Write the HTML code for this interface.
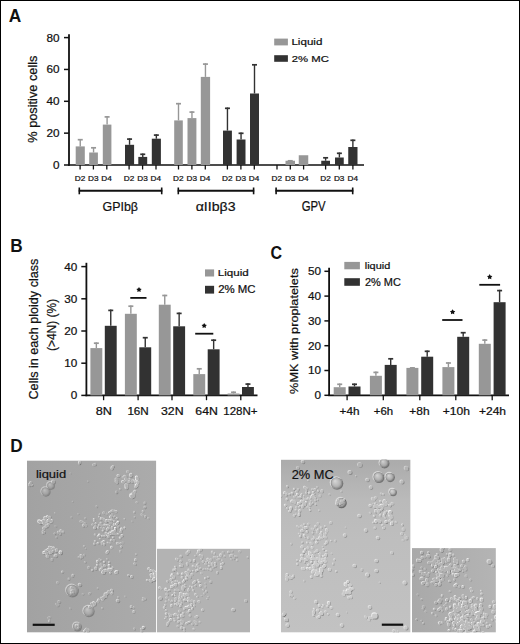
<!DOCTYPE html>
<html><head><meta charset="utf-8"><style>
html,body{margin:0;padding:0;background:#fff;}
body{width:520px;height:644px;overflow:hidden;position:relative;}
.frame{position:absolute;left:0;top:0;width:518px;height:642px;border:1px solid #000;}
svg{position:absolute;left:0;top:0;}
text{font-family:"Liberation Sans",sans-serif;}
</style></head><body>
<svg width="520" height="644" viewBox="0 0 520 644">
<defs><radialGradient id="sph" cx="0.5" cy="0.5" r="0.5" fx="0.35" fy="0.3"><stop offset="0" stop-color="#fff" stop-opacity="0.45"/><stop offset="0.55" stop-color="#fff" stop-opacity="0.05"/><stop offset="0.8" stop-color="#000" stop-opacity="0.08"/><stop offset="1" stop-color="#000" stop-opacity="0.3"/></radialGradient><filter id="soft" x="-5%" y="-5%" width="110%" height="110%"><feGaussianBlur stdDeviation="0.45"/></filter></defs>
<rect x="0" y="0" width="520" height="644" fill="#fff"/>
<text transform="translate(8.72,22.35) scale(0.956,1)" font-size="18.12" font-weight="bold" fill="#111">A</text>
<line x1="69.00" y1="34.30" x2="69.00" y2="165.80" stroke="#111" stroke-width="1.8"/>
<line x1="64.00" y1="165.00" x2="69.00" y2="165.00" stroke="#111" stroke-width="1.5"/>
<text transform="translate(52.99,168.96) scale(1.050,1)" font-size="11.20" stroke="#111" stroke-width="0.22" fill="#111">0</text>
<line x1="64.00" y1="133.15" x2="69.00" y2="133.15" stroke="#111" stroke-width="1.5"/>
<text transform="translate(46.47,137.11) scale(1.050,1)" font-size="11.20" stroke="#111" stroke-width="0.22" fill="#111">20</text>
<line x1="64.00" y1="101.30" x2="69.00" y2="101.30" stroke="#111" stroke-width="1.5"/>
<text transform="translate(46.47,105.26) scale(1.050,1)" font-size="11.20" stroke="#111" stroke-width="0.22" fill="#111">40</text>
<line x1="64.00" y1="69.45" x2="69.00" y2="69.45" stroke="#111" stroke-width="1.5"/>
<text transform="translate(46.47,73.41) scale(1.050,1)" font-size="11.20" stroke="#111" stroke-width="0.22" fill="#111">60</text>
<line x1="64.00" y1="37.60" x2="69.00" y2="37.60" stroke="#111" stroke-width="1.5"/>
<text transform="translate(46.47,41.56) scale(1.050,1)" font-size="11.20" stroke="#111" stroke-width="0.22" fill="#111">80</text>
<line x1="68.20" y1="165.00" x2="364.00" y2="165.00" stroke="#111" stroke-width="1.7"/>
<text transform="translate(36.79,142.70) rotate(-90) scale(1.046,1)" font-size="12.19" stroke="#111" stroke-width="0.22" fill="#111">% positive cells</text>
<rect x="75.70" y="146.40" width="9.10" height="18.60" fill="#979797"/>
<line x1="80.25" y1="146.40" x2="80.25" y2="138.90" stroke="#979797" stroke-width="1.4"/>
<line x1="77.75" y1="139.70" x2="82.75" y2="139.70" stroke="#979797" stroke-width="1.7"/>
<rect x="89.20" y="152.50" width="8.70" height="12.50" fill="#979797"/>
<line x1="93.55" y1="152.50" x2="93.55" y2="147.00" stroke="#979797" stroke-width="1.4"/>
<line x1="91.05" y1="147.80" x2="96.05" y2="147.80" stroke="#979797" stroke-width="1.7"/>
<rect x="102.80" y="124.60" width="8.60" height="40.40" fill="#979797"/>
<line x1="107.10" y1="124.60" x2="107.10" y2="116.10" stroke="#979797" stroke-width="1.4"/>
<line x1="104.60" y1="116.90" x2="109.60" y2="116.90" stroke="#979797" stroke-width="1.7"/>
<rect x="125.00" y="144.80" width="9.10" height="20.20" fill="#323232"/>
<line x1="129.55" y1="144.80" x2="129.55" y2="138.30" stroke="#323232" stroke-width="1.4"/>
<line x1="127.05" y1="139.10" x2="132.05" y2="139.10" stroke="#323232" stroke-width="1.7"/>
<rect x="138.30" y="156.90" width="8.90" height="8.10" fill="#323232"/>
<line x1="142.75" y1="156.90" x2="142.75" y2="153.50" stroke="#323232" stroke-width="1.4"/>
<line x1="140.25" y1="154.30" x2="145.25" y2="154.30" stroke="#323232" stroke-width="1.7"/>
<rect x="151.80" y="138.70" width="9.10" height="26.30" fill="#323232"/>
<line x1="156.35" y1="138.70" x2="156.35" y2="134.30" stroke="#323232" stroke-width="1.4"/>
<line x1="153.85" y1="135.10" x2="158.85" y2="135.10" stroke="#323232" stroke-width="1.7"/>
<rect x="174.20" y="120.40" width="8.60" height="44.60" fill="#979797"/>
<line x1="178.50" y1="120.40" x2="178.50" y2="102.90" stroke="#979797" stroke-width="1.4"/>
<line x1="176.00" y1="103.70" x2="181.00" y2="103.70" stroke="#979797" stroke-width="1.7"/>
<rect x="187.50" y="118.10" width="8.90" height="46.90" fill="#979797"/>
<line x1="191.95" y1="118.10" x2="191.95" y2="111.30" stroke="#979797" stroke-width="1.4"/>
<line x1="189.45" y1="112.10" x2="194.45" y2="112.10" stroke="#979797" stroke-width="1.7"/>
<rect x="200.80" y="76.90" width="9.30" height="88.10" fill="#979797"/>
<line x1="205.45" y1="76.90" x2="205.45" y2="63.30" stroke="#979797" stroke-width="1.4"/>
<line x1="202.95" y1="64.10" x2="207.95" y2="64.10" stroke="#979797" stroke-width="1.7"/>
<rect x="223.00" y="130.60" width="8.90" height="34.40" fill="#323232"/>
<line x1="227.45" y1="130.60" x2="227.45" y2="107.50" stroke="#323232" stroke-width="1.4"/>
<line x1="224.95" y1="108.30" x2="229.95" y2="108.30" stroke="#323232" stroke-width="1.7"/>
<rect x="236.60" y="139.50" width="8.90" height="25.50" fill="#323232"/>
<line x1="241.05" y1="139.50" x2="241.05" y2="132.50" stroke="#323232" stroke-width="1.4"/>
<line x1="238.55" y1="133.30" x2="243.55" y2="133.30" stroke="#323232" stroke-width="1.7"/>
<rect x="250.00" y="93.50" width="9.00" height="71.50" fill="#323232"/>
<line x1="254.50" y1="93.50" x2="254.50" y2="64.00" stroke="#323232" stroke-width="1.4"/>
<line x1="252.00" y1="64.80" x2="257.00" y2="64.80" stroke="#323232" stroke-width="1.7"/>
<rect x="285.50" y="160.75" width="9.50" height="4.25" fill="#979797"/>
<line x1="290.25" y1="160.75" x2="290.25" y2="160.00" stroke="#979797" stroke-width="1.4"/>
<line x1="287.75" y1="160.80" x2="292.75" y2="160.80" stroke="#979797" stroke-width="1.7"/>
<rect x="298.75" y="155.25" width="9.50" height="9.75" fill="#979797"/>
<rect x="321.25" y="160.75" width="8.75" height="4.25" fill="#323232"/>
<line x1="325.62" y1="160.75" x2="325.62" y2="157.00" stroke="#323232" stroke-width="1.4"/>
<line x1="323.12" y1="157.80" x2="328.12" y2="157.80" stroke="#323232" stroke-width="1.7"/>
<rect x="335.00" y="157.50" width="8.75" height="7.50" fill="#323232"/>
<line x1="339.38" y1="157.50" x2="339.38" y2="152.50" stroke="#323232" stroke-width="1.4"/>
<line x1="336.88" y1="153.30" x2="341.88" y2="153.30" stroke="#323232" stroke-width="1.7"/>
<rect x="348.25" y="147.00" width="9.25" height="18.00" fill="#323232"/>
<line x1="352.88" y1="147.00" x2="352.88" y2="139.50" stroke="#323232" stroke-width="1.4"/>
<line x1="350.38" y1="140.30" x2="355.38" y2="140.30" stroke="#323232" stroke-width="1.7"/>
<line x1="80.10" y1="165.00" x2="80.10" y2="169.50" stroke="#111" stroke-width="1.3"/>
<text transform="translate(74.72,180.90) scale(1.100,1)" font-size="7.50" stroke="#111" stroke-width="0.22" fill="#111">D2</text>
<line x1="93.40" y1="165.00" x2="93.40" y2="169.50" stroke="#111" stroke-width="1.3"/>
<text transform="translate(88.00,180.90) scale(1.100,1)" font-size="7.50" stroke="#111" stroke-width="0.22" fill="#111">D3</text>
<line x1="106.80" y1="165.00" x2="106.80" y2="169.50" stroke="#111" stroke-width="1.3"/>
<text transform="translate(101.33,180.90) scale(1.100,1)" font-size="7.50" stroke="#111" stroke-width="0.22" fill="#111">D4</text>
<line x1="129.10" y1="165.00" x2="129.10" y2="169.50" stroke="#111" stroke-width="1.3"/>
<text transform="translate(123.72,180.90) scale(1.100,1)" font-size="7.50" stroke="#111" stroke-width="0.22" fill="#111">D2</text>
<line x1="142.60" y1="165.00" x2="142.60" y2="169.50" stroke="#111" stroke-width="1.3"/>
<text transform="translate(137.20,180.90) scale(1.100,1)" font-size="7.50" stroke="#111" stroke-width="0.22" fill="#111">D3</text>
<line x1="156.00" y1="165.00" x2="156.00" y2="169.50" stroke="#111" stroke-width="1.3"/>
<text transform="translate(150.53,180.90) scale(1.100,1)" font-size="7.50" stroke="#111" stroke-width="0.22" fill="#111">D4</text>
<line x1="178.50" y1="165.00" x2="178.50" y2="169.50" stroke="#111" stroke-width="1.3"/>
<text transform="translate(173.12,180.90) scale(1.100,1)" font-size="7.50" stroke="#111" stroke-width="0.22" fill="#111">D2</text>
<line x1="191.90" y1="165.00" x2="191.90" y2="169.50" stroke="#111" stroke-width="1.3"/>
<text transform="translate(186.50,180.90) scale(1.100,1)" font-size="7.50" stroke="#111" stroke-width="0.22" fill="#111">D3</text>
<line x1="205.30" y1="165.00" x2="205.30" y2="169.50" stroke="#111" stroke-width="1.3"/>
<text transform="translate(199.83,180.90) scale(1.100,1)" font-size="7.50" stroke="#111" stroke-width="0.22" fill="#111">D4</text>
<line x1="227.40" y1="165.00" x2="227.40" y2="169.50" stroke="#111" stroke-width="1.3"/>
<text transform="translate(222.02,180.90) scale(1.100,1)" font-size="7.50" stroke="#111" stroke-width="0.22" fill="#111">D2</text>
<line x1="240.90" y1="165.00" x2="240.90" y2="169.50" stroke="#111" stroke-width="1.3"/>
<text transform="translate(235.50,180.90) scale(1.100,1)" font-size="7.50" stroke="#111" stroke-width="0.22" fill="#111">D3</text>
<line x1="254.30" y1="165.00" x2="254.30" y2="169.50" stroke="#111" stroke-width="1.3"/>
<text transform="translate(248.83,180.90) scale(1.100,1)" font-size="7.50" stroke="#111" stroke-width="0.22" fill="#111">D4</text>
<line x1="277.00" y1="165.00" x2="277.00" y2="169.50" stroke="#111" stroke-width="1.3"/>
<text transform="translate(271.62,180.90) scale(1.100,1)" font-size="7.50" stroke="#111" stroke-width="0.22" fill="#111">D2</text>
<line x1="290.30" y1="165.00" x2="290.30" y2="169.50" stroke="#111" stroke-width="1.3"/>
<text transform="translate(284.90,180.90) scale(1.100,1)" font-size="7.50" stroke="#111" stroke-width="0.22" fill="#111">D3</text>
<line x1="303.60" y1="165.00" x2="303.60" y2="169.50" stroke="#111" stroke-width="1.3"/>
<text transform="translate(298.13,180.90) scale(1.100,1)" font-size="7.50" stroke="#111" stroke-width="0.22" fill="#111">D4</text>
<line x1="325.60" y1="165.00" x2="325.60" y2="169.50" stroke="#111" stroke-width="1.3"/>
<text transform="translate(320.22,180.90) scale(1.100,1)" font-size="7.50" stroke="#111" stroke-width="0.22" fill="#111">D2</text>
<line x1="339.30" y1="165.00" x2="339.30" y2="169.50" stroke="#111" stroke-width="1.3"/>
<text transform="translate(333.90,180.90) scale(1.100,1)" font-size="7.50" stroke="#111" stroke-width="0.22" fill="#111">D3</text>
<line x1="352.90" y1="165.00" x2="352.90" y2="169.50" stroke="#111" stroke-width="1.3"/>
<text transform="translate(347.43,180.90) scale(1.100,1)" font-size="7.50" stroke="#111" stroke-width="0.22" fill="#111">D4</text>
<line x1="78.70" y1="190.80" x2="162.30" y2="190.80" stroke="#111" stroke-width="1.9"/>
<line x1="79.30" y1="187.50" x2="79.30" y2="194.30" stroke="#111" stroke-width="1.6"/>
<line x1="161.70" y1="187.50" x2="161.70" y2="194.30" stroke="#111" stroke-width="1.6"/>
<text transform="translate(102.53,211.20) scale(0.916,1)" font-size="13.59" stroke="#111" stroke-width="0.22" fill="#111">GPIbβ</text>
<line x1="177.70" y1="190.80" x2="254.20" y2="190.80" stroke="#111" stroke-width="1.9"/>
<line x1="178.30" y1="187.50" x2="178.30" y2="194.30" stroke="#111" stroke-width="1.6"/>
<line x1="253.60" y1="187.50" x2="253.60" y2="194.30" stroke="#111" stroke-width="1.6"/>
<text transform="translate(195.68,211.20) scale(1.041,1)" font-size="13.59" stroke="#111" stroke-width="0.22" fill="#111">αIIbβ3</text>
<line x1="275.50" y1="190.80" x2="353.30" y2="190.80" stroke="#111" stroke-width="1.9"/>
<line x1="276.10" y1="187.50" x2="276.10" y2="194.30" stroke="#111" stroke-width="1.6"/>
<line x1="352.70" y1="187.50" x2="352.70" y2="194.30" stroke="#111" stroke-width="1.6"/>
<text transform="translate(301.68,211.20) scale(0.806,1)" font-size="14.07" stroke="#111" stroke-width="0.22" fill="#111">GPV</text>
<rect x="274.20" y="38.60" width="13.70" height="6.80" fill="#979797"/>
<text transform="translate(291.42,45.00) scale(1.193,1)" font-size="9.72" stroke="#111" stroke-width="0.22" fill="#111">Liquid</text>
<rect x="274.20" y="55.20" width="13.70" height="6.60" fill="#323232"/>
<text transform="translate(291.78,61.70) scale(1.175,1)" font-size="9.64" stroke="#111" stroke-width="0.22" fill="#111">2% MC</text>
<text transform="translate(10.13,251.50) scale(0.950,1)" font-size="18.12" font-weight="bold" fill="#111">B</text>
<line x1="86.40" y1="262.80" x2="86.40" y2="396.20" stroke="#111" stroke-width="1.8"/>
<line x1="81.30" y1="395.40" x2="86.40" y2="395.40" stroke="#111" stroke-width="1.5"/>
<text transform="translate(70.69,399.36) scale(1.050,1)" font-size="11.20" stroke="#111" stroke-width="0.22" fill="#111">0</text>
<line x1="81.30" y1="363.20" x2="86.40" y2="363.20" stroke="#111" stroke-width="1.5"/>
<text transform="translate(64.17,367.16) scale(1.050,1)" font-size="11.20" stroke="#111" stroke-width="0.22" fill="#111">10</text>
<line x1="81.30" y1="331.00" x2="86.40" y2="331.00" stroke="#111" stroke-width="1.5"/>
<text transform="translate(64.17,334.96) scale(1.050,1)" font-size="11.20" stroke="#111" stroke-width="0.22" fill="#111">20</text>
<line x1="81.30" y1="298.80" x2="86.40" y2="298.80" stroke="#111" stroke-width="1.5"/>
<text transform="translate(64.17,302.76) scale(1.050,1)" font-size="11.20" stroke="#111" stroke-width="0.22" fill="#111">30</text>
<line x1="81.30" y1="266.60" x2="86.40" y2="266.60" stroke="#111" stroke-width="1.5"/>
<text transform="translate(64.17,270.56) scale(1.050,1)" font-size="11.20" stroke="#111" stroke-width="0.22" fill="#111">40</text>
<line x1="85.60" y1="395.40" x2="257.50" y2="395.40" stroke="#111" stroke-width="1.7"/>
<text transform="translate(37.68,399.48) rotate(-90) scale(0.992,1)" font-size="12.73" stroke="#111" stroke-width="0.22" fill="#111">Cells in each ploidy class</text>
<text transform="translate(56.20,351.07) rotate(-90) scale(0.884,1)" font-size="13.58" stroke="#111" stroke-width="0.22" fill="#111">(&gt;4N) (%)</text>
<rect x="90.40" y="348.10" width="11.90" height="47.30" fill="#979797"/>
<line x1="96.35" y1="348.10" x2="96.35" y2="342.40" stroke="#979797" stroke-width="1.4"/>
<line x1="93.85" y1="343.20" x2="98.85" y2="343.20" stroke="#979797" stroke-width="1.7"/>
<rect x="104.80" y="325.80" width="11.90" height="69.60" fill="#323232"/>
<line x1="110.75" y1="325.80" x2="110.75" y2="309.60" stroke="#323232" stroke-width="1.4"/>
<line x1="108.25" y1="310.40" x2="113.25" y2="310.40" stroke="#323232" stroke-width="1.7"/>
<line x1="103.60" y1="395.40" x2="103.60" y2="400.20" stroke="#111" stroke-width="1.3"/>
<text transform="translate(95.68,415.00) scale(1.193,1)" font-size="10.64" stroke="#111" stroke-width="0.22" fill="#111">8N</text>
<rect x="124.90" y="313.80" width="11.90" height="81.60" fill="#979797"/>
<line x1="130.85" y1="313.80" x2="130.85" y2="305.40" stroke="#979797" stroke-width="1.4"/>
<line x1="128.35" y1="306.20" x2="133.35" y2="306.20" stroke="#979797" stroke-width="1.7"/>
<rect x="139.30" y="347.30" width="11.90" height="48.10" fill="#323232"/>
<line x1="145.25" y1="347.30" x2="145.25" y2="336.90" stroke="#323232" stroke-width="1.4"/>
<line x1="142.75" y1="337.70" x2="147.75" y2="337.70" stroke="#323232" stroke-width="1.7"/>
<line x1="138.10" y1="395.40" x2="138.10" y2="400.20" stroke="#111" stroke-width="1.3"/>
<text transform="translate(127.38,415.00) scale(1.094,1)" font-size="10.64" stroke="#111" stroke-width="0.22" fill="#111">16N</text>
<rect x="158.80" y="304.70" width="11.90" height="90.70" fill="#979797"/>
<line x1="164.75" y1="304.70" x2="164.75" y2="294.70" stroke="#979797" stroke-width="1.4"/>
<line x1="162.25" y1="295.50" x2="167.25" y2="295.50" stroke="#979797" stroke-width="1.7"/>
<rect x="173.20" y="326.30" width="11.90" height="69.10" fill="#323232"/>
<line x1="179.15" y1="326.30" x2="179.15" y2="312.60" stroke="#323232" stroke-width="1.4"/>
<line x1="176.65" y1="313.40" x2="181.65" y2="313.40" stroke="#323232" stroke-width="1.7"/>
<line x1="172.00" y1="395.40" x2="172.00" y2="400.20" stroke="#111" stroke-width="1.3"/>
<text transform="translate(160.96,415.00) scale(1.159,1)" font-size="10.64" stroke="#111" stroke-width="0.22" fill="#111">32N</text>
<rect x="193.30" y="374.10" width="11.90" height="21.30" fill="#979797"/>
<line x1="199.25" y1="374.10" x2="199.25" y2="368.00" stroke="#979797" stroke-width="1.4"/>
<line x1="196.75" y1="368.80" x2="201.75" y2="368.80" stroke="#979797" stroke-width="1.7"/>
<rect x="207.70" y="349.30" width="11.90" height="46.10" fill="#323232"/>
<line x1="213.65" y1="349.30" x2="213.65" y2="339.40" stroke="#323232" stroke-width="1.4"/>
<line x1="211.15" y1="340.20" x2="216.15" y2="340.20" stroke="#323232" stroke-width="1.7"/>
<line x1="206.50" y1="395.40" x2="206.50" y2="400.20" stroke="#111" stroke-width="1.3"/>
<text transform="translate(195.34,415.00) scale(1.155,1)" font-size="10.64" stroke="#111" stroke-width="0.22" fill="#111">64N</text>
<rect x="227.60" y="393.50" width="11.90" height="1.90" fill="#979797"/>
<line x1="233.55" y1="393.50" x2="233.55" y2="391.50" stroke="#979797" stroke-width="1.4"/>
<line x1="231.05" y1="392.30" x2="236.05" y2="392.30" stroke="#979797" stroke-width="1.7"/>
<rect x="242.00" y="387.00" width="11.90" height="8.40" fill="#323232"/>
<line x1="247.95" y1="387.00" x2="247.95" y2="383.30" stroke="#323232" stroke-width="1.4"/>
<line x1="245.45" y1="384.10" x2="250.45" y2="384.10" stroke="#323232" stroke-width="1.7"/>
<line x1="240.80" y1="395.40" x2="240.80" y2="400.20" stroke="#111" stroke-width="1.3"/>
<text transform="translate(223.28,415.00) scale(1.085,1)" font-size="10.64" stroke="#111" stroke-width="0.22" fill="#111">128N+</text>
<line x1="130.30" y1="297.90" x2="146.50" y2="297.90" stroke="#111" stroke-width="1.8"/>
<polygon points="139.00,287.00 139.91,288.55 141.66,288.93 140.46,290.28 140.65,292.07 139.00,291.34 137.35,292.07 137.54,290.28 136.34,288.93 138.09,288.55" fill="#111"/>
<line x1="195.20" y1="333.70" x2="213.30" y2="333.70" stroke="#111" stroke-width="1.8"/>
<polygon points="204.20,323.00 205.11,324.55 206.86,324.93 205.66,326.28 205.85,328.07 204.20,327.34 202.55,328.07 202.74,326.28 201.54,324.93 203.29,324.55" fill="#111"/>
<rect x="205.00" y="269.40" width="9.10" height="7.10" fill="#979797"/>
<text transform="translate(217.82,276.00) scale(1.177,1)" font-size="9.86" stroke="#111" stroke-width="0.22" fill="#111">Liquid</text>
<rect x="205.00" y="285.80" width="9.10" height="7.80" fill="#323232"/>
<text transform="translate(218.18,292.70) scale(1.119,1)" font-size="10.21" stroke="#111" stroke-width="0.22" fill="#111">2% MC</text>
<text transform="translate(270.61,258.82) scale(0.886,1)" font-size="18.10" font-weight="bold" fill="#111">C</text>
<line x1="329.10" y1="267.80" x2="329.10" y2="396.10" stroke="#111" stroke-width="1.8"/>
<line x1="324.40" y1="395.30" x2="329.10" y2="395.30" stroke="#111" stroke-width="1.5"/>
<text transform="translate(314.59,399.26) scale(1.050,1)" font-size="11.20" stroke="#111" stroke-width="0.22" fill="#111">0</text>
<line x1="324.40" y1="370.50" x2="329.10" y2="370.50" stroke="#111" stroke-width="1.5"/>
<text transform="translate(308.07,374.46) scale(1.050,1)" font-size="11.20" stroke="#111" stroke-width="0.22" fill="#111">10</text>
<line x1="324.40" y1="345.70" x2="329.10" y2="345.70" stroke="#111" stroke-width="1.5"/>
<text transform="translate(308.07,349.66) scale(1.050,1)" font-size="11.20" stroke="#111" stroke-width="0.22" fill="#111">20</text>
<line x1="324.40" y1="320.90" x2="329.10" y2="320.90" stroke="#111" stroke-width="1.5"/>
<text transform="translate(308.07,324.86) scale(1.050,1)" font-size="11.20" stroke="#111" stroke-width="0.22" fill="#111">30</text>
<line x1="324.40" y1="296.10" x2="329.10" y2="296.10" stroke="#111" stroke-width="1.5"/>
<text transform="translate(308.07,300.06) scale(1.050,1)" font-size="11.20" stroke="#111" stroke-width="0.22" fill="#111">40</text>
<line x1="324.40" y1="271.30" x2="329.10" y2="271.30" stroke="#111" stroke-width="1.5"/>
<text transform="translate(308.07,275.26) scale(1.050,1)" font-size="11.20" stroke="#111" stroke-width="0.22" fill="#111">50</text>
<line x1="328.30" y1="395.30" x2="509.00" y2="395.30" stroke="#111" stroke-width="1.7"/>
<text transform="translate(297.91,393.89) rotate(-90) scale(1.143,1)" font-size="11.12" stroke="#111" stroke-width="0.22" fill="#111">%MK with proplatelets</text>
<rect x="333.70" y="387.20" width="12.00" height="8.10" fill="#979797"/>
<line x1="339.70" y1="387.20" x2="339.70" y2="383.50" stroke="#979797" stroke-width="1.4"/>
<line x1="337.20" y1="384.30" x2="342.20" y2="384.30" stroke="#979797" stroke-width="1.7"/>
<rect x="348.50" y="386.50" width="12.00" height="8.80" fill="#323232"/>
<line x1="354.50" y1="386.50" x2="354.50" y2="383.50" stroke="#323232" stroke-width="1.4"/>
<line x1="352.00" y1="384.30" x2="357.00" y2="384.30" stroke="#323232" stroke-width="1.7"/>
<line x1="347.10" y1="395.30" x2="347.10" y2="400.30" stroke="#111" stroke-width="1.3"/>
<text transform="translate(339.56,414.90) scale(1.161,1)" font-size="10.14" stroke="#111" stroke-width="0.22" fill="#111">+4h</text>
<rect x="369.90" y="375.80" width="12.00" height="19.50" fill="#979797"/>
<line x1="375.90" y1="375.80" x2="375.90" y2="371.60" stroke="#979797" stroke-width="1.4"/>
<line x1="373.40" y1="372.40" x2="378.40" y2="372.40" stroke="#979797" stroke-width="1.7"/>
<rect x="384.70" y="364.90" width="12.00" height="30.40" fill="#323232"/>
<line x1="390.70" y1="364.90" x2="390.70" y2="358.00" stroke="#323232" stroke-width="1.4"/>
<line x1="388.20" y1="358.80" x2="393.20" y2="358.80" stroke="#323232" stroke-width="1.7"/>
<line x1="383.30" y1="395.30" x2="383.30" y2="400.30" stroke="#111" stroke-width="1.3"/>
<text transform="translate(373.78,414.90) scale(1.124,1)" font-size="10.14" stroke="#111" stroke-width="0.22" fill="#111">+6h</text>
<rect x="406.40" y="367.90" width="12.00" height="27.40" fill="#979797"/>
<line x1="412.40" y1="367.90" x2="412.40" y2="367.10" stroke="#979797" stroke-width="1.4"/>
<line x1="409.90" y1="367.90" x2="414.90" y2="367.90" stroke="#979797" stroke-width="1.7"/>
<rect x="421.20" y="356.70" width="12.00" height="38.60" fill="#323232"/>
<line x1="427.20" y1="356.70" x2="427.20" y2="350.50" stroke="#323232" stroke-width="1.4"/>
<line x1="424.70" y1="351.30" x2="429.70" y2="351.30" stroke="#323232" stroke-width="1.7"/>
<line x1="419.80" y1="395.30" x2="419.80" y2="400.30" stroke="#111" stroke-width="1.3"/>
<text transform="translate(409.35,414.90) scale(1.180,1)" font-size="10.14" stroke="#111" stroke-width="0.22" fill="#111">+8h</text>
<rect x="442.40" y="367.10" width="12.00" height="28.20" fill="#979797"/>
<line x1="448.40" y1="367.10" x2="448.40" y2="362.20" stroke="#979797" stroke-width="1.4"/>
<line x1="445.90" y1="363.00" x2="450.90" y2="363.00" stroke="#979797" stroke-width="1.7"/>
<rect x="457.20" y="336.80" width="12.00" height="58.50" fill="#323232"/>
<line x1="463.20" y1="336.80" x2="463.20" y2="331.90" stroke="#323232" stroke-width="1.4"/>
<line x1="460.70" y1="332.70" x2="465.70" y2="332.70" stroke="#323232" stroke-width="1.7"/>
<line x1="455.80" y1="395.30" x2="455.80" y2="400.30" stroke="#111" stroke-width="1.3"/>
<text transform="translate(442.75,414.90) scale(1.192,1)" font-size="10.14" stroke="#111" stroke-width="0.22" fill="#111">+10h</text>
<rect x="478.80" y="343.80" width="12.00" height="51.50" fill="#979797"/>
<line x1="484.80" y1="343.80" x2="484.80" y2="339.30" stroke="#979797" stroke-width="1.4"/>
<line x1="482.30" y1="340.10" x2="487.30" y2="340.10" stroke="#979797" stroke-width="1.7"/>
<rect x="493.60" y="302.20" width="12.00" height="93.10" fill="#323232"/>
<line x1="499.60" y1="302.20" x2="499.60" y2="289.80" stroke="#323232" stroke-width="1.4"/>
<line x1="497.10" y1="290.60" x2="502.10" y2="290.60" stroke="#323232" stroke-width="1.7"/>
<line x1="492.20" y1="395.30" x2="492.20" y2="400.30" stroke="#111" stroke-width="1.3"/>
<text transform="translate(478.95,414.90) scale(1.187,1)" font-size="10.14" stroke="#111" stroke-width="0.22" fill="#111">+24h</text>
<line x1="442.20" y1="320.00" x2="462.50" y2="320.00" stroke="#111" stroke-width="1.8"/>
<polygon points="452.60,309.20 453.51,310.75 455.26,311.13 454.06,312.48 454.25,314.27 452.60,313.54 450.95,314.27 451.14,312.48 449.94,311.13 451.69,310.75" fill="#111"/>
<line x1="479.30" y1="284.80" x2="500.10" y2="284.80" stroke="#111" stroke-width="1.8"/>
<polygon points="489.70,274.10 490.61,275.65 492.36,276.03 491.16,277.38 491.35,279.17 489.70,278.44 488.05,279.17 488.24,277.38 487.04,276.03 488.79,275.65" fill="#111"/>
<rect x="344.30" y="261.90" width="15.60" height="7.40" fill="#979797"/>
<text transform="translate(364.74,268.60) scale(1.108,1)" font-size="9.86" stroke="#111" stroke-width="0.22" fill="#111">liquid</text>
<rect x="344.30" y="278.20" width="15.60" height="7.60" fill="#323232"/>
<text transform="translate(364.90,285.70) scale(1.016,1)" font-size="10.79" stroke="#111" stroke-width="0.22" fill="#111">2% MC</text>
<text transform="translate(10.13,451.75) scale(0.951,1)" font-size="18.12" font-weight="bold" fill="#111">D</text>
<clipPath id="cp1"><rect x="26.9" y="460.4" width="129.40" height="172.20"/></clipPath>
<g clip-path="url(#cp1)">
<linearGradient id="lg1" gradientUnits="userSpaceOnUse" x1="26.9" y1="0" x2="156.3" y2="0"><stop offset="0.000" stop-color="#a2a2a2"/><stop offset="1.000" stop-color="#ababab"/></linearGradient>
<rect x="26.9" y="460.4" width="129.40" height="172.20" fill="url(#lg1)"/>
<g filter="url(#soft)">
<circle cx="46.1" cy="492.1" r="4.6" fill="#383838" fill-opacity="0.30"/>
<circle cx="44.9" cy="490.9" r="4.6" fill="#ffffff" fill-opacity="0.40"/>
<circle cx="45.5" cy="491.5" r="4.0" fill="#a7a7a7"/>
<circle cx="45.5" cy="491.5" r="4.0" fill="url(#sph)" opacity="0.60"/>
<circle cx="51.1" cy="486.1" r="3.8" fill="#383838" fill-opacity="0.30"/>
<circle cx="49.9" cy="484.9" r="3.8" fill="#ffffff" fill-opacity="0.40"/>
<circle cx="50.5" cy="485.5" r="3.2" fill="#a8a8a8"/>
<circle cx="50.5" cy="485.5" r="3.2" fill="url(#sph)" opacity="0.60"/>
<circle cx="72.6" cy="591.1" r="6.3" fill="#383838" fill-opacity="0.35"/>
<circle cx="71.4" cy="589.9" r="6.3" fill="#ffffff" fill-opacity="0.45"/>
<circle cx="72.0" cy="590.5" r="5.7" fill="#ababab"/>
<circle cx="72.0" cy="590.5" r="5.7" fill="url(#sph)" opacity="0.70"/>
<circle cx="89.1" cy="611.6" r="5.6" fill="#383838" fill-opacity="0.35"/>
<circle cx="87.9" cy="610.4" r="5.6" fill="#ffffff" fill-opacity="0.45"/>
<circle cx="88.5" cy="611.0" r="5.0" fill="#acacac"/>
<circle cx="88.5" cy="611.0" r="5.0" fill="url(#sph)" opacity="0.70"/>
<circle cx="77.6" cy="627.1" r="4.4" fill="#383838" fill-opacity="0.35"/>
<circle cx="76.4" cy="625.9" r="4.4" fill="#ffffff" fill-opacity="0.45"/>
<circle cx="77.0" cy="626.5" r="3.8" fill="#ababab"/>
<circle cx="77.0" cy="626.5" r="3.8" fill="url(#sph)" opacity="0.70"/>
<path fill="#404040" fill-opacity="0.1" d="M124.8 597.2a.8 .8 0 1 0 1.7 0a.8 .8 0 1 0 -1.7 0M54.8 513.7a.6 .6 0 1 0 1.3 0a.6 .6 0 1 0 -1.3 0M88.1 630.7a1 1 0 1 0 1.9 0a1 1 0 1 0 -1.9 0M119.9 552a.9 .9 0 1 0 1.7 0a.9 .9 0 1 0 -1.7 0M85.1 518.9a.9 .9 0 1 0 1.7 0a.9 .9 0 1 0 -1.7 0M49.9 474.4a.6 .6 0 1 0 1.2 0a.6 .6 0 1 0 -1.2 0"/>
<path fill="#404040" fill-opacity="0.2" d="M48.4 520.6a1.6 1.6 0 1 0 3.2 0a1.6 1.6 0 1 0 -3.2 0M42.4 521.6a1.3 1.3 0 1 0 2.5 0a1.3 1.3 0 1 0 -2.5 0M50.1 521.8a1.7 1.7 0 1 0 3.3 0a1.7 1.7 0 1 0 -3.3 0M47.2 526.2a1.2 1.2 0 1 0 2.4 0a1.2 1.2 0 1 0 -2.4 0M44.2 518.7a1.8 1.8 0 1 0 3.6 0a1.8 1.8 0 1 0 -3.6 0M46.8 517.2a1.2 1.2 0 1 0 2.4 0a1.2 1.2 0 1 0 -2.4 0M43.2 529a1.4 1.4 0 1 0 2.7 0a1.4 1.4 0 1 0 -2.7 0M47.6 524.8a1.3 1.3 0 1 0 2.6 0a1.3 1.3 0 1 0 -2.6 0M38.6 522.6a1.8 1.8 0 1 0 3.6 0a1.8 1.8 0 1 0 -3.6 0M62.3 532.7a1.3 1.3 0 1 0 2.6 0a1.3 1.3 0 1 0 -2.6 0M122.6 482.7a1.3 1.3 0 1 0 2.5 0a1.3 1.3 0 1 0 -2.5 0M124.8 479.5a1.6 1.6 0 1 0 3.3 0a1.6 1.6 0 1 0 -3.3 0M133.3 481.6a1 1 0 1 0 1.9 0a1 1 0 1 0 -1.9 0M137.2 483a1.4 1.4 0 1 0 2.7 0a1.4 1.4 0 1 0 -2.7 0M135.6 486a1.8 1.8 0 1 0 3.6 0a1.8 1.8 0 1 0 -3.6 0M134.1 492a1.3 1.3 0 1 0 2.7 0a1.3 1.3 0 1 0 -2.7 0M130.3 496.4a1.7 1.7 0 1 0 3.3 0a1.7 1.7 0 1 0 -3.3 0M136.3 503a1 1 0 1 0 2 0a1 1 0 1 0 -2 0M132.3 493.8a1.2 1.2 0 1 0 2.5 0a1.2 1.2 0 1 0 -2.5 0M132.9 495.2a1.4 1.4 0 1 0 2.7 0a1.4 1.4 0 1 0 -2.7 0M142.1 516.2a1.1 1.1 0 1 0 2.2 0a1.1 1.1 0 1 0 -2.2 0M142.5 511.7a.9 .9 0 1 0 1.8 0a.9 .9 0 1 0 -1.8 0M148.1 518.8a1 1 0 1 0 2 0a1 1 0 1 0 -2 0M141.3 515.2a.9 .9 0 1 0 1.7 0a.9 .9 0 1 0 -1.7 0M134.1 512.8a.9 .9 0 1 0 1.7 0a.9 .9 0 1 0 -1.7 0M142.6 512.4a.8 .8 0 1 0 1.7 0a.8 .8 0 1 0 -1.7 0M109.1 521.1a1 1 0 1 0 2.1 0a1 1 0 1 0 -2.1 0M107.1 529.4a1.2 1.2 0 1 0 2.4 0a1.2 1.2 0 1 0 -2.4 0M94.6 535.3a1 1 0 1 0 2 0a1 1 0 1 0 -2 0M115.6 534.5a1 1 0 1 0 2.1 0a1 1 0 1 0 -2.1 0M101.5 543.5a1.1 1.1 0 1 0 2.2 0a1.1 1.1 0 1 0 -2.2 0M120.2 532.5a1.2 1.2 0 1 0 2.4 0a1.2 1.2 0 1 0 -2.4 0M114 532.5a1 1 0 1 0 1.9 0a1 1 0 1 0 -1.9 0M98.8 536.5a1.1 1.1 0 1 0 2.2 0a1.1 1.1 0 1 0 -2.2 0M102.2 519.3a.9 .9 0 1 0 1.8 0a.9 .9 0 1 0 -1.8 0M109.2 533.7a1.1 1.1 0 1 0 2.1 0a1.1 1.1 0 1 0 -2.1 0M103.7 520.4a.9 .9 0 1 0 1.8 0a.9 .9 0 1 0 -1.8 0M124.3 519.6a.7 .7 0 1 0 1.5 0a.7 .7 0 1 0 -1.5 0M97.7 537a.8 .8 0 1 0 1.5 0a.8 .8 0 1 0 -1.5 0M119.6 538.5a1.1 1.1 0 1 0 2.2 0a1.1 1.1 0 1 0 -2.2 0M110.6 541.1a.9 .9 0 1 0 1.8 0a.9 .9 0 1 0 -1.8 0M103.1 542.1a1.2 1.2 0 1 0 2.4 0a1.2 1.2 0 1 0 -2.4 0M105.4 533.9a1.3 1.3 0 1 0 2.6 0a1.3 1.3 0 1 0 -2.6 0M113.6 533.7a1.2 1.2 0 1 0 2.3 0a1.2 1.2 0 1 0 -2.3 0M106.4 514.5a.9 .9 0 1 0 1.8 0a.9 .9 0 1 0 -1.8 0M116.2 524.6a1.3 1.3 0 1 0 2.5 0a1.3 1.3 0 1 0 -2.5 0M113.7 525.6a1 1 0 1 0 1.9 0a1 1 0 1 0 -1.9 0M111.3 532.6a1.2 1.2 0 1 0 2.4 0a1.2 1.2 0 1 0 -2.4 0M104.9 526.1a1.2 1.2 0 1 0 2.4 0a1.2 1.2 0 1 0 -2.4 0M111.1 547.9a1.1 1.1 0 1 0 2.1 0a1.1 1.1 0 1 0 -2.1 0M94.4 527.9a1.3 1.3 0 1 0 2.5 0a1.3 1.3 0 1 0 -2.5 0M116.8 544.1a1.4 1.4 0 1 0 2.8 0a1.4 1.4 0 1 0 -2.8 0M111.1 540.9a.9 .9 0 1 0 1.8 0a.9 .9 0 1 0 -1.8 0M106.7 535.2a1.2 1.2 0 1 0 2.3 0a1.2 1.2 0 1 0 -2.3 0M117.3 534.8a1.1 1.1 0 1 0 2.2 0a1.1 1.1 0 1 0 -2.2 0M103.4 526.2a.8 .8 0 1 0 1.7 0a.8 .8 0 1 0 -1.7 0M111.1 520.6a1.1 1.1 0 1 0 2.1 0a1.1 1.1 0 1 0 -2.1 0M97.3 543.9a1.2 1.2 0 1 0 2.4 0a1.2 1.2 0 1 0 -2.4 0M107.5 543.3a.8 .8 0 1 0 1.6 0a.8 .8 0 1 0 -1.6 0M115.5 512.2a1.3 1.3 0 1 0 2.6 0a1.3 1.3 0 1 0 -2.6 0M93.6 519.7a.9 .9 0 1 0 1.8 0a.9 .9 0 1 0 -1.8 0M103 529.4a1.3 1.3 0 1 0 2.6 0a1.3 1.3 0 1 0 -2.6 0M115 534.5a1 1 0 1 0 2.1 0a1 1 0 1 0 -2.1 0M110.1 523.6a1.1 1.1 0 1 0 2.3 0a1.1 1.1 0 1 0 -2.3 0M95.4 524a.9 .9 0 1 0 1.9 0a.9 .9 0 1 0 -1.9 0M110.7 534a1.2 1.2 0 1 0 2.3 0a1.2 1.2 0 1 0 -2.3 0M94.6 541.9a1.1 1.1 0 1 0 2.2 0a1.1 1.1 0 1 0 -2.2 0M102.5 536.6a1 1 0 1 0 2 0a1 1 0 1 0 -2 0M111.5 515.5a1.1 1.1 0 1 0 2.3 0a1.1 1.1 0 1 0 -2.3 0M117.5 522.9a.9 .9 0 1 0 1.9 0a.9 .9 0 1 0 -1.9 0M120.3 544a.9 .9 0 1 0 1.8 0a.9 .9 0 1 0 -1.8 0M93.7 521.6a.8 .8 0 1 0 1.7 0a.8 .8 0 1 0 -1.7 0M109.1 528.6a.8 .8 0 1 0 1.7 0a.8 .8 0 1 0 -1.7 0M99.9 539.3a.8 .8 0 1 0 1.6 0a.8 .8 0 1 0 -1.6 0M97.8 528.3a1 1 0 1 0 2 0a1 1 0 1 0 -2 0M108.4 521.5a1.1 1.1 0 1 0 2.2 0a1.1 1.1 0 1 0 -2.2 0M47.3 550a1.2 1.2 0 1 0 2.4 0a1.2 1.2 0 1 0 -2.4 0M50.9 550.4a1.2 1.2 0 1 0 2.3 0a1.2 1.2 0 1 0 -2.3 0M59.5 553.1a1.6 1.6 0 1 0 3.1 0a1.6 1.6 0 1 0 -3.1 0M49.6 549.9a1 1 0 1 0 2 0a1 1 0 1 0 -2 0M46.5 557a1.6 1.6 0 1 0 3.2 0a1.6 1.6 0 1 0 -3.2 0M45.5 553.9a1.6 1.6 0 1 0 3.2 0a1.6 1.6 0 1 0 -3.2 0M49.6 552.9a1.6 1.6 0 1 0 3.1 0a1.6 1.6 0 1 0 -3.1 0M50.8 547.9a1.2 1.2 0 1 0 2.4 0a1.2 1.2 0 1 0 -2.4 0M47.6 550.4a1.4 1.4 0 1 0 2.8 0a1.4 1.4 0 1 0 -2.8 0M78.4 557.7a1 1 0 1 0 2 0a1 1 0 1 0 -2 0M96.7 565.7a1.1 1.1 0 1 0 2.2 0a1.1 1.1 0 1 0 -2.2 0M110.1 570.1a1.5 1.5 0 1 0 3 0a1.5 1.5 0 1 0 -3 0M107.1 571.9a1.1 1.1 0 1 0 2.3 0a1.1 1.1 0 1 0 -2.3 0M96.9 562a1.1 1.1 0 1 0 2.1 0a1.1 1.1 0 1 0 -2.1 0M100.4 565.5a1.1 1.1 0 1 0 2.2 0a1.1 1.1 0 1 0 -2.2 0M101.8 572.8a1.6 1.6 0 1 0 3.3 0a1.6 1.6 0 1 0 -3.3 0M109.3 570.2a1.1 1.1 0 1 0 2.2 0a1.1 1.1 0 1 0 -2.2 0M135 560.4a1.1 1.1 0 1 0 2.1 0a1.1 1.1 0 1 0 -2.1 0M70.9 592a1 1 0 1 0 1.9 0a1 1 0 1 0 -1.9 0M56.8 583.3a1.2 1.2 0 1 0 2.5 0a1.2 1.2 0 1 0 -2.5 0M55.8 604.7a1 1 0 1 0 2 0a1 1 0 1 0 -2 0M58.3 602.4a1.3 1.3 0 1 0 2.5 0a1.3 1.3 0 1 0 -2.5 0M88.7 607.6a1.3 1.3 0 1 0 2.6 0a1.3 1.3 0 1 0 -2.6 0M94.7 604.7a.9 .9 0 1 0 1.8 0a.9 .9 0 1 0 -1.8 0M97.6 602a1.2 1.2 0 1 0 2.5 0a1.2 1.2 0 1 0 -2.5 0M101.7 599.7a1.4 1.4 0 1 0 2.7 0a1.4 1.4 0 1 0 -2.7 0M100.6 598.5a.9 .9 0 1 0 1.8 0a.9 .9 0 1 0 -1.8 0M105.8 595.5a1.1 1.1 0 1 0 2.2 0a1.1 1.1 0 1 0 -2.2 0M110.9 590.9a1.3 1.3 0 1 0 2.7 0a1.3 1.3 0 1 0 -2.7 0M111 593.9a1.3 1.3 0 1 0 2.6 0a1.3 1.3 0 1 0 -2.6 0M133 608.2a1.1 1.1 0 1 0 2.2 0a1.1 1.1 0 1 0 -2.2 0M133.3 612.3a1.1 1.1 0 1 0 2.1 0a1.1 1.1 0 1 0 -2.1 0M142.5 600.8a1 1 0 1 0 2.1 0a1 1 0 1 0 -2.1 0M48.8 621.5a1.1 1.1 0 1 0 2.1 0a1.1 1.1 0 1 0 -2.1 0M49 618.1a1.2 1.2 0 1 0 2.4 0a1.2 1.2 0 1 0 -2.4 0M47.9 618.6a1.1 1.1 0 1 0 2.2 0a1.1 1.1 0 1 0 -2.2 0M140.8 629.6a1 1 0 1 0 2.1 0a1 1 0 1 0 -2.1 0M101.8 608.8a1 1 0 1 0 2.1 0a1 1 0 1 0 -2.1 0M72.6 502.2a.6 .6 0 1 0 1.2 0a.6 .6 0 1 0 -1.2 0M71.2 517.9a.9 .9 0 1 0 1.8 0a.9 .9 0 1 0 -1.8 0M70.3 474.1a.8 .8 0 1 0 1.6 0a.8 .8 0 1 0 -1.6 0M117.9 597.9a.8 .8 0 1 0 1.6 0a.8 .8 0 1 0 -1.6 0M51.5 560.3a1.1 1.1 0 1 0 2.1 0a1.1 1.1 0 1 0 -2.1 0M93.7 606.6a.7 .7 0 1 0 1.5 0a.7 .7 0 1 0 -1.5 0M119.8 489.7a.8 .8 0 1 0 1.7 0a.8 .8 0 1 0 -1.7 0M87.7 482.1a.8 .8 0 1 0 1.6 0a.8 .8 0 1 0 -1.6 0M82.4 594.8a1.1 1.1 0 1 0 2.2 0a1.1 1.1 0 1 0 -2.2 0M78 514.5a.8 .8 0 1 0 1.6 0a.8 .8 0 1 0 -1.6 0M89.3 594.2a.8 .8 0 1 0 1.5 0a.8 .8 0 1 0 -1.5 0M68.5 579.6a1 1 0 1 0 1.9 0a1 1 0 1 0 -1.9 0M135.8 555a.8 .8 0 1 0 1.7 0a.8 .8 0 1 0 -1.7 0M122.4 543.2a1 1 0 1 0 2 0a1 1 0 1 0 -2 0M101.8 545.1a.8 .8 0 1 0 1.7 0a.8 .8 0 1 0 -1.7 0M97.7 588.9a.7 .7 0 1 0 1.3 0a.7 .7 0 1 0 -1.3 0M106.7 559.6a.9 .9 0 1 0 1.8 0a.9 .9 0 1 0 -1.8 0M83.6 547a1 1 0 1 0 2.1 0a1 1 0 1 0 -2.1 0M96.4 507a.9 .9 0 1 0 1.7 0a.9 .9 0 1 0 -1.7 0M99.3 560a.9 .9 0 1 0 1.7 0a.9 .9 0 1 0 -1.7 0M90.5 593.7a.6 .6 0 1 0 1.3 0a.6 .6 0 1 0 -1.3 0M55.2 526.9a1 1 0 1 0 2.1 0a1 1 0 1 0 -2.1 0M85.6 549a.7 .7 0 1 0 1.4 0a.7 .7 0 1 0 -1.4 0M88.2 568.1a1.1 1.1 0 1 0 2.1 0a1.1 1.1 0 1 0 -2.1 0"/>
<path fill="#404040" fill-opacity="0.3" d="M52.1 482.6a2 2 0 1 0 4 0a2 2 0 1 0 -4 0M28.9 485.4a1.4 1.4 0 1 0 2.7 0a1.4 1.4 0 1 0 -2.7 0M39.5 523a1.8 1.8 0 1 0 3.5 0a1.8 1.8 0 1 0 -3.5 0M38.2 521.9a1.5 1.5 0 1 0 2.9 0a1.5 1.5 0 1 0 -2.9 0M42.9 523.5a1.7 1.7 0 1 0 3.4 0a1.7 1.7 0 1 0 -3.4 0M43.7 521.8a1.3 1.3 0 1 0 2.5 0a1.3 1.3 0 1 0 -2.5 0M47.3 521.4a1.2 1.2 0 1 0 2.3 0a1.2 1.2 0 1 0 -2.3 0M43.3 523.6a1.4 1.4 0 1 0 2.7 0a1.4 1.4 0 1 0 -2.7 0M45.7 524a1.2 1.2 0 1 0 2.4 0a1.2 1.2 0 1 0 -2.4 0M45.5 526.7a1.5 1.5 0 1 0 2.9 0a1.5 1.5 0 1 0 -2.9 0M49.1 517.8a1.3 1.3 0 1 0 2.6 0a1.3 1.3 0 1 0 -2.6 0M43.3 533a1.3 1.3 0 1 0 2.6 0a1.3 1.3 0 1 0 -2.6 0M42.5 533.8a.9 .9 0 1 0 1.8 0a.9 .9 0 1 0 -1.8 0M42.4 532.2a1.2 1.2 0 1 0 2.5 0a1.2 1.2 0 1 0 -2.5 0M60 534.9a.9 .9 0 1 0 1.9 0a.9 .9 0 1 0 -1.9 0M60.3 531.4a1.1 1.1 0 1 0 2.1 0a1.1 1.1 0 1 0 -2.1 0M60 533a1.2 1.2 0 1 0 2.3 0a1.2 1.2 0 1 0 -2.3 0M85.4 526.3a1.1 1.1 0 1 0 2.3 0a1.1 1.1 0 1 0 -2.3 0M81.8 522.9a1.3 1.3 0 1 0 2.6 0a1.3 1.3 0 1 0 -2.6 0M84.1 524a1.2 1.2 0 1 0 2.4 0a1.2 1.2 0 1 0 -2.4 0M78.9 463a1.3 1.3 0 1 0 2.5 0a1.3 1.3 0 1 0 -2.5 0M94.5 464.9a1.3 1.3 0 1 0 2.6 0a1.3 1.3 0 1 0 -2.6 0M93 465.5a1.2 1.2 0 1 0 2.5 0a1.2 1.2 0 1 0 -2.5 0M111.3 468.7a1.4 1.4 0 1 0 2.7 0a1.4 1.4 0 1 0 -2.7 0M112.3 467.1a1.2 1.2 0 1 0 2.5 0a1.2 1.2 0 1 0 -2.5 0M127 472.4a1.6 1.6 0 1 0 3.2 0a1.6 1.6 0 1 0 -3.2 0M131.4 482a1.4 1.4 0 1 0 2.7 0a1.4 1.4 0 1 0 -2.7 0M123.7 482.5a.9 .9 0 1 0 1.9 0a.9 .9 0 1 0 -1.9 0M117.4 476.3a1.5 1.5 0 1 0 3.1 0a1.5 1.5 0 1 0 -3.1 0M125.3 484.6a1 1 0 1 0 2.1 0a1 1 0 1 0 -2.1 0M122.5 478a1.1 1.1 0 1 0 2.2 0a1.1 1.1 0 1 0 -2.2 0M115.4 479.7a1.5 1.5 0 1 0 3 0a1.5 1.5 0 1 0 -3 0M115.4 482a1.6 1.6 0 1 0 3.3 0a1.6 1.6 0 1 0 -3.3 0M129.9 475.7a1.7 1.7 0 1 0 3.3 0a1.7 1.7 0 1 0 -3.3 0M125.3 486.3a1.6 1.6 0 1 0 3.1 0a1.6 1.6 0 1 0 -3.1 0M125.5 488.5a1.7 1.7 0 1 0 3.4 0a1.7 1.7 0 1 0 -3.4 0M124.1 477.2a1.6 1.6 0 1 0 3.3 0a1.6 1.6 0 1 0 -3.3 0M128.2 482.5a1.3 1.3 0 1 0 2.7 0a1.3 1.3 0 1 0 -2.7 0M135.1 487.6a1.3 1.3 0 1 0 2.6 0a1.3 1.3 0 1 0 -2.6 0M135.8 478.3a1.7 1.7 0 1 0 3.4 0a1.7 1.7 0 1 0 -3.4 0M136.1 479.5a1.6 1.6 0 1 0 3.1 0a1.6 1.6 0 1 0 -3.1 0M134.4 482.9a1.3 1.3 0 1 0 2.7 0a1.3 1.3 0 1 0 -2.7 0M132.3 496.8a1.7 1.7 0 1 0 3.4 0a1.7 1.7 0 1 0 -3.4 0M130.5 496.5a1.3 1.3 0 1 0 2.5 0a1.3 1.3 0 1 0 -2.5 0M144.2 507.9a1.2 1.2 0 1 0 2.5 0a1.2 1.2 0 1 0 -2.5 0M144.4 503.5a1 1 0 1 0 1.9 0a1 1 0 1 0 -1.9 0M134.4 517.7a.8 .8 0 1 0 1.6 0a.8 .8 0 1 0 -1.6 0M144.6 517.3a1.2 1.2 0 1 0 2.4 0a1.2 1.2 0 1 0 -2.4 0M106.5 530.3a1.3 1.3 0 1 0 2.7 0a1.3 1.3 0 1 0 -2.7 0M116.4 519.1a1 1 0 1 0 2 0a1 1 0 1 0 -2 0M124.3 528.3a.9 .9 0 1 0 1.8 0a.9 .9 0 1 0 -1.8 0M111.2 511.5a1 1 0 1 0 2 0a1 1 0 1 0 -2 0M103.1 513.6a1.2 1.2 0 1 0 2.5 0a1.2 1.2 0 1 0 -2.5 0M100.6 519.2a.9 .9 0 1 0 1.7 0a.9 .9 0 1 0 -1.7 0M120.8 530.4a1.2 1.2 0 1 0 2.4 0a1.2 1.2 0 1 0 -2.4 0M117.6 523a1.1 1.1 0 1 0 2.1 0a1.1 1.1 0 1 0 -2.1 0M120.7 529.9a1.3 1.3 0 1 0 2.5 0a1.3 1.3 0 1 0 -2.5 0M108.2 527.2a1.4 1.4 0 1 0 2.7 0a1.4 1.4 0 1 0 -2.7 0M113.3 541.1a1.1 1.1 0 1 0 2.3 0a1.1 1.1 0 1 0 -2.3 0M115.2 531.1a.7 .7 0 1 0 1.5 0a.7 .7 0 1 0 -1.5 0M93.7 544.6a1.2 1.2 0 1 0 2.4 0a1.2 1.2 0 1 0 -2.4 0M111.3 529a1.3 1.3 0 1 0 2.7 0a1.3 1.3 0 1 0 -2.7 0M114.8 529.1a1.1 1.1 0 1 0 2.1 0a1.1 1.1 0 1 0 -2.1 0M113.5 517.4a.8 .8 0 1 0 1.6 0a.8 .8 0 1 0 -1.6 0M109.9 517.7a1.4 1.4 0 1 0 2.8 0a1.4 1.4 0 1 0 -2.8 0M108.4 535.5a1.3 1.3 0 1 0 2.6 0a1.3 1.3 0 1 0 -2.6 0M103.8 536.8a1.2 1.2 0 1 0 2.4 0a1.2 1.2 0 1 0 -2.4 0M98.7 517.4a.8 .8 0 1 0 1.7 0a.8 .8 0 1 0 -1.7 0M102.5 531.4a.9 .9 0 1 0 1.9 0a.9 .9 0 1 0 -1.9 0M112.1 532.8a1.3 1.3 0 1 0 2.5 0a1.3 1.3 0 1 0 -2.5 0M98.9 525.7a1.2 1.2 0 1 0 2.4 0a1.2 1.2 0 1 0 -2.4 0M107.4 520.5a.8 .8 0 1 0 1.6 0a.8 .8 0 1 0 -1.6 0M101.7 536.7a.8 .8 0 1 0 1.7 0a.8 .8 0 1 0 -1.7 0M92.1 525.4a1.1 1.1 0 1 0 2.2 0a1.1 1.1 0 1 0 -2.2 0M113.9 524.6a.7 .7 0 1 0 1.4 0a.7 .7 0 1 0 -1.4 0M99.4 515a.7 .7 0 1 0 1.5 0a.7 .7 0 1 0 -1.5 0M103.5 519.6a1.1 1.1 0 1 0 2.2 0a1.1 1.1 0 1 0 -2.2 0M115.9 524.9a1.3 1.3 0 1 0 2.6 0a1.3 1.3 0 1 0 -2.6 0M113.8 511.8a1.3 1.3 0 1 0 2.6 0a1.3 1.3 0 1 0 -2.6 0M112.9 534.6a.9 .9 0 1 0 1.7 0a.9 .9 0 1 0 -1.7 0M108.7 521.4a1.1 1.1 0 1 0 2.2 0a1.1 1.1 0 1 0 -2.2 0M106.9 552.2a1.3 1.3 0 1 0 2.7 0a1.3 1.3 0 1 0 -2.7 0M118.3 527.2a.9 .9 0 1 0 1.7 0a.9 .9 0 1 0 -1.7 0M121.4 529.5a.9 .9 0 1 0 1.7 0a.9 .9 0 1 0 -1.7 0M112.8 538.1a.9 .9 0 1 0 1.8 0a.9 .9 0 1 0 -1.8 0M107.5 525.8a1 1 0 1 0 2.1 0a1 1 0 1 0 -2.1 0M111.5 528.1a1.3 1.3 0 1 0 2.6 0a1.3 1.3 0 1 0 -2.6 0M106.8 525.8a1 1 0 1 0 2 0a1 1 0 1 0 -2 0M114.8 517a.7 .7 0 1 0 1.4 0a.7 .7 0 1 0 -1.4 0M109.3 543.8a1 1 0 1 0 2 0a1 1 0 1 0 -2 0M101.3 528.2a.9 .9 0 1 0 1.9 0a.9 .9 0 1 0 -1.9 0M107.9 537.4a1.2 1.2 0 1 0 2.4 0a1.2 1.2 0 1 0 -2.4 0M110.9 534.9a1 1 0 1 0 2 0a1 1 0 1 0 -2 0M98.8 535.9a1.2 1.2 0 1 0 2.3 0a1.2 1.2 0 1 0 -2.3 0M101.6 543.1a.8 .8 0 1 0 1.5 0a.8 .8 0 1 0 -1.5 0M112.2 511.5a1.1 1.1 0 1 0 2.3 0a1.1 1.1 0 1 0 -2.3 0M94.2 528.7a1.3 1.3 0 1 0 2.6 0a1.3 1.3 0 1 0 -2.6 0M104.6 525.4a.8 .8 0 1 0 1.5 0a.8 .8 0 1 0 -1.5 0M105.5 521.6a1.4 1.4 0 1 0 2.7 0a1.4 1.4 0 1 0 -2.7 0M120.9 547.4a1.1 1.1 0 1 0 2.2 0a1.1 1.1 0 1 0 -2.2 0M106.3 553.2a1.4 1.4 0 1 0 2.8 0a1.4 1.4 0 1 0 -2.8 0M113.4 531.7a1.4 1.4 0 1 0 2.8 0a1.4 1.4 0 1 0 -2.8 0M103.5 545a1.2 1.2 0 1 0 2.4 0a1.2 1.2 0 1 0 -2.4 0M101.1 526.5a1.1 1.1 0 1 0 2.3 0a1.1 1.1 0 1 0 -2.3 0M100.4 523.5a1 1 0 1 0 2 0a1 1 0 1 0 -2 0M109.1 513a1 1 0 1 0 2.1 0a1 1 0 1 0 -2.1 0M113.9 521.9a1 1 0 1 0 2 0a1 1 0 1 0 -2 0M121.4 536.1a1.3 1.3 0 1 0 2.7 0a1.3 1.3 0 1 0 -2.7 0M45.4 551.7a1.3 1.3 0 1 0 2.6 0a1.3 1.3 0 1 0 -2.6 0M59.6 553.5a1.7 1.7 0 1 0 3.4 0a1.7 1.7 0 1 0 -3.4 0M43.3 553.2a1.2 1.2 0 1 0 2.3 0a1.2 1.2 0 1 0 -2.3 0M52.1 549.6a1.6 1.6 0 1 0 3.1 0a1.6 1.6 0 1 0 -3.1 0M56 549.9a1.1 1.1 0 1 0 2.3 0a1.1 1.1 0 1 0 -2.3 0M52.8 549.1a1.6 1.6 0 1 0 3.2 0a1.6 1.6 0 1 0 -3.2 0M54.8 556.5a1.7 1.7 0 1 0 3.4 0a1.7 1.7 0 1 0 -3.4 0M54.3 556.7a1 1 0 1 0 2.1 0a1 1 0 1 0 -2.1 0M49 550.9a1.2 1.2 0 1 0 2.3 0a1.2 1.2 0 1 0 -2.3 0M51.7 552.4a1.2 1.2 0 1 0 2.3 0a1.2 1.2 0 1 0 -2.3 0M48.6 548.1a1.4 1.4 0 1 0 2.9 0a1.4 1.4 0 1 0 -2.9 0M45.2 551.9a1.4 1.4 0 1 0 2.7 0a1.4 1.4 0 1 0 -2.7 0M55.5 551.2a1.5 1.5 0 1 0 3.1 0a1.5 1.5 0 1 0 -3.1 0M83.9 555.6a1 1 0 1 0 2 0a1 1 0 1 0 -2 0M95.3 569a1.3 1.3 0 1 0 2.5 0a1.3 1.3 0 1 0 -2.5 0M116 572.6a1.4 1.4 0 1 0 2.7 0a1.4 1.4 0 1 0 -2.7 0M103 571.1a1.1 1.1 0 1 0 2.3 0a1.1 1.1 0 1 0 -2.3 0M104.6 566.8a1.1 1.1 0 1 0 2.2 0a1.1 1.1 0 1 0 -2.2 0M108.8 563a.9 .9 0 1 0 1.9 0a.9 .9 0 1 0 -1.9 0M103.7 562.7a1.1 1.1 0 1 0 2.2 0a1.1 1.1 0 1 0 -2.2 0M102.7 573.2a1.6 1.6 0 1 0 3.3 0a1.6 1.6 0 1 0 -3.3 0M112.3 568.3a.9 .9 0 1 0 1.9 0a.9 .9 0 1 0 -1.9 0M108.3 570.2a1.5 1.5 0 1 0 2.9 0a1.5 1.5 0 1 0 -2.9 0M108.5 566.1a1.2 1.2 0 1 0 2.4 0a1.2 1.2 0 1 0 -2.4 0M103.7 566.3a1.2 1.2 0 1 0 2.4 0a1.2 1.2 0 1 0 -2.4 0M105.2 571.1a1.1 1.1 0 1 0 2.1 0a1.1 1.1 0 1 0 -2.1 0M99.8 570.7a1.6 1.6 0 1 0 3.3 0a1.6 1.6 0 1 0 -3.3 0M100.5 560.6a.9 .9 0 1 0 1.8 0a.9 .9 0 1 0 -1.8 0M115.1 572.9a1.2 1.2 0 1 0 2.3 0a1.2 1.2 0 1 0 -2.3 0M101.3 568.3a1.1 1.1 0 1 0 2.3 0a1.1 1.1 0 1 0 -2.3 0M109.9 573.4a1.1 1.1 0 1 0 2.2 0a1.1 1.1 0 1 0 -2.2 0M105.6 571a1.1 1.1 0 1 0 2.2 0a1.1 1.1 0 1 0 -2.2 0M146.6 580.9a1.2 1.2 0 1 0 2.4 0a1.2 1.2 0 1 0 -2.4 0M151.6 575.8a1 1 0 1 0 2 0a1 1 0 1 0 -2 0M152.4 571.8a1.5 1.5 0 1 0 3 0a1.5 1.5 0 1 0 -3 0M150.3 575.5a1.3 1.3 0 1 0 2.6 0a1.3 1.3 0 1 0 -2.6 0M150.7 577.3a1.3 1.3 0 1 0 2.6 0a1.3 1.3 0 1 0 -2.6 0M150.2 571.2a1.1 1.1 0 1 0 2.1 0a1.1 1.1 0 1 0 -2.1 0M154.1 575.1a1.3 1.3 0 1 0 2.6 0a1.3 1.3 0 1 0 -2.6 0M154.3 576.4a1.5 1.5 0 1 0 2.9 0a1.5 1.5 0 1 0 -2.9 0M151.1 575.5a1.3 1.3 0 1 0 2.6 0a1.3 1.3 0 1 0 -2.6 0M150.9 581.7a1.1 1.1 0 1 0 2.3 0a1.1 1.1 0 1 0 -2.3 0M148.1 569.5a1.3 1.3 0 1 0 2.7 0a1.3 1.3 0 1 0 -2.7 0M134 564.3a1 1 0 1 0 2 0a1 1 0 1 0 -2 0M131.4 577.4a1.1 1.1 0 1 0 2.1 0a1.1 1.1 0 1 0 -2.1 0M130.8 577.2a1 1 0 1 0 2.1 0a1 1 0 1 0 -2.1 0M72.9 593.2a.9 .9 0 1 0 1.9 0a.9 .9 0 1 0 -1.9 0M70.7 594a1 1 0 1 0 1.9 0a1 1 0 1 0 -1.9 0M72.2 591.3a1.1 1.1 0 1 0 2.1 0a1.1 1.1 0 1 0 -2.1 0M61.8 572.6a1.2 1.2 0 1 0 2.4 0a1.2 1.2 0 1 0 -2.4 0M72.2 576.8a1.1 1.1 0 1 0 2.2 0a1.1 1.1 0 1 0 -2.2 0M72.3 575.8a1.1 1.1 0 1 0 2.3 0a1.1 1.1 0 1 0 -2.3 0M56.8 605.9a1.4 1.4 0 1 0 2.8 0a1.4 1.4 0 1 0 -2.8 0M91.7 606.7a1.2 1.2 0 1 0 2.5 0a1.2 1.2 0 1 0 -2.5 0M91 604.2a1.1 1.1 0 1 0 2.2 0a1.1 1.1 0 1 0 -2.2 0M93.5 604.5a1.6 1.6 0 1 0 3.1 0a1.6 1.6 0 1 0 -3.1 0M93.1 603.3a1.1 1.1 0 1 0 2.1 0a1.1 1.1 0 1 0 -2.1 0M97.2 602a.9 .9 0 1 0 1.9 0a.9 .9 0 1 0 -1.9 0M97.9 600.6a1.2 1.2 0 1 0 2.4 0a1.2 1.2 0 1 0 -2.4 0M104.6 597.3a1.4 1.4 0 1 0 2.9 0a1.4 1.4 0 1 0 -2.9 0M104.3 596.9a1.6 1.6 0 1 0 3.1 0a1.6 1.6 0 1 0 -3.1 0M106.5 594a1.2 1.2 0 1 0 2.3 0a1.2 1.2 0 1 0 -2.3 0M111.7 591.4a1 1 0 1 0 1.9 0a1 1 0 1 0 -1.9 0M144.1 599.8a1.3 1.3 0 1 0 2.6 0a1.3 1.3 0 1 0 -2.6 0M75.7 626.1a1 1 0 1 0 1.9 0a1 1 0 1 0 -1.9 0M78.1 625.5a1 1 0 1 0 1.9 0a1 1 0 1 0 -1.9 0M84.8 630.7a1.1 1.1 0 1 0 2.3 0a1.1 1.1 0 1 0 -2.3 0M85.6 629.9a1.4 1.4 0 1 0 2.8 0a1.4 1.4 0 1 0 -2.8 0M86.9 631.5a1.6 1.6 0 1 0 3.2 0a1.6 1.6 0 1 0 -3.2 0M83.6 631.8a1.1 1.1 0 1 0 2.2 0a1.1 1.1 0 1 0 -2.2 0M141.3 631.7a1 1 0 1 0 1.9 0a1 1 0 1 0 -1.9 0M143.6 628.1a1 1 0 1 0 1.9 0a1 1 0 1 0 -1.9 0M116 492.8a1.1 1.1 0 1 0 2.1 0a1.1 1.1 0 1 0 -2.1 0M131.8 522.2a.8 .8 0 1 0 1.6 0a.8 .8 0 1 0 -1.6 0M69.7 609.2a.9 .9 0 1 0 1.8 0a.9 .9 0 1 0 -1.8 0M56.2 537.9a.9 .9 0 1 0 1.8 0a.9 .9 0 1 0 -1.8 0"/>
<path fill="#404040" fill-opacity="0.4" d="M30 483.5a1.2 1.2 0 1 0 2.3 0a1.2 1.2 0 1 0 -2.3 0M31.9 485.7a.9 .9 0 1 0 1.9 0a.9 .9 0 1 0 -1.9 0M54.3 534.2a1 1 0 1 0 2 0a1 1 0 1 0 -2 0M57.6 533a1.4 1.4 0 1 0 2.9 0a1.4 1.4 0 1 0 -2.9 0M83.1 525.9a1.2 1.2 0 1 0 2.3 0a1.2 1.2 0 1 0 -2.3 0M80.2 522.1a1.3 1.3 0 1 0 2.7 0a1.3 1.3 0 1 0 -2.7 0M78.7 464a1.2 1.2 0 1 0 2.4 0a1.2 1.2 0 1 0 -2.4 0M112.6 467.4a.9 .9 0 1 0 1.8 0a.9 .9 0 1 0 -1.8 0M121.9 482.3a1.3 1.3 0 1 0 2.6 0a1.3 1.3 0 1 0 -2.6 0M116.5 483.2a1.3 1.3 0 1 0 2.6 0a1.3 1.3 0 1 0 -2.6 0M129.4 479.9a1 1 0 1 0 1.9 0a1 1 0 1 0 -1.9 0M126.1 480.6a1.3 1.3 0 1 0 2.5 0a1.3 1.3 0 1 0 -2.5 0M131.8 497.8a1.3 1.3 0 1 0 2.6 0a1.3 1.3 0 1 0 -2.6 0M131.1 498a1.1 1.1 0 1 0 2.3 0a1.1 1.1 0 1 0 -2.3 0M80.4 556.3a1.2 1.2 0 1 0 2.3 0a1.2 1.2 0 1 0 -2.3 0M81.3 557.2a1.4 1.4 0 1 0 2.8 0a1.4 1.4 0 1 0 -2.8 0M84.6 562.8a1 1 0 1 0 2 0a1 1 0 1 0 -2 0M80.4 558.5a.9 .9 0 1 0 1.8 0a.9 .9 0 1 0 -1.8 0M92 570.7a.9 .9 0 1 0 1.9 0a.9 .9 0 1 0 -1.9 0M149.4 581.5a1.7 1.7 0 1 0 3.5 0a1.7 1.7 0 1 0 -3.5 0M153.2 579.8a1.6 1.6 0 1 0 3.1 0a1.6 1.6 0 1 0 -3.1 0M153.7 573.1a1.5 1.5 0 1 0 2.9 0a1.5 1.5 0 1 0 -2.9 0M134.7 564.9a1 1 0 1 0 2 0a1 1 0 1 0 -2 0M128 576a1.1 1.1 0 1 0 2.3 0a1.1 1.1 0 1 0 -2.3 0M70.7 588a1 1 0 1 0 2.1 0a1 1 0 1 0 -2.1 0M71.9 588.7a.8 .8 0 1 0 1.6 0a.8 .8 0 1 0 -1.6 0M78.7 585.5a1.8 1.8 0 1 0 3.6 0a1.8 1.8 0 1 0 -3.6 0M58.7 602.2a1.2 1.2 0 1 0 2.5 0a1.2 1.2 0 1 0 -2.5 0M102.3 598.3a1.6 1.6 0 1 0 3.2 0a1.6 1.6 0 1 0 -3.2 0M104.4 594.8a1.4 1.4 0 1 0 2.8 0a1.4 1.4 0 1 0 -2.8 0M107.8 592.6a1.6 1.6 0 1 0 3.2 0a1.6 1.6 0 1 0 -3.2 0M116.7 601.5a1.8 1.8 0 1 0 3.6 0a1.8 1.8 0 1 0 -3.6 0M130.7 607.4a1.1 1.1 0 1 0 2.1 0a1.1 1.1 0 1 0 -2.1 0M142.7 598.9a1 1 0 1 0 2 0a1 1 0 1 0 -2 0M78 628.3a1 1 0 1 0 2 0a1 1 0 1 0 -2 0M133.8 629.4a1.1 1.1 0 1 0 2.3 0a1.1 1.1 0 1 0 -2.3 0M142.7 628.2a1.2 1.2 0 1 0 2.3 0a1.2 1.2 0 1 0 -2.3 0"/>
<path fill="#fafafa" fill-opacity="0.3" d="M48.2 617.3a1.2 1.2 0 1 0 2.4 0a1.2 1.2 0 1 0 -2.4 0M115.2 492a1.1 1.1 0 1 0 2.1 0a1.1 1.1 0 1 0 -2.1 0M124 596.4a.8 .8 0 1 0 1.7 0a.8 .8 0 1 0 -1.7 0M131 521.4a.8 .8 0 1 0 1.6 0a.8 .8 0 1 0 -1.6 0M69.5 473.3a.8 .8 0 1 0 1.6 0a.8 .8 0 1 0 -1.6 0M86.9 481.3a.8 .8 0 1 0 1.6 0a.8 .8 0 1 0 -1.6 0M81.6 594a1.1 1.1 0 1 0 2.2 0a1.1 1.1 0 1 0 -2.2 0M77.2 513.7a.8 .8 0 1 0 1.6 0a.8 .8 0 1 0 -1.6 0M95.6 506.2a.9 .9 0 1 0 1.7 0a.9 .9 0 1 0 -1.7 0M98.5 559.2a.9 .9 0 1 0 1.7 0a.9 .9 0 1 0 -1.7 0M89.7 592.9a.6 .6 0 1 0 1.3 0a.6 .6 0 1 0 -1.3 0M54.4 526.1a1 1 0 1 0 2.1 0a1 1 0 1 0 -2.1 0M84.3 518.1a.9 .9 0 1 0 1.7 0a.9 .9 0 1 0 -1.7 0"/>
<path fill="#fafafa" fill-opacity="0.4" d="M59.2 532.2a1.2 1.2 0 1 0 2.3 0a1.2 1.2 0 1 0 -2.3 0M93.7 464.1a1.3 1.3 0 1 0 2.6 0a1.3 1.3 0 1 0 -2.6 0M143.4 507.1a1.2 1.2 0 1 0 2.5 0a1.2 1.2 0 1 0 -2.5 0M143.6 502.7a1 1 0 1 0 1.9 0a1 1 0 1 0 -1.9 0M133.6 516.9a.8 .8 0 1 0 1.6 0a.8 .8 0 1 0 -1.6 0M140.5 514.4a.9 .9 0 1 0 1.7 0a.9 .9 0 1 0 -1.7 0M133.3 512a.9 .9 0 1 0 1.7 0a.9 .9 0 1 0 -1.7 0M70.1 591.2a1 1 0 1 0 1.9 0a1 1 0 1 0 -1.9 0M71.4 590.5a1.1 1.1 0 1 0 2.1 0a1.1 1.1 0 1 0 -2.1 0M57.5 601.6a1.3 1.3 0 1 0 2.5 0a1.3 1.3 0 1 0 -2.5 0M56 605.1a1.4 1.4 0 1 0 2.8 0a1.4 1.4 0 1 0 -2.8 0M47.1 617.8a1.1 1.1 0 1 0 2.2 0a1.1 1.1 0 1 0 -2.2 0M140.5 630.9a1 1 0 1 0 1.9 0a1 1 0 1 0 -1.9 0M101 608a1 1 0 1 0 2.1 0a1 1 0 1 0 -2.1 0M71.8 501.4a.6 .6 0 1 0 1.2 0a.6 .6 0 1 0 -1.2 0M70.4 517.1a.9 .9 0 1 0 1.8 0a.9 .9 0 1 0 -1.8 0M50.7 559.5a1.1 1.1 0 1 0 2.1 0a1.1 1.1 0 1 0 -2.1 0M67.7 578.8a1 1 0 1 0 1.9 0a1 1 0 1 0 -1.9 0M135 554.2a.8 .8 0 1 0 1.7 0a.8 .8 0 1 0 -1.7 0M121.6 542.4a1 1 0 1 0 2 0a1 1 0 1 0 -2 0M101 544.3a.8 .8 0 1 0 1.7 0a.8 .8 0 1 0 -1.7 0M96.9 588.1a.7 .7 0 1 0 1.3 0a.7 .7 0 1 0 -1.3 0M105.9 558.8a.9 .9 0 1 0 1.8 0a.9 .9 0 1 0 -1.8 0M87.3 629.9a1 1 0 1 0 1.9 0a1 1 0 1 0 -1.9 0M119.1 551.2a.9 .9 0 1 0 1.7 0a.9 .9 0 1 0 -1.7 0M49.1 473.6a.6 .6 0 1 0 1.2 0a.6 .6 0 1 0 -1.2 0M87.4 567.3a1.1 1.1 0 1 0 2.1 0a1.1 1.1 0 1 0 -2.1 0"/>
<path fill="#fafafa" fill-opacity="0.5" d="M50.9 481.4a2 2 0 1 0 4 0a2 2 0 1 0 -4 0M28.1 484.6a1.4 1.4 0 1 0 2.7 0a1.4 1.4 0 1 0 -2.7 0M59.2 534.1a.9 .9 0 1 0 1.9 0a.9 .9 0 1 0 -1.9 0M53.5 533.4a1 1 0 1 0 2 0a1 1 0 1 0 -2 0M79.4 521.3a1.3 1.3 0 1 0 2.7 0a1.3 1.3 0 1 0 -2.7 0M83.3 523.2a1.2 1.2 0 1 0 2.4 0a1.2 1.2 0 1 0 -2.4 0M111.8 466.6a.9 .9 0 1 0 1.8 0a.9 .9 0 1 0 -1.8 0M111.5 466.3a1.2 1.2 0 1 0 2.5 0a1.2 1.2 0 1 0 -2.5 0M128.6 479.1a1 1 0 1 0 1.9 0a1 1 0 1 0 -1.9 0M125.3 479.8a1.3 1.3 0 1 0 2.5 0a1.3 1.3 0 1 0 -2.5 0M124.5 483.8a1 1 0 1 0 2.1 0a1 1 0 1 0 -2.1 0M141.3 515.4a1.1 1.1 0 1 0 2.2 0a1.1 1.1 0 1 0 -2.2 0M143.8 516.5a1.2 1.2 0 1 0 2.4 0a1.2 1.2 0 1 0 -2.4 0M114.8 533.7a1 1 0 1 0 2.1 0a1 1 0 1 0 -2.1 0M112.5 540.3a1.1 1.1 0 1 0 2.3 0a1.1 1.1 0 1 0 -2.3 0M92.9 543.8a1.2 1.2 0 1 0 2.4 0a1.2 1.2 0 1 0 -2.4 0M117.5 526.4a.9 .9 0 1 0 1.7 0a.9 .9 0 1 0 -1.7 0M120.6 528.7a.9 .9 0 1 0 1.7 0a.9 .9 0 1 0 -1.7 0M108.5 543a1 1 0 1 0 2 0a1 1 0 1 0 -2 0M101.7 535.8a1 1 0 1 0 2 0a1 1 0 1 0 -2 0M110.7 514.7a1.1 1.1 0 1 0 2.3 0a1.1 1.1 0 1 0 -2.3 0M100.3 525.7a1.1 1.1 0 1 0 2.3 0a1.1 1.1 0 1 0 -2.3 0M80.5 556.4a1.4 1.4 0 1 0 2.8 0a1.4 1.4 0 1 0 -2.8 0M83.8 562a1 1 0 1 0 2 0a1 1 0 1 0 -2 0M83.1 554.8a1 1 0 1 0 2 0a1 1 0 1 0 -2 0M77.6 556.9a1 1 0 1 0 2 0a1 1 0 1 0 -2 0M133.9 564.1a1 1 0 1 0 2 0a1 1 0 1 0 -2 0M130.6 576.6a1.1 1.1 0 1 0 2.1 0a1.1 1.1 0 1 0 -2.1 0M69.9 593.2a1 1 0 1 0 1.9 0a1 1 0 1 0 -1.9 0M71.4 576a1.1 1.1 0 1 0 2.2 0a1.1 1.1 0 1 0 -2.2 0M55 603.9a1 1 0 1 0 2 0a1 1 0 1 0 -2 0M57.9 601.4a1.2 1.2 0 1 0 2.5 0a1.2 1.2 0 1 0 -2.5 0M103.4 596a1.6 1.6 0 1 0 3.1 0a1.6 1.6 0 1 0 -3.1 0M132.2 607.4a1.1 1.1 0 1 0 2.2 0a1.1 1.1 0 1 0 -2.2 0M143.3 599a1.3 1.3 0 1 0 2.6 0a1.3 1.3 0 1 0 -2.6 0M74.9 625.3a1 1 0 1 0 1.9 0a1 1 0 1 0 -1.9 0M77.2 627.5a1 1 0 1 0 2 0a1 1 0 1 0 -2 0M48 620.7a1.1 1.1 0 1 0 2.1 0a1.1 1.1 0 1 0 -2.1 0M133 628.6a1.1 1.1 0 1 0 2.3 0a1.1 1.1 0 1 0 -2.3 0M142.8 627.3a1 1 0 1 0 1.9 0a1 1 0 1 0 -1.9 0M117.1 597.1a.8 .8 0 1 0 1.6 0a.8 .8 0 1 0 -1.6 0M92.9 605.8a.7 .7 0 1 0 1.5 0a.7 .7 0 1 0 -1.5 0M119 488.9a.8 .8 0 1 0 1.7 0a.8 .8 0 1 0 -1.7 0M88.5 593.4a.8 .8 0 1 0 1.5 0a.8 .8 0 1 0 -1.5 0M54 512.9a.6 .6 0 1 0 1.3 0a.6 .6 0 1 0 -1.3 0M68.9 608.4a.9 .9 0 1 0 1.8 0a.9 .9 0 1 0 -1.8 0M82.8 546.2a1 1 0 1 0 2.1 0a1 1 0 1 0 -2.1 0M55.4 537.1a.9 .9 0 1 0 1.8 0a.9 .9 0 1 0 -1.8 0M84.8 548.2a.7 .7 0 1 0 1.4 0a.7 .7 0 1 0 -1.4 0"/>
<path fill="#fafafa" fill-opacity="0.6" d="M29.2 482.7a1.2 1.2 0 1 0 2.3 0a1.2 1.2 0 1 0 -2.3 0M31.1 484.9a.9 .9 0 1 0 1.9 0a.9 .9 0 1 0 -1.9 0M47.5 519.7a1.6 1.6 0 1 0 3.2 0a1.6 1.6 0 1 0 -3.2 0M44.9 523.2a1.2 1.2 0 1 0 2.4 0a1.2 1.2 0 1 0 -2.4 0M44.6 525.8a1.5 1.5 0 1 0 2.9 0a1.5 1.5 0 1 0 -2.9 0M37.6 521.5a1.8 1.8 0 1 0 3.6 0a1.8 1.8 0 1 0 -3.6 0M48.3 517a1.3 1.3 0 1 0 2.6 0a1.3 1.3 0 1 0 -2.6 0M41.6 531.4a1.2 1.2 0 1 0 2.5 0a1.2 1.2 0 1 0 -2.5 0M61.5 531.9a1.3 1.3 0 1 0 2.6 0a1.3 1.3 0 1 0 -2.6 0M56.8 532.2a1.4 1.4 0 1 0 2.9 0a1.4 1.4 0 1 0 -2.9 0M84.6 525.5a1.1 1.1 0 1 0 2.3 0a1.1 1.1 0 1 0 -2.3 0M82.3 525.1a1.2 1.2 0 1 0 2.3 0a1.2 1.2 0 1 0 -2.3 0M78.1 462.2a1.3 1.3 0 1 0 2.5 0a1.3 1.3 0 1 0 -2.5 0M92.2 464.7a1.2 1.2 0 1 0 2.5 0a1.2 1.2 0 1 0 -2.5 0M110.5 467.9a1.4 1.4 0 1 0 2.7 0a1.4 1.4 0 1 0 -2.7 0M126.1 471.5a1.6 1.6 0 1 0 3.2 0a1.6 1.6 0 1 0 -3.2 0M121.8 481.9a1.3 1.3 0 1 0 2.5 0a1.3 1.3 0 1 0 -2.5 0M115.7 482.4a1.3 1.3 0 1 0 2.6 0a1.3 1.3 0 1 0 -2.6 0M130.6 481.2a1.4 1.4 0 1 0 2.7 0a1.4 1.4 0 1 0 -2.7 0M121.7 477.2a1.1 1.1 0 1 0 2.2 0a1.1 1.1 0 1 0 -2.2 0M114.5 478.9a1.5 1.5 0 1 0 3 0a1.5 1.5 0 1 0 -3 0M114.5 481.1a1.6 1.6 0 1 0 3.3 0a1.6 1.6 0 1 0 -3.3 0M129 474.8a1.7 1.7 0 1 0 3.3 0a1.7 1.7 0 1 0 -3.3 0M135.5 502.2a1 1 0 1 0 2 0a1 1 0 1 0 -2 0M132.1 494.4a1.4 1.4 0 1 0 2.7 0a1.4 1.4 0 1 0 -2.7 0M129.7 495.7a1.3 1.3 0 1 0 2.5 0a1.3 1.3 0 1 0 -2.5 0M141.7 510.9a.9 .9 0 1 0 1.8 0a.9 .9 0 1 0 -1.8 0M147.3 518a1 1 0 1 0 2 0a1 1 0 1 0 -2 0M141.8 511.6a.8 .8 0 1 0 1.7 0a.8 .8 0 1 0 -1.7 0M93.8 534.5a1 1 0 1 0 2 0a1 1 0 1 0 -2 0M119.4 531.7a1.2 1.2 0 1 0 2.4 0a1.2 1.2 0 1 0 -2.4 0M113.2 531.7a1 1 0 1 0 1.9 0a1 1 0 1 0 -1.9 0M119.9 529.1a1.3 1.3 0 1 0 2.5 0a1.3 1.3 0 1 0 -2.5 0M107.4 526.4a1.4 1.4 0 1 0 2.7 0a1.4 1.4 0 1 0 -2.7 0M114.4 530.3a.7 .7 0 1 0 1.5 0a.7 .7 0 1 0 -1.5 0M108.4 532.9a1.1 1.1 0 1 0 2.1 0a1.1 1.1 0 1 0 -2.1 0M97.9 516.6a.8 .8 0 1 0 1.7 0a.8 .8 0 1 0 -1.7 0M123.5 518.8a.7 .7 0 1 0 1.5 0a.7 .7 0 1 0 -1.5 0M104.6 533.1a1.3 1.3 0 1 0 2.6 0a1.3 1.3 0 1 0 -2.6 0M98.1 524.9a1.2 1.2 0 1 0 2.4 0a1.2 1.2 0 1 0 -2.4 0M112.8 532.9a1.2 1.2 0 1 0 2.3 0a1.2 1.2 0 1 0 -2.3 0M105.6 513.7a.9 .9 0 1 0 1.8 0a.9 .9 0 1 0 -1.8 0M115.4 523.8a1.3 1.3 0 1 0 2.5 0a1.3 1.3 0 1 0 -2.5 0M91.3 524.6a1.1 1.1 0 1 0 2.2 0a1.1 1.1 0 1 0 -2.2 0M112.1 533.8a.9 .9 0 1 0 1.7 0a.9 .9 0 1 0 -1.7 0M102.6 525.4a.8 .8 0 1 0 1.7 0a.8 .8 0 1 0 -1.7 0M114.7 511.4a1.3 1.3 0 1 0 2.6 0a1.3 1.3 0 1 0 -2.6 0M110.7 527.3a1.3 1.3 0 1 0 2.6 0a1.3 1.3 0 1 0 -2.6 0M102.2 528.6a1.3 1.3 0 1 0 2.6 0a1.3 1.3 0 1 0 -2.6 0M109.3 522.8a1.1 1.1 0 1 0 2.3 0a1.1 1.1 0 1 0 -2.3 0M93.8 541.1a1.1 1.1 0 1 0 2.2 0a1.1 1.1 0 1 0 -2.2 0M110.1 534.1a1 1 0 1 0 2 0a1 1 0 1 0 -2 0M111.4 510.7a1.1 1.1 0 1 0 2.3 0a1.1 1.1 0 1 0 -2.3 0M93.4 527.9a1.3 1.3 0 1 0 2.6 0a1.3 1.3 0 1 0 -2.6 0M103.8 524.6a.8 .8 0 1 0 1.5 0a.8 .8 0 1 0 -1.5 0M107.6 520.7a1.1 1.1 0 1 0 2.2 0a1.1 1.1 0 1 0 -2.2 0M44.6 550.9a1.3 1.3 0 1 0 2.6 0a1.3 1.3 0 1 0 -2.6 0M47.8 547.3a1.4 1.4 0 1 0 2.9 0a1.4 1.4 0 1 0 -2.9 0M44.4 551.1a1.4 1.4 0 1 0 2.7 0a1.4 1.4 0 1 0 -2.7 0M48.7 552a1.6 1.6 0 1 0 3.1 0a1.6 1.6 0 1 0 -3.1 0M79.6 555.5a1.2 1.2 0 1 0 2.3 0a1.2 1.2 0 1 0 -2.3 0M79.6 557.7a.9 .9 0 1 0 1.8 0a.9 .9 0 1 0 -1.8 0M102.2 570.3a1.1 1.1 0 1 0 2.3 0a1.1 1.1 0 1 0 -2.3 0M103.8 566a1.1 1.1 0 1 0 2.2 0a1.1 1.1 0 1 0 -2.2 0M102.9 565.5a1.2 1.2 0 1 0 2.4 0a1.2 1.2 0 1 0 -2.4 0M99.6 564.7a1.1 1.1 0 1 0 2.2 0a1.1 1.1 0 1 0 -2.2 0M108.5 569.4a1.1 1.1 0 1 0 2.2 0a1.1 1.1 0 1 0 -2.2 0M151.6 570.9a1.5 1.5 0 1 0 3 0a1.5 1.5 0 1 0 -3 0M153.3 574.3a1.3 1.3 0 1 0 2.6 0a1.3 1.3 0 1 0 -2.6 0M133.2 563.5a1 1 0 1 0 2 0a1 1 0 1 0 -2 0M127.2 575.2a1.1 1.1 0 1 0 2.3 0a1.1 1.1 0 1 0 -2.3 0M72.1 592.4a.9 .9 0 1 0 1.9 0a.9 .9 0 1 0 -1.9 0M77.7 584.5a1.8 1.8 0 1 0 3.6 0a1.8 1.8 0 1 0 -3.6 0M61 571.8a1.2 1.2 0 1 0 2.4 0a1.2 1.2 0 1 0 -2.4 0M71.5 575a1.1 1.1 0 1 0 2.3 0a1.1 1.1 0 1 0 -2.3 0M56 582.5a1.2 1.2 0 1 0 2.5 0a1.2 1.2 0 1 0 -2.5 0M92.7 603.7a1.6 1.6 0 1 0 3.1 0a1.6 1.6 0 1 0 -3.1 0M99.8 597.7a.9 .9 0 1 0 1.8 0a.9 .9 0 1 0 -1.8 0M103.8 596.5a1.4 1.4 0 1 0 2.9 0a1.4 1.4 0 1 0 -2.9 0M106.9 591.7a1.6 1.6 0 1 0 3.2 0a1.6 1.6 0 1 0 -3.2 0M115.7 600.5a1.8 1.8 0 1 0 3.6 0a1.8 1.8 0 1 0 -3.6 0M129.9 606.6a1.1 1.1 0 1 0 2.1 0a1.1 1.1 0 1 0 -2.1 0M132.5 611.5a1.1 1.1 0 1 0 2.1 0a1.1 1.1 0 1 0 -2.1 0M141.9 598.1a1 1 0 1 0 2 0a1 1 0 1 0 -2 0M77.3 624.7a1 1 0 1 0 1.9 0a1 1 0 1 0 -1.9 0M140 628.8a1 1 0 1 0 2.1 0a1 1 0 1 0 -2.1 0"/>
<path fill="#fafafa" fill-opacity="0.7" d="M41.6 520.8a1.3 1.3 0 1 0 2.5 0a1.3 1.3 0 1 0 -2.5 0M37.4 521.1a1.5 1.5 0 1 0 2.9 0a1.5 1.5 0 1 0 -2.9 0M49.2 520.8a1.7 1.7 0 1 0 3.3 0a1.7 1.7 0 1 0 -3.3 0M42 522.5a1.7 1.7 0 1 0 3.4 0a1.7 1.7 0 1 0 -3.4 0M46.4 525.4a1.2 1.2 0 1 0 2.4 0a1.2 1.2 0 1 0 -2.4 0M43.2 517.7a1.8 1.8 0 1 0 3.6 0a1.8 1.8 0 1 0 -3.6 0M42.4 528.2a1.4 1.4 0 1 0 2.7 0a1.4 1.4 0 1 0 -2.7 0M42.5 532.2a1.3 1.3 0 1 0 2.6 0a1.3 1.3 0 1 0 -2.6 0M41.7 533a.9 .9 0 1 0 1.8 0a.9 .9 0 1 0 -1.8 0M59.5 530.6a1.1 1.1 0 1 0 2.1 0a1.1 1.1 0 1 0 -2.1 0M81 522.1a1.3 1.3 0 1 0 2.6 0a1.3 1.3 0 1 0 -2.6 0M77.9 463.2a1.2 1.2 0 1 0 2.4 0a1.2 1.2 0 1 0 -2.4 0M122.9 481.7a.9 .9 0 1 0 1.9 0a.9 .9 0 1 0 -1.9 0M123.8 478.6a1.6 1.6 0 1 0 3.3 0a1.6 1.6 0 1 0 -3.3 0M124.5 485.5a1.6 1.6 0 1 0 3.1 0a1.6 1.6 0 1 0 -3.1 0M134.3 486.8a1.3 1.3 0 1 0 2.6 0a1.3 1.3 0 1 0 -2.6 0M131.4 495.9a1.7 1.7 0 1 0 3.4 0a1.7 1.7 0 1 0 -3.4 0M133.3 491.2a1.3 1.3 0 1 0 2.7 0a1.3 1.3 0 1 0 -2.7 0M130.3 497.2a1.1 1.1 0 1 0 2.3 0a1.1 1.1 0 1 0 -2.3 0M131.5 493a1.2 1.2 0 1 0 2.5 0a1.2 1.2 0 1 0 -2.5 0M108.3 520.3a1 1 0 1 0 2.1 0a1 1 0 1 0 -2.1 0M102.3 512.8a1.2 1.2 0 1 0 2.5 0a1.2 1.2 0 1 0 -2.5 0M100.7 542.7a1.1 1.1 0 1 0 2.2 0a1.1 1.1 0 1 0 -2.2 0M98 535.7a1.1 1.1 0 1 0 2.2 0a1.1 1.1 0 1 0 -2.2 0M110.5 528.2a1.3 1.3 0 1 0 2.7 0a1.3 1.3 0 1 0 -2.7 0M102.9 519.6a.9 .9 0 1 0 1.8 0a.9 .9 0 1 0 -1.8 0M103 536a1.2 1.2 0 1 0 2.4 0a1.2 1.2 0 1 0 -2.4 0M96.9 536.2a.8 .8 0 1 0 1.5 0a.8 .8 0 1 0 -1.5 0M112.9 524.8a1 1 0 1 0 1.9 0a1 1 0 1 0 -1.9 0M100.9 535.9a.8 .8 0 1 0 1.7 0a.8 .8 0 1 0 -1.7 0M113.1 523.8a.7 .7 0 1 0 1.4 0a.7 .7 0 1 0 -1.4 0M98.6 514.2a.7 .7 0 1 0 1.5 0a.7 .7 0 1 0 -1.5 0M93.6 527.1a1.3 1.3 0 1 0 2.5 0a1.3 1.3 0 1 0 -2.5 0M116 543.3a1.4 1.4 0 1 0 2.8 0a1.4 1.4 0 1 0 -2.8 0M106.1 551.4a1.3 1.3 0 1 0 2.7 0a1.3 1.3 0 1 0 -2.7 0M110.3 519.8a1.1 1.1 0 1 0 2.1 0a1.1 1.1 0 1 0 -2.1 0M106.7 525a1 1 0 1 0 2.1 0a1 1 0 1 0 -2.1 0M106 525a1 1 0 1 0 2 0a1 1 0 1 0 -2 0M114 516.2a.7 .7 0 1 0 1.4 0a.7 .7 0 1 0 -1.4 0M100.5 527.4a.9 .9 0 1 0 1.9 0a.9 .9 0 1 0 -1.9 0M107.1 536.6a1.2 1.2 0 1 0 2.4 0a1.2 1.2 0 1 0 -2.4 0M100.8 542.3a.8 .8 0 1 0 1.5 0a.8 .8 0 1 0 -1.5 0M116.7 522.1a.9 .9 0 1 0 1.9 0a.9 .9 0 1 0 -1.9 0M104.7 520.8a1.4 1.4 0 1 0 2.7 0a1.4 1.4 0 1 0 -2.7 0M120.1 546.6a1.1 1.1 0 1 0 2.2 0a1.1 1.1 0 1 0 -2.2 0M92.9 520.8a.8 .8 0 1 0 1.7 0a.8 .8 0 1 0 -1.7 0M102.7 544.2a1.2 1.2 0 1 0 2.4 0a1.2 1.2 0 1 0 -2.4 0M108.3 527.8a.8 .8 0 1 0 1.7 0a.8 .8 0 1 0 -1.7 0M99.1 538.5a.8 .8 0 1 0 1.6 0a.8 .8 0 1 0 -1.6 0M113.1 521.1a1 1 0 1 0 2 0a1 1 0 1 0 -2 0M51.3 548.7a1.6 1.6 0 1 0 3.1 0a1.6 1.6 0 1 0 -3.1 0M50.1 549.6a1.2 1.2 0 1 0 2.3 0a1.2 1.2 0 1 0 -2.3 0M55.2 549.1a1.1 1.1 0 1 0 2.3 0a1.1 1.1 0 1 0 -2.3 0M53.9 555.5a1.7 1.7 0 1 0 3.4 0a1.7 1.7 0 1 0 -3.4 0M53.5 555.9a1 1 0 1 0 2.1 0a1 1 0 1 0 -2.1 0M48.2 550.1a1.2 1.2 0 1 0 2.3 0a1.2 1.2 0 1 0 -2.3 0M94.5 568.2a1.3 1.3 0 1 0 2.5 0a1.3 1.3 0 1 0 -2.5 0M108 562.2a.9 .9 0 1 0 1.9 0a.9 .9 0 1 0 -1.9 0M91.2 569.9a.9 .9 0 1 0 1.9 0a.9 .9 0 1 0 -1.9 0M106.3 571.1a1.1 1.1 0 1 0 2.3 0a1.1 1.1 0 1 0 -2.3 0M102.9 561.9a1.1 1.1 0 1 0 2.2 0a1.1 1.1 0 1 0 -2.2 0M101.8 572.3a1.6 1.6 0 1 0 3.3 0a1.6 1.6 0 1 0 -3.3 0M111.5 567.5a.9 .9 0 1 0 1.9 0a.9 .9 0 1 0 -1.9 0M96.1 561.2a1.1 1.1 0 1 0 2.1 0a1.1 1.1 0 1 0 -2.1 0M98.8 569.7a1.6 1.6 0 1 0 3.3 0a1.6 1.6 0 1 0 -3.3 0M99.7 559.8a.9 .9 0 1 0 1.8 0a.9 .9 0 1 0 -1.8 0M100.5 567.5a1.1 1.1 0 1 0 2.3 0a1.1 1.1 0 1 0 -2.3 0M145.8 580.1a1.2 1.2 0 1 0 2.4 0a1.2 1.2 0 1 0 -2.4 0M148.4 580.6a1.7 1.7 0 1 0 3.5 0a1.7 1.7 0 1 0 -3.5 0M134.2 559.6a1.1 1.1 0 1 0 2.1 0a1.1 1.1 0 1 0 -2.1 0M130 576.4a1 1 0 1 0 2.1 0a1 1 0 1 0 -2.1 0M69.9 587.2a1 1 0 1 0 2.1 0a1 1 0 1 0 -2.1 0M71.1 587.9a.8 .8 0 1 0 1.6 0a.8 .8 0 1 0 -1.6 0M90.9 605.9a1.2 1.2 0 1 0 2.5 0a1.2 1.2 0 1 0 -2.5 0M90.2 603.4a1.1 1.1 0 1 0 2.2 0a1.1 1.1 0 1 0 -2.2 0M93.9 603.9a.9 .9 0 1 0 1.8 0a.9 .9 0 1 0 -1.8 0M92.3 602.5a1.1 1.1 0 1 0 2.1 0a1.1 1.1 0 1 0 -2.1 0M101.4 597.4a1.6 1.6 0 1 0 3.2 0a1.6 1.6 0 1 0 -3.2 0M103.6 594a1.4 1.4 0 1 0 2.8 0a1.4 1.4 0 1 0 -2.8 0M105.7 593.2a1.2 1.2 0 1 0 2.3 0a1.2 1.2 0 1 0 -2.3 0M110.1 590.1a1.3 1.3 0 1 0 2.7 0a1.3 1.3 0 1 0 -2.7 0M110.9 590.6a1 1 0 1 0 1.9 0a1 1 0 1 0 -1.9 0M141.7 600a1 1 0 1 0 2.1 0a1 1 0 1 0 -2.1 0M84.8 629.1a1.4 1.4 0 1 0 2.8 0a1.4 1.4 0 1 0 -2.8 0M141.9 627.4a1.2 1.2 0 1 0 2.3 0a1.2 1.2 0 1 0 -2.3 0"/>
<path fill="#fafafa" fill-opacity="0.8" d="M38.5 522a1.8 1.8 0 1 0 3.5 0a1.8 1.8 0 1 0 -3.5 0M46.5 520.6a1.2 1.2 0 1 0 2.3 0a1.2 1.2 0 1 0 -2.3 0M46.8 524a1.3 1.3 0 1 0 2.6 0a1.3 1.3 0 1 0 -2.6 0M121.1 481.5a1.3 1.3 0 1 0 2.6 0a1.3 1.3 0 1 0 -2.6 0M116.5 475.5a1.5 1.5 0 1 0 3.1 0a1.5 1.5 0 1 0 -3.1 0M124.5 487.6a1.7 1.7 0 1 0 3.4 0a1.7 1.7 0 1 0 -3.4 0M123.1 476.3a1.6 1.6 0 1 0 3.3 0a1.6 1.6 0 1 0 -3.3 0M127.4 481.7a1.3 1.3 0 1 0 2.7 0a1.3 1.3 0 1 0 -2.7 0M132.5 480.8a1 1 0 1 0 1.9 0a1 1 0 1 0 -1.9 0M136.4 482.2a1.4 1.4 0 1 0 2.7 0a1.4 1.4 0 1 0 -2.7 0M133.6 482.1a1.3 1.3 0 1 0 2.7 0a1.3 1.3 0 1 0 -2.7 0M129.4 495.4a1.7 1.7 0 1 0 3.3 0a1.7 1.7 0 1 0 -3.3 0M131 497a1.3 1.3 0 1 0 2.6 0a1.3 1.3 0 1 0 -2.6 0M106.3 528.6a1.2 1.2 0 1 0 2.4 0a1.2 1.2 0 1 0 -2.4 0M105.7 529.5a1.3 1.3 0 1 0 2.7 0a1.3 1.3 0 1 0 -2.7 0M115.6 518.3a1 1 0 1 0 2 0a1 1 0 1 0 -2 0M120 529.6a1.2 1.2 0 1 0 2.4 0a1.2 1.2 0 1 0 -2.4 0M101.4 518.5a.9 .9 0 1 0 1.8 0a.9 .9 0 1 0 -1.8 0M112.7 516.6a.8 .8 0 1 0 1.6 0a.8 .8 0 1 0 -1.6 0M107.6 534.7a1.3 1.3 0 1 0 2.6 0a1.3 1.3 0 1 0 -2.6 0M118.8 537.7a1.1 1.1 0 1 0 2.2 0a1.1 1.1 0 1 0 -2.2 0M101.7 530.6a.9 .9 0 1 0 1.9 0a.9 .9 0 1 0 -1.9 0M111.3 532a1.3 1.3 0 1 0 2.5 0a1.3 1.3 0 1 0 -2.5 0M109.8 540.3a.9 .9 0 1 0 1.8 0a.9 .9 0 1 0 -1.8 0M106.6 519.7a.8 .8 0 1 0 1.6 0a.8 .8 0 1 0 -1.6 0M104.1 525.3a1.2 1.2 0 1 0 2.4 0a1.2 1.2 0 1 0 -2.4 0M110.3 547.1a1.1 1.1 0 1 0 2.1 0a1.1 1.1 0 1 0 -2.1 0M102.7 518.8a1.1 1.1 0 1 0 2.2 0a1.1 1.1 0 1 0 -2.2 0M115.1 524.1a1.3 1.3 0 1 0 2.6 0a1.3 1.3 0 1 0 -2.6 0M105.9 534.4a1.2 1.2 0 1 0 2.3 0a1.2 1.2 0 1 0 -2.3 0M107.9 520.6a1.1 1.1 0 1 0 2.2 0a1.1 1.1 0 1 0 -2.2 0M96.5 543.1a1.2 1.2 0 1 0 2.4 0a1.2 1.2 0 1 0 -2.4 0M106.7 542.5a.8 .8 0 1 0 1.6 0a.8 .8 0 1 0 -1.6 0M92.8 518.9a.9 .9 0 1 0 1.8 0a.9 .9 0 1 0 -1.8 0M114.2 533.7a1 1 0 1 0 2.1 0a1 1 0 1 0 -2.1 0M94.6 523.2a.9 .9 0 1 0 1.9 0a.9 .9 0 1 0 -1.9 0M109.9 533.2a1.2 1.2 0 1 0 2.3 0a1.2 1.2 0 1 0 -2.3 0M98 535.1a1.2 1.2 0 1 0 2.3 0a1.2 1.2 0 1 0 -2.3 0M105.5 552.4a1.4 1.4 0 1 0 2.8 0a1.4 1.4 0 1 0 -2.8 0M99.6 522.7a1 1 0 1 0 2 0a1 1 0 1 0 -2 0M120.6 535.3a1.3 1.3 0 1 0 2.7 0a1.3 1.3 0 1 0 -2.7 0M46.5 549.2a1.2 1.2 0 1 0 2.4 0a1.2 1.2 0 1 0 -2.4 0M58.7 552.2a1.6 1.6 0 1 0 3.1 0a1.6 1.6 0 1 0 -3.1 0M51.9 548.2a1.6 1.6 0 1 0 3.2 0a1.6 1.6 0 1 0 -3.2 0M50 547.1a1.2 1.2 0 1 0 2.4 0a1.2 1.2 0 1 0 -2.4 0M54.6 550.3a1.5 1.5 0 1 0 3.1 0a1.5 1.5 0 1 0 -3.1 0M115.2 571.8a1.4 1.4 0 1 0 2.7 0a1.4 1.4 0 1 0 -2.7 0M95.9 564.9a1.1 1.1 0 1 0 2.2 0a1.1 1.1 0 1 0 -2.2 0M104.4 570.3a1.1 1.1 0 1 0 2.1 0a1.1 1.1 0 1 0 -2.1 0M149.5 574.7a1.3 1.3 0 1 0 2.6 0a1.3 1.3 0 1 0 -2.6 0M149.9 576.5a1.3 1.3 0 1 0 2.6 0a1.3 1.3 0 1 0 -2.6 0M149.4 570.4a1.1 1.1 0 1 0 2.1 0a1.1 1.1 0 1 0 -2.1 0M152.3 578.9a1.6 1.6 0 1 0 3.1 0a1.6 1.6 0 1 0 -3.1 0M153.5 575.5a1.5 1.5 0 1 0 2.9 0a1.5 1.5 0 1 0 -2.9 0M150.1 580.9a1.1 1.1 0 1 0 2.3 0a1.1 1.1 0 1 0 -2.3 0M147.3 568.7a1.3 1.3 0 1 0 2.7 0a1.3 1.3 0 1 0 -2.7 0M87.9 606.8a1.3 1.3 0 1 0 2.6 0a1.3 1.3 0 1 0 -2.6 0M97.1 599.8a1.2 1.2 0 1 0 2.4 0a1.2 1.2 0 1 0 -2.4 0M100.9 598.9a1.4 1.4 0 1 0 2.7 0a1.4 1.4 0 1 0 -2.7 0M110.2 593.1a1.3 1.3 0 1 0 2.6 0a1.3 1.3 0 1 0 -2.6 0M84 629.9a1.1 1.1 0 1 0 2.3 0a1.1 1.1 0 1 0 -2.3 0M86 630.6a1.6 1.6 0 1 0 3.2 0a1.6 1.6 0 1 0 -3.2 0"/>
<path fill="#fafafa" fill-opacity="0.9" d="M42.9 521a1.3 1.3 0 1 0 2.5 0a1.3 1.3 0 1 0 -2.5 0M123.5 527.5a.9 .9 0 1 0 1.8 0a.9 .9 0 1 0 -1.8 0M110.4 510.7a1 1 0 1 0 2 0a1 1 0 1 0 -2 0M99.8 518.4a.9 .9 0 1 0 1.7 0a.9 .9 0 1 0 -1.7 0M116.8 522.2a1.1 1.1 0 1 0 2.1 0a1.1 1.1 0 1 0 -2.1 0M114 528.3a1.1 1.1 0 1 0 2.1 0a1.1 1.1 0 1 0 -2.1 0M109.1 516.9a1.4 1.4 0 1 0 2.8 0a1.4 1.4 0 1 0 -2.8 0M102.3 541.3a1.2 1.2 0 1 0 2.4 0a1.2 1.2 0 1 0 -2.4 0M110.5 531.8a1.2 1.2 0 1 0 2.4 0a1.2 1.2 0 1 0 -2.4 0M113 511a1.3 1.3 0 1 0 2.6 0a1.3 1.3 0 1 0 -2.6 0M110.3 540.1a.9 .9 0 1 0 1.8 0a.9 .9 0 1 0 -1.8 0M116.5 534a1.1 1.1 0 1 0 2.2 0a1.1 1.1 0 1 0 -2.2 0M112 537.3a.9 .9 0 1 0 1.8 0a.9 .9 0 1 0 -1.8 0M119.5 543.2a.9 .9 0 1 0 1.8 0a.9 .9 0 1 0 -1.8 0M112.6 530.9a1.4 1.4 0 1 0 2.8 0a1.4 1.4 0 1 0 -2.8 0M108.3 512.2a1 1 0 1 0 2.1 0a1 1 0 1 0 -2.1 0M97 527.5a1 1 0 1 0 2 0a1 1 0 1 0 -2 0M58.7 552.6a1.7 1.7 0 1 0 3.4 0a1.7 1.7 0 1 0 -3.4 0M42.5 552.4a1.2 1.2 0 1 0 2.3 0a1.2 1.2 0 1 0 -2.3 0M45.6 556.1a1.6 1.6 0 1 0 3.2 0a1.6 1.6 0 1 0 -3.2 0M50.9 551.6a1.2 1.2 0 1 0 2.3 0a1.2 1.2 0 1 0 -2.3 0M44.6 553a1.6 1.6 0 1 0 3.2 0a1.6 1.6 0 1 0 -3.2 0M46.8 549.6a1.4 1.4 0 1 0 2.8 0a1.4 1.4 0 1 0 -2.8 0M107.5 569.4a1.5 1.5 0 1 0 2.9 0a1.5 1.5 0 1 0 -2.9 0M107.7 565.3a1.2 1.2 0 1 0 2.4 0a1.2 1.2 0 1 0 -2.4 0M100.9 571.9a1.6 1.6 0 1 0 3.3 0a1.6 1.6 0 1 0 -3.3 0M114.3 572.1a1.2 1.2 0 1 0 2.3 0a1.2 1.2 0 1 0 -2.3 0M109.1 572.6a1.1 1.1 0 1 0 2.2 0a1.1 1.1 0 1 0 -2.2 0M104.8 570.2a1.1 1.1 0 1 0 2.2 0a1.1 1.1 0 1 0 -2.2 0M150.8 575a1 1 0 1 0 2 0a1 1 0 1 0 -2 0M96.4 601.2a.9 .9 0 1 0 1.9 0a.9 .9 0 1 0 -1.9 0M96.8 601.2a1.2 1.2 0 1 0 2.5 0a1.2 1.2 0 1 0 -2.5 0M105 594.7a1.1 1.1 0 1 0 2.2 0a1.1 1.1 0 1 0 -2.2 0M82.8 631a1.1 1.1 0 1 0 2.2 0a1.1 1.1 0 1 0 -2.2 0"/>
<path fill="#fafafa" fill-opacity="1.0" d="M42.5 522.8a1.4 1.4 0 1 0 2.7 0a1.4 1.4 0 1 0 -2.7 0M46 516.4a1.2 1.2 0 1 0 2.4 0a1.2 1.2 0 1 0 -2.4 0M134.8 477.3a1.7 1.7 0 1 0 3.4 0a1.7 1.7 0 1 0 -3.4 0M135.2 478.7a1.6 1.6 0 1 0 3.1 0a1.6 1.6 0 1 0 -3.1 0M134.6 485a1.8 1.8 0 1 0 3.6 0a1.8 1.8 0 1 0 -3.6 0M48.8 549.1a1 1 0 1 0 2 0a1 1 0 1 0 -2 0M109.3 569.2a1.5 1.5 0 1 0 3 0a1.5 1.5 0 1 0 -3 0M150.3 574.7a1.3 1.3 0 1 0 2.6 0a1.3 1.3 0 1 0 -2.6 0M152.9 572.3a1.5 1.5 0 1 0 2.9 0a1.5 1.5 0 1 0 -2.9 0"/>
<path fill="#a7a7a7" d="M51.3 559.9a.9 .9 0 1 0 1.8 0a.9 .9 0 1 0 -1.8 0M54.5 513.3a.6 .6 0 1 0 1.1 0a.6 .6 0 1 0 -1.1 0M54.9 526.5a.9 .9 0 1 0 1.7 0a.9 .9 0 1 0 -1.7 0M55.9 537.5a.8 .8 0 1 0 1.5 0a.8 .8 0 1 0 -1.5 0M49.6 474a.5 .5 0 1 0 1.1 0a.5 .5 0 1 0 -1.1 0"/>
<path fill="#a8a8a8" d="M51.8 482a1.7 1.7 0 1 0 3.4 0a1.7 1.7 0 1 0 -3.4 0M28.7 485a1.2 1.2 0 1 0 2.3 0a1.2 1.2 0 1 0 -2.3 0M29.8 483.1a1 1 0 1 0 2 0a1 1 0 1 0 -2 0M31.7 485.3a.8 .8 0 1 0 1.6 0a.8 .8 0 1 0 -1.6 0M48.5 621.1a.9 .9 0 1 0 1.8 0a.9 .9 0 1 0 -1.8 0M48.8 617.7a1 1 0 1 0 2 0a1 1 0 1 0 -2 0M47.6 618.2a1 1 0 1 0 1.9 0a1 1 0 1 0 -1.9 0M72.3 501.8a.5 .5 0 1 0 1 0a.5 .5 0 1 0 -1 0M70.9 517.5a.8 .8 0 1 0 1.5 0a.8 .8 0 1 0 -1.5 0M70 473.7a.7 .7 0 1 0 1.3 0a.7 .7 0 1 0 -1.3 0M68.3 579.2a.8 .8 0 1 0 1.6 0a.8 .8 0 1 0 -1.6 0M69.4 608.8a.8 .8 0 1 0 1.5 0a.8 .8 0 1 0 -1.5 0"/>
<path fill="#a9a9a9" d="M43.1 532.6a1.1 1.1 0 1 0 2.2 0a1.1 1.1 0 1 0 -2.2 0M42.3 533.4a.8 .8 0 1 0 1.6 0a.8 .8 0 1 0 -1.6 0M42.2 531.8a1 1 0 1 0 2.1 0a1 1 0 1 0 -2.1 0M87.4 481.7a.7 .7 0 1 0 1.4 0a.7 .7 0 1 0 -1.4 0M82.1 594.4a.9 .9 0 1 0 1.8 0a.9 .9 0 1 0 -1.8 0M77.7 514.1a.7 .7 0 1 0 1.4 0a.7 .7 0 1 0 -1.4 0M89 593.8a.7 .7 0 1 0 1.3 0a.7 .7 0 1 0 -1.3 0M87.9 630.3a.8 .8 0 1 0 1.6 0a.8 .8 0 1 0 -1.6 0M83.3 546.6a.9 .9 0 1 0 1.8 0a.9 .9 0 1 0 -1.8 0M90.2 593.3a.5 .5 0 1 0 1.1 0a.5 .5 0 1 0 -1.1 0M85.3 548.6a.6 .6 0 1 0 1.2 0a.6 .6 0 1 0 -1.2 0M84.8 518.5a.7 .7 0 1 0 1.5 0a.7 .7 0 1 0 -1.5 0M88 567.7a.9 .9 0 1 0 1.8 0a.9 .9 0 1 0 -1.8 0"/>
<path fill="#aaaaaa" d="M59.8 534.5a.8 .8 0 1 0 1.6 0a.8 .8 0 1 0 -1.6 0M60.1 531a.9 .9 0 1 0 1.8 0a.9 .9 0 1 0 -1.8 0M59.8 532.6a1 1 0 1 0 2 0a1 1 0 1 0 -2 0M54 533.8a.8 .8 0 1 0 1.7 0a.8 .8 0 1 0 -1.7 0M57.4 532.6a1.2 1.2 0 1 0 2.5 0a1.2 1.2 0 1 0 -2.5 0M61.6 572.2a1 1 0 1 0 2 0a1 1 0 1 0 -2 0M56.6 582.9a1.1 1.1 0 1 0 2.1 0a1.1 1.1 0 1 0 -2.1 0M55.6 604.3a.9 .9 0 1 0 1.7 0a.9 .9 0 1 0 -1.7 0M58.5 601.8a1.1 1.1 0 1 0 2.1 0a1.1 1.1 0 1 0 -2.1 0M58 602a1.1 1.1 0 1 0 2.1 0a1.1 1.1 0 1 0 -2.1 0M56.6 605.5a1.2 1.2 0 1 0 2.4 0a1.2 1.2 0 1 0 -2.4 0M101.6 608.4a.9 .9 0 1 0 1.8 0a.9 .9 0 1 0 -1.8 0M93.4 606.2a.6 .6 0 1 0 1.3 0a.6 .6 0 1 0 -1.3 0M101.5 544.7a.7 .7 0 1 0 1.4 0a.7 .7 0 1 0 -1.4 0M97.4 588.5a.6 .6 0 1 0 1.1 0a.6 .6 0 1 0 -1.1 0M96.1 506.6a.7 .7 0 1 0 1.5 0a.7 .7 0 1 0 -1.5 0M99 559.6a.7 .7 0 1 0 1.5 0a.7 .7 0 1 0 -1.5 0"/>
<path fill="#ababab" d="M62.1 532.3a1.1 1.1 0 1 0 2.2 0a1.1 1.1 0 1 0 -2.2 0M70.5 587.6a.9 .9 0 1 0 1.8 0a.9 .9 0 1 0 -1.8 0M72.6 592.8a.8 .8 0 1 0 1.6 0a.8 .8 0 1 0 -1.6 0M70.5 593.6a.8 .8 0 1 0 1.6 0a.8 .8 0 1 0 -1.6 0M70.6 591.6a.8 .8 0 1 0 1.6 0a.8 .8 0 1 0 -1.6 0M71.9 590.9a.9 .9 0 1 0 1.8 0a.9 .9 0 1 0 -1.8 0M71.6 588.3a.7 .7 0 1 0 1.3 0a.7 .7 0 1 0 -1.3 0M71.9 576.4a.9 .9 0 1 0 1.9 0a.9 .9 0 1 0 -1.9 0M72.1 575.4a1 1 0 1 0 2 0a1 1 0 1 0 -2 0M75.5 625.7a.8 .8 0 1 0 1.6 0a.8 .8 0 1 0 -1.6 0M115.8 492.4a.9 .9 0 1 0 1.8 0a.9 .9 0 1 0 -1.8 0M117.6 597.5a.7 .7 0 1 0 1.4 0a.7 .7 0 1 0 -1.4 0M119.6 489.3a.7 .7 0 1 0 1.4 0a.7 .7 0 1 0 -1.4 0M106.5 559.2a.8 .8 0 1 0 1.6 0a.8 .8 0 1 0 -1.6 0M119.6 551.6a.7 .7 0 1 0 1.5 0a.7 .7 0 1 0 -1.5 0"/>
<path fill="#acacac" d="M85.1 525.9a1 1 0 1 0 1.9 0a1 1 0 1 0 -1.9 0M82.9 525.5a1 1 0 1 0 2 0a1 1 0 1 0 -2 0M81.6 522.5a1.1 1.1 0 1 0 2.2 0a1.1 1.1 0 1 0 -2.2 0M80 521.7a1.1 1.1 0 1 0 2.3 0a1.1 1.1 0 1 0 -2.3 0M83.8 523.6a1 1 0 1 0 2.1 0a1 1 0 1 0 -2.1 0M78.4 463.6a1 1 0 1 0 2.1 0a1 1 0 1 0 -2.1 0M78.7 462.6a1.1 1.1 0 1 0 2.2 0a1.1 1.1 0 1 0 -2.2 0M80.2 555.9a1 1 0 1 0 2 0a1 1 0 1 0 -2 0M81.1 556.8a1.2 1.2 0 1 0 2.3 0a1.2 1.2 0 1 0 -2.3 0M84.4 562.4a.9 .9 0 1 0 1.7 0a.9 .9 0 1 0 -1.7 0M83.6 555.2a.9 .9 0 1 0 1.7 0a.9 .9 0 1 0 -1.7 0M80.2 558.1a.8 .8 0 1 0 1.6 0a.8 .8 0 1 0 -1.6 0M78.1 557.3a.8 .8 0 1 0 1.7 0a.8 .8 0 1 0 -1.7 0M78.5 585a1.5 1.5 0 1 0 3.1 0a1.5 1.5 0 1 0 -3.1 0M77.8 625.1a.8 .8 0 1 0 1.6 0a.8 .8 0 1 0 -1.6 0M77.8 627.9a.8 .8 0 1 0 1.7 0a.8 .8 0 1 0 -1.7 0M124.5 596.8a.7 .7 0 1 0 1.4 0a.7 .7 0 1 0 -1.4 0M131.6 521.8a.7 .7 0 1 0 1.3 0a.7 .7 0 1 0 -1.3 0M122.2 542.8a.9 .9 0 1 0 1.7 0a.9 .9 0 1 0 -1.7 0"/>
<path fill="#adadad" d="M94.3 464.5a1.1 1.1 0 1 0 2.2 0a1.1 1.1 0 1 0 -2.2 0M92.8 465.1a1.1 1.1 0 1 0 2.1 0a1.1 1.1 0 1 0 -2.1 0M133.9 512.4a.7 .7 0 1 0 1.5 0a.7 .7 0 1 0 -1.5 0M135.5 554.6a.7 .7 0 1 0 1.4 0a.7 .7 0 1 0 -1.4 0"/>
<path fill="#aeaeae" d="M112.3 467a.8 .8 0 1 0 1.5 0a.8 .8 0 1 0 -1.5 0M111.1 468.3a1.1 1.1 0 1 0 2.3 0a1.1 1.1 0 1 0 -2.3 0M112.1 466.7a1 1 0 1 0 2.1 0a1 1 0 1 0 -2.1 0M141.8 515.8a.9 .9 0 1 0 1.9 0a.9 .9 0 1 0 -1.9 0M144 507.5a1 1 0 1 0 2.1 0a1 1 0 1 0 -2.1 0M144.2 503.1a.8 .8 0 1 0 1.6 0a.8 .8 0 1 0 -1.6 0M142.2 511.3a.8 .8 0 1 0 1.6 0a.8 .8 0 1 0 -1.6 0M147.8 518.4a.9 .9 0 1 0 1.7 0a.9 .9 0 1 0 -1.7 0M134.1 517.3a.7 .7 0 1 0 1.4 0a.7 .7 0 1 0 -1.4 0M144.4 516.9a1 1 0 1 0 2 0a1 1 0 1 0 -2 0M141 514.8a.7 .7 0 1 0 1.5 0a.7 .7 0 1 0 -1.5 0M142.3 512a.7 .7 0 1 0 1.4 0a.7 .7 0 1 0 -1.4 0M88.5 607.2a1.1 1.1 0 1 0 2.2 0a1.1 1.1 0 1 0 -2.2 0M116.5 601a1.5 1.5 0 1 0 3.1 0a1.5 1.5 0 1 0 -3.1 0"/>
<path fill="#afafaf" d="M42.2 521.2a1.1 1.1 0 1 0 2.1 0a1.1 1.1 0 1 0 -2.1 0M39.2 522.5a1.5 1.5 0 1 0 3 0a1.5 1.5 0 1 0 -3 0M38 521.5a1.2 1.2 0 1 0 2.5 0a1.2 1.2 0 1 0 -2.5 0M42.7 523a1.5 1.5 0 1 0 2.9 0a1.5 1.5 0 1 0 -2.9 0M43.5 521.4a1.1 1.1 0 1 0 2.2 0a1.1 1.1 0 1 0 -2.2 0M47.1 521a1 1 0 1 0 2 0a1 1 0 1 0 -2 0M43.1 523.2a1.2 1.2 0 1 0 2.3 0a1.2 1.2 0 1 0 -2.3 0M45.5 523.6a1 1 0 1 0 2 0a1 1 0 1 0 -2 0M45.3 526.2a1.2 1.2 0 1 0 2.5 0a1.2 1.2 0 1 0 -2.5 0M47 525.8a1 1 0 1 0 2 0a1 1 0 1 0 -2 0M44 518.2a1.5 1.5 0 1 0 3.1 0a1.5 1.5 0 1 0 -3.1 0M46.6 516.8a1 1 0 1 0 2 0a1 1 0 1 0 -2 0M43 528.6a1.2 1.2 0 1 0 2.3 0a1.2 1.2 0 1 0 -2.3 0M38.3 522.1a1.5 1.5 0 1 0 3 0a1.5 1.5 0 1 0 -3 0M94.3 534.9a.8 .8 0 1 0 1.7 0a.8 .8 0 1 0 -1.7 0M102.8 513.2a1.1 1.1 0 1 0 2.1 0a1.1 1.1 0 1 0 -2.1 0M100.3 518.8a.7 .7 0 1 0 1.5 0a.7 .7 0 1 0 -1.5 0M101.3 543.1a.9 .9 0 1 0 1.9 0a.9 .9 0 1 0 -1.9 0M98.6 536.1a1 1 0 1 0 1.9 0a1 1 0 1 0 -1.9 0M101.9 518.9a.8 .8 0 1 0 1.5 0a.8 .8 0 1 0 -1.5 0M93.5 544.2a1 1 0 1 0 2.1 0a1 1 0 1 0 -2.1 0M103.5 520a.8 .8 0 1 0 1.5 0a.8 .8 0 1 0 -1.5 0M103.6 536.4a1 1 0 1 0 2 0a1 1 0 1 0 -2 0M98.4 517a.7 .7 0 1 0 1.4 0a.7 .7 0 1 0 -1.4 0M97.4 536.6a.7 .7 0 1 0 1.3 0a.7 .7 0 1 0 -1.3 0M102.2 531a.8 .8 0 1 0 1.6 0a.8 .8 0 1 0 -1.6 0M102.9 541.7a1 1 0 1 0 2.1 0a1 1 0 1 0 -2.1 0M98.7 525.3a1 1 0 1 0 2 0a1 1 0 1 0 -2 0M101.4 536.3a.7 .7 0 1 0 1.4 0a.7 .7 0 1 0 -1.4 0M91.9 525a.9 .9 0 1 0 1.9 0a.9 .9 0 1 0 -1.9 0M99.1 514.6a.6 .6 0 1 0 1.3 0a.6 .6 0 1 0 -1.3 0M104.7 525.7a1 1 0 1 0 2.1 0a1 1 0 1 0 -2.1 0M103.3 519.2a.9 .9 0 1 0 1.8 0a.9 .9 0 1 0 -1.8 0M94.2 527.5a1.1 1.1 0 1 0 2.1 0a1.1 1.1 0 1 0 -2.1 0M103.1 525.8a.7 .7 0 1 0 1.4 0a.7 .7 0 1 0 -1.4 0M97.1 543.5a1 1 0 1 0 2 0a1 1 0 1 0 -2 0M93.4 519.3a.8 .8 0 1 0 1.6 0a.8 .8 0 1 0 -1.6 0M102.8 529a1.1 1.1 0 1 0 2.2 0a1.1 1.1 0 1 0 -2.2 0M101 527.8a.8 .8 0 1 0 1.6 0a.8 .8 0 1 0 -1.6 0M95.2 523.6a.8 .8 0 1 0 1.6 0a.8 .8 0 1 0 -1.6 0M94.4 541.5a.9 .9 0 1 0 1.9 0a.9 .9 0 1 0 -1.9 0M98.6 535.5a1 1 0 1 0 2 0a1 1 0 1 0 -2 0M102.2 536.2a.8 .8 0 1 0 1.7 0a.8 .8 0 1 0 -1.7 0M101.4 542.7a.7 .7 0 1 0 1.3 0a.7 .7 0 1 0 -1.3 0M94 528.3a1.1 1.1 0 1 0 2.2 0a1.1 1.1 0 1 0 -2.2 0M104.3 525a.6 .6 0 1 0 1.3 0a.6 .6 0 1 0 -1.3 0M93.4 521.2a.7 .7 0 1 0 1.4 0a.7 .7 0 1 0 -1.4 0M103.3 544.6a1 1 0 1 0 2.1 0a1 1 0 1 0 -2.1 0M99.7 538.9a.7 .7 0 1 0 1.4 0a.7 .7 0 1 0 -1.4 0M100.8 526.1a1 1 0 1 0 2 0a1 1 0 1 0 -2 0M100.1 523.1a.8 .8 0 1 0 1.7 0a.8 .8 0 1 0 -1.7 0M97.6 527.9a.9 .9 0 1 0 1.7 0a.9 .9 0 1 0 -1.7 0M45.2 551.3a1.1 1.1 0 1 0 2.2 0a1.1 1.1 0 1 0 -2.2 0M47.1 549.6a1 1 0 1 0 2.1 0a1 1 0 1 0 -2.1 0M43.1 552.8a1 1 0 1 0 2 0a1 1 0 1 0 -2 0M46.3 556.5a1.4 1.4 0 1 0 2.7 0a1.4 1.4 0 1 0 -2.7 0M45.3 553.5a1.4 1.4 0 1 0 2.8 0a1.4 1.4 0 1 0 -2.8 0M45 551.5a1.2 1.2 0 1 0 2.3 0a1.2 1.2 0 1 0 -2.3 0M133.8 563.9a.8 .8 0 1 0 1.7 0a.8 .8 0 1 0 -1.7 0M131.2 577a.9 .9 0 1 0 1.8 0a.9 .9 0 1 0 -1.8 0M127.8 575.6a1 1 0 1 0 2 0a1 1 0 1 0 -2 0M130.6 576.8a.9 .9 0 1 0 1.8 0a.9 .9 0 1 0 -1.8 0M91.4 606.3a1.1 1.1 0 1 0 2.1 0a1.1 1.1 0 1 0 -2.1 0M90.8 603.8a.9 .9 0 1 0 1.9 0a.9 .9 0 1 0 -1.9 0M93.3 604.1a1.3 1.3 0 1 0 2.6 0a1.3 1.3 0 1 0 -2.6 0M94.4 604.3a.8 .8 0 1 0 1.6 0a.8 .8 0 1 0 -1.6 0M92.8 602.9a.9 .9 0 1 0 1.8 0a.9 .9 0 1 0 -1.8 0M97 601.6a.8 .8 0 1 0 1.6 0a.8 .8 0 1 0 -1.6 0M97.4 601.6a1.1 1.1 0 1 0 2.1 0a1.1 1.1 0 1 0 -2.1 0M97.7 600.2a1 1 0 1 0 2 0a1 1 0 1 0 -2 0M101.5 599.3a1.2 1.2 0 1 0 2.3 0a1.2 1.2 0 1 0 -2.3 0M102.1 597.9a1.4 1.4 0 1 0 2.7 0a1.4 1.4 0 1 0 -2.7 0M100.3 598.1a.8 .8 0 1 0 1.6 0a.8 .8 0 1 0 -1.6 0M104.4 596.9a1.2 1.2 0 1 0 2.4 0a1.2 1.2 0 1 0 -2.4 0M104.1 596.5a1.3 1.3 0 1 0 2.7 0a1.3 1.3 0 1 0 -2.7 0M104.2 594.4a1.2 1.2 0 1 0 2.4 0a1.2 1.2 0 1 0 -2.4 0M132.8 607.8a.9 .9 0 1 0 1.8 0a.9 .9 0 1 0 -1.8 0M130.4 607a.9 .9 0 1 0 1.8 0a.9 .9 0 1 0 -1.8 0M133.1 611.9a.9 .9 0 1 0 1.8 0a.9 .9 0 1 0 -1.8 0M133.6 629a1 1 0 1 0 1.9 0a1 1 0 1 0 -1.9 0"/>
<path fill="#b0b0b0" d="M48.2 520.2a1.4 1.4 0 1 0 2.7 0a1.4 1.4 0 1 0 -2.7 0M49.9 521.3a1.4 1.4 0 1 0 2.8 0a1.4 1.4 0 1 0 -2.8 0M47.4 524.4a1.1 1.1 0 1 0 2.2 0a1.1 1.1 0 1 0 -2.2 0M48.9 517.4a1.1 1.1 0 1 0 2.2 0a1.1 1.1 0 1 0 -2.2 0M116.3 482.8a1.1 1.1 0 1 0 2.2 0a1.1 1.1 0 1 0 -2.2 0M117.2 475.9a1.3 1.3 0 1 0 2.6 0a1.3 1.3 0 1 0 -2.6 0M115.2 479.3a1.3 1.3 0 1 0 2.6 0a1.3 1.3 0 1 0 -2.6 0M115.2 481.6a1.4 1.4 0 1 0 2.8 0a1.4 1.4 0 1 0 -2.8 0M108.9 520.7a.9 .9 0 1 0 1.7 0a.9 .9 0 1 0 -1.7 0M106.8 529a1 1 0 1 0 2 0a1 1 0 1 0 -2 0M106.3 529.9a1.1 1.1 0 1 0 2.3 0a1.1 1.1 0 1 0 -2.3 0M116.1 518.7a.8 .8 0 1 0 1.7 0a.8 .8 0 1 0 -1.7 0M111 511.1a.8 .8 0 1 0 1.7 0a.8 .8 0 1 0 -1.7 0M115.4 534.1a.9 .9 0 1 0 1.7 0a.9 .9 0 1 0 -1.7 0M113.7 532.1a.8 .8 0 1 0 1.6 0a.8 .8 0 1 0 -1.6 0M117.3 522.6a.9 .9 0 1 0 1.8 0a.9 .9 0 1 0 -1.8 0M108 526.8a1.1 1.1 0 1 0 2.3 0a1.1 1.1 0 1 0 -2.3 0M113.1 540.7a1 1 0 1 0 1.9 0a1 1 0 1 0 -1.9 0M115 530.7a.6 .6 0 1 0 1.2 0a.6 .6 0 1 0 -1.2 0M111.1 528.6a1.1 1.1 0 1 0 2.3 0a1.1 1.1 0 1 0 -2.3 0M114.6 528.7a.9 .9 0 1 0 1.8 0a.9 .9 0 1 0 -1.8 0M113.2 517a.7 .7 0 1 0 1.3 0a.7 .7 0 1 0 -1.3 0M108.9 533.3a.9 .9 0 1 0 1.8 0a.9 .9 0 1 0 -1.8 0M109.7 517.3a1.2 1.2 0 1 0 2.4 0a1.2 1.2 0 1 0 -2.4 0M108.2 535.1a1.1 1.1 0 1 0 2.3 0a1.1 1.1 0 1 0 -2.3 0M119.4 538.1a.9 .9 0 1 0 1.8 0a.9 .9 0 1 0 -1.8 0M111.9 532.4a1.1 1.1 0 1 0 2.2 0a1.1 1.1 0 1 0 -2.2 0M110.4 540.7a.7 .7 0 1 0 1.5 0a.7 .7 0 1 0 -1.5 0M105.2 533.5a1.1 1.1 0 1 0 2.2 0a1.1 1.1 0 1 0 -2.2 0M113.4 533.3a1 1 0 1 0 2 0a1 1 0 1 0 -2 0M106.1 514.1a.8 .8 0 1 0 1.5 0a.8 .8 0 1 0 -1.5 0M107.1 520.1a.7 .7 0 1 0 1.3 0a.7 .7 0 1 0 -1.3 0M116 524.2a1.1 1.1 0 1 0 2.1 0a1.1 1.1 0 1 0 -2.1 0M113.4 525.2a.8 .8 0 1 0 1.6 0a.8 .8 0 1 0 -1.6 0M113.6 524.2a.6 .6 0 1 0 1.2 0a.6 .6 0 1 0 -1.2 0M111.1 532.2a1 1 0 1 0 2.1 0a1 1 0 1 0 -2.1 0M110.9 547.5a.9 .9 0 1 0 1.8 0a.9 .9 0 1 0 -1.8 0M115.7 524.5a1.1 1.1 0 1 0 2.2 0a1.1 1.1 0 1 0 -2.2 0M113.6 511.4a1.1 1.1 0 1 0 2.2 0a1.1 1.1 0 1 0 -2.2 0M116.6 543.7a1.2 1.2 0 1 0 2.4 0a1.2 1.2 0 1 0 -2.4 0M110.8 540.5a.8 .8 0 1 0 1.5 0a.8 .8 0 1 0 -1.5 0M106.5 534.8a1 1 0 1 0 2 0a1 1 0 1 0 -2 0M117.1 534.4a.9 .9 0 1 0 1.9 0a.9 .9 0 1 0 -1.9 0M112.6 534.2a.7 .7 0 1 0 1.4 0a.7 .7 0 1 0 -1.4 0M108.4 521a.9 .9 0 1 0 1.8 0a.9 .9 0 1 0 -1.8 0M106.7 551.8a1.1 1.1 0 1 0 2.3 0a1.1 1.1 0 1 0 -2.3 0M118 526.8a.7 .7 0 1 0 1.5 0a.7 .7 0 1 0 -1.5 0M110.8 520.2a.9 .9 0 1 0 1.8 0a.9 .9 0 1 0 -1.8 0M112.5 537.7a.7 .7 0 1 0 1.5 0a.7 .7 0 1 0 -1.5 0M107.2 542.9a.7 .7 0 1 0 1.4 0a.7 .7 0 1 0 -1.4 0M115.3 511.8a1.1 1.1 0 1 0 2.2 0a1.1 1.1 0 1 0 -2.2 0M107.3 525.4a.9 .9 0 1 0 1.8 0a.9 .9 0 1 0 -1.8 0M111.2 527.7a1.1 1.1 0 1 0 2.2 0a1.1 1.1 0 1 0 -2.2 0M114.8 534.1a.9 .9 0 1 0 1.7 0a.9 .9 0 1 0 -1.7 0M106.6 525.4a.8 .8 0 1 0 1.7 0a.8 .8 0 1 0 -1.7 0M114.6 516.6a.6 .6 0 1 0 1.2 0a.6 .6 0 1 0 -1.2 0M109 543.4a.9 .9 0 1 0 1.7 0a.9 .9 0 1 0 -1.7 0M109.9 523.2a1 1 0 1 0 1.9 0a1 1 0 1 0 -1.9 0M107.7 537a1 1 0 1 0 2.1 0a1 1 0 1 0 -2.1 0M110.5 533.6a1 1 0 1 0 2 0a1 1 0 1 0 -2 0M110.7 534.5a.8 .8 0 1 0 1.7 0a.8 .8 0 1 0 -1.7 0M111.2 515.1a1 1 0 1 0 1.9 0a1 1 0 1 0 -1.9 0M112 511.1a1 1 0 1 0 1.9 0a1 1 0 1 0 -1.9 0M117.3 522.5a.8 .8 0 1 0 1.6 0a.8 .8 0 1 0 -1.6 0M105.3 521.2a1.1 1.1 0 1 0 2.3 0a1.1 1.1 0 1 0 -2.3 0M106.1 552.8a1.2 1.2 0 1 0 2.4 0a1.2 1.2 0 1 0 -2.4 0M113.3 531.3a1.2 1.2 0 1 0 2.4 0a1.2 1.2 0 1 0 -2.4 0M108.8 528.2a.7 .7 0 1 0 1.4 0a.7 .7 0 1 0 -1.4 0M108.9 512.6a.9 .9 0 1 0 1.8 0a.9 .9 0 1 0 -1.8 0M113.7 521.5a.9 .9 0 1 0 1.7 0a.9 .9 0 1 0 -1.7 0M108.1 521.1a.9 .9 0 1 0 1.9 0a.9 .9 0 1 0 -1.9 0M59.4 553a1.4 1.4 0 1 0 2.9 0a1.4 1.4 0 1 0 -2.9 0M51.9 549.1a1.3 1.3 0 1 0 2.6 0a1.3 1.3 0 1 0 -2.6 0M50.7 550a1 1 0 1 0 2 0a1 1 0 1 0 -2 0M59.3 552.7a1.3 1.3 0 1 0 2.7 0a1.3 1.3 0 1 0 -2.7 0M49.4 549.5a.9 .9 0 1 0 1.7 0a.9 .9 0 1 0 -1.7 0M55.8 549.5a1 1 0 1 0 1.9 0a1 1 0 1 0 -1.9 0M52.6 548.7a1.3 1.3 0 1 0 2.7 0a1.3 1.3 0 1 0 -2.7 0M54.6 556a1.4 1.4 0 1 0 2.9 0a1.4 1.4 0 1 0 -2.9 0M54.1 556.3a.9 .9 0 1 0 1.8 0a.9 .9 0 1 0 -1.8 0M48.7 550.5a1 1 0 1 0 2 0a1 1 0 1 0 -2 0M51.5 552a1 1 0 1 0 2 0a1 1 0 1 0 -2 0M48.4 547.7a1.2 1.2 0 1 0 2.5 0a1.2 1.2 0 1 0 -2.5 0M49.4 552.4a1.3 1.3 0 1 0 2.7 0a1.3 1.3 0 1 0 -2.7 0M50.6 547.5a1 1 0 1 0 2 0a1 1 0 1 0 -2 0M55.3 550.8a1.3 1.3 0 1 0 2.6 0a1.3 1.3 0 1 0 -2.6 0M47.4 550a1.2 1.2 0 1 0 2.4 0a1.2 1.2 0 1 0 -2.4 0M134.7 560a.9 .9 0 1 0 1.8 0a.9 .9 0 1 0 -1.8 0M134.4 564.5a.9 .9 0 1 0 1.7 0a.9 .9 0 1 0 -1.7 0M107.6 592.2a1.4 1.4 0 1 0 2.7 0a1.4 1.4 0 1 0 -2.7 0M105.5 595.1a.9 .9 0 1 0 1.8 0a.9 .9 0 1 0 -1.8 0M106.2 593.6a1 1 0 1 0 2 0a1 1 0 1 0 -2 0M110.7 590.5a1.1 1.1 0 1 0 2.3 0a1.1 1.1 0 1 0 -2.3 0M111.5 591a.8 .8 0 1 0 1.6 0a.8 .8 0 1 0 -1.6 0M110.8 593.5a1.1 1.1 0 1 0 2.2 0a1.1 1.1 0 1 0 -2.2 0M143.9 599.4a1.1 1.1 0 1 0 2.2 0a1.1 1.1 0 1 0 -2.2 0M142.4 598.5a.9 .9 0 1 0 1.7 0a.9 .9 0 1 0 -1.7 0M142.2 600.4a.9 .9 0 1 0 1.8 0a.9 .9 0 1 0 -1.8 0M84.6 630.3a1 1 0 1 0 1.9 0a1 1 0 1 0 -1.9 0M85.4 629.5a1.2 1.2 0 1 0 2.3 0a1.2 1.2 0 1 0 -2.3 0M86.7 631a1.4 1.4 0 1 0 2.7 0a1.4 1.4 0 1 0 -2.7 0M83.4 631.4a.9 .9 0 1 0 1.8 0a.9 .9 0 1 0 -1.8 0M140.6 629.2a.9 .9 0 1 0 1.8 0a.9 .9 0 1 0 -1.8 0M142.5 627.8a1 1 0 1 0 2 0a1 1 0 1 0 -2 0M141 631.3a.8 .8 0 1 0 1.6 0a.8 .8 0 1 0 -1.6 0M143.3 627.7a.8 .8 0 1 0 1.6 0a.8 .8 0 1 0 -1.6 0"/>
<path fill="#b1b1b1" d="M126.8 472a1.4 1.4 0 1 0 2.7 0a1.4 1.4 0 1 0 -2.7 0M121.7 481.9a1.1 1.1 0 1 0 2.2 0a1.1 1.1 0 1 0 -2.2 0M122.4 482.3a1.1 1.1 0 1 0 2.1 0a1.1 1.1 0 1 0 -2.1 0M129.2 479.5a.8 .8 0 1 0 1.6 0a.8 .8 0 1 0 -1.6 0M131.2 481.6a1.2 1.2 0 1 0 2.3 0a1.2 1.2 0 1 0 -2.3 0M125.9 480.2a1.1 1.1 0 1 0 2.1 0a1.1 1.1 0 1 0 -2.1 0M123.4 482.1a.8 .8 0 1 0 1.6 0a.8 .8 0 1 0 -1.6 0M125.1 484.2a.9 .9 0 1 0 1.8 0a.9 .9 0 1 0 -1.8 0M122.3 477.6a1 1 0 1 0 1.9 0a1 1 0 1 0 -1.9 0M124.6 479.1a1.4 1.4 0 1 0 2.8 0a1.4 1.4 0 1 0 -2.8 0M129.7 475.3a1.4 1.4 0 1 0 2.8 0a1.4 1.4 0 1 0 -2.8 0M125.1 485.9a1.3 1.3 0 1 0 2.6 0a1.3 1.3 0 1 0 -2.6 0M125.3 488a1.4 1.4 0 1 0 2.9 0a1.4 1.4 0 1 0 -2.9 0M123.8 476.7a1.4 1.4 0 1 0 2.8 0a1.4 1.4 0 1 0 -2.8 0M128 482.1a1.1 1.1 0 1 0 2.3 0a1.1 1.1 0 1 0 -2.3 0M133 481.2a.8 .8 0 1 0 1.6 0a.8 .8 0 1 0 -1.6 0M132.1 496.4a1.4 1.4 0 1 0 2.9 0a1.4 1.4 0 1 0 -2.9 0M130.1 495.9a1.4 1.4 0 1 0 2.8 0a1.4 1.4 0 1 0 -2.8 0M131.6 497.4a1.1 1.1 0 1 0 2.2 0a1.1 1.1 0 1 0 -2.2 0M130.9 497.6a1 1 0 1 0 1.9 0a1 1 0 1 0 -1.9 0M132.1 493.4a1.1 1.1 0 1 0 2.1 0a1.1 1.1 0 1 0 -2.1 0M132.7 494.8a1.2 1.2 0 1 0 2.3 0a1.2 1.2 0 1 0 -2.3 0M130.3 496.1a1.1 1.1 0 1 0 2.1 0a1.1 1.1 0 1 0 -2.1 0M124.1 527.9a.7 .7 0 1 0 1.5 0a.7 .7 0 1 0 -1.5 0M120.6 530a1 1 0 1 0 2 0a1 1 0 1 0 -2 0M120 532.1a1 1 0 1 0 2.1 0a1 1 0 1 0 -2.1 0M120.5 529.5a1.1 1.1 0 1 0 2.2 0a1.1 1.1 0 1 0 -2.2 0M124 519.2a.6 .6 0 1 0 1.2 0a.6 .6 0 1 0 -1.2 0M121.1 529.1a.7 .7 0 1 0 1.5 0a.7 .7 0 1 0 -1.5 0M120.6 547a.9 .9 0 1 0 1.8 0a.9 .9 0 1 0 -1.8 0M120 543.6a.8 .8 0 1 0 1.5 0a.8 .8 0 1 0 -1.5 0M121.2 535.7a1.1 1.1 0 1 0 2.3 0a1.1 1.1 0 1 0 -2.3 0M95.1 568.6a1.1 1.1 0 1 0 2.1 0a1.1 1.1 0 1 0 -2.1 0M102.8 570.7a1 1 0 1 0 2 0a1 1 0 1 0 -2 0M96.5 565.3a.9 .9 0 1 0 1.9 0a.9 .9 0 1 0 -1.9 0M104.4 566.4a.9 .9 0 1 0 1.9 0a.9 .9 0 1 0 -1.9 0M91.8 570.3a.8 .8 0 1 0 1.6 0a.8 .8 0 1 0 -1.6 0M103.5 562.3a.9 .9 0 1 0 1.8 0a.9 .9 0 1 0 -1.8 0M102.5 572.8a1.4 1.4 0 1 0 2.8 0a1.4 1.4 0 1 0 -2.8 0M103.4 565.9a1 1 0 1 0 2 0a1 1 0 1 0 -2 0M105 570.7a.9 .9 0 1 0 1.8 0a.9 .9 0 1 0 -1.8 0M96.7 561.6a.9 .9 0 1 0 1.8 0a.9 .9 0 1 0 -1.8 0M100.2 565.1a1 1 0 1 0 1.9 0a1 1 0 1 0 -1.9 0M101.6 572.3a1.4 1.4 0 1 0 2.8 0a1.4 1.4 0 1 0 -2.8 0M99.5 570.2a1.4 1.4 0 1 0 2.8 0a1.4 1.4 0 1 0 -2.8 0M100.2 560.2a.8 .8 0 1 0 1.6 0a.8 .8 0 1 0 -1.6 0M101.1 567.9a1 1 0 1 0 2 0a1 1 0 1 0 -2 0"/>
<path fill="#b2b2b2" d="M133.9 491.6a1.1 1.1 0 1 0 2.3 0a1.1 1.1 0 1 0 -2.3 0M136.1 502.6a.9 .9 0 1 0 1.7 0a.9 .9 0 1 0 -1.7 0M115.8 572.2a1.2 1.2 0 1 0 2.3 0a1.2 1.2 0 1 0 -2.3 0M108.6 562.6a.8 .8 0 1 0 1.6 0a.8 .8 0 1 0 -1.6 0M109.9 569.7a1.3 1.3 0 1 0 2.6 0a1.3 1.3 0 1 0 -2.6 0M106.9 571.5a1 1 0 1 0 1.9 0a1 1 0 1 0 -1.9 0M112.1 567.9a.8 .8 0 1 0 1.6 0a.8 .8 0 1 0 -1.6 0M108.1 569.8a1.2 1.2 0 1 0 2.5 0a1.2 1.2 0 1 0 -2.5 0M108.3 565.7a1 1 0 1 0 2.1 0a1 1 0 1 0 -2.1 0M114.8 572.5a1 1 0 1 0 2 0a1 1 0 1 0 -2 0M109 569.8a.9 .9 0 1 0 1.9 0a.9 .9 0 1 0 -1.9 0M109.6 573a.9 .9 0 1 0 1.9 0a.9 .9 0 1 0 -1.9 0M105.3 570.6a1 1 0 1 0 1.9 0a1 1 0 1 0 -1.9 0"/>
<path fill="#b6b6b6" d="M134.9 487.2a1.1 1.1 0 1 0 2.2 0a1.1 1.1 0 1 0 -2.2 0M135.5 477.8a1.4 1.4 0 1 0 2.9 0a1.4 1.4 0 1 0 -2.9 0M137 482.6a1.2 1.2 0 1 0 2.3 0a1.2 1.2 0 1 0 -2.3 0M135.9 479.1a1.3 1.3 0 1 0 2.7 0a1.3 1.3 0 1 0 -2.7 0M135.4 485.5a1.5 1.5 0 1 0 3 0a1.5 1.5 0 1 0 -3 0M134.2 482.5a1.1 1.1 0 1 0 2.3 0a1.1 1.1 0 1 0 -2.3 0M146.4 580.5a1 1 0 1 0 2 0a1 1 0 1 0 -2 0M147.9 569.1a1.1 1.1 0 1 0 2.3 0a1.1 1.1 0 1 0 -2.3 0"/>
<path fill="#b7b7b7" d="M151.3 575.4a.9 .9 0 1 0 1.7 0a.9 .9 0 1 0 -1.7 0M149.2 581a1.5 1.5 0 1 0 2.9 0a1.5 1.5 0 1 0 -2.9 0M152.2 571.3a1.3 1.3 0 1 0 2.6 0a1.3 1.3 0 1 0 -2.6 0M150.1 575.1a1.1 1.1 0 1 0 2.2 0a1.1 1.1 0 1 0 -2.2 0M150.5 576.9a1.1 1.1 0 1 0 2.2 0a1.1 1.1 0 1 0 -2.2 0M149.9 570.8a.9 .9 0 1 0 1.8 0a.9 .9 0 1 0 -1.8 0M153 579.3a1.3 1.3 0 1 0 2.7 0a1.3 1.3 0 1 0 -2.7 0M153.9 574.7a1.1 1.1 0 1 0 2.2 0a1.1 1.1 0 1 0 -2.2 0M154.1 575.9a1.2 1.2 0 1 0 2.5 0a1.2 1.2 0 1 0 -2.5 0M150.9 575.1a1.1 1.1 0 1 0 2.2 0a1.1 1.1 0 1 0 -2.2 0M150.7 581.3a1 1 0 1 0 2 0a1 1 0 1 0 -2 0M153.5 572.7a1.2 1.2 0 1 0 2.5 0a1.2 1.2 0 1 0 -2.5 0"/>
</g></g>
<clipPath id="cp2"><rect x="157.0" y="548.6" width="93.00" height="84.00"/></clipPath>
<g clip-path="url(#cp2)">
<rect x="157.0" y="548.6" width="93.00" height="84.00" fill="#b3b3b3"/>
<g filter="url(#soft)">
<path fill="#404040" fill-opacity="0.2" d="M188.5 589.3a.7 .7 0 1 0 1.4 0a.7 .7 0 1 0 -1.4 0M194.1 606.2a.9 .9 0 1 0 1.9 0a.9 .9 0 1 0 -1.9 0M174.7 615.3a1.4 1.4 0 1 0 2.7 0a1.4 1.4 0 1 0 -2.7 0M170.9 587.2a1.2 1.2 0 1 0 2.3 0a1.2 1.2 0 1 0 -2.3 0M189 607.8a.9 .9 0 1 0 1.9 0a.9 .9 0 1 0 -1.9 0M181.7 574.6a1.2 1.2 0 1 0 2.4 0a1.2 1.2 0 1 0 -2.4 0M186.6 564.5a1.1 1.1 0 1 0 2.3 0a1.1 1.1 0 1 0 -2.3 0M174.7 596.1a.7 .7 0 1 0 1.5 0a.7 .7 0 1 0 -1.5 0M188.2 598.4a.9 .9 0 1 0 1.8 0a.9 .9 0 1 0 -1.8 0M181.6 598a1 1 0 1 0 2.1 0a1 1 0 1 0 -2.1 0M184 587.8a1 1 0 1 0 1.9 0a1 1 0 1 0 -1.9 0M174.4 593.9a.9 .9 0 1 0 1.7 0a.9 .9 0 1 0 -1.7 0M178.8 583.9a1.3 1.3 0 1 0 2.6 0a1.3 1.3 0 1 0 -2.6 0M167.7 591.6a.7 .7 0 1 0 1.5 0a.7 .7 0 1 0 -1.5 0M183 589.6a1 1 0 1 0 1.9 0a1 1 0 1 0 -1.9 0M165.2 590a1.3 1.3 0 1 0 2.5 0a1.3 1.3 0 1 0 -2.5 0M184.9 599.7a.7 .7 0 1 0 1.5 0a.7 .7 0 1 0 -1.5 0M181.8 594.5a.9 .9 0 1 0 1.8 0a.9 .9 0 1 0 -1.8 0M179 599.4a1 1 0 1 0 2.1 0a1 1 0 1 0 -2.1 0M179.8 594.4a1.4 1.4 0 1 0 2.7 0a1.4 1.4 0 1 0 -2.7 0M188.1 599.3a.9 .9 0 1 0 1.8 0a.9 .9 0 1 0 -1.8 0M188.3 570.7a1 1 0 1 0 1.9 0a1 1 0 1 0 -1.9 0M187.9 595.6a1 1 0 1 0 2 0a1 1 0 1 0 -2 0M176.5 604.2a1.1 1.1 0 1 0 2.2 0a1.1 1.1 0 1 0 -2.2 0M196.9 597.2a.9 .9 0 1 0 1.8 0a.9 .9 0 1 0 -1.8 0M175.2 570.1a.9 .9 0 1 0 1.7 0a.9 .9 0 1 0 -1.7 0M184.4 597a1.1 1.1 0 1 0 2.1 0a1.1 1.1 0 1 0 -2.1 0M166.1 598.4a1.1 1.1 0 1 0 2.2 0a1.1 1.1 0 1 0 -2.2 0M175.4 581.8a1 1 0 1 0 2 0a1 1 0 1 0 -2 0M175.3 599.3a1.1 1.1 0 1 0 2.3 0a1.1 1.1 0 1 0 -2.3 0M179.5 612.3a.7 .7 0 1 0 1.5 0a.7 .7 0 1 0 -1.5 0M188.6 577.2a.8 .8 0 1 0 1.6 0a.8 .8 0 1 0 -1.6 0M180.9 616.3a1.3 1.3 0 1 0 2.5 0a1.3 1.3 0 1 0 -2.5 0M187 574.5a1.3 1.3 0 1 0 2.6 0a1.3 1.3 0 1 0 -2.6 0M187.7 601.8a1.3 1.3 0 1 0 2.6 0a1.3 1.3 0 1 0 -2.6 0M179.4 597.2a.9 .9 0 1 0 1.7 0a.9 .9 0 1 0 -1.7 0M165.5 602.2a.9 .9 0 1 0 1.9 0a.9 .9 0 1 0 -1.9 0M191.2 604.9a.9 .9 0 1 0 1.7 0a.9 .9 0 1 0 -1.7 0M177.5 574.9a1.1 1.1 0 1 0 2.2 0a1.1 1.1 0 1 0 -2.2 0M186.7 595.6a1 1 0 1 0 2.1 0a1 1 0 1 0 -2.1 0M195.3 567.5a.9 .9 0 1 0 1.9 0a.9 .9 0 1 0 -1.9 0M188.5 599.6a1.2 1.2 0 1 0 2.5 0a1.2 1.2 0 1 0 -2.5 0M198.2 602.1a1.4 1.4 0 1 0 2.8 0a1.4 1.4 0 1 0 -2.8 0M183.9 580.7a1 1 0 1 0 2 0a1 1 0 1 0 -2 0M187.5 575.8a1.1 1.1 0 1 0 2.1 0a1.1 1.1 0 1 0 -2.1 0M179.6 566.7a.7 .7 0 1 0 1.5 0a.7 .7 0 1 0 -1.5 0M165.5 610.7a1 1 0 1 0 2 0a1 1 0 1 0 -2 0M185.7 600.7a.9 .9 0 1 0 1.7 0a.9 .9 0 1 0 -1.7 0M176.4 590.7a1.2 1.2 0 1 0 2.5 0a1.2 1.2 0 1 0 -2.5 0M160.6 589.3a.9 .9 0 1 0 1.8 0a.9 .9 0 1 0 -1.8 0M186.7 608.3a1.1 1.1 0 1 0 2.2 0a1.1 1.1 0 1 0 -2.2 0M172.8 586.8a.9 .9 0 1 0 1.7 0a.9 .9 0 1 0 -1.7 0M171.1 576.6a1.3 1.3 0 1 0 2.7 0a1.3 1.3 0 1 0 -2.7 0M171.2 601.7a1.2 1.2 0 1 0 2.4 0a1.2 1.2 0 1 0 -2.4 0M166.3 594.7a1.2 1.2 0 1 0 2.5 0a1.2 1.2 0 1 0 -2.5 0M171 580.5a.9 .9 0 1 0 1.7 0a.9 .9 0 1 0 -1.7 0M172.1 583.4a1.1 1.1 0 1 0 2.2 0a1.1 1.1 0 1 0 -2.2 0M195.3 617.8a1.1 1.1 0 1 0 2.3 0a1.1 1.1 0 1 0 -2.3 0M185.8 607.8a.7 .7 0 1 0 1.5 0a.7 .7 0 1 0 -1.5 0M184.3 608.4a1.2 1.2 0 1 0 2.4 0a1.2 1.2 0 1 0 -2.4 0M189 606.1a.8 .8 0 1 0 1.6 0a.8 .8 0 1 0 -1.6 0M192.5 566.8a1.3 1.3 0 1 0 2.6 0a1.3 1.3 0 1 0 -2.6 0M182.5 587.1a1.1 1.1 0 1 0 2.3 0a1.1 1.1 0 1 0 -2.3 0M171 606.3a1.1 1.1 0 1 0 2.1 0a1.1 1.1 0 1 0 -2.1 0M187.9 591a1.2 1.2 0 1 0 2.4 0a1.2 1.2 0 1 0 -2.4 0M182.6 582.4a1.1 1.1 0 1 0 2.2 0a1.1 1.1 0 1 0 -2.2 0M207.6 560.4a1.3 1.3 0 1 0 2.5 0a1.3 1.3 0 1 0 -2.5 0M208.9 563.4a1.2 1.2 0 1 0 2.5 0a1.2 1.2 0 1 0 -2.5 0M207.2 559.9a1.3 1.3 0 1 0 2.7 0a1.3 1.3 0 1 0 -2.7 0M220.1 555.8a1.3 1.3 0 1 0 2.5 0a1.3 1.3 0 1 0 -2.5 0M206.7 562.2a.7 .7 0 1 0 1.4 0a.7 .7 0 1 0 -1.4 0M207.3 570a1 1 0 1 0 2.1 0a1 1 0 1 0 -2.1 0M209.3 561.1a1.3 1.3 0 1 0 2.6 0a1.3 1.3 0 1 0 -2.6 0M208.7 566.7a1 1 0 1 0 2 0a1 1 0 1 0 -2 0M201.2 573.7a1 1 0 1 0 2 0a1 1 0 1 0 -2 0M197.8 552.1a1.4 1.4 0 1 0 2.7 0a1.4 1.4 0 1 0 -2.7 0M214.2 554.2a.8 .8 0 1 0 1.5 0a.8 .8 0 1 0 -1.5 0M191.3 574.9a1.4 1.4 0 1 0 2.8 0a1.4 1.4 0 1 0 -2.8 0M201.2 557.1a1.4 1.4 0 1 0 2.7 0a1.4 1.4 0 1 0 -2.7 0M205.2 564.6a1.1 1.1 0 1 0 2.3 0a1.1 1.1 0 1 0 -2.3 0M187.9 552.2a1.4 1.4 0 1 0 2.7 0a1.4 1.4 0 1 0 -2.7 0M180.7 565.5a1.2 1.2 0 1 0 2.5 0a1.2 1.2 0 1 0 -2.5 0M220.7 565a1.3 1.3 0 1 0 2.6 0a1.3 1.3 0 1 0 -2.6 0M211.7 552.8a1.2 1.2 0 1 0 2.3 0a1.2 1.2 0 1 0 -2.3 0M210.4 560a1.1 1.1 0 1 0 2.3 0a1.1 1.1 0 1 0 -2.3 0M197 554.1a1.1 1.1 0 1 0 2.2 0a1.1 1.1 0 1 0 -2.2 0M221.8 561a.8 .8 0 1 0 1.6 0a.8 .8 0 1 0 -1.6 0M217.3 560.2a1 1 0 1 0 2 0a1 1 0 1 0 -2 0M197.9 567.2a1 1 0 1 0 2 0a1 1 0 1 0 -2 0M215 558.1a1.1 1.1 0 1 0 2.3 0a1.1 1.1 0 1 0 -2.3 0M217.5 557.6a.8 .8 0 1 0 1.7 0a.8 .8 0 1 0 -1.7 0M232.7 557.6a.9 .9 0 1 0 1.7 0a.9 .9 0 1 0 -1.7 0M218.6 560a1 1 0 1 0 2.1 0a1 1 0 1 0 -2.1 0M227.9 552.7a1.2 1.2 0 1 0 2.4 0a1.2 1.2 0 1 0 -2.4 0M247.5 557.8a.8 .8 0 1 0 1.5 0a.8 .8 0 1 0 -1.5 0M239.1 552a1.2 1.2 0 1 0 2.4 0a1.2 1.2 0 1 0 -2.4 0M236.6 561a.9 .9 0 1 0 1.9 0a.9 .9 0 1 0 -1.9 0M224.3 556.9a.9 .9 0 1 0 1.8 0a.9 .9 0 1 0 -1.8 0M230.7 559.8a1.1 1.1 0 1 0 2.2 0a1.1 1.1 0 1 0 -2.2 0M233.8 559.4a.7 .7 0 1 0 1.5 0a.7 .7 0 1 0 -1.5 0M179.3 621.6a1 1 0 1 0 2.1 0a1 1 0 1 0 -2.1 0M187.9 622.8a.7 .7 0 1 0 1.4 0a.7 .7 0 1 0 -1.4 0M169.9 620.4a1.3 1.3 0 1 0 2.6 0a1.3 1.3 0 1 0 -2.6 0M170.4 620.2a1 1 0 1 0 1.9 0a1 1 0 1 0 -1.9 0M199.4 622.6a.9 .9 0 1 0 1.9 0a.9 .9 0 1 0 -1.9 0M186 624a.7 .7 0 1 0 1.5 0a.7 .7 0 1 0 -1.5 0M194.2 621.9a.8 .8 0 1 0 1.6 0a.8 .8 0 1 0 -1.6 0M177.2 626.9a1.1 1.1 0 1 0 2.2 0a1.1 1.1 0 1 0 -2.2 0M168.7 622.4a.8 .8 0 1 0 1.6 0a.8 .8 0 1 0 -1.6 0M166 617.5a1 1 0 1 0 2 0a1 1 0 1 0 -2 0M164.8 619.2a.7 .7 0 1 0 1.4 0a.7 .7 0 1 0 -1.4 0M193.3 629.6a1 1 0 1 0 2 0a1 1 0 1 0 -2 0M190 622.2a.8 .8 0 1 0 1.7 0a.8 .8 0 1 0 -1.7 0M169.2 614.7a.8 .8 0 1 0 1.5 0a.8 .8 0 1 0 -1.5 0M209.7 582.6a.8 .8 0 1 0 1.6 0a.8 .8 0 1 0 -1.6 0M205.3 587.5a.8 .8 0 1 0 1.5 0a.8 .8 0 1 0 -1.5 0M208.2 597.2a.7 .7 0 1 0 1.4 0a.7 .7 0 1 0 -1.4 0M203.7 594.3a1 1 0 1 0 2 0a1 1 0 1 0 -2 0M205.2 584.1a.9 .9 0 1 0 1.8 0a.9 .9 0 1 0 -1.8 0"/>
<path fill="#404040" fill-opacity="0.3" d="M191.6 588.1a1.1 1.1 0 1 0 2.2 0a1.1 1.1 0 1 0 -2.2 0M198 580.7a.7 .7 0 1 0 1.5 0a.7 .7 0 1 0 -1.5 0M179.4 600.4a1.3 1.3 0 1 0 2.6 0a1.3 1.3 0 1 0 -2.6 0M166.7 582.1a1.1 1.1 0 1 0 2.3 0a1.1 1.1 0 1 0 -2.3 0M190 571.8a.8 .8 0 1 0 1.7 0a.8 .8 0 1 0 -1.7 0M169.1 590.7a1 1 0 1 0 2 0a1 1 0 1 0 -2 0M178.5 604.8a1.1 1.1 0 1 0 2.2 0a1.1 1.1 0 1 0 -2.2 0M192.7 591.1a1 1 0 1 0 2 0a1 1 0 1 0 -2 0M195 586.1a1 1 0 1 0 2 0a1 1 0 1 0 -2 0M183.4 595.2a1.1 1.1 0 1 0 2.1 0a1.1 1.1 0 1 0 -2.1 0M187.7 613.2a.7 .7 0 1 0 1.5 0a.7 .7 0 1 0 -1.5 0M192.9 583.5a1.3 1.3 0 1 0 2.6 0a1.3 1.3 0 1 0 -2.6 0M166.9 591.4a.9 .9 0 1 0 1.9 0a.9 .9 0 1 0 -1.9 0M186.1 607.9a1 1 0 1 0 1.9 0a1 1 0 1 0 -1.9 0M182.4 590.1a1.1 1.1 0 1 0 2.3 0a1.1 1.1 0 1 0 -2.3 0M184 609.7a.8 .8 0 1 0 1.6 0a.8 .8 0 1 0 -1.6 0M189.9 561.7a1.1 1.1 0 1 0 2.2 0a1.1 1.1 0 1 0 -2.2 0M175.4 590.6a.9 .9 0 1 0 1.8 0a.9 .9 0 1 0 -1.8 0M163.6 608.3a1.2 1.2 0 1 0 2.5 0a1.2 1.2 0 1 0 -2.5 0M190.1 606.9a1.3 1.3 0 1 0 2.6 0a1.3 1.3 0 1 0 -2.6 0M182.3 588.3a1.4 1.4 0 1 0 2.7 0a1.4 1.4 0 1 0 -2.7 0M184.9 585.4a.7 .7 0 1 0 1.5 0a.7 .7 0 1 0 -1.5 0M204.7 579.1a1 1 0 1 0 2 0a1 1 0 1 0 -2 0M198.6 582.8a1.3 1.3 0 1 0 2.7 0a1.3 1.3 0 1 0 -2.7 0M178.7 602.3a.9 .9 0 1 0 1.7 0a.9 .9 0 1 0 -1.7 0M186 579.7a1.1 1.1 0 1 0 2.2 0a1.1 1.1 0 1 0 -2.2 0M203 590.4a.8 .8 0 1 0 1.6 0a.8 .8 0 1 0 -1.6 0M178.3 591.2a.9 .9 0 1 0 1.9 0a.9 .9 0 1 0 -1.9 0M171.7 583.2a1.1 1.1 0 1 0 2.3 0a1.1 1.1 0 1 0 -2.3 0M166.9 595a1.1 1.1 0 1 0 2.3 0a1.1 1.1 0 1 0 -2.3 0M174.5 585a.9 .9 0 1 0 1.7 0a.9 .9 0 1 0 -1.7 0M194.3 582a1.3 1.3 0 1 0 2.6 0a1.3 1.3 0 1 0 -2.6 0M183.9 581a1.1 1.1 0 1 0 2.1 0a1.1 1.1 0 1 0 -2.1 0M175.8 584.8a1.1 1.1 0 1 0 2.2 0a1.1 1.1 0 1 0 -2.2 0M175.5 586.2a1 1 0 1 0 2 0a1 1 0 1 0 -2 0M177.6 582.1a.7 .7 0 1 0 1.4 0a.7 .7 0 1 0 -1.4 0M176.1 590.9a.8 .8 0 1 0 1.5 0a.8 .8 0 1 0 -1.5 0M184.8 587.7a.8 .8 0 1 0 1.6 0a.8 .8 0 1 0 -1.6 0M186.4 577a.7 .7 0 1 0 1.5 0a.7 .7 0 1 0 -1.5 0M196.5 617.1a1.3 1.3 0 1 0 2.7 0a1.3 1.3 0 1 0 -2.7 0M177.6 574.2a.8 .8 0 1 0 1.6 0a.8 .8 0 1 0 -1.6 0M172.3 595.8a.8 .8 0 1 0 1.5 0a.8 .8 0 1 0 -1.5 0M173.3 570.7a1 1 0 1 0 1.9 0a1 1 0 1 0 -1.9 0M183.7 600.9a1 1 0 1 0 1.9 0a1 1 0 1 0 -1.9 0M177.7 622.6a1.2 1.2 0 1 0 2.4 0a1.2 1.2 0 1 0 -2.4 0M192 609a.9 .9 0 1 0 1.7 0a.9 .9 0 1 0 -1.7 0M180 601.8a1.2 1.2 0 1 0 2.4 0a1.2 1.2 0 1 0 -2.4 0M181.8 597a.9 .9 0 1 0 1.8 0a.9 .9 0 1 0 -1.8 0M185 601.1a.8 .8 0 1 0 1.6 0a.8 .8 0 1 0 -1.6 0M189.9 587a.7 .7 0 1 0 1.5 0a.7 .7 0 1 0 -1.5 0M190.9 601.4a1.2 1.2 0 1 0 2.5 0a1.2 1.2 0 1 0 -2.5 0M174.7 567.5a1 1 0 1 0 2.1 0a1 1 0 1 0 -2.1 0M184.3 595.6a1.1 1.1 0 1 0 2.2 0a1.1 1.1 0 1 0 -2.2 0M174.6 591.2a.8 .8 0 1 0 1.6 0a.8 .8 0 1 0 -1.6 0M186 577.7a.8 .8 0 1 0 1.5 0a.8 .8 0 1 0 -1.5 0M182.9 616.8a.8 .8 0 1 0 1.5 0a.8 .8 0 1 0 -1.5 0M181.5 566.3a1.2 1.2 0 1 0 2.4 0a1.2 1.2 0 1 0 -2.4 0M174.7 605a1 1 0 1 0 2.1 0a1 1 0 1 0 -2.1 0M186.6 573.7a1.2 1.2 0 1 0 2.4 0a1.2 1.2 0 1 0 -2.4 0M170.3 580a1 1 0 1 0 2 0a1 1 0 1 0 -2 0M165.6 614.4a1.2 1.2 0 1 0 2.4 0a1.2 1.2 0 1 0 -2.4 0M173.2 585.4a.7 .7 0 1 0 1.4 0a.7 .7 0 1 0 -1.4 0M186.1 594.7a1.2 1.2 0 1 0 2.4 0a1.2 1.2 0 1 0 -2.4 0M199.7 586.3a1.3 1.3 0 1 0 2.6 0a1.3 1.3 0 1 0 -2.6 0M174.6 585.8a.8 .8 0 1 0 1.7 0a.8 .8 0 1 0 -1.7 0M181.3 604.1a.9 .9 0 1 0 1.7 0a.9 .9 0 1 0 -1.7 0M194.9 595.1a1.2 1.2 0 1 0 2.4 0a1.2 1.2 0 1 0 -2.4 0M174.4 621.2a1 1 0 1 0 2 0a1 1 0 1 0 -2 0M193.6 602.8a1.3 1.3 0 1 0 2.5 0a1.3 1.3 0 1 0 -2.5 0M181.5 578.1a1.1 1.1 0 1 0 2.3 0a1.1 1.1 0 1 0 -2.3 0M188.9 611.4a1.2 1.2 0 1 0 2.3 0a1.2 1.2 0 1 0 -2.3 0M168.8 600.6a1 1 0 1 0 2 0a1 1 0 1 0 -2 0M173 577.9a1.3 1.3 0 1 0 2.5 0a1.3 1.3 0 1 0 -2.5 0M189.5 577.6a1.3 1.3 0 1 0 2.5 0a1.3 1.3 0 1 0 -2.5 0M164.8 605.9a.8 .8 0 1 0 1.5 0a.8 .8 0 1 0 -1.5 0M177 605.5a1 1 0 1 0 2 0a1 1 0 1 0 -2 0M158.9 588.4a1.3 1.3 0 1 0 2.6 0a1.3 1.3 0 1 0 -2.6 0M180.8 621.2a.9 .9 0 1 0 1.9 0a.9 .9 0 1 0 -1.9 0M180 606.4a1.1 1.1 0 1 0 2.1 0a1.1 1.1 0 1 0 -2.1 0M187.9 607.1a1.2 1.2 0 1 0 2.5 0a1.2 1.2 0 1 0 -2.5 0M171.5 575.7a1.2 1.2 0 1 0 2.3 0a1.2 1.2 0 1 0 -2.3 0M201.7 610.6a1.3 1.3 0 1 0 2.7 0a1.3 1.3 0 1 0 -2.7 0M175.1 601.5a1 1 0 1 0 1.9 0a1 1 0 1 0 -1.9 0M182.9 613.8a1 1 0 1 0 2.1 0a1 1 0 1 0 -2.1 0M203.3 570.1a.7 .7 0 1 0 1.5 0a.7 .7 0 1 0 -1.5 0M195 556.4a.8 .8 0 1 0 1.6 0a.8 .8 0 1 0 -1.6 0M213.5 558a1.2 1.2 0 1 0 2.4 0a1.2 1.2 0 1 0 -2.4 0M198 564.1a.8 .8 0 1 0 1.6 0a.8 .8 0 1 0 -1.6 0M180.2 564.4a1 1 0 1 0 2.1 0a1 1 0 1 0 -2.1 0M205.4 569.8a.7 .7 0 1 0 1.4 0a.7 .7 0 1 0 -1.4 0M211.5 564.9a1.3 1.3 0 1 0 2.5 0a1.3 1.3 0 1 0 -2.5 0M186.4 553.9a1.4 1.4 0 1 0 2.7 0a1.4 1.4 0 1 0 -2.7 0M201.1 559.6a.8 .8 0 1 0 1.6 0a.8 .8 0 1 0 -1.6 0M192.8 571.5a.8 .8 0 1 0 1.6 0a.8 .8 0 1 0 -1.6 0M180.1 561.8a1.2 1.2 0 1 0 2.4 0a1.2 1.2 0 1 0 -2.4 0M210.4 570.4a1 1 0 1 0 2.1 0a1 1 0 1 0 -2.1 0M197.5 570.6a.9 .9 0 1 0 1.7 0a.9 .9 0 1 0 -1.7 0M216.9 573.3a1 1 0 1 0 1.9 0a1 1 0 1 0 -1.9 0M214.6 564.1a1.2 1.2 0 1 0 2.3 0a1.2 1.2 0 1 0 -2.3 0M187.9 573.6a.7 .7 0 1 0 1.4 0a.7 .7 0 1 0 -1.4 0M196 571.3a.9 .9 0 1 0 1.7 0a.9 .9 0 1 0 -1.7 0M205.6 562.7a.9 .9 0 1 0 1.8 0a.9 .9 0 1 0 -1.8 0M202.5 562.2a1.2 1.2 0 1 0 2.5 0a1.2 1.2 0 1 0 -2.5 0M180.3 556.8a1.3 1.3 0 1 0 2.7 0a1.3 1.3 0 1 0 -2.7 0M214.5 566.4a1.3 1.3 0 1 0 2.7 0a1.3 1.3 0 1 0 -2.7 0M187.2 565.8a.7 .7 0 1 0 1.4 0a.7 .7 0 1 0 -1.4 0M220.7 568.2a1.2 1.2 0 1 0 2.3 0a1.2 1.2 0 1 0 -2.3 0M177.4 560.3a.9 .9 0 1 0 1.7 0a.9 .9 0 1 0 -1.7 0M193.8 561.3a1.1 1.1 0 1 0 2.1 0a1.1 1.1 0 1 0 -2.1 0M175.7 559.8a1.1 1.1 0 1 0 2.3 0a1.1 1.1 0 1 0 -2.3 0M196.6 565.7a1.2 1.2 0 1 0 2.4 0a1.2 1.2 0 1 0 -2.4 0M180.3 567a.8 .8 0 1 0 1.6 0a.8 .8 0 1 0 -1.6 0M199.9 568.8a1.1 1.1 0 1 0 2.2 0a1.1 1.1 0 1 0 -2.2 0M222.7 563.6a1.1 1.1 0 1 0 2.2 0a1.1 1.1 0 1 0 -2.2 0M185.3 573.1a1.3 1.3 0 1 0 2.7 0a1.3 1.3 0 1 0 -2.7 0M212.8 568a.9 .9 0 1 0 1.8 0a.9 .9 0 1 0 -1.8 0M189.3 560.8a.9 .9 0 1 0 1.8 0a.9 .9 0 1 0 -1.8 0M200.1 550.2a1.3 1.3 0 1 0 2.7 0a1.3 1.3 0 1 0 -2.7 0M199.5 555.9a1.1 1.1 0 1 0 2.1 0a1.1 1.1 0 1 0 -2.1 0M234.8 556.8a1.1 1.1 0 1 0 2.2 0a1.1 1.1 0 1 0 -2.2 0M233.4 559.1a1 1 0 1 0 2 0a1 1 0 1 0 -2 0M230.1 556.6a1.1 1.1 0 1 0 2.1 0a1.1 1.1 0 1 0 -2.1 0M236.6 557a.8 .8 0 1 0 1.6 0a.8 .8 0 1 0 -1.6 0M222.4 553.1a1 1 0 1 0 2 0a1 1 0 1 0 -2 0M231.3 556.3a1.3 1.3 0 1 0 2.5 0a1.3 1.3 0 1 0 -2.5 0M232.3 552.1a.7 .7 0 1 0 1.5 0a.7 .7 0 1 0 -1.5 0M182.3 622.5a1.1 1.1 0 1 0 2.2 0a1.1 1.1 0 1 0 -2.2 0M195.7 624.2a1.3 1.3 0 1 0 2.5 0a1.3 1.3 0 1 0 -2.5 0M186 624.1a1.2 1.2 0 1 0 2.4 0a1.2 1.2 0 1 0 -2.4 0M189.5 616.4a1 1 0 1 0 2.1 0a1 1 0 1 0 -2.1 0M187.3 613.1a1 1 0 1 0 2 0a1 1 0 1 0 -2 0M178.8 611.9a1.2 1.2 0 1 0 2.5 0a1.2 1.2 0 1 0 -2.5 0M178.2 618.6a1 1 0 1 0 1.9 0a1 1 0 1 0 -1.9 0M178 616.1a.9 .9 0 1 0 1.8 0a.9 .9 0 1 0 -1.8 0M188.7 622.9a.9 .9 0 1 0 1.7 0a.9 .9 0 1 0 -1.7 0M167 625.4a1 1 0 1 0 1.9 0a1 1 0 1 0 -1.9 0M167.4 624a1.1 1.1 0 1 0 2.1 0a1.1 1.1 0 1 0 -2.1 0M174 619.6a.7 .7 0 1 0 1.4 0a.7 .7 0 1 0 -1.4 0M183.8 631.2a1 1 0 1 0 2.1 0a1 1 0 1 0 -2.1 0M191.7 624.7a1.2 1.2 0 1 0 2.5 0a1.2 1.2 0 1 0 -2.5 0M181.3 625a1.1 1.1 0 1 0 2.2 0a1.1 1.1 0 1 0 -2.2 0M180.7 628.6a1.3 1.3 0 1 0 2.5 0a1.3 1.3 0 1 0 -2.5 0M195.1 622.7a1.2 1.2 0 1 0 2.4 0a1.2 1.2 0 1 0 -2.4 0M170 616.2a1.3 1.3 0 1 0 2.5 0a1.3 1.3 0 1 0 -2.5 0M173.5 615.6a1.1 1.1 0 1 0 2.2 0a1.1 1.1 0 1 0 -2.2 0M180.7 623.8a.7 .7 0 1 0 1.5 0a.7 .7 0 1 0 -1.5 0M183.6 628.9a1.2 1.2 0 1 0 2.4 0a1.2 1.2 0 1 0 -2.4 0M210.4 582.6a1 1 0 1 0 1.9 0a1 1 0 1 0 -1.9 0M207.6 577.9a1 1 0 1 0 2 0a1 1 0 1 0 -2 0M201.4 596.5a.6 .6 0 1 0 1.2 0a.6 .6 0 1 0 -1.2 0M205.7 592.2a1 1 0 1 0 2.1 0a1 1 0 1 0 -2.1 0M207 599.3a.8 .8 0 1 0 1.6 0a.8 .8 0 1 0 -1.6 0"/>
<path fill="#404040" fill-opacity="0.4" d="M159.2 599a1.8 1.8 0 1 0 3.6 0a1.8 1.8 0 1 0 -3.6 0M232.2 610.5a1.8 1.8 0 1 0 3.6 0a1.8 1.8 0 1 0 -3.6 0M244.9 601.4a1.5 1.5 0 1 0 3 0a1.5 1.5 0 1 0 -3 0"/>
<path fill="#fafafa" fill-opacity="0.3" d="M204.5 586.7a.8 .8 0 1 0 1.5 0a.8 .8 0 1 0 -1.5 0"/>
<path fill="#fafafa" fill-opacity="0.4" d="M231.9 556.8a.9 .9 0 1 0 1.7 0a.9 .9 0 1 0 -1.7 0M234 556a1.1 1.1 0 1 0 2.2 0a1.1 1.1 0 1 0 -2.2 0M246.7 557a.8 .8 0 1 0 1.5 0a.8 .8 0 1 0 -1.5 0M231.5 551.3a.7 .7 0 1 0 1.5 0a.7 .7 0 1 0 -1.5 0M202.9 593.5a1 1 0 1 0 2 0a1 1 0 1 0 -2 0M206.8 577.1a1 1 0 1 0 2 0a1 1 0 1 0 -2 0M200.6 595.7a.6 .6 0 1 0 1.2 0a.6 .6 0 1 0 -1.2 0M204.4 583.3a.9 .9 0 1 0 1.8 0a.9 .9 0 1 0 -1.8 0"/>
<path fill="#fafafa" fill-opacity="0.5" d="M189.2 571a.8 .8 0 1 0 1.7 0a.8 .8 0 1 0 -1.7 0M177.9 601.5a.9 .9 0 1 0 1.7 0a.9 .9 0 1 0 -1.7 0M170.9 582.4a1.1 1.1 0 1 0 2.3 0a1.1 1.1 0 1 0 -2.3 0M166.1 594.2a1.1 1.1 0 1 0 2.3 0a1.1 1.1 0 1 0 -2.3 0M187.8 576.4a.8 .8 0 1 0 1.6 0a.8 .8 0 1 0 -1.6 0M176.9 621.8a1.2 1.2 0 1 0 2.4 0a1.2 1.2 0 1 0 -2.4 0M190.1 600.6a1.2 1.2 0 1 0 2.5 0a1.2 1.2 0 1 0 -2.5 0M176.7 574.1a1.1 1.1 0 1 0 2.2 0a1.1 1.1 0 1 0 -2.2 0M188.7 576.8a1.3 1.3 0 1 0 2.5 0a1.3 1.3 0 1 0 -2.5 0M194.2 555.6a.8 .8 0 1 0 1.6 0a.8 .8 0 1 0 -1.6 0M212.7 557.2a1.2 1.2 0 1 0 2.4 0a1.2 1.2 0 1 0 -2.4 0M197.2 563.3a.8 .8 0 1 0 1.6 0a.8 .8 0 1 0 -1.6 0M179.3 561a1.2 1.2 0 1 0 2.4 0a1.2 1.2 0 1 0 -2.4 0M216.1 572.5a1 1 0 1 0 1.9 0a1 1 0 1 0 -1.9 0M213.8 563.3a1.2 1.2 0 1 0 2.3 0a1.2 1.2 0 1 0 -2.3 0M200.4 556.3a1.4 1.4 0 1 0 2.7 0a1.4 1.4 0 1 0 -2.7 0M204.8 561.9a.9 .9 0 1 0 1.8 0a.9 .9 0 1 0 -1.8 0M210.9 552a1.2 1.2 0 1 0 2.3 0a1.2 1.2 0 1 0 -2.3 0M209.6 559.2a1.1 1.1 0 1 0 2.3 0a1.1 1.1 0 1 0 -2.3 0M196.2 553.3a1.1 1.1 0 1 0 2.2 0a1.1 1.1 0 1 0 -2.2 0M212 567.2a.9 .9 0 1 0 1.8 0a.9 .9 0 1 0 -1.8 0M199.3 549.4a1.3 1.3 0 1 0 2.7 0a1.3 1.3 0 1 0 -2.7 0M232.6 558.3a1 1 0 1 0 2 0a1 1 0 1 0 -2 0M238.3 551.2a1.2 1.2 0 1 0 2.4 0a1.2 1.2 0 1 0 -2.4 0M229.3 555.8a1.1 1.1 0 1 0 2.1 0a1.1 1.1 0 1 0 -2.1 0M229.9 559a1.1 1.1 0 1 0 2.2 0a1.1 1.1 0 1 0 -2.2 0M235.8 556.2a.8 .8 0 1 0 1.6 0a.8 .8 0 1 0 -1.6 0M233 558.6a.7 .7 0 1 0 1.5 0a.7 .7 0 1 0 -1.5 0M221.6 552.3a1 1 0 1 0 2 0a1 1 0 1 0 -2 0M230.5 555.5a1.3 1.3 0 1 0 2.5 0a1.3 1.3 0 1 0 -2.5 0M194.9 623.4a1.3 1.3 0 1 0 2.5 0a1.3 1.3 0 1 0 -2.5 0M187.1 622a.7 .7 0 1 0 1.4 0a.7 .7 0 1 0 -1.4 0M186.5 612.3a1 1 0 1 0 2 0a1 1 0 1 0 -2 0M198.6 621.8a.9 .9 0 1 0 1.9 0a.9 .9 0 1 0 -1.9 0M166.2 624.6a1 1 0 1 0 1.9 0a1 1 0 1 0 -1.9 0M166.6 623.2a1.1 1.1 0 1 0 2.1 0a1.1 1.1 0 1 0 -2.1 0M193.4 621.1a.8 .8 0 1 0 1.6 0a.8 .8 0 1 0 -1.6 0M183 630.4a1 1 0 1 0 2.1 0a1 1 0 1 0 -2.1 0M190.9 623.9a1.2 1.2 0 1 0 2.5 0a1.2 1.2 0 1 0 -2.5 0M176.4 626.1a1.1 1.1 0 1 0 2.2 0a1.1 1.1 0 1 0 -2.2 0M167.9 621.6a.8 .8 0 1 0 1.6 0a.8 .8 0 1 0 -1.6 0M168.4 613.9a.8 .8 0 1 0 1.5 0a.8 .8 0 1 0 -1.5 0M208.9 581.8a.8 .8 0 1 0 1.6 0a.8 .8 0 1 0 -1.6 0M207.4 596.4a.7 .7 0 1 0 1.4 0a.7 .7 0 1 0 -1.4 0M209.6 581.8a1 1 0 1 0 1.9 0a1 1 0 1 0 -1.9 0M204.9 591.4a1 1 0 1 0 2.1 0a1 1 0 1 0 -2.1 0M206.2 598.5a.8 .8 0 1 0 1.6 0a.8 .8 0 1 0 -1.6 0"/>
<path fill="#fafafa" fill-opacity="0.6" d="M165.9 581.3a1.1 1.1 0 1 0 2.3 0a1.1 1.1 0 1 0 -2.3 0M177.7 604a1.1 1.1 0 1 0 2.2 0a1.1 1.1 0 1 0 -2.2 0M194.2 585.3a1 1 0 1 0 2 0a1 1 0 1 0 -2 0M166.1 590.6a.9 .9 0 1 0 1.9 0a.9 .9 0 1 0 -1.9 0M180.8 597.2a1 1 0 1 0 2.1 0a1 1 0 1 0 -2.1 0M173.6 593.1a.9 .9 0 1 0 1.7 0a.9 .9 0 1 0 -1.7 0M174.6 589.8a.9 .9 0 1 0 1.8 0a.9 .9 0 1 0 -1.8 0M184.1 584.6a.7 .7 0 1 0 1.5 0a.7 .7 0 1 0 -1.5 0M181 593.7a.9 .9 0 1 0 1.8 0a.9 .9 0 1 0 -1.8 0M187.3 598.5a.9 .9 0 1 0 1.8 0a.9 .9 0 1 0 -1.8 0M187.5 569.9a1 1 0 1 0 1.9 0a1 1 0 1 0 -1.9 0M175.7 603.4a1.1 1.1 0 1 0 2.2 0a1.1 1.1 0 1 0 -2.2 0M193.5 581.2a1.3 1.3 0 1 0 2.6 0a1.3 1.3 0 1 0 -2.6 0M174.7 585.4a1 1 0 1 0 2 0a1 1 0 1 0 -2 0M174.4 569.3a.9 .9 0 1 0 1.7 0a.9 .9 0 1 0 -1.7 0M183.6 596.2a1.1 1.1 0 1 0 2.1 0a1.1 1.1 0 1 0 -2.1 0M165.3 597.6a1.1 1.1 0 1 0 2.2 0a1.1 1.1 0 1 0 -2.2 0M184 586.9a.8 .8 0 1 0 1.6 0a.8 .8 0 1 0 -1.6 0M172.5 569.9a1 1 0 1 0 1.9 0a1 1 0 1 0 -1.9 0M182.9 600.1a1 1 0 1 0 1.9 0a1 1 0 1 0 -1.9 0M164.7 601.4a.9 .9 0 1 0 1.9 0a.9 .9 0 1 0 -1.9 0M184.2 600.3a.8 .8 0 1 0 1.6 0a.8 .8 0 1 0 -1.6 0M190.4 604.1a.9 .9 0 1 0 1.7 0a.9 .9 0 1 0 -1.7 0M183.5 594.8a1.1 1.1 0 1 0 2.2 0a1.1 1.1 0 1 0 -2.2 0M182.1 616a.8 .8 0 1 0 1.5 0a.8 .8 0 1 0 -1.5 0M194.5 566.7a.9 .9 0 1 0 1.9 0a.9 .9 0 1 0 -1.9 0M183.1 579.9a1 1 0 1 0 2 0a1 1 0 1 0 -2 0M175.6 589.9a1.2 1.2 0 1 0 2.5 0a1.2 1.2 0 1 0 -2.5 0M180.5 603.3a.9 .9 0 1 0 1.7 0a.9 .9 0 1 0 -1.7 0M194.1 594.3a1.2 1.2 0 1 0 2.4 0a1.2 1.2 0 1 0 -2.4 0M170.2 579.7a.9 .9 0 1 0 1.7 0a.9 .9 0 1 0 -1.7 0M168 599.8a1 1 0 1 0 2 0a1 1 0 1 0 -2 0M183.5 607.6a1.2 1.2 0 1 0 2.4 0a1.2 1.2 0 1 0 -2.4 0M164 605.1a.8 .8 0 1 0 1.5 0a.8 .8 0 1 0 -1.5 0M174.3 600.7a1 1 0 1 0 1.9 0a1 1 0 1 0 -1.9 0M206.5 569.2a1 1 0 1 0 2.1 0a1 1 0 1 0 -2.1 0M179.4 563.6a1 1 0 1 0 2.1 0a1 1 0 1 0 -2.1 0M204.6 569a.7 .7 0 1 0 1.4 0a.7 .7 0 1 0 -1.4 0M207.9 565.9a1 1 0 1 0 2 0a1 1 0 1 0 -2 0M185.6 553.1a1.4 1.4 0 1 0 2.7 0a1.4 1.4 0 1 0 -2.7 0M196.7 569.8a.9 .9 0 1 0 1.7 0a.9 .9 0 1 0 -1.7 0M195.2 570.5a.9 .9 0 1 0 1.7 0a.9 .9 0 1 0 -1.7 0M179.5 556a1.3 1.3 0 1 0 2.7 0a1.3 1.3 0 1 0 -2.7 0M219.9 567.4a1.2 1.2 0 1 0 2.3 0a1.2 1.2 0 1 0 -2.3 0M176.6 559.5a.9 .9 0 1 0 1.7 0a.9 .9 0 1 0 -1.7 0M179.9 564.7a1.2 1.2 0 1 0 2.5 0a1.2 1.2 0 1 0 -2.5 0M193 560.5a1.1 1.1 0 1 0 2.1 0a1.1 1.1 0 1 0 -2.1 0M199.1 568a1.1 1.1 0 1 0 2.2 0a1.1 1.1 0 1 0 -2.2 0M221.9 562.8a1.1 1.1 0 1 0 2.2 0a1.1 1.1 0 1 0 -2.2 0M221 560.2a.8 .8 0 1 0 1.6 0a.8 .8 0 1 0 -1.6 0M216.5 559.4a1 1 0 1 0 2 0a1 1 0 1 0 -2 0M216.7 556.8a.8 .8 0 1 0 1.7 0a.8 .8 0 1 0 -1.7 0M188.5 560a.9 .9 0 1 0 1.8 0a.9 .9 0 1 0 -1.8 0M217.8 559.2a1 1 0 1 0 2.1 0a1 1 0 1 0 -2.1 0M227.1 551.9a1.2 1.2 0 1 0 2.4 0a1.2 1.2 0 1 0 -2.4 0M235.8 560.2a.9 .9 0 1 0 1.9 0a.9 .9 0 1 0 -1.9 0M223.5 556.1a.9 .9 0 1 0 1.8 0a.9 .9 0 1 0 -1.8 0M181.5 621.7a1.1 1.1 0 1 0 2.2 0a1.1 1.1 0 1 0 -2.2 0M178.5 620.8a1 1 0 1 0 2.1 0a1 1 0 1 0 -2.1 0M178 611.1a1.2 1.2 0 1 0 2.5 0a1.2 1.2 0 1 0 -2.5 0M169.6 619.4a1 1 0 1 0 1.9 0a1 1 0 1 0 -1.9 0M173.2 618.8a.7 .7 0 1 0 1.4 0a.7 .7 0 1 0 -1.4 0M179.9 627.8a1.3 1.3 0 1 0 2.5 0a1.3 1.3 0 1 0 -2.5 0M194.3 621.9a1.2 1.2 0 1 0 2.4 0a1.2 1.2 0 1 0 -2.4 0M165.2 616.7a1 1 0 1 0 2 0a1 1 0 1 0 -2 0M179.9 623a.7 .7 0 1 0 1.5 0a.7 .7 0 1 0 -1.5 0M189.2 621.4a.8 .8 0 1 0 1.7 0a.8 .8 0 1 0 -1.7 0M182.8 628.1a1.2 1.2 0 1 0 2.4 0a1.2 1.2 0 1 0 -2.4 0M158.2 598a1.8 1.8 0 1 0 3.6 0a1.8 1.8 0 1 0 -3.6 0M231.2 609.5a1.8 1.8 0 1 0 3.6 0a1.8 1.8 0 1 0 -3.6 0M244.1 600.6a1.5 1.5 0 1 0 3 0a1.5 1.5 0 1 0 -3 0"/>
<path fill="#fafafa" fill-opacity="0.7" d="M178.6 599.6a1.3 1.3 0 1 0 2.6 0a1.3 1.3 0 1 0 -2.6 0M170.1 586.4a1.2 1.2 0 1 0 2.3 0a1.2 1.2 0 1 0 -2.3 0M191.9 590.3a1 1 0 1 0 2 0a1 1 0 1 0 -2 0M188.2 607a.9 .9 0 1 0 1.9 0a.9 .9 0 1 0 -1.9 0M186.9 612.4a.7 .7 0 1 0 1.5 0a.7 .7 0 1 0 -1.5 0M192.1 582.7a1.3 1.3 0 1 0 2.6 0a1.3 1.3 0 1 0 -2.6 0M166.9 590.8a.7 .7 0 1 0 1.5 0a.7 .7 0 1 0 -1.5 0M183.2 608.9a.8 .8 0 1 0 1.6 0a.8 .8 0 1 0 -1.6 0M189.1 560.9a1.1 1.1 0 1 0 2.2 0a1.1 1.1 0 1 0 -2.2 0M162.8 607.5a1.2 1.2 0 1 0 2.5 0a1.2 1.2 0 1 0 -2.5 0M184.1 598.9a.7 .7 0 1 0 1.5 0a.7 .7 0 1 0 -1.5 0M178.2 598.6a1 1 0 1 0 2.1 0a1 1 0 1 0 -2.1 0M179 593.6a1.4 1.4 0 1 0 2.7 0a1.4 1.4 0 1 0 -2.7 0M202.2 589.6a.8 .8 0 1 0 1.6 0a.8 .8 0 1 0 -1.6 0M177.5 590.4a.9 .9 0 1 0 1.9 0a.9 .9 0 1 0 -1.9 0M175 584a1.1 1.1 0 1 0 2.2 0a1.1 1.1 0 1 0 -2.2 0M176.8 581.3a.7 .7 0 1 0 1.4 0a.7 .7 0 1 0 -1.4 0M175.3 590.1a.8 .8 0 1 0 1.5 0a.8 .8 0 1 0 -1.5 0M185.6 576.2a.7 .7 0 1 0 1.5 0a.7 .7 0 1 0 -1.5 0M195.7 616.3a1.3 1.3 0 1 0 2.7 0a1.3 1.3 0 1 0 -2.7 0M186.2 573.7a1.3 1.3 0 1 0 2.6 0a1.3 1.3 0 1 0 -2.6 0M178.6 596.4a.9 .9 0 1 0 1.7 0a.9 .9 0 1 0 -1.7 0M179.2 601a1.2 1.2 0 1 0 2.4 0a1.2 1.2 0 1 0 -2.4 0M181 596.2a.9 .9 0 1 0 1.8 0a.9 .9 0 1 0 -1.8 0M189.1 586.2a.7 .7 0 1 0 1.5 0a.7 .7 0 1 0 -1.5 0M173.9 566.7a1 1 0 1 0 2.1 0a1 1 0 1 0 -2.1 0M185.2 576.9a.8 .8 0 1 0 1.5 0a.8 .8 0 1 0 -1.5 0M180.7 565.5a1.2 1.2 0 1 0 2.4 0a1.2 1.2 0 1 0 -2.4 0M185.8 572.9a1.2 1.2 0 1 0 2.4 0a1.2 1.2 0 1 0 -2.4 0M169.5 579.2a1 1 0 1 0 2 0a1 1 0 1 0 -2 0M164.7 609.9a1 1 0 1 0 2 0a1 1 0 1 0 -2 0M184.9 599.9a.9 .9 0 1 0 1.7 0a.9 .9 0 1 0 -1.7 0M173.8 585a.8 .8 0 1 0 1.7 0a.8 .8 0 1 0 -1.7 0M172 586a.9 .9 0 1 0 1.7 0a.9 .9 0 1 0 -1.7 0M170.4 600.9a1.2 1.2 0 1 0 2.4 0a1.2 1.2 0 1 0 -2.4 0M165.5 593.9a1.2 1.2 0 1 0 2.5 0a1.2 1.2 0 1 0 -2.5 0M194.5 617a1.1 1.1 0 1 0 2.3 0a1.1 1.1 0 1 0 -2.3 0M192.8 602a1.3 1.3 0 1 0 2.5 0a1.3 1.3 0 1 0 -2.5 0M191.7 566a1.3 1.3 0 1 0 2.6 0a1.3 1.3 0 1 0 -2.6 0M158.1 587.6a1.3 1.3 0 1 0 2.6 0a1.3 1.3 0 1 0 -2.6 0M170.2 605.5a1.1 1.1 0 1 0 2.1 0a1.1 1.1 0 1 0 -2.1 0M180 620.4a.9 .9 0 1 0 1.9 0a.9 .9 0 1 0 -1.9 0M187.1 590.2a1.2 1.2 0 1 0 2.4 0a1.2 1.2 0 1 0 -2.4 0M200.9 609.8a1.3 1.3 0 1 0 2.7 0a1.3 1.3 0 1 0 -2.7 0M202.5 569.3a.7 .7 0 1 0 1.5 0a.7 .7 0 1 0 -1.5 0M219.3 555a1.3 1.3 0 1 0 2.5 0a1.3 1.3 0 1 0 -2.5 0M205.9 561.4a.7 .7 0 1 0 1.4 0a.7 .7 0 1 0 -1.4 0M200.3 558.8a.8 .8 0 1 0 1.6 0a.8 .8 0 1 0 -1.6 0M192 570.7a.8 .8 0 1 0 1.6 0a.8 .8 0 1 0 -1.6 0M213.4 553.4a.8 .8 0 1 0 1.5 0a.8 .8 0 1 0 -1.5 0M209.6 569.6a1 1 0 1 0 2.1 0a1 1 0 1 0 -2.1 0M190.5 574.1a1.4 1.4 0 1 0 2.8 0a1.4 1.4 0 1 0 -2.8 0M187.1 572.8a.7 .7 0 1 0 1.4 0a.7 .7 0 1 0 -1.4 0M213.7 565.6a1.3 1.3 0 1 0 2.7 0a1.3 1.3 0 1 0 -2.7 0M186.4 565a.7 .7 0 1 0 1.4 0a.7 .7 0 1 0 -1.4 0M187.1 551.4a1.4 1.4 0 1 0 2.7 0a1.4 1.4 0 1 0 -2.7 0M219.9 564.2a1.3 1.3 0 1 0 2.6 0a1.3 1.3 0 1 0 -2.6 0M195.8 564.9a1.2 1.2 0 1 0 2.4 0a1.2 1.2 0 1 0 -2.4 0M214.2 557.3a1.1 1.1 0 1 0 2.3 0a1.1 1.1 0 1 0 -2.3 0M198.7 555.1a1.1 1.1 0 1 0 2.1 0a1.1 1.1 0 1 0 -2.1 0M169.1 619.6a1.3 1.3 0 1 0 2.6 0a1.3 1.3 0 1 0 -2.6 0M185.2 623.3a1.2 1.2 0 1 0 2.4 0a1.2 1.2 0 1 0 -2.4 0M188.7 615.6a1 1 0 1 0 2.1 0a1 1 0 1 0 -2.1 0M177.4 617.8a1 1 0 1 0 1.9 0a1 1 0 1 0 -1.9 0M177.2 615.3a.9 .9 0 1 0 1.8 0a.9 .9 0 1 0 -1.8 0M187.9 622.1a.9 .9 0 1 0 1.7 0a.9 .9 0 1 0 -1.7 0M185.2 623.2a.7 .7 0 1 0 1.5 0a.7 .7 0 1 0 -1.5 0M180.5 624.2a1.1 1.1 0 1 0 2.2 0a1.1 1.1 0 1 0 -2.2 0M164 618.4a.7 .7 0 1 0 1.4 0a.7 .7 0 1 0 -1.4 0M169.2 615.4a1.3 1.3 0 1 0 2.5 0a1.3 1.3 0 1 0 -2.5 0M172.7 614.8a1.1 1.1 0 1 0 2.2 0a1.1 1.1 0 1 0 -2.2 0M192.5 628.8a1 1 0 1 0 2 0a1 1 0 1 0 -2 0"/>
<path fill="#fafafa" fill-opacity="0.8" d="M173.9 614.5a1.4 1.4 0 1 0 2.7 0a1.4 1.4 0 1 0 -2.7 0M168.3 589.9a1 1 0 1 0 2 0a1 1 0 1 0 -2 0M182.6 594.4a1.1 1.1 0 1 0 2.1 0a1.1 1.1 0 1 0 -2.1 0M180.9 573.8a1.2 1.2 0 1 0 2.4 0a1.2 1.2 0 1 0 -2.4 0M183.2 587a1 1 0 1 0 1.9 0a1 1 0 1 0 -1.9 0M185.3 607.1a1 1 0 1 0 1.9 0a1 1 0 1 0 -1.9 0M178 583.1a1.3 1.3 0 1 0 2.6 0a1.3 1.3 0 1 0 -2.6 0M182.2 588.8a1 1 0 1 0 1.9 0a1 1 0 1 0 -1.9 0M189.3 606.1a1.3 1.3 0 1 0 2.6 0a1.3 1.3 0 1 0 -2.6 0M181.5 587.5a1.4 1.4 0 1 0 2.7 0a1.4 1.4 0 1 0 -2.7 0M203.9 578.3a1 1 0 1 0 2 0a1 1 0 1 0 -2 0M197.8 582a1.3 1.3 0 1 0 2.7 0a1.3 1.3 0 1 0 -2.7 0M187.1 594.8a1 1 0 1 0 2 0a1 1 0 1 0 -2 0M173.7 584.2a.9 .9 0 1 0 1.7 0a.9 .9 0 1 0 -1.7 0M183.1 580.2a1.1 1.1 0 1 0 2.1 0a1.1 1.1 0 1 0 -2.1 0M196.1 596.4a.9 .9 0 1 0 1.8 0a.9 .9 0 1 0 -1.8 0M174.6 581a1 1 0 1 0 2 0a1 1 0 1 0 -2 0M171.5 595a.8 .8 0 1 0 1.5 0a.8 .8 0 1 0 -1.5 0M174.5 598.5a1.1 1.1 0 1 0 2.3 0a1.1 1.1 0 1 0 -2.3 0M178.7 611.5a.7 .7 0 1 0 1.5 0a.7 .7 0 1 0 -1.5 0M180.1 615.5a1.3 1.3 0 1 0 2.5 0a1.3 1.3 0 1 0 -2.5 0M186.9 601a1.3 1.3 0 1 0 2.6 0a1.3 1.3 0 1 0 -2.6 0M173.8 590.4a.8 .8 0 1 0 1.6 0a.8 .8 0 1 0 -1.6 0M197.4 601.3a1.4 1.4 0 1 0 2.8 0a1.4 1.4 0 1 0 -2.8 0M186.7 575a1.1 1.1 0 1 0 2.1 0a1.1 1.1 0 1 0 -2.1 0M173.9 604.2a1 1 0 1 0 2.1 0a1 1 0 1 0 -2.1 0M172.4 584.6a.7 .7 0 1 0 1.4 0a.7 .7 0 1 0 -1.4 0M178.8 565.9a.7 .7 0 1 0 1.5 0a.7 .7 0 1 0 -1.5 0M185.9 607.5a1.1 1.1 0 1 0 2.2 0a1.1 1.1 0 1 0 -2.2 0M170.3 575.8a1.3 1.3 0 1 0 2.7 0a1.3 1.3 0 1 0 -2.7 0M171.3 582.6a1.1 1.1 0 1 0 2.2 0a1.1 1.1 0 1 0 -2.2 0M188.1 610.6a1.2 1.2 0 1 0 2.3 0a1.2 1.2 0 1 0 -2.3 0M188.2 605.3a.8 .8 0 1 0 1.6 0a.8 .8 0 1 0 -1.6 0M181.7 586.3a1.1 1.1 0 1 0 2.3 0a1.1 1.1 0 1 0 -2.3 0M182.1 613a1 1 0 1 0 2.1 0a1 1 0 1 0 -2.1 0M206.8 559.6a1.3 1.3 0 1 0 2.5 0a1.3 1.3 0 1 0 -2.5 0M208.1 562.6a1.2 1.2 0 1 0 2.5 0a1.2 1.2 0 1 0 -2.5 0M206.4 559.1a1.3 1.3 0 1 0 2.7 0a1.3 1.3 0 1 0 -2.7 0M208.5 560.3a1.3 1.3 0 1 0 2.6 0a1.3 1.3 0 1 0 -2.6 0M210.7 564.1a1.3 1.3 0 1 0 2.5 0a1.3 1.3 0 1 0 -2.5 0M200.4 572.9a1 1 0 1 0 2 0a1 1 0 1 0 -2 0M197 551.3a1.4 1.4 0 1 0 2.7 0a1.4 1.4 0 1 0 -2.7 0M201.7 561.4a1.2 1.2 0 1 0 2.5 0a1.2 1.2 0 1 0 -2.5 0M204.4 563.8a1.1 1.1 0 1 0 2.3 0a1.1 1.1 0 1 0 -2.3 0M174.9 559a1.1 1.1 0 1 0 2.3 0a1.1 1.1 0 1 0 -2.3 0M179.5 566.2a.8 .8 0 1 0 1.6 0a.8 .8 0 1 0 -1.6 0M184.5 572.3a1.3 1.3 0 1 0 2.7 0a1.3 1.3 0 1 0 -2.7 0M197.1 566.4a1 1 0 1 0 2 0a1 1 0 1 0 -2 0"/>
<path fill="#fafafa" fill-opacity="0.9" d="M187.7 588.5a.7 .7 0 1 0 1.4 0a.7 .7 0 1 0 -1.4 0M193.3 605.4a.9 .9 0 1 0 1.9 0a.9 .9 0 1 0 -1.9 0M190.8 587.3a1.1 1.1 0 1 0 2.2 0a1.1 1.1 0 1 0 -2.2 0M197.2 579.9a.7 .7 0 1 0 1.5 0a.7 .7 0 1 0 -1.5 0M185.8 563.7a1.1 1.1 0 1 0 2.3 0a1.1 1.1 0 1 0 -2.3 0M173.9 595.3a.7 .7 0 1 0 1.5 0a.7 .7 0 1 0 -1.5 0M187.4 597.6a.9 .9 0 1 0 1.8 0a.9 .9 0 1 0 -1.8 0M181.6 589.3a1.1 1.1 0 1 0 2.3 0a1.1 1.1 0 1 0 -2.3 0M164.4 589.2a1.3 1.3 0 1 0 2.5 0a1.3 1.3 0 1 0 -2.5 0M185.2 578.9a1.1 1.1 0 1 0 2.2 0a1.1 1.1 0 1 0 -2.2 0M176.8 573.4a.8 .8 0 1 0 1.6 0a.8 .8 0 1 0 -1.6 0M191.2 608.2a.9 .9 0 1 0 1.7 0a.9 .9 0 1 0 -1.7 0M185.9 594.8a1 1 0 1 0 2.1 0a1 1 0 1 0 -2.1 0M187.7 598.8a1.2 1.2 0 1 0 2.5 0a1.2 1.2 0 1 0 -2.5 0M164.8 613.6a1.2 1.2 0 1 0 2.4 0a1.2 1.2 0 1 0 -2.4 0M185.3 593.9a1.2 1.2 0 1 0 2.4 0a1.2 1.2 0 1 0 -2.4 0M159.8 588.5a.9 .9 0 1 0 1.8 0a.9 .9 0 1 0 -1.8 0M198.9 585.5a1.3 1.3 0 1 0 2.6 0a1.3 1.3 0 1 0 -2.6 0M173.6 620.4a1 1 0 1 0 2 0a1 1 0 1 0 -2 0M180.7 577.3a1.1 1.1 0 1 0 2.3 0a1.1 1.1 0 1 0 -2.3 0M185 607a.7 .7 0 1 0 1.5 0a.7 .7 0 1 0 -1.5 0M172.2 577.1a1.3 1.3 0 1 0 2.5 0a1.3 1.3 0 1 0 -2.5 0M176.2 604.7a1 1 0 1 0 2 0a1 1 0 1 0 -2 0M179.2 605.6a1.1 1.1 0 1 0 2.1 0a1.1 1.1 0 1 0 -2.1 0M187.1 606.3a1.2 1.2 0 1 0 2.5 0a1.2 1.2 0 1 0 -2.5 0M170.7 574.9a1.2 1.2 0 1 0 2.3 0a1.2 1.2 0 1 0 -2.3 0M181.8 581.6a1.1 1.1 0 1 0 2.2 0a1.1 1.1 0 1 0 -2.2 0"/>
<path fill="#b6b6b6" d="M209.4 582.2a.7 .7 0 1 0 1.3 0a.7 .7 0 1 0 -1.3 0M205 587.1a.6 .6 0 1 0 1.3 0a.6 .6 0 1 0 -1.3 0M207.9 596.8a.6 .6 0 1 0 1.2 0a.6 .6 0 1 0 -1.2 0M203.5 593.9a.8 .8 0 1 0 1.7 0a.8 .8 0 1 0 -1.7 0M210.1 582.2a.8 .8 0 1 0 1.6 0a.8 .8 0 1 0 -1.6 0M207.4 577.5a.8 .8 0 1 0 1.7 0a.8 .8 0 1 0 -1.7 0M201.1 596.1a.5 .5 0 1 0 1 0a.5 .5 0 1 0 -1 0M205.4 591.8a.9 .9 0 1 0 1.8 0a.9 .9 0 1 0 -1.8 0M204.9 583.7a.8 .8 0 1 0 1.5 0a.8 .8 0 1 0 -1.5 0M206.8 598.9a.7 .7 0 1 0 1.4 0a.7 .7 0 1 0 -1.4 0"/>
<path fill="#b7b7b7" d="M232.4 557.2a.7 .7 0 1 0 1.5 0a.7 .7 0 1 0 -1.5 0M234.6 556.4a.9 .9 0 1 0 1.9 0a.9 .9 0 1 0 -1.9 0M218.3 559.6a.9 .9 0 1 0 1.8 0a.9 .9 0 1 0 -1.8 0M227.7 552.3a1 1 0 1 0 2.1 0a1 1 0 1 0 -2.1 0M247.2 557.4a.6 .6 0 1 0 1.3 0a.6 .6 0 1 0 -1.3 0M233.1 558.7a.8 .8 0 1 0 1.7 0a.8 .8 0 1 0 -1.7 0M238.8 551.6a1 1 0 1 0 2.1 0a1 1 0 1 0 -2.1 0M236.4 560.6a.8 .8 0 1 0 1.6 0a.8 .8 0 1 0 -1.6 0M224 556.5a.8 .8 0 1 0 1.6 0a.8 .8 0 1 0 -1.6 0M229.9 556.2a.9 .9 0 1 0 1.8 0a.9 .9 0 1 0 -1.8 0M230.4 559.4a1 1 0 1 0 1.9 0a1 1 0 1 0 -1.9 0M236.3 556.6a.7 .7 0 1 0 1.3 0a.7 .7 0 1 0 -1.3 0M233.6 559a.6 .6 0 1 0 1.3 0a.6 .6 0 1 0 -1.3 0M222.2 552.7a.9 .9 0 1 0 1.7 0a.9 .9 0 1 0 -1.7 0M231.1 555.9a1.1 1.1 0 1 0 2.1 0a1.1 1.1 0 1 0 -2.1 0M232 551.7a.6 .6 0 1 0 1.2 0a.6 .6 0 1 0 -1.2 0"/>
<path fill="#b9b9b9" d="M207.4 560a1.1 1.1 0 1 0 2.1 0a1.1 1.1 0 1 0 -2.1 0M208.7 563a1.1 1.1 0 1 0 2.1 0a1.1 1.1 0 1 0 -2.1 0M203 569.7a.6 .6 0 1 0 1.3 0a.6 .6 0 1 0 -1.3 0M207 559.5a1.1 1.1 0 1 0 2.3 0a1.1 1.1 0 1 0 -2.3 0M219.9 555.4a1.1 1.1 0 1 0 2.2 0a1.1 1.1 0 1 0 -2.2 0M194.8 556a.7 .7 0 1 0 1.4 0a.7 .7 0 1 0 -1.4 0M206.4 561.8a.6 .6 0 1 0 1.2 0a.6 .6 0 1 0 -1.2 0M213.3 557.6a1 1 0 1 0 2 0a1 1 0 1 0 -2 0M207 569.6a.9 .9 0 1 0 1.8 0a.9 .9 0 1 0 -1.8 0M197.7 563.7a.7 .7 0 1 0 1.4 0a.7 .7 0 1 0 -1.4 0M209.1 560.7a1.1 1.1 0 1 0 2.2 0a1.1 1.1 0 1 0 -2.2 0M180 564a.9 .9 0 1 0 1.8 0a.9 .9 0 1 0 -1.8 0M205.2 569.4a.6 .6 0 1 0 1.2 0a.6 .6 0 1 0 -1.2 0M208.4 566.3a.8 .8 0 1 0 1.7 0a.8 .8 0 1 0 -1.7 0M211.3 564.5a1.1 1.1 0 1 0 2.1 0a1.1 1.1 0 1 0 -2.1 0M201 573.3a.9 .9 0 1 0 1.7 0a.9 .9 0 1 0 -1.7 0M197.6 551.7a1.2 1.2 0 1 0 2.3 0a1.2 1.2 0 1 0 -2.3 0M186.2 553.5a1.2 1.2 0 1 0 2.3 0a1.2 1.2 0 1 0 -2.3 0M200.8 559.2a.7 .7 0 1 0 1.3 0a.7 .7 0 1 0 -1.3 0M192.5 571.1a.7 .7 0 1 0 1.4 0a.7 .7 0 1 0 -1.4 0M213.9 553.8a.6 .6 0 1 0 1.3 0a.6 .6 0 1 0 -1.3 0M179.9 561.4a1 1 0 1 0 2 0a1 1 0 1 0 -2 0M210.2 570a.9 .9 0 1 0 1.8 0a.9 .9 0 1 0 -1.8 0M197.3 570.2a.7 .7 0 1 0 1.5 0a.7 .7 0 1 0 -1.5 0M216.7 572.9a.8 .8 0 1 0 1.6 0a.8 .8 0 1 0 -1.6 0M214.3 563.7a1 1 0 1 0 2 0a1 1 0 1 0 -2 0M191.1 574.5a1.2 1.2 0 1 0 2.4 0a1.2 1.2 0 1 0 -2.4 0M187.6 573.2a.6 .6 0 1 0 1.2 0a.6 .6 0 1 0 -1.2 0M201 556.7a1.2 1.2 0 1 0 2.3 0a1.2 1.2 0 1 0 -2.3 0M195.7 570.9a.7 .7 0 1 0 1.4 0a.7 .7 0 1 0 -1.4 0M205.4 562.3a.8 .8 0 1 0 1.5 0a.8 .8 0 1 0 -1.5 0M202.3 561.8a1.1 1.1 0 1 0 2.1 0a1.1 1.1 0 1 0 -2.1 0M180.1 556.4a1.1 1.1 0 1 0 2.3 0a1.1 1.1 0 1 0 -2.3 0M214.3 566a1.1 1.1 0 1 0 2.3 0a1.1 1.1 0 1 0 -2.3 0M186.9 565.4a.6 .6 0 1 0 1.2 0a.6 .6 0 1 0 -1.2 0M204.9 564.2a1 1 0 1 0 1.9 0a1 1 0 1 0 -1.9 0M220.5 567.8a1 1 0 1 0 2 0a1 1 0 1 0 -2 0M177.1 559.9a.7 .7 0 1 0 1.5 0a.7 .7 0 1 0 -1.5 0M187.7 551.8a1.2 1.2 0 1 0 2.3 0a1.2 1.2 0 1 0 -2.3 0M180.5 565.1a1.1 1.1 0 1 0 2.1 0a1.1 1.1 0 1 0 -2.1 0M193.6 560.9a.9 .9 0 1 0 1.8 0a.9 .9 0 1 0 -1.8 0M220.5 564.6a1.1 1.1 0 1 0 2.2 0a1.1 1.1 0 1 0 -2.2 0M175.5 559.4a1 1 0 1 0 1.9 0a1 1 0 1 0 -1.9 0M196.3 565.3a1 1 0 1 0 2 0a1 1 0 1 0 -2 0M180.1 566.6a.7 .7 0 1 0 1.4 0a.7 .7 0 1 0 -1.4 0M211.5 552.4a1 1 0 1 0 2 0a1 1 0 1 0 -2 0M199.7 568.4a.9 .9 0 1 0 1.9 0a.9 .9 0 1 0 -1.9 0M222.4 563.2a.9 .9 0 1 0 1.9 0a.9 .9 0 1 0 -1.9 0M210.2 559.6a1 1 0 1 0 1.9 0a1 1 0 1 0 -1.9 0M185.1 572.7a1.1 1.1 0 1 0 2.3 0a1.1 1.1 0 1 0 -2.3 0M196.7 553.7a.9 .9 0 1 0 1.8 0a.9 .9 0 1 0 -1.8 0M221.6 560.6a.7 .7 0 1 0 1.3 0a.7 .7 0 1 0 -1.3 0M212.5 567.6a.8 .8 0 1 0 1.5 0a.8 .8 0 1 0 -1.5 0M217.1 559.8a.8 .8 0 1 0 1.7 0a.8 .8 0 1 0 -1.7 0M197.6 566.8a.9 .9 0 1 0 1.7 0a.9 .9 0 1 0 -1.7 0M214.8 557.7a1 1 0 1 0 1.9 0a1 1 0 1 0 -1.9 0M217.2 557.2a.7 .7 0 1 0 1.4 0a.7 .7 0 1 0 -1.4 0M189 560.4a.8 .8 0 1 0 1.5 0a.8 .8 0 1 0 -1.5 0M199.9 549.8a1.1 1.1 0 1 0 2.3 0a1.1 1.1 0 1 0 -2.3 0M199.3 555.5a.9 .9 0 1 0 1.8 0a.9 .9 0 1 0 -1.8 0M182.1 622.1a1 1 0 1 0 1.9 0a1 1 0 1 0 -1.9 0M179.1 621.2a.9 .9 0 1 0 1.8 0a.9 .9 0 1 0 -1.8 0M195.5 623.8a1.1 1.1 0 1 0 2.1 0a1.1 1.1 0 1 0 -2.1 0M187.6 622.4a.6 .6 0 1 0 1.2 0a.6 .6 0 1 0 -1.2 0M169.7 620a1.1 1.1 0 1 0 2.2 0a1.1 1.1 0 1 0 -2.2 0M185.8 623.7a1 1 0 1 0 2 0a1 1 0 1 0 -2 0M189.2 616a.9 .9 0 1 0 1.8 0a.9 .9 0 1 0 -1.8 0M187.1 612.7a.9 .9 0 1 0 1.7 0a.9 .9 0 1 0 -1.7 0M178.6 611.5a1.1 1.1 0 1 0 2.1 0a1.1 1.1 0 1 0 -2.1 0M170.1 619.8a.8 .8 0 1 0 1.6 0a.8 .8 0 1 0 -1.6 0M177.9 618.2a.8 .8 0 1 0 1.6 0a.8 .8 0 1 0 -1.6 0M177.8 615.7a.8 .8 0 1 0 1.6 0a.8 .8 0 1 0 -1.6 0M188.4 622.5a.7 .7 0 1 0 1.5 0a.7 .7 0 1 0 -1.5 0M199.1 622.2a.8 .8 0 1 0 1.6 0a.8 .8 0 1 0 -1.6 0M185.7 623.6a.6 .6 0 1 0 1.3 0a.6 .6 0 1 0 -1.3 0M166.7 625a.8 .8 0 1 0 1.6 0a.8 .8 0 1 0 -1.6 0M167.2 623.6a.9 .9 0 1 0 1.8 0a.9 .9 0 1 0 -1.8 0M173.7 619.2a.6 .6 0 1 0 1.2 0a.6 .6 0 1 0 -1.2 0M194 621.5a.7 .7 0 1 0 1.4 0a.7 .7 0 1 0 -1.4 0M183.6 630.8a.9 .9 0 1 0 1.7 0a.9 .9 0 1 0 -1.7 0M191.5 624.3a1.1 1.1 0 1 0 2.1 0a1.1 1.1 0 1 0 -2.1 0M176.9 626.5a.9 .9 0 1 0 1.9 0a.9 .9 0 1 0 -1.9 0M168.5 622a.7 .7 0 1 0 1.4 0a.7 .7 0 1 0 -1.4 0M181 624.6a.9 .9 0 1 0 1.9 0a.9 .9 0 1 0 -1.9 0M180.5 628.2a1.1 1.1 0 1 0 2.2 0a1.1 1.1 0 1 0 -2.2 0M194.9 622.3a1 1 0 1 0 2.1 0a1 1 0 1 0 -2.1 0M165.7 617.1a.8 .8 0 1 0 1.7 0a.8 .8 0 1 0 -1.7 0M164.5 618.8a.6 .6 0 1 0 1.2 0a.6 .6 0 1 0 -1.2 0M169.8 615.8a1.1 1.1 0 1 0 2.1 0a1.1 1.1 0 1 0 -2.1 0M173.3 615.2a.9 .9 0 1 0 1.9 0a.9 .9 0 1 0 -1.9 0M180.4 623.4a.6 .6 0 1 0 1.2 0a.6 .6 0 1 0 -1.2 0M193.1 629.2a.8 .8 0 1 0 1.7 0a.8 .8 0 1 0 -1.7 0M189.7 621.8a.7 .7 0 1 0 1.4 0a.7 .7 0 1 0 -1.4 0M168.9 614.3a.7 .7 0 1 0 1.3 0a.7 .7 0 1 0 -1.3 0M183.4 628.5a1 1 0 1 0 2 0a1 1 0 1 0 -2 0M159 598.5a1.5 1.5 0 1 0 3.1 0a1.5 1.5 0 1 0 -3.1 0M232 610a1.5 1.5 0 1 0 3.1 0a1.5 1.5 0 1 0 -3.1 0M244.7 601a1.3 1.3 0 1 0 2.5 0a1.3 1.3 0 1 0 -2.5 0"/>
<path fill="#bbbbbb" d="M188.2 588.9a.6 .6 0 1 0 1.2 0a.6 .6 0 1 0 -1.2 0M193.8 605.8a.8 .8 0 1 0 1.6 0a.8 .8 0 1 0 -1.6 0M191.4 587.7a1 1 0 1 0 1.9 0a1 1 0 1 0 -1.9 0M197.7 580.3a.6 .6 0 1 0 1.2 0a.6 .6 0 1 0 -1.2 0M179.2 600a1.1 1.1 0 1 0 2.2 0a1.1 1.1 0 1 0 -2.2 0M166.5 581.7a1 1 0 1 0 1.9 0a1 1 0 1 0 -1.9 0M174.5 614.9a1.2 1.2 0 1 0 2.3 0a1.2 1.2 0 1 0 -2.3 0M189.7 571.4a.7 .7 0 1 0 1.4 0a.7 .7 0 1 0 -1.4 0M168.9 590.3a.8 .8 0 1 0 1.7 0a.8 .8 0 1 0 -1.7 0M178.3 604.4a.9 .9 0 1 0 1.9 0a.9 .9 0 1 0 -1.9 0M170.7 586.8a1 1 0 1 0 2 0a1 1 0 1 0 -2 0M192.5 590.7a.9 .9 0 1 0 1.7 0a.9 .9 0 1 0 -1.7 0M194.8 585.7a.8 .8 0 1 0 1.7 0a.8 .8 0 1 0 -1.7 0M188.8 607.4a.8 .8 0 1 0 1.6 0a.8 .8 0 1 0 -1.6 0M183.2 594.8a.9 .9 0 1 0 1.8 0a.9 .9 0 1 0 -1.8 0M187.5 612.8a.6 .6 0 1 0 1.3 0a.6 .6 0 1 0 -1.3 0M192.6 583.1a1.1 1.1 0 1 0 2.2 0a1.1 1.1 0 1 0 -2.2 0M181.5 574.2a1 1 0 1 0 2.1 0a1 1 0 1 0 -2.1 0M186.4 564.1a1 1 0 1 0 1.9 0a1 1 0 1 0 -1.9 0M166.6 591a.8 .8 0 1 0 1.6 0a.8 .8 0 1 0 -1.6 0M174.4 595.7a.6 .6 0 1 0 1.2 0a.6 .6 0 1 0 -1.2 0M187.9 598a.7 .7 0 1 0 1.5 0a.7 .7 0 1 0 -1.5 0M181.3 597.6a.9 .9 0 1 0 1.7 0a.9 .9 0 1 0 -1.7 0M183.7 587.4a.8 .8 0 1 0 1.6 0a.8 .8 0 1 0 -1.6 0M185.9 607.5a.8 .8 0 1 0 1.6 0a.8 .8 0 1 0 -1.6 0M174.1 593.5a.7 .7 0 1 0 1.5 0a.7 .7 0 1 0 -1.5 0M178.6 583.5a1.1 1.1 0 1 0 2.2 0a1.1 1.1 0 1 0 -2.2 0M167.4 591.2a.6 .6 0 1 0 1.2 0a.6 .6 0 1 0 -1.2 0M182.1 589.7a1 1 0 1 0 1.9 0a1 1 0 1 0 -1.9 0M183.7 609.3a.7 .7 0 1 0 1.4 0a.7 .7 0 1 0 -1.4 0M182.8 589.2a.8 .8 0 1 0 1.6 0a.8 .8 0 1 0 -1.6 0M189.6 561.3a.9 .9 0 1 0 1.8 0a.9 .9 0 1 0 -1.8 0M175.2 590.2a.8 .8 0 1 0 1.5 0a.8 .8 0 1 0 -1.5 0M165 589.6a1.1 1.1 0 1 0 2.2 0a1.1 1.1 0 1 0 -2.2 0M163.4 607.9a1 1 0 1 0 2.1 0a1 1 0 1 0 -2.1 0M184.6 599.3a.6 .6 0 1 0 1.3 0a.6 .6 0 1 0 -1.3 0M189.9 606.5a1.1 1.1 0 1 0 2.2 0a1.1 1.1 0 1 0 -2.2 0M182.1 587.9a1.2 1.2 0 1 0 2.3 0a1.2 1.2 0 1 0 -2.3 0M184.6 585a.6 .6 0 1 0 1.3 0a.6 .6 0 1 0 -1.3 0M204.5 578.7a.8 .8 0 1 0 1.7 0a.8 .8 0 1 0 -1.7 0M198.4 582.4a1.1 1.1 0 1 0 2.3 0a1.1 1.1 0 1 0 -2.3 0M178.4 601.9a.7 .7 0 1 0 1.5 0a.7 .7 0 1 0 -1.5 0M181.5 594.1a.8 .8 0 1 0 1.6 0a.8 .8 0 1 0 -1.6 0M178.7 599a.9 .9 0 1 0 1.8 0a.9 .9 0 1 0 -1.8 0M185.7 579.3a.9 .9 0 1 0 1.8 0a.9 .9 0 1 0 -1.8 0M179.6 594a1.2 1.2 0 1 0 2.3 0a1.2 1.2 0 1 0 -2.3 0M187.9 598.9a.8 .8 0 1 0 1.6 0a.8 .8 0 1 0 -1.6 0M202.7 590a.7 .7 0 1 0 1.3 0a.7 .7 0 1 0 -1.3 0M178 590.8a.8 .8 0 1 0 1.6 0a.8 .8 0 1 0 -1.6 0M171.5 582.8a1 1 0 1 0 1.9 0a1 1 0 1 0 -1.9 0M188 570.3a.8 .8 0 1 0 1.6 0a.8 .8 0 1 0 -1.6 0M187.7 595.2a.9 .9 0 1 0 1.7 0a.9 .9 0 1 0 -1.7 0M166.6 594.6a1 1 0 1 0 1.9 0a1 1 0 1 0 -1.9 0M174.2 584.6a.7 .7 0 1 0 1.5 0a.7 .7 0 1 0 -1.5 0M176.3 603.8a.9 .9 0 1 0 1.9 0a.9 .9 0 1 0 -1.9 0M194.1 581.6a1.1 1.1 0 1 0 2.2 0a1.1 1.1 0 1 0 -2.2 0M183.7 580.6a.9 .9 0 1 0 1.8 0a.9 .9 0 1 0 -1.8 0M175.5 584.4a.9 .9 0 1 0 1.8 0a.9 .9 0 1 0 -1.8 0M175.2 585.8a.8 .8 0 1 0 1.7 0a.8 .8 0 1 0 -1.7 0M196.6 596.8a.8 .8 0 1 0 1.6 0a.8 .8 0 1 0 -1.6 0M174.9 569.7a.7 .7 0 1 0 1.5 0a.7 .7 0 1 0 -1.5 0M177.3 581.7a.6 .6 0 1 0 1.2 0a.6 .6 0 1 0 -1.2 0M175.8 590.5a.7 .7 0 1 0 1.3 0a.7 .7 0 1 0 -1.3 0M184.2 596.6a.9 .9 0 1 0 1.8 0a.9 .9 0 1 0 -1.8 0M165.9 598a.9 .9 0 1 0 1.9 0a.9 .9 0 1 0 -1.9 0M184.6 587.3a.7 .7 0 1 0 1.3 0a.7 .7 0 1 0 -1.3 0M175.2 581.4a.9 .9 0 1 0 1.7 0a.9 .9 0 1 0 -1.7 0M186.1 576.6a.6 .6 0 1 0 1.2 0a.6 .6 0 1 0 -1.2 0M196.3 616.7a1.1 1.1 0 1 0 2.3 0a1.1 1.1 0 1 0 -2.3 0M177.3 573.8a.7 .7 0 1 0 1.4 0a.7 .7 0 1 0 -1.4 0M172 595.4a.6 .6 0 1 0 1.3 0a.6 .6 0 1 0 -1.3 0M175.1 598.9a1 1 0 1 0 1.9 0a1 1 0 1 0 -1.9 0M179.2 611.9a.6 .6 0 1 0 1.2 0a.6 .6 0 1 0 -1.2 0M188.3 576.8a.7 .7 0 1 0 1.4 0a.7 .7 0 1 0 -1.4 0M180.7 615.9a1.1 1.1 0 1 0 2.1 0a1.1 1.1 0 1 0 -2.1 0M173 570.3a.8 .8 0 1 0 1.6 0a.8 .8 0 1 0 -1.6 0M183.4 600.5a.8 .8 0 1 0 1.7 0a.8 .8 0 1 0 -1.7 0M177.4 622.2a1 1 0 1 0 2.1 0a1 1 0 1 0 -2.1 0M186.8 574.1a1.1 1.1 0 1 0 2.2 0a1.1 1.1 0 1 0 -2.2 0M187.5 601.4a1.1 1.1 0 1 0 2.2 0a1.1 1.1 0 1 0 -2.2 0M179.1 596.8a.7 .7 0 1 0 1.5 0a.7 .7 0 1 0 -1.5 0M191.7 608.6a.7 .7 0 1 0 1.5 0a.7 .7 0 1 0 -1.5 0M165.3 601.8a.8 .8 0 1 0 1.6 0a.8 .8 0 1 0 -1.6 0M179.7 601.4a1 1 0 1 0 2.1 0a1 1 0 1 0 -2.1 0M181.6 596.6a.8 .8 0 1 0 1.6 0a.8 .8 0 1 0 -1.6 0M184.7 600.7a.7 .7 0 1 0 1.4 0a.7 .7 0 1 0 -1.4 0M189.6 586.6a.6 .6 0 1 0 1.2 0a.6 .6 0 1 0 -1.2 0M190.7 601a1.1 1.1 0 1 0 2.1 0a1.1 1.1 0 1 0 -2.1 0M174.4 567.1a.9 .9 0 1 0 1.8 0a.9 .9 0 1 0 -1.8 0M190.9 604.5a.7 .7 0 1 0 1.5 0a.7 .7 0 1 0 -1.5 0M184.1 595.2a.9 .9 0 1 0 1.8 0a.9 .9 0 1 0 -1.8 0M174.3 590.8a.7 .7 0 1 0 1.3 0a.7 .7 0 1 0 -1.3 0M177.3 574.5a.9 .9 0 1 0 1.9 0a.9 .9 0 1 0 -1.9 0M185.7 577.3a.7 .7 0 1 0 1.3 0a.7 .7 0 1 0 -1.3 0M186.5 595.2a.9 .9 0 1 0 1.8 0a.9 .9 0 1 0 -1.8 0M182.6 616.4a.7 .7 0 1 0 1.3 0a.7 .7 0 1 0 -1.3 0M195 567.1a.8 .8 0 1 0 1.6 0a.8 .8 0 1 0 -1.6 0M188.3 599.2a1.1 1.1 0 1 0 2.1 0a1.1 1.1 0 1 0 -2.1 0M198 601.7a1.2 1.2 0 1 0 2.3 0a1.2 1.2 0 1 0 -2.3 0M181.3 565.9a1 1 0 1 0 2.1 0a1 1 0 1 0 -2.1 0M183.7 580.3a.9 .9 0 1 0 1.7 0a.9 .9 0 1 0 -1.7 0M187.3 575.4a.9 .9 0 1 0 1.8 0a.9 .9 0 1 0 -1.8 0M174.4 604.6a.9 .9 0 1 0 1.8 0a.9 .9 0 1 0 -1.8 0M186.4 573.3a1 1 0 1 0 2 0a1 1 0 1 0 -2 0M170 579.6a.8 .8 0 1 0 1.7 0a.8 .8 0 1 0 -1.7 0M165.4 614a1 1 0 1 0 2.1 0a1 1 0 1 0 -2.1 0M172.9 585a.6 .6 0 1 0 1.2 0a.6 .6 0 1 0 -1.2 0M179.3 566.3a.6 .6 0 1 0 1.2 0a.6 .6 0 1 0 -1.2 0M165.2 610.3a.8 .8 0 1 0 1.7 0a.8 .8 0 1 0 -1.7 0M185.4 600.3a.7 .7 0 1 0 1.4 0a.7 .7 0 1 0 -1.4 0M185.9 594.3a1 1 0 1 0 2.1 0a1 1 0 1 0 -2.1 0M176.1 590.3a1.1 1.1 0 1 0 2.1 0a1.1 1.1 0 1 0 -2.1 0M160.4 588.9a.8 .8 0 1 0 1.6 0a.8 .8 0 1 0 -1.6 0M199.5 585.9a1.1 1.1 0 1 0 2.2 0a1.1 1.1 0 1 0 -2.2 0M186.5 607.9a.9 .9 0 1 0 1.8 0a.9 .9 0 1 0 -1.8 0M174.3 585.4a.7 .7 0 1 0 1.4 0a.7 .7 0 1 0 -1.4 0M172.6 586.4a.7 .7 0 1 0 1.5 0a.7 .7 0 1 0 -1.5 0M181 603.7a.7 .7 0 1 0 1.5 0a.7 .7 0 1 0 -1.5 0M170.9 576.2a1.1 1.1 0 1 0 2.3 0a1.1 1.1 0 1 0 -2.3 0M170.9 601.3a1 1 0 1 0 2.1 0a1 1 0 1 0 -2.1 0M166.1 594.3a1.1 1.1 0 1 0 2.1 0a1.1 1.1 0 1 0 -2.1 0M194.7 594.7a1 1 0 1 0 2.1 0a1 1 0 1 0 -2.1 0M170.7 580.1a.7 .7 0 1 0 1.5 0a.7 .7 0 1 0 -1.5 0M174.2 620.8a.8 .8 0 1 0 1.7 0a.8 .8 0 1 0 -1.7 0M171.8 583a.9 .9 0 1 0 1.9 0a.9 .9 0 1 0 -1.9 0M195.1 617.4a1 1 0 1 0 1.9 0a1 1 0 1 0 -1.9 0M193.4 602.4a1.1 1.1 0 1 0 2.1 0a1.1 1.1 0 1 0 -2.1 0M181.3 577.7a1 1 0 1 0 1.9 0a1 1 0 1 0 -1.9 0M188.6 611a1 1 0 1 0 2 0a1 1 0 1 0 -2 0M185.5 607.4a.6 .6 0 1 0 1.2 0a.6 .6 0 1 0 -1.2 0M168.5 600.2a.9 .9 0 1 0 1.7 0a.9 .9 0 1 0 -1.7 0M184.1 608a1 1 0 1 0 2 0a1 1 0 1 0 -2 0M172.8 577.5a1.1 1.1 0 1 0 2.1 0a1.1 1.1 0 1 0 -2.1 0M188.8 605.7a.7 .7 0 1 0 1.3 0a.7 .7 0 1 0 -1.3 0M189.3 577.2a1.1 1.1 0 1 0 2.1 0a1.1 1.1 0 1 0 -2.1 0M164.5 605.5a.7 .7 0 1 0 1.3 0a.7 .7 0 1 0 -1.3 0M176.7 605.1a.8 .8 0 1 0 1.7 0a.8 .8 0 1 0 -1.7 0M192.3 566.4a1.1 1.1 0 1 0 2.2 0a1.1 1.1 0 1 0 -2.2 0M158.7 588a1.1 1.1 0 1 0 2.2 0a1.1 1.1 0 1 0 -2.2 0M182.3 586.7a1 1 0 1 0 1.9 0a1 1 0 1 0 -1.9 0M170.7 605.9a.9 .9 0 1 0 1.8 0a.9 .9 0 1 0 -1.8 0M180.6 620.8a.8 .8 0 1 0 1.6 0a.8 .8 0 1 0 -1.6 0M179.8 606a.9 .9 0 1 0 1.8 0a.9 .9 0 1 0 -1.8 0M187.7 606.7a1 1 0 1 0 2.1 0a1 1 0 1 0 -2.1 0M171.3 575.3a1 1 0 1 0 2 0a1 1 0 1 0 -2 0M187.6 590.6a1 1 0 1 0 2 0a1 1 0 1 0 -2 0M201.5 610.2a1.1 1.1 0 1 0 2.3 0a1.1 1.1 0 1 0 -2.3 0M182.4 582a.9 .9 0 1 0 1.9 0a.9 .9 0 1 0 -1.9 0M174.9 601.1a.8 .8 0 1 0 1.6 0a.8 .8 0 1 0 -1.6 0M182.7 613.4a.9 .9 0 1 0 1.7 0a.9 .9 0 1 0 -1.7 0"/>
</g></g>
<clipPath id="cp3"><rect x="281.0" y="459.6" width="129.60" height="173.00"/></clipPath>
<g clip-path="url(#cp3)">
<linearGradient id="lg3" gradientUnits="userSpaceOnUse" x1="0" y1="459.6" x2="0" y2="632.6"><stop offset="0.000" stop-color="#ababab"/><stop offset="0.234" stop-color="#bababa"/><stop offset="0.465" stop-color="#bebebe"/><stop offset="1.000" stop-color="#c2c2c2"/></linearGradient>
<rect x="281.0" y="459.6" width="129.60" height="173.00" fill="url(#lg3)"/>
<g filter="url(#soft)">
<circle cx="337.1" cy="483.6" r="6.2" fill="#383838" fill-opacity="0.50"/>
<circle cx="335.9" cy="482.4" r="6.2" fill="#ffffff" fill-opacity="0.50"/>
<circle cx="336.5" cy="483.0" r="5.6" fill="#bababa"/>
<circle cx="336.5" cy="483.0" r="5.6" fill="url(#sph)" opacity="1.00"/>
<circle cx="341.6" cy="503.1" r="5.2" fill="#383838" fill-opacity="0.60"/>
<circle cx="340.4" cy="501.9" r="5.2" fill="#ffffff" fill-opacity="0.45"/>
<circle cx="341.0" cy="502.5" r="4.6" fill="#b4b4b4"/>
<circle cx="341.0" cy="502.5" r="4.6" fill="url(#sph)" opacity="1.00"/>
<circle cx="379.0" cy="477.6" r="5.4" fill="#383838" fill-opacity="0.50"/>
<circle cx="377.8" cy="476.4" r="5.4" fill="#ffffff" fill-opacity="0.50"/>
<circle cx="378.4" cy="477.0" r="4.8" fill="#b5b5b5"/>
<circle cx="378.4" cy="477.0" r="4.8" fill="url(#sph)" opacity="1.00"/>
<circle cx="390.3" cy="477.6" r="4.6" fill="#383838" fill-opacity="0.50"/>
<circle cx="389.1" cy="476.4" r="4.6" fill="#ffffff" fill-opacity="0.50"/>
<circle cx="389.7" cy="477.0" r="4.0" fill="#b5b5b5"/>
<circle cx="389.7" cy="477.0" r="4.0" fill="url(#sph)" opacity="1.00"/>
<circle cx="384.6" cy="463.6" r="4.9" fill="#383838" fill-opacity="0.50"/>
<circle cx="383.4" cy="462.4" r="4.9" fill="#ffffff" fill-opacity="0.50"/>
<circle cx="384.0" cy="463.0" r="4.3" fill="#b0b0b0"/>
<circle cx="384.0" cy="463.0" r="4.3" fill="url(#sph)" opacity="1.00"/>
<circle cx="393.2" cy="492.6" r="3.7" fill="#383838" fill-opacity="0.50"/>
<circle cx="392.0" cy="491.4" r="3.7" fill="#ffffff" fill-opacity="0.50"/>
<circle cx="392.6" cy="492.0" r="3.1" fill="#bbbbbb"/>
<circle cx="392.6" cy="492.0" r="3.1" fill="url(#sph)" opacity="1.00"/>
<path fill="#404040" fill-opacity="0.2" d="M303.9 488a1.4 1.4 0 1 0 2.8 0a1.4 1.4 0 1 0 -2.8 0M312.1 496a1.3 1.3 0 1 0 2.7 0a1.3 1.3 0 1 0 -2.7 0M304.2 499.8a1.2 1.2 0 1 0 2.5 0a1.2 1.2 0 1 0 -2.5 0M319.3 496.5a1.3 1.3 0 1 0 2.6 0a1.3 1.3 0 1 0 -2.6 0M295.9 508.1a1 1 0 1 0 2 0a1 1 0 1 0 -2 0M304.2 503.8a.8 .8 0 1 0 1.5 0a.8 .8 0 1 0 -1.5 0M306.4 488.9a1 1 0 1 0 2 0a1 1 0 1 0 -2 0M306.6 499.9a.9 .9 0 1 0 1.9 0a.9 .9 0 1 0 -1.9 0M299.2 513.3a.9 .9 0 1 0 1.7 0a.9 .9 0 1 0 -1.7 0M311.2 497.3a1.3 1.3 0 1 0 2.5 0a1.3 1.3 0 1 0 -2.5 0M292.7 502.5a.8 .8 0 1 0 1.5 0a.8 .8 0 1 0 -1.5 0M307.1 507.6a1.2 1.2 0 1 0 2.5 0a1.2 1.2 0 1 0 -2.5 0M279.7 496.7a1.3 1.3 0 1 0 2.7 0a1.3 1.3 0 1 0 -2.7 0M294.2 497.5a1 1 0 1 0 2 0a1 1 0 1 0 -2 0M295.3 510.6a.9 .9 0 1 0 1.9 0a.9 .9 0 1 0 -1.9 0M308.1 481.1a.7 .7 0 1 0 1.4 0a.7 .7 0 1 0 -1.4 0M297.6 504.7a.9 .9 0 1 0 1.7 0a.9 .9 0 1 0 -1.7 0M297.6 504.1a1.2 1.2 0 1 0 2.5 0a1.2 1.2 0 1 0 -2.5 0M305.6 502.7a1.1 1.1 0 1 0 2.2 0a1.1 1.1 0 1 0 -2.2 0M309.4 499.5a.9 .9 0 1 0 1.9 0a.9 .9 0 1 0 -1.9 0M301.7 507.8a1.3 1.3 0 1 0 2.6 0a1.3 1.3 0 1 0 -2.6 0M312.6 498.2a1.2 1.2 0 1 0 2.5 0a1.2 1.2 0 1 0 -2.5 0M309.1 493.6a1 1 0 1 0 1.9 0a1 1 0 1 0 -1.9 0M300.8 502.2a1.3 1.3 0 1 0 2.5 0a1.3 1.3 0 1 0 -2.5 0M307.9 498.8a1 1 0 1 0 2 0a1 1 0 1 0 -2 0M391.3 504.2a1.5 1.5 0 1 0 3.1 0a1.5 1.5 0 1 0 -3.1 0M371.7 499.6a1.6 1.6 0 1 0 3.2 0a1.6 1.6 0 1 0 -3.2 0M374.5 498.7a1.4 1.4 0 1 0 2.8 0a1.4 1.4 0 1 0 -2.8 0M382.3 506.1a1.5 1.5 0 1 0 3 0a1.5 1.5 0 1 0 -3 0M379.7 515.8a1.1 1.1 0 1 0 2.1 0a1.1 1.1 0 1 0 -2.1 0M383.3 502.4a1.4 1.4 0 1 0 2.7 0a1.4 1.4 0 1 0 -2.7 0M376.8 508.3a1 1 0 1 0 2 0a1 1 0 1 0 -2 0M389.2 514.5a1.5 1.5 0 1 0 2.9 0a1.5 1.5 0 1 0 -2.9 0M395.4 522.7a1.1 1.1 0 1 0 2.2 0a1.1 1.1 0 1 0 -2.2 0M300.8 531.5a1.3 1.3 0 1 0 2.6 0a1.3 1.3 0 1 0 -2.6 0M307.7 538.5a1.2 1.2 0 1 0 2.4 0a1.2 1.2 0 1 0 -2.4 0M302 531.1a.9 .9 0 1 0 1.9 0a.9 .9 0 1 0 -1.9 0M311.2 544.7a1.2 1.2 0 1 0 2.4 0a1.2 1.2 0 1 0 -2.4 0M315 531.2a.9 .9 0 1 0 1.8 0a.9 .9 0 1 0 -1.8 0M324.2 535.7a1.4 1.4 0 1 0 2.7 0a1.4 1.4 0 1 0 -2.7 0M298.4 527.9a.9 .9 0 1 0 1.8 0a.9 .9 0 1 0 -1.8 0M320 535.8a1.3 1.3 0 1 0 2.6 0a1.3 1.3 0 1 0 -2.6 0M300.6 534.9a.7 .7 0 1 0 1.4 0a.7 .7 0 1 0 -1.4 0M326 530.3a1.2 1.2 0 1 0 2.3 0a1.2 1.2 0 1 0 -2.3 0M327 531.4a1 1 0 1 0 2 0a1 1 0 1 0 -2 0M303.8 535.9a1.1 1.1 0 1 0 2.1 0a1.1 1.1 0 1 0 -2.1 0M316.8 533a1.3 1.3 0 1 0 2.6 0a1.3 1.3 0 1 0 -2.6 0M321 533.1a1 1 0 1 0 1.9 0a1 1 0 1 0 -1.9 0M296.8 526.8a1 1 0 1 0 2.1 0a1 1 0 1 0 -2.1 0M304.6 528.5a1.3 1.3 0 1 0 2.5 0a1.3 1.3 0 1 0 -2.5 0M325.7 533.7a1 1 0 1 0 2 0a1 1 0 1 0 -2 0M318.9 538.8a1.3 1.3 0 1 0 2.5 0a1.3 1.3 0 1 0 -2.5 0M307.4 548.4a1 1 0 1 0 2.1 0a1 1 0 1 0 -2.1 0M307.8 556.7a1.4 1.4 0 1 0 2.9 0a1.4 1.4 0 1 0 -2.9 0M301.6 569.2a1.4 1.4 0 1 0 2.8 0a1.4 1.4 0 1 0 -2.8 0M314.1 565a1.1 1.1 0 1 0 2.3 0a1.1 1.1 0 1 0 -2.3 0M307.3 557.3a1.5 1.5 0 1 0 3 0a1.5 1.5 0 1 0 -3 0M322.1 560.4a.9 .9 0 1 0 1.8 0a.9 .9 0 1 0 -1.8 0M326 551.8a1 1 0 1 0 2.1 0a1 1 0 1 0 -2.1 0M311.8 572.4a1.6 1.6 0 1 0 3.1 0a1.6 1.6 0 1 0 -3.1 0M316.3 565.5a1.5 1.5 0 1 0 3 0a1.5 1.5 0 1 0 -3 0M324.2 562.1a1.7 1.7 0 1 0 3.4 0a1.7 1.7 0 1 0 -3.4 0M319.9 569.4a1.5 1.5 0 1 0 3.1 0a1.5 1.5 0 1 0 -3.1 0M312.8 559.1a1.5 1.5 0 1 0 3 0a1.5 1.5 0 1 0 -3 0M311.5 548.1a1.4 1.4 0 1 0 2.8 0a1.4 1.4 0 1 0 -2.8 0M319 561.7a1.2 1.2 0 1 0 2.3 0a1.2 1.2 0 1 0 -2.3 0M316.7 573.1a1.5 1.5 0 1 0 3 0a1.5 1.5 0 1 0 -3 0M325 612.2a1.1 1.1 0 1 0 2.3 0a1.1 1.1 0 1 0 -2.3 0M322.8 605.7a.9 .9 0 1 0 1.8 0a.9 .9 0 1 0 -1.8 0M316.7 618.1a1.1 1.1 0 1 0 2.2 0a1.1 1.1 0 1 0 -2.2 0M319.5 614.4a1.1 1.1 0 1 0 2.3 0a1.1 1.1 0 1 0 -2.3 0M321.4 608a1.1 1.1 0 1 0 2.2 0a1.1 1.1 0 1 0 -2.2 0M402.4 540.8a1 1 0 1 0 2.1 0a1 1 0 1 0 -2.1 0M404.1 536.1a1.1 1.1 0 1 0 2.3 0a1.1 1.1 0 1 0 -2.3 0M338.7 499.3a.8 .8 0 1 0 1.5 0a.8 .8 0 1 0 -1.5 0M325.2 538a1.2 1.2 0 1 0 2.3 0a1.2 1.2 0 1 0 -2.3 0M345.5 528.1a.7 .7 0 1 0 1.4 0a.7 .7 0 1 0 -1.4 0M341 492a.9 .9 0 1 0 1.8 0a.9 .9 0 1 0 -1.8 0M331.4 554.1a.9 .9 0 1 0 1.8 0a.9 .9 0 1 0 -1.8 0M330.2 523.3a1.2 1.2 0 1 0 2.3 0a1.2 1.2 0 1 0 -2.3 0M329 495a1.1 1.1 0 1 0 2.2 0a1.1 1.1 0 1 0 -2.2 0M316.5 477.8a.7 .7 0 1 0 1.4 0a.7 .7 0 1 0 -1.4 0"/>
<path fill="#404040" fill-opacity="0.3" d="M340.5 503.4a1.5 1.5 0 1 0 3 0a1.5 1.5 0 1 0 -3 0M343.4 501a.9 .9 0 1 0 1.8 0a.9 .9 0 1 0 -1.8 0M304.7 503.3a.7 .7 0 1 0 1.4 0a.7 .7 0 1 0 -1.4 0M297.6 497.7a.8 .8 0 1 0 1.6 0a.8 .8 0 1 0 -1.6 0M310.4 501.9a.8 .8 0 1 0 1.7 0a.8 .8 0 1 0 -1.7 0M291 502a1 1 0 1 0 1.9 0a1 1 0 1 0 -1.9 0M300.9 502.5a1 1 0 1 0 2.1 0a1 1 0 1 0 -2.1 0M319 510.9a.7 .7 0 1 0 1.4 0a.7 .7 0 1 0 -1.4 0M293.5 516.3a1.2 1.2 0 1 0 2.4 0a1.2 1.2 0 1 0 -2.4 0M300.6 497.9a.8 .8 0 1 0 1.5 0a.8 .8 0 1 0 -1.5 0M300.3 503.1a.8 .8 0 1 0 1.7 0a.8 .8 0 1 0 -1.7 0M284.6 505.9a1.3 1.3 0 1 0 2.7 0a1.3 1.3 0 1 0 -2.7 0M291.4 493.9a1.3 1.3 0 1 0 2.6 0a1.3 1.3 0 1 0 -2.6 0M303.1 503.2a.9 .9 0 1 0 1.8 0a.9 .9 0 1 0 -1.8 0M311.9 490.1a.9 .9 0 1 0 1.9 0a.9 .9 0 1 0 -1.9 0M295.8 515a.7 .7 0 1 0 1.4 0a.7 .7 0 1 0 -1.4 0M312.2 498.3a.8 .8 0 1 0 1.6 0a.8 .8 0 1 0 -1.6 0M303.1 501.6a.8 .8 0 1 0 1.6 0a.8 .8 0 1 0 -1.6 0M312.8 493a1 1 0 1 0 1.9 0a1 1 0 1 0 -1.9 0M314.5 499a1.1 1.1 0 1 0 2.1 0a1.1 1.1 0 1 0 -2.1 0M321.4 491.6a1.3 1.3 0 1 0 2.5 0a1.3 1.3 0 1 0 -2.5 0M299.6 503a.7 .7 0 1 0 1.4 0a.7 .7 0 1 0 -1.4 0M294.1 503.2a1.3 1.3 0 1 0 2.7 0a1.3 1.3 0 1 0 -2.7 0M301.4 494.8a.8 .8 0 1 0 1.6 0a.8 .8 0 1 0 -1.6 0M299.7 506.4a.9 .9 0 1 0 1.9 0a.9 .9 0 1 0 -1.9 0M299.2 497.7a1.1 1.1 0 1 0 2.1 0a1.1 1.1 0 1 0 -2.1 0M296.7 491.8a.8 .8 0 1 0 1.6 0a.8 .8 0 1 0 -1.6 0M309.1 508.7a.8 .8 0 1 0 1.7 0a.8 .8 0 1 0 -1.7 0M317.3 500.3a.8 .8 0 1 0 1.7 0a.8 .8 0 1 0 -1.7 0M309.8 510.9a.8 .8 0 1 0 1.5 0a.8 .8 0 1 0 -1.5 0M317.5 491.6a1.1 1.1 0 1 0 2.2 0a1.1 1.1 0 1 0 -2.2 0M303.4 496.8a.8 .8 0 1 0 1.7 0a.8 .8 0 1 0 -1.7 0M286.5 499.9a1 1 0 1 0 1.9 0a1 1 0 1 0 -1.9 0M289.2 495a.8 .8 0 1 0 1.5 0a.8 .8 0 1 0 -1.5 0M299.5 504a.7 .7 0 1 0 1.4 0a.7 .7 0 1 0 -1.4 0M299 507.3a.8 .8 0 1 0 1.7 0a.8 .8 0 1 0 -1.7 0M300.8 496a.9 .9 0 1 0 1.7 0a.9 .9 0 1 0 -1.7 0M317 487.8a.7 .7 0 1 0 1.5 0a.7 .7 0 1 0 -1.5 0M293.5 502.2a1.4 1.4 0 1 0 2.7 0a1.4 1.4 0 1 0 -2.7 0M314.1 490.2a1.3 1.3 0 1 0 2.6 0a1.3 1.3 0 1 0 -2.6 0M386.2 502.6a.8 .8 0 1 0 1.6 0a.8 .8 0 1 0 -1.6 0M369.3 506.2a1.5 1.5 0 1 0 3.1 0a1.5 1.5 0 1 0 -3.1 0M389.9 515.3a1.2 1.2 0 1 0 2.3 0a1.2 1.2 0 1 0 -2.3 0M373.6 516.7a1.1 1.1 0 1 0 2.2 0a1.1 1.1 0 1 0 -2.2 0M385.2 504.5a1.6 1.6 0 1 0 3.1 0a1.6 1.6 0 1 0 -3.1 0M381 510.4a.9 .9 0 1 0 1.7 0a.9 .9 0 1 0 -1.7 0M383.7 502.1a1.5 1.5 0 1 0 3.1 0a1.5 1.5 0 1 0 -3.1 0M379.8 501.9a.9 .9 0 1 0 1.8 0a.9 .9 0 1 0 -1.8 0M375.1 521.8a1.6 1.6 0 1 0 3.1 0a1.6 1.6 0 1 0 -3.1 0M377.7 513.4a1 1 0 1 0 2 0a1 1 0 1 0 -2 0M377.6 512.8a1.3 1.3 0 1 0 2.6 0a1.3 1.3 0 1 0 -2.6 0M380 502.1a1 1 0 1 0 2.1 0a1 1 0 1 0 -2.1 0M383.6 504.4a1.3 1.3 0 1 0 2.6 0a1.3 1.3 0 1 0 -2.6 0M382.9 528.5a1.4 1.4 0 1 0 2.9 0a1.4 1.4 0 1 0 -2.9 0M374.8 521.7a1.2 1.2 0 1 0 2.3 0a1.2 1.2 0 1 0 -2.3 0M388.7 505.7a.9 .9 0 1 0 1.8 0a.9 .9 0 1 0 -1.8 0M384.5 518.4a1 1 0 1 0 2 0a1 1 0 1 0 -2 0M390.9 518.3a1.1 1.1 0 1 0 2.3 0a1.1 1.1 0 1 0 -2.3 0M390.3 517.7a1.6 1.6 0 1 0 3.1 0a1.6 1.6 0 1 0 -3.1 0M386.5 511.8a1 1 0 1 0 2.1 0a1 1 0 1 0 -2.1 0M385.3 522.3a1.5 1.5 0 1 0 3.1 0a1.5 1.5 0 1 0 -3.1 0M390.9 524.1a1.6 1.6 0 1 0 3.1 0a1.6 1.6 0 1 0 -3.1 0M389.1 521.5a1.3 1.3 0 1 0 2.7 0a1.3 1.3 0 1 0 -2.7 0M316.8 531.4a.9 .9 0 1 0 1.8 0a.9 .9 0 1 0 -1.8 0M324.5 545a1.1 1.1 0 1 0 2.2 0a1.1 1.1 0 1 0 -2.2 0M320.6 528.3a1 1 0 1 0 2.1 0a1 1 0 1 0 -2.1 0M317.8 530a.9 .9 0 1 0 1.8 0a.9 .9 0 1 0 -1.8 0M306.5 532.5a1.1 1.1 0 1 0 2.2 0a1.1 1.1 0 1 0 -2.2 0M315.2 526.9a1.1 1.1 0 1 0 2.1 0a1.1 1.1 0 1 0 -2.1 0M306.9 531.5a.9 .9 0 1 0 1.8 0a.9 .9 0 1 0 -1.8 0M299.8 536.7a1.1 1.1 0 1 0 2.1 0a1.1 1.1 0 1 0 -2.1 0M302 543a.9 .9 0 1 0 1.8 0a.9 .9 0 1 0 -1.8 0M313.9 538.6a.9 .9 0 1 0 1.9 0a.9 .9 0 1 0 -1.9 0M304.7 538.3a.8 .8 0 1 0 1.6 0a.8 .8 0 1 0 -1.6 0M313.6 537.6a.7 .7 0 1 0 1.4 0a.7 .7 0 1 0 -1.4 0M312.1 540a1.3 1.3 0 1 0 2.6 0a1.3 1.3 0 1 0 -2.6 0M324.7 526.9a.8 .8 0 1 0 1.7 0a.8 .8 0 1 0 -1.7 0M326.2 542.9a1.2 1.2 0 1 0 2.3 0a1.2 1.2 0 1 0 -2.3 0M330.7 541.3a.8 .8 0 1 0 1.7 0a.8 .8 0 1 0 -1.7 0M308.1 524.6a1 1 0 1 0 2.1 0a1 1 0 1 0 -2.1 0M321.6 538.3a1.1 1.1 0 1 0 2.2 0a1.1 1.1 0 1 0 -2.2 0M312.6 533.4a.8 .8 0 1 0 1.5 0a.8 .8 0 1 0 -1.5 0M317.4 524.1a1.1 1.1 0 1 0 2.3 0a1.1 1.1 0 1 0 -2.3 0M316.9 531.6a1.2 1.2 0 1 0 2.4 0a1.2 1.2 0 1 0 -2.4 0M324.1 538a1.1 1.1 0 1 0 2.2 0a1.1 1.1 0 1 0 -2.2 0M310.3 543.5a1 1 0 1 0 2 0a1 1 0 1 0 -2 0M303.9 525a.9 .9 0 1 0 1.8 0a.9 .9 0 1 0 -1.8 0M311.5 529.6a1 1 0 1 0 2 0a1 1 0 1 0 -2 0M325.7 531.6a1 1 0 1 0 2.1 0a1 1 0 1 0 -2.1 0M301.3 526.6a1.1 1.1 0 1 0 2.3 0a1.1 1.1 0 1 0 -2.3 0M317.7 539.7a.7 .7 0 1 0 1.4 0a.7 .7 0 1 0 -1.4 0M306.2 528.3a1.1 1.1 0 1 0 2.1 0a1.1 1.1 0 1 0 -2.1 0M302.2 531.7a1.1 1.1 0 1 0 2.2 0a1.1 1.1 0 1 0 -2.2 0M323.8 535.1a1.3 1.3 0 1 0 2.6 0a1.3 1.3 0 1 0 -2.6 0M306.7 543.3a.9 .9 0 1 0 1.8 0a.9 .9 0 1 0 -1.8 0M309.3 569.4a1.6 1.6 0 1 0 3.3 0a1.6 1.6 0 1 0 -3.3 0M296.8 564.7a1.1 1.1 0 1 0 2.2 0a1.1 1.1 0 1 0 -2.2 0M319.6 559.3a1.2 1.2 0 1 0 2.4 0a1.2 1.2 0 1 0 -2.4 0M315.9 543a1.3 1.3 0 1 0 2.6 0a1.3 1.3 0 1 0 -2.6 0M308.8 552.6a1 1 0 1 0 2.1 0a1 1 0 1 0 -2.1 0M312.4 555.6a.8 .8 0 1 0 1.6 0a.8 .8 0 1 0 -1.6 0M301.1 559.3a1.6 1.6 0 1 0 3.2 0a1.6 1.6 0 1 0 -3.2 0M308.9 558.3a.9 .9 0 1 0 1.8 0a.9 .9 0 1 0 -1.8 0M308.4 565.3a.9 .9 0 1 0 1.9 0a.9 .9 0 1 0 -1.9 0M322.7 557a1.1 1.1 0 1 0 2.3 0a1.1 1.1 0 1 0 -2.3 0M323.4 566.6a1.6 1.6 0 1 0 3.3 0a1.6 1.6 0 1 0 -3.3 0M305.6 555.1a1.1 1.1 0 1 0 2.3 0a1.1 1.1 0 1 0 -2.3 0M322.4 561.9a1 1 0 1 0 2.1 0a1 1 0 1 0 -2.1 0M306.5 560.8a1 1 0 1 0 2 0a1 1 0 1 0 -2 0M324.3 559.9a1.4 1.4 0 1 0 2.7 0a1.4 1.4 0 1 0 -2.7 0M311.2 559.1a1.3 1.3 0 1 0 2.5 0a1.3 1.3 0 1 0 -2.5 0M314.4 552.9a.9 .9 0 1 0 1.8 0a.9 .9 0 1 0 -1.8 0M310.6 577.6a1.3 1.3 0 1 0 2.6 0a1.3 1.3 0 1 0 -2.6 0M322.5 559.5a1 1 0 1 0 2 0a1 1 0 1 0 -2 0M309.2 554.4a1.6 1.6 0 1 0 3.1 0a1.6 1.6 0 1 0 -3.1 0M315 562.7a1.5 1.5 0 1 0 3.1 0a1.5 1.5 0 1 0 -3.1 0M314.9 575.5a1.1 1.1 0 1 0 2.3 0a1.1 1.1 0 1 0 -2.3 0M312.8 568.2a1.3 1.3 0 1 0 2.6 0a1.3 1.3 0 1 0 -2.6 0M319.1 554.3a1.1 1.1 0 1 0 2.2 0a1.1 1.1 0 1 0 -2.2 0M310.1 555.6a.9 .9 0 1 0 1.9 0a.9 .9 0 1 0 -1.9 0M328.6 570.3a1.6 1.6 0 1 0 3.2 0a1.6 1.6 0 1 0 -3.2 0M300.9 556a1.4 1.4 0 1 0 2.8 0a1.4 1.4 0 1 0 -2.8 0M306.7 569.1a1.2 1.2 0 1 0 2.4 0a1.2 1.2 0 1 0 -2.4 0M334 560.2a1 1 0 1 0 2.1 0a1 1 0 1 0 -2.1 0M299.9 561.5a1 1 0 1 0 2 0a1 1 0 1 0 -2 0M320.6 570.9a.9 .9 0 1 0 1.8 0a.9 .9 0 1 0 -1.8 0M320.6 576.4a1.3 1.3 0 1 0 2.6 0a1.3 1.3 0 1 0 -2.6 0M320.6 569.5a.8 .8 0 1 0 1.6 0a.8 .8 0 1 0 -1.6 0M307.6 566a1 1 0 1 0 2 0a1 1 0 1 0 -2 0M301.2 547.6a1.5 1.5 0 1 0 3 0a1.5 1.5 0 1 0 -3 0M304.7 550.1a1.1 1.1 0 1 0 2.2 0a1.1 1.1 0 1 0 -2.2 0M312.5 566.3a.9 .9 0 1 0 1.7 0a.9 .9 0 1 0 -1.7 0M313.3 570.8a1.5 1.5 0 1 0 3.1 0a1.5 1.5 0 1 0 -3.1 0M316.4 574.8a1.6 1.6 0 1 0 3.1 0a1.6 1.6 0 1 0 -3.1 0M315.6 574.3a1.5 1.5 0 1 0 3 0a1.5 1.5 0 1 0 -3 0M320.1 570.9a1.8 1.8 0 1 0 3.7 0a1.8 1.8 0 1 0 -3.7 0M289 577.9a1.5 1.5 0 1 0 3 0a1.5 1.5 0 1 0 -3 0M286.3 575.2a1.3 1.3 0 1 0 2.7 0a1.3 1.3 0 1 0 -2.7 0M285.8 579.8a1.5 1.5 0 1 0 3 0a1.5 1.5 0 1 0 -3 0M286.1 577.4a1.4 1.4 0 1 0 2.9 0a1.4 1.4 0 1 0 -2.9 0M292.8 576.8a1.1 1.1 0 1 0 2.1 0a1.1 1.1 0 1 0 -2.1 0M345.6 592.9a1.8 1.8 0 1 0 3.5 0a1.8 1.8 0 1 0 -3.5 0M349.9 597.7a1.6 1.6 0 1 0 3.2 0a1.6 1.6 0 1 0 -3.2 0M345 585.8a1.7 1.7 0 1 0 3.4 0a1.7 1.7 0 1 0 -3.4 0M352.2 589.4a1.1 1.1 0 1 0 2.2 0a1.1 1.1 0 1 0 -2.2 0M342.5 595.1a1.7 1.7 0 1 0 3.5 0a1.7 1.7 0 1 0 -3.5 0M344.5 584.8a1.5 1.5 0 1 0 2.9 0a1.5 1.5 0 1 0 -2.9 0M346.9 590.7a1.1 1.1 0 1 0 2.1 0a1.1 1.1 0 1 0 -2.1 0M347.9 598.1a1.3 1.3 0 1 0 2.7 0a1.3 1.3 0 1 0 -2.7 0M350 585.7a1.2 1.2 0 1 0 2.5 0a1.2 1.2 0 1 0 -2.5 0M320.4 613.3a1.3 1.3 0 1 0 2.6 0a1.3 1.3 0 1 0 -2.6 0M313.6 609.6a1 1 0 1 0 2 0a1 1 0 1 0 -2 0M316.9 610.9a1.4 1.4 0 1 0 2.9 0a1.4 1.4 0 1 0 -2.9 0M327.8 603.7a1.5 1.5 0 1 0 2.9 0a1.5 1.5 0 1 0 -2.9 0M327 606.9a1.1 1.1 0 1 0 2.2 0a1.1 1.1 0 1 0 -2.2 0M330.5 608.3a1.4 1.4 0 1 0 2.8 0a1.4 1.4 0 1 0 -2.8 0M293.8 598.7a1.2 1.2 0 1 0 2.5 0a1.2 1.2 0 1 0 -2.5 0M290.2 592.5a1.3 1.3 0 1 0 2.6 0a1.3 1.3 0 1 0 -2.6 0M364.8 617a.9 .9 0 1 0 1.8 0a.9 .9 0 1 0 -1.8 0M371.3 618.4a1.5 1.5 0 1 0 3 0a1.5 1.5 0 1 0 -3 0M372.5 615.5a1.5 1.5 0 1 0 2.9 0a1.5 1.5 0 1 0 -2.9 0M368.4 620.6a1.2 1.2 0 1 0 2.5 0a1.2 1.2 0 1 0 -2.5 0M402.6 530a1.4 1.4 0 1 0 2.7 0a1.4 1.4 0 1 0 -2.7 0M405.5 538.5a1.5 1.5 0 1 0 2.9 0a1.5 1.5 0 1 0 -2.9 0M397.2 632.2a.9 .9 0 1 0 1.9 0a.9 .9 0 1 0 -1.9 0M393.5 631.2a1.1 1.1 0 1 0 2.2 0a1.1 1.1 0 1 0 -2.2 0M311.7 547.5a1 1 0 1 0 2 0a1 1 0 1 0 -2 0M296.7 560.9a.9 .9 0 1 0 1.9 0a.9 .9 0 1 0 -1.9 0M361.5 570.4a1 1 0 1 0 1.9 0a1 1 0 1 0 -1.9 0M290.8 544.5a.9 .9 0 1 0 1.8 0a.9 .9 0 1 0 -1.8 0M304 581.4a.7 .7 0 1 0 1.3 0a.7 .7 0 1 0 -1.3 0M373.2 504.2a.7 .7 0 1 0 1.4 0a.7 .7 0 1 0 -1.4 0M332.9 564.4a.8 .8 0 1 0 1.5 0a.8 .8 0 1 0 -1.5 0M335.2 541.3a.7 .7 0 1 0 1.3 0a.7 .7 0 1 0 -1.3 0M303 504.9a1.1 1.1 0 1 0 2.1 0a1.1 1.1 0 1 0 -2.1 0M314.4 494.2a.7 .7 0 1 0 1.4 0a.7 .7 0 1 0 -1.4 0M376.2 498a.6 .6 0 1 0 1.3 0a.6 .6 0 1 0 -1.3 0M355.8 476.5a.7 .7 0 1 0 1.4 0a.7 .7 0 1 0 -1.4 0M379.4 583.2a.8 .8 0 1 0 1.6 0a.8 .8 0 1 0 -1.6 0M336 572a.8 .8 0 1 0 1.5 0a.8 .8 0 1 0 -1.5 0M374.3 528.6a1.2 1.2 0 1 0 2.4 0a1.2 1.2 0 1 0 -2.4 0M346.8 612.8a.6 .6 0 1 0 1.2 0a.6 .6 0 1 0 -1.2 0M322.5 547.6a.8 .8 0 1 0 1.6 0a.8 .8 0 1 0 -1.6 0"/>
<path fill="#404040" fill-opacity="0.4" d="M337.6 502.5a1.5 1.5 0 1 0 2.9 0a1.5 1.5 0 1 0 -2.9 0M340.2 503.1a1.2 1.2 0 1 0 2.3 0a1.2 1.2 0 1 0 -2.3 0M358.4 465.6a2.2 2.2 0 1 0 4.4 0a2.2 2.2 0 1 0 -4.4 0M348.6 473.1a2 2 0 1 0 4 0a2 2 0 1 0 -4 0M366.2 480.5a1.8 1.8 0 1 0 3.6 0a1.8 1.8 0 1 0 -3.6 0M369.7 488a1.8 1.8 0 1 0 3.6 0a1.8 1.8 0 1 0 -3.6 0M400.6 482.6a2 2 0 1 0 4 0a2 2 0 1 0 -4 0M404.9 469.1a2.2 2.2 0 1 0 4.4 0a2.2 2.2 0 1 0 -4.4 0M343.7 536a1.8 1.8 0 1 0 3.6 0a1.8 1.8 0 1 0 -3.6 0M358.2 516.5a1.8 1.8 0 1 0 3.6 0a1.8 1.8 0 1 0 -3.6 0M364.7 531a1.8 1.8 0 1 0 3.6 0a1.8 1.8 0 1 0 -3.6 0M376.7 538.5a1.8 1.8 0 1 0 3.6 0a1.8 1.8 0 1 0 -3.6 0M353.4 566.5a1.8 1.8 0 1 0 3.6 0a1.8 1.8 0 1 0 -3.6 0M366.2 575.6a2 2 0 1 0 4 0a2 2 0 1 0 -4 0M375.3 571.5a1.8 1.8 0 1 0 3.6 0a1.8 1.8 0 1 0 -3.6 0M375.3 561.5a1.8 1.8 0 1 0 3.6 0a1.8 1.8 0 1 0 -3.6 0M390.8 553.4a1.6 1.6 0 1 0 3.2 0a1.6 1.6 0 1 0 -3.2 0M403.6 583.6a2 2 0 1 0 4 0a2 2 0 1 0 -4 0M368.7 607.9a1.8 1.8 0 1 0 3.6 0a1.8 1.8 0 1 0 -3.6 0M336.7 615.5a1.8 1.8 0 1 0 3.6 0a1.8 1.8 0 1 0 -3.6 0M340.7 626a1.8 1.8 0 1 0 3.6 0a1.8 1.8 0 1 0 -3.6 0M286.4 626a1.8 1.8 0 1 0 3.6 0a1.8 1.8 0 1 0 -3.6 0M404.6 628.6a2 2 0 1 0 4 0a2 2 0 1 0 -4 0M301.7 462.5a1.8 1.8 0 1 0 3.6 0a1.8 1.8 0 1 0 -3.6 0M296.9 468.4a1.5 1.5 0 1 0 3 0a1.5 1.5 0 1 0 -3 0M291.7 501.5a1.1 1.1 0 1 0 2.1 0a1.1 1.1 0 1 0 -2.1 0M314.3 497a.7 .7 0 1 0 1.4 0a.7 .7 0 1 0 -1.4 0M298.9 511.4a1.2 1.2 0 1 0 2.5 0a1.2 1.2 0 1 0 -2.5 0M304.2 504.8a1.4 1.4 0 1 0 2.7 0a1.4 1.4 0 1 0 -2.7 0M309.7 504.9a1.3 1.3 0 1 0 2.5 0a1.3 1.3 0 1 0 -2.5 0M305.6 489.2a1.3 1.3 0 1 0 2.5 0a1.3 1.3 0 1 0 -2.5 0M315.5 505.2a.8 .8 0 1 0 1.7 0a.8 .8 0 1 0 -1.7 0M285.2 506.3a.9 .9 0 1 0 1.8 0a.9 .9 0 1 0 -1.8 0M296.9 494.8a1.2 1.2 0 1 0 2.3 0a1.2 1.2 0 1 0 -2.3 0M301.9 506.9a1.3 1.3 0 1 0 2.6 0a1.3 1.3 0 1 0 -2.6 0M305.8 493.5a1.1 1.1 0 1 0 2.2 0a1.1 1.1 0 1 0 -2.2 0M298.5 515.5a1.2 1.2 0 1 0 2.3 0a1.2 1.2 0 1 0 -2.3 0M286 494.9a1.2 1.2 0 1 0 2.3 0a1.2 1.2 0 1 0 -2.3 0M312.2 503.8a.9 .9 0 1 0 1.9 0a.9 .9 0 1 0 -1.9 0M311 497.7a1.2 1.2 0 1 0 2.5 0a1.2 1.2 0 1 0 -2.5 0M293.6 489.7a1.2 1.2 0 1 0 2.4 0a1.2 1.2 0 1 0 -2.4 0M286.7 487a1.2 1.2 0 1 0 2.4 0a1.2 1.2 0 1 0 -2.4 0M289.1 511.8a1.3 1.3 0 1 0 2.6 0a1.3 1.3 0 1 0 -2.6 0M298.2 489.7a.9 .9 0 1 0 1.8 0a.9 .9 0 1 0 -1.8 0M295.9 492a1.2 1.2 0 1 0 2.5 0a1.2 1.2 0 1 0 -2.5 0M315.3 501.2a.8 .8 0 1 0 1.6 0a.8 .8 0 1 0 -1.6 0M286.7 508.8a1.2 1.2 0 1 0 2.5 0a1.2 1.2 0 1 0 -2.5 0M290.2 508.8a1.3 1.3 0 1 0 2.5 0a1.3 1.3 0 1 0 -2.5 0M284.1 493.5a1.2 1.2 0 1 0 2.3 0a1.2 1.2 0 1 0 -2.3 0M296.1 496.3a.8 .8 0 1 0 1.6 0a.8 .8 0 1 0 -1.6 0M306.4 491.1a.8 .8 0 1 0 1.7 0a.8 .8 0 1 0 -1.7 0M303.6 498.8a.7 .7 0 1 0 1.4 0a.7 .7 0 1 0 -1.4 0M382.7 494.9a1 1 0 1 0 2 0a1 1 0 1 0 -2 0M381.1 505.8a1.2 1.2 0 1 0 2.4 0a1.2 1.2 0 1 0 -2.4 0M383.5 516.4a1.2 1.2 0 1 0 2.3 0a1.2 1.2 0 1 0 -2.3 0M381.4 509.2a1.3 1.3 0 1 0 2.6 0a1.3 1.3 0 1 0 -2.6 0M380.3 506.4a1.2 1.2 0 1 0 2.3 0a1.2 1.2 0 1 0 -2.3 0M376.3 506.2a1.3 1.3 0 1 0 2.6 0a1.3 1.3 0 1 0 -2.6 0M377.8 521.5a1.6 1.6 0 1 0 3.2 0a1.6 1.6 0 1 0 -3.2 0M380.6 494.3a1.1 1.1 0 1 0 2.2 0a1.1 1.1 0 1 0 -2.2 0M373.6 500.2a1.1 1.1 0 1 0 2.3 0a1.1 1.1 0 1 0 -2.3 0M373 523.1a.9 .9 0 1 0 1.8 0a.9 .9 0 1 0 -1.8 0M369.6 513.6a1 1 0 1 0 2 0a1 1 0 1 0 -2 0M378.5 507.2a1.6 1.6 0 1 0 3.2 0a1.6 1.6 0 1 0 -3.2 0M382 525.8a1.1 1.1 0 1 0 2.2 0a1.1 1.1 0 1 0 -2.2 0M381.1 506.2a.9 .9 0 1 0 1.7 0a.9 .9 0 1 0 -1.7 0M385.4 522.5a1.2 1.2 0 1 0 2.3 0a1.2 1.2 0 1 0 -2.3 0M375.1 511.5a1.5 1.5 0 1 0 2.9 0a1.5 1.5 0 1 0 -2.9 0M379 522.3a1.5 1.5 0 1 0 3.1 0a1.5 1.5 0 1 0 -3.1 0M388.9 512.8a1.5 1.5 0 1 0 2.9 0a1.5 1.5 0 1 0 -2.9 0M378.1 511.4a1.5 1.5 0 1 0 3 0a1.5 1.5 0 1 0 -3 0M389.6 512.5a1.5 1.5 0 1 0 3.1 0a1.5 1.5 0 1 0 -3.1 0M389.3 506a1.4 1.4 0 1 0 2.8 0a1.4 1.4 0 1 0 -2.8 0M384 515.1a1 1 0 1 0 1.9 0a1 1 0 1 0 -1.9 0M374.9 504.2a.9 .9 0 1 0 1.9 0a.9 .9 0 1 0 -1.9 0M374.3 507a1.5 1.5 0 1 0 2.9 0a1.5 1.5 0 1 0 -2.9 0M383.5 501.4a1.5 1.5 0 1 0 3 0a1.5 1.5 0 1 0 -3 0M384.3 513.6a1.3 1.3 0 1 0 2.6 0a1.3 1.3 0 1 0 -2.6 0M388.4 514.1a1.4 1.4 0 1 0 2.8 0a1.4 1.4 0 1 0 -2.8 0M389.3 516.6a1.5 1.5 0 1 0 3.1 0a1.5 1.5 0 1 0 -3.1 0M323.5 534.6a1.1 1.1 0 1 0 2.3 0a1.1 1.1 0 1 0 -2.3 0M298.6 534.4a.9 .9 0 1 0 1.8 0a.9 .9 0 1 0 -1.8 0M312.7 530.1a1.1 1.1 0 1 0 2.1 0a1.1 1.1 0 1 0 -2.1 0M319.4 534.8a.8 .8 0 1 0 1.7 0a.8 .8 0 1 0 -1.7 0M315.6 540.4a1.3 1.3 0 1 0 2.6 0a1.3 1.3 0 1 0 -2.6 0M302.7 528.3a.9 .9 0 1 0 1.9 0a.9 .9 0 1 0 -1.9 0M302.6 560.3a1 1 0 1 0 2 0a1 1 0 1 0 -2 0M323 550a1.1 1.1 0 1 0 2.2 0a1.1 1.1 0 1 0 -2.2 0M304.4 562.9a.8 .8 0 1 0 1.6 0a.8 .8 0 1 0 -1.6 0M325.2 555.7a1.3 1.3 0 1 0 2.5 0a1.3 1.3 0 1 0 -2.5 0M303.4 552.6a1 1 0 1 0 1.9 0a1 1 0 1 0 -1.9 0M304.5 560.4a1.5 1.5 0 1 0 2.9 0a1.5 1.5 0 1 0 -2.9 0M316.1 565a.9 .9 0 1 0 1.8 0a.9 .9 0 1 0 -1.8 0M319.5 556.8a.9 .9 0 1 0 1.9 0a.9 .9 0 1 0 -1.9 0M311.2 562.8a.9 .9 0 1 0 1.7 0a.9 .9 0 1 0 -1.7 0M314.9 559.7a1.1 1.1 0 1 0 2.2 0a1.1 1.1 0 1 0 -2.2 0M316.8 559.2a1.5 1.5 0 1 0 3 0a1.5 1.5 0 1 0 -3 0M313.5 571.2a.8 .8 0 1 0 1.7 0a.8 .8 0 1 0 -1.7 0M321.9 559.9a1 1 0 1 0 2 0a1 1 0 1 0 -2 0M320.5 563.4a1.4 1.4 0 1 0 2.7 0a1.4 1.4 0 1 0 -2.7 0M316.3 551.5a1.5 1.5 0 1 0 3 0a1.5 1.5 0 1 0 -3 0M316.7 565.9a1.5 1.5 0 1 0 3.1 0a1.5 1.5 0 1 0 -3.1 0M303.6 568.9a1.4 1.4 0 1 0 2.8 0a1.4 1.4 0 1 0 -2.8 0M311.8 557a1.6 1.6 0 1 0 3.2 0a1.6 1.6 0 1 0 -3.2 0M323 567.2a1.4 1.4 0 1 0 2.8 0a1.4 1.4 0 1 0 -2.8 0M315.4 572.2a1.5 1.5 0 1 0 2.9 0a1.5 1.5 0 1 0 -2.9 0M319.6 573.5a1.6 1.6 0 1 0 3.1 0a1.6 1.6 0 1 0 -3.1 0M290.6 578.3a1.4 1.4 0 1 0 2.8 0a1.4 1.4 0 1 0 -2.8 0M346.9 582.5a1.4 1.4 0 1 0 2.8 0a1.4 1.4 0 1 0 -2.8 0M348.7 593.3a1.5 1.5 0 1 0 3.1 0a1.5 1.5 0 1 0 -3.1 0M349.4 590.1a1.7 1.7 0 1 0 3.3 0a1.7 1.7 0 1 0 -3.3 0M349.3 591.3a1.2 1.2 0 1 0 2.4 0a1.2 1.2 0 1 0 -2.4 0M348.9 585.8a1.5 1.5 0 1 0 3 0a1.5 1.5 0 1 0 -3 0M347.9 591.2a1.2 1.2 0 1 0 2.4 0a1.2 1.2 0 1 0 -2.4 0M343.5 591.9a1.3 1.3 0 1 0 2.7 0a1.3 1.3 0 1 0 -2.7 0M347.1 591.4a1.3 1.3 0 1 0 2.5 0a1.3 1.3 0 1 0 -2.5 0M318.8 606.1a1.3 1.3 0 1 0 2.5 0a1.3 1.3 0 1 0 -2.5 0M312.8 613a1.5 1.5 0 1 0 2.9 0a1.5 1.5 0 1 0 -2.9 0M318.2 617.4a1.3 1.3 0 1 0 2.6 0a1.3 1.3 0 1 0 -2.6 0M320.9 614.4a1.6 1.6 0 1 0 3.2 0a1.6 1.6 0 1 0 -3.2 0M313 615.8a1.1 1.1 0 1 0 2.2 0a1.1 1.1 0 1 0 -2.2 0M327.7 614.6a.9 .9 0 1 0 1.8 0a.9 .9 0 1 0 -1.8 0M315.2 602.4a1.5 1.5 0 1 0 2.9 0a1.5 1.5 0 1 0 -2.9 0M290.1 595.7a1.2 1.2 0 1 0 2.3 0a1.2 1.2 0 1 0 -2.3 0M291.4 596.3a1.1 1.1 0 1 0 2.2 0a1.1 1.1 0 1 0 -2.2 0M368.9 618.5a1.5 1.5 0 1 0 3 0a1.5 1.5 0 1 0 -3 0M373.7 616.8a1.5 1.5 0 1 0 3 0a1.5 1.5 0 1 0 -3 0M365.3 618a1.2 1.2 0 1 0 2.5 0a1.2 1.2 0 1 0 -2.5 0M372.7 616a1.4 1.4 0 1 0 2.8 0a1.4 1.4 0 1 0 -2.8 0M372.8 616.8a3 3 0 1 0 6 0a3 3 0 1 0 -6 0M401.9 525.3a1.1 1.1 0 1 0 2.2 0a1.1 1.1 0 1 0 -2.2 0M401 534.4a1.5 1.5 0 1 0 3 0a1.5 1.5 0 1 0 -3 0M392.6 631.5a1.2 1.2 0 1 0 2.4 0a1.2 1.2 0 1 0 -2.4 0M395.1 631.6a1.1 1.1 0 1 0 2.2 0a1.1 1.1 0 1 0 -2.2 0"/>
<path fill="#404040" fill-opacity="0.5" d="M337.2 501.7a1.4 1.4 0 1 0 2.7 0a1.4 1.4 0 1 0 -2.7 0M344.2 500.2a.9 .9 0 1 0 1.9 0a.9 .9 0 1 0 -1.9 0M339.6 505a.8 .8 0 1 0 1.7 0a.8 .8 0 1 0 -1.7 0M336.1 504.6a1.4 1.4 0 1 0 2.9 0a1.4 1.4 0 1 0 -2.9 0M345.7 592.8a1.2 1.2 0 1 0 2.4 0a1.2 1.2 0 1 0 -2.4 0M283.4 613.9a1.5 1.5 0 1 0 3 0a1.5 1.5 0 1 0 -3 0M286.2 620.3a1.4 1.4 0 1 0 2.7 0a1.4 1.4 0 1 0 -2.7 0M284.8 620a1.2 1.2 0 1 0 2.3 0a1.2 1.2 0 1 0 -2.3 0M284 614.3a1.3 1.3 0 1 0 2.6 0a1.3 1.3 0 1 0 -2.6 0M283.5 614.2a1 1 0 1 0 2 0a1 1 0 1 0 -2 0M282.5 615.5a1.4 1.4 0 1 0 2.9 0a1.4 1.4 0 1 0 -2.9 0"/>
<path fill="#404040" fill-opacity="0.6" d="M283.3 615.3a1.2 1.2 0 1 0 2.5 0a1.2 1.2 0 1 0 -2.5 0"/>
<path fill="#fafafa" fill-opacity="0.3" d="M337.9 498.5a.8 .8 0 1 0 1.5 0a.8 .8 0 1 0 -1.5 0M328.2 494.2a1.1 1.1 0 1 0 2.2 0a1.1 1.1 0 1 0 -2.2 0"/>
<path fill="#fafafa" fill-opacity="0.4" d="M289.3 594.9a1.2 1.2 0 1 0 2.3 0a1.2 1.2 0 1 0 -2.3 0M285.4 619.5a1.4 1.4 0 1 0 2.7 0a1.4 1.4 0 1 0 -2.7 0M282.5 614.5a1.2 1.2 0 1 0 2.5 0a1.2 1.2 0 1 0 -2.5 0M360.7 569.6a1 1 0 1 0 1.9 0a1 1 0 1 0 -1.9 0M290 543.7a.9 .9 0 1 0 1.8 0a.9 .9 0 1 0 -1.8 0M303.2 580.6a.7 .7 0 1 0 1.3 0a.7 .7 0 1 0 -1.3 0M372.4 503.4a.7 .7 0 1 0 1.4 0a.7 .7 0 1 0 -1.4 0M344.7 527.3a.7 .7 0 1 0 1.4 0a.7 .7 0 1 0 -1.4 0M340.2 491.2a.9 .9 0 1 0 1.8 0a.9 .9 0 1 0 -1.8 0M330.6 553.3a.9 .9 0 1 0 1.8 0a.9 .9 0 1 0 -1.8 0M375.4 497.2a.6 .6 0 1 0 1.3 0a.6 .6 0 1 0 -1.3 0M378.6 582.4a.8 .8 0 1 0 1.6 0a.8 .8 0 1 0 -1.6 0M346 612a.6 .6 0 1 0 1.2 0a.6 .6 0 1 0 -1.2 0M315.7 477a.7 .7 0 1 0 1.4 0a.7 .7 0 1 0 -1.4 0M321.7 546.8a.8 .8 0 1 0 1.6 0a.8 .8 0 1 0 -1.6 0"/>
<path fill="#fafafa" fill-opacity="0.5" d="M336.4 500.9a1.4 1.4 0 1 0 2.7 0a1.4 1.4 0 1 0 -2.7 0M339.7 502.5a1.5 1.5 0 1 0 3 0a1.5 1.5 0 1 0 -3 0M342.6 500.2a.9 .9 0 1 0 1.8 0a.9 .9 0 1 0 -1.8 0M339.4 502.3a1.2 1.2 0 1 0 2.3 0a1.2 1.2 0 1 0 -2.3 0M296.8 496.9a.8 .8 0 1 0 1.6 0a.8 .8 0 1 0 -1.6 0M292.7 515.5a1.2 1.2 0 1 0 2.4 0a1.2 1.2 0 1 0 -2.4 0M303.4 504a1.4 1.4 0 1 0 2.7 0a1.4 1.4 0 1 0 -2.7 0M318.5 495.7a1.3 1.3 0 1 0 2.6 0a1.3 1.3 0 1 0 -2.6 0M311.1 489.3a.9 .9 0 1 0 1.9 0a.9 .9 0 1 0 -1.9 0M298.4 512.5a.9 .9 0 1 0 1.7 0a.9 .9 0 1 0 -1.7 0M310.4 496.5a1.3 1.3 0 1 0 2.5 0a1.3 1.3 0 1 0 -2.5 0M306.3 506.8a1.2 1.2 0 1 0 2.5 0a1.2 1.2 0 1 0 -2.5 0M296.8 503.9a.9 .9 0 1 0 1.7 0a.9 .9 0 1 0 -1.7 0M311.4 503a.9 .9 0 1 0 1.9 0a.9 .9 0 1 0 -1.9 0M300 495.2a.9 .9 0 1 0 1.7 0a.9 .9 0 1 0 -1.7 0M292.7 501.4a1.4 1.4 0 1 0 2.7 0a1.4 1.4 0 1 0 -2.7 0M380.6 508.4a1.3 1.3 0 1 0 2.6 0a1.3 1.3 0 1 0 -2.6 0M375.5 505.4a1.3 1.3 0 1 0 2.6 0a1.3 1.3 0 1 0 -2.6 0M390.4 503.3a1.5 1.5 0 1 0 3.1 0a1.5 1.5 0 1 0 -3.1 0M379 501.1a.9 .9 0 1 0 1.8 0a.9 .9 0 1 0 -1.8 0M377 520.6a1.6 1.6 0 1 0 3.2 0a1.6 1.6 0 1 0 -3.2 0M379.8 493.5a1.1 1.1 0 1 0 2.2 0a1.1 1.1 0 1 0 -2.2 0M380.3 505.4a.9 .9 0 1 0 1.7 0a.9 .9 0 1 0 -1.7 0M382.8 503.6a1.3 1.3 0 1 0 2.6 0a1.3 1.3 0 1 0 -2.6 0M383.2 514.3a1 1 0 1 0 1.9 0a1 1 0 1 0 -1.9 0M373.5 506.1a1.5 1.5 0 1 0 2.9 0a1.5 1.5 0 1 0 -2.9 0M389.5 516.8a1.6 1.6 0 1 0 3.1 0a1.6 1.6 0 1 0 -3.1 0M394.6 521.9a1.1 1.1 0 1 0 2.2 0a1.1 1.1 0 1 0 -2.2 0M323.7 544.2a1.1 1.1 0 1 0 2.2 0a1.1 1.1 0 1 0 -2.2 0M306.9 537.7a1.2 1.2 0 1 0 2.4 0a1.2 1.2 0 1 0 -2.4 0M322.7 533.8a1.1 1.1 0 1 0 2.3 0a1.1 1.1 0 1 0 -2.3 0M306.1 530.7a.9 .9 0 1 0 1.8 0a.9 .9 0 1 0 -1.8 0M310.4 543.9a1.2 1.2 0 1 0 2.4 0a1.2 1.2 0 1 0 -2.4 0M301.2 542.2a.9 .9 0 1 0 1.8 0a.9 .9 0 1 0 -1.8 0M311.9 529.3a1.1 1.1 0 1 0 2.1 0a1.1 1.1 0 1 0 -2.1 0M312.8 536.8a.7 .7 0 1 0 1.4 0a.7 .7 0 1 0 -1.4 0M314.2 530.4a.9 .9 0 1 0 1.8 0a.9 .9 0 1 0 -1.8 0M311.3 539.2a1.3 1.3 0 1 0 2.6 0a1.3 1.3 0 1 0 -2.6 0M314.8 539.6a1.3 1.3 0 1 0 2.6 0a1.3 1.3 0 1 0 -2.6 0M311.8 532.6a.8 .8 0 1 0 1.5 0a.8 .8 0 1 0 -1.5 0M316 532.2a1.3 1.3 0 1 0 2.6 0a1.3 1.3 0 1 0 -2.6 0M296 526a1 1 0 1 0 2.1 0a1 1 0 1 0 -2.1 0M324.9 532.9a1 1 0 1 0 2 0a1 1 0 1 0 -2 0M323 534.3a1.3 1.3 0 1 0 2.6 0a1.3 1.3 0 1 0 -2.6 0M322.2 549.2a1.1 1.1 0 1 0 2.2 0a1.1 1.1 0 1 0 -2.2 0M321.7 558.7a1 1 0 1 0 2 0a1 1 0 1 0 -2 0M292 576a1.1 1.1 0 1 0 2.1 0a1.1 1.1 0 1 0 -2.1 0M341.6 594.1a1.7 1.7 0 1 0 3.5 0a1.7 1.7 0 1 0 -3.5 0M312 612.2a1.5 1.5 0 1 0 2.9 0a1.5 1.5 0 1 0 -2.9 0M293 597.9a1.2 1.2 0 1 0 2.5 0a1.2 1.2 0 1 0 -2.5 0M282.6 613a1.5 1.5 0 1 0 3 0a1.5 1.5 0 1 0 -3 0M283.2 613.5a1.3 1.3 0 1 0 2.6 0a1.3 1.3 0 1 0 -2.6 0M364 616.2a.9 .9 0 1 0 1.8 0a.9 .9 0 1 0 -1.8 0M401.8 529.2a1.4 1.4 0 1 0 2.7 0a1.4 1.4 0 1 0 -2.7 0M401.6 540a1 1 0 1 0 2.1 0a1 1 0 1 0 -2.1 0M404.7 537.7a1.5 1.5 0 1 0 2.9 0a1.5 1.5 0 1 0 -2.9 0M403.3 535.3a1.1 1.1 0 1 0 2.3 0a1.1 1.1 0 1 0 -2.3 0M391.8 630.7a1.2 1.2 0 1 0 2.4 0a1.2 1.2 0 1 0 -2.4 0M396.4 631.4a.9 .9 0 1 0 1.9 0a.9 .9 0 1 0 -1.9 0M394.3 630.8a1.1 1.1 0 1 0 2.2 0a1.1 1.1 0 1 0 -2.2 0M324.4 537.2a1.2 1.2 0 1 0 2.3 0a1.2 1.2 0 1 0 -2.3 0M332.1 563.6a.8 .8 0 1 0 1.5 0a.8 .8 0 1 0 -1.5 0M334.4 540.5a.7 .7 0 1 0 1.3 0a.7 .7 0 1 0 -1.3 0M302.2 504.1a1.1 1.1 0 1 0 2.1 0a1.1 1.1 0 1 0 -2.1 0M313.6 493.4a.7 .7 0 1 0 1.4 0a.7 .7 0 1 0 -1.4 0M329.4 522.5a1.2 1.2 0 1 0 2.3 0a1.2 1.2 0 1 0 -2.3 0M355 475.7a.7 .7 0 1 0 1.4 0a.7 .7 0 1 0 -1.4 0M335.2 571.2a.8 .8 0 1 0 1.5 0a.8 .8 0 1 0 -1.5 0M373.5 527.8a1.2 1.2 0 1 0 2.4 0a1.2 1.2 0 1 0 -2.4 0"/>
<path fill="#fafafa" fill-opacity="0.6" d="M336.8 501.7a1.5 1.5 0 1 0 2.9 0a1.5 1.5 0 1 0 -2.9 0M338.8 504.2a.8 .8 0 1 0 1.7 0a.8 .8 0 1 0 -1.7 0M335.3 503.8a1.4 1.4 0 1 0 2.9 0a1.4 1.4 0 1 0 -2.9 0M357.2 464.4a2.2 2.2 0 1 0 4.4 0a2.2 2.2 0 1 0 -4.4 0M347.4 471.9a2 2 0 1 0 4 0a2 2 0 1 0 -4 0M365.2 479.5a1.8 1.8 0 1 0 3.6 0a1.8 1.8 0 1 0 -3.6 0M368.7 487a1.8 1.8 0 1 0 3.6 0a1.8 1.8 0 1 0 -3.6 0M399.4 481.4a2 2 0 1 0 4 0a2 2 0 1 0 -4 0M403.7 467.9a2.2 2.2 0 1 0 4.4 0a2.2 2.2 0 1 0 -4.4 0M342.7 535a1.8 1.8 0 1 0 3.6 0a1.8 1.8 0 1 0 -3.6 0M357.2 515.5a1.8 1.8 0 1 0 3.6 0a1.8 1.8 0 1 0 -3.6 0M363.7 530a1.8 1.8 0 1 0 3.6 0a1.8 1.8 0 1 0 -3.6 0M375.7 537.5a1.8 1.8 0 1 0 3.6 0a1.8 1.8 0 1 0 -3.6 0M352.4 565.5a1.8 1.8 0 1 0 3.6 0a1.8 1.8 0 1 0 -3.6 0M365 574.4a2 2 0 1 0 4 0a2 2 0 1 0 -4 0M374.3 570.5a1.8 1.8 0 1 0 3.6 0a1.8 1.8 0 1 0 -3.6 0M374.3 560.5a1.8 1.8 0 1 0 3.6 0a1.8 1.8 0 1 0 -3.6 0M390 552.6a1.6 1.6 0 1 0 3.2 0a1.6 1.6 0 1 0 -3.2 0M402.4 582.4a2 2 0 1 0 4 0a2 2 0 1 0 -4 0M367.7 606.9a1.8 1.8 0 1 0 3.6 0a1.8 1.8 0 1 0 -3.6 0M335.7 614.5a1.8 1.8 0 1 0 3.6 0a1.8 1.8 0 1 0 -3.6 0M339.7 625a1.8 1.8 0 1 0 3.6 0a1.8 1.8 0 1 0 -3.6 0M285.4 625a1.8 1.8 0 1 0 3.6 0a1.8 1.8 0 1 0 -3.6 0M403.4 627.4a2 2 0 1 0 4 0a2 2 0 1 0 -4 0M300.7 461.5a1.8 1.8 0 1 0 3.6 0a1.8 1.8 0 1 0 -3.6 0M296.1 467.6a1.5 1.5 0 1 0 3 0a1.5 1.5 0 1 0 -3 0M309.6 501.1a.8 .8 0 1 0 1.7 0a.8 .8 0 1 0 -1.7 0M300.1 501.7a1 1 0 1 0 2.1 0a1 1 0 1 0 -2.1 0M290.9 500.7a1.1 1.1 0 1 0 2.1 0a1.1 1.1 0 1 0 -2.1 0M313.5 496.2a.7 .7 0 1 0 1.4 0a.7 .7 0 1 0 -1.4 0M295.1 507.3a1 1 0 1 0 2 0a1 1 0 1 0 -2 0M303.4 503a.8 .8 0 1 0 1.5 0a.8 .8 0 1 0 -1.5 0M305.8 499.1a.9 .9 0 1 0 1.9 0a.9 .9 0 1 0 -1.9 0M295 514.2a.7 .7 0 1 0 1.4 0a.7 .7 0 1 0 -1.4 0M304.8 488.4a1.3 1.3 0 1 0 2.5 0a1.3 1.3 0 1 0 -2.5 0M314.7 504.4a.8 .8 0 1 0 1.7 0a.8 .8 0 1 0 -1.7 0M302.3 500.8a.8 .8 0 1 0 1.6 0a.8 .8 0 1 0 -1.6 0M313.7 498.2a1.1 1.1 0 1 0 2.1 0a1.1 1.1 0 1 0 -2.1 0M301.1 506.1a1.3 1.3 0 1 0 2.6 0a1.3 1.3 0 1 0 -2.6 0M320.6 490.8a1.3 1.3 0 1 0 2.5 0a1.3 1.3 0 1 0 -2.5 0M298.8 502.2a.7 .7 0 1 0 1.4 0a.7 .7 0 1 0 -1.4 0M294.5 509.8a.9 .9 0 1 0 1.9 0a.9 .9 0 1 0 -1.9 0M293.3 502.4a1.3 1.3 0 1 0 2.7 0a1.3 1.3 0 1 0 -2.7 0M285.2 494.1a1.2 1.2 0 1 0 2.3 0a1.2 1.2 0 1 0 -2.3 0M316.5 499.5a.8 .8 0 1 0 1.7 0a.8 .8 0 1 0 -1.7 0M310.2 496.9a1.2 1.2 0 1 0 2.5 0a1.2 1.2 0 1 0 -2.5 0M316.7 490.8a1.1 1.1 0 1 0 2.2 0a1.1 1.1 0 1 0 -2.2 0M285.9 486.2a1.2 1.2 0 1 0 2.4 0a1.2 1.2 0 1 0 -2.4 0M285.7 499.1a1 1 0 1 0 1.9 0a1 1 0 1 0 -1.9 0M288.4 494.2a.8 .8 0 1 0 1.5 0a.8 .8 0 1 0 -1.5 0M300.9 507a1.3 1.3 0 1 0 2.6 0a1.3 1.3 0 1 0 -2.6 0M298.2 506.5a.8 .8 0 1 0 1.7 0a.8 .8 0 1 0 -1.7 0M305.6 490.3a.8 .8 0 1 0 1.7 0a.8 .8 0 1 0 -1.7 0M302.8 498a.7 .7 0 1 0 1.4 0a.7 .7 0 1 0 -1.4 0M316.2 487a.7 .7 0 1 0 1.5 0a.7 .7 0 1 0 -1.5 0M313.3 489.4a1.3 1.3 0 1 0 2.6 0a1.3 1.3 0 1 0 -2.6 0M382.7 515.6a1.2 1.2 0 1 0 2.3 0a1.2 1.2 0 1 0 -2.3 0M380.2 509.6a.9 .9 0 1 0 1.7 0a.9 .9 0 1 0 -1.7 0M382.8 501.3a1.5 1.5 0 1 0 3.1 0a1.5 1.5 0 1 0 -3.1 0M374.2 520.9a1.6 1.6 0 1 0 3.1 0a1.6 1.6 0 1 0 -3.1 0M376.9 512.6a1 1 0 1 0 2 0a1 1 0 1 0 -2 0M376.8 512a1.3 1.3 0 1 0 2.6 0a1.3 1.3 0 1 0 -2.6 0M368.8 512.8a1 1 0 1 0 2 0a1 1 0 1 0 -2 0M377.6 506.3a1.6 1.6 0 1 0 3.2 0a1.6 1.6 0 1 0 -3.2 0M381.5 505.2a1.5 1.5 0 1 0 3 0a1.5 1.5 0 1 0 -3 0M374.3 510.7a1.5 1.5 0 1 0 2.9 0a1.5 1.5 0 1 0 -2.9 0M382.1 527.7a1.4 1.4 0 1 0 2.9 0a1.4 1.4 0 1 0 -2.9 0M388.5 505.2a1.4 1.4 0 1 0 2.8 0a1.4 1.4 0 1 0 -2.8 0M378.9 515a1.1 1.1 0 1 0 2.1 0a1.1 1.1 0 1 0 -2.1 0M387.6 513.3a1.4 1.4 0 1 0 2.8 0a1.4 1.4 0 1 0 -2.8 0M385.7 511a1 1 0 1 0 2.1 0a1 1 0 1 0 -2.1 0M388.3 520.7a1.3 1.3 0 1 0 2.7 0a1.3 1.3 0 1 0 -2.7 0M317 529.2a.9 .9 0 1 0 1.8 0a.9 .9 0 1 0 -1.8 0M314.4 526.1a1.1 1.1 0 1 0 2.1 0a1.1 1.1 0 1 0 -2.1 0M301.2 530.3a.9 .9 0 1 0 1.9 0a.9 .9 0 1 0 -1.9 0M299 535.9a1.1 1.1 0 1 0 2.1 0a1.1 1.1 0 1 0 -2.1 0M297.8 533.6a.9 .9 0 1 0 1.8 0a.9 .9 0 1 0 -1.8 0M313.1 537.8a.9 .9 0 1 0 1.9 0a.9 .9 0 1 0 -1.9 0M303.9 537.5a.8 .8 0 1 0 1.6 0a.8 .8 0 1 0 -1.6 0M323.9 526.1a.8 .8 0 1 0 1.7 0a.8 .8 0 1 0 -1.7 0M325.4 542.1a1.2 1.2 0 1 0 2.3 0a1.2 1.2 0 1 0 -2.3 0M329.9 540.5a.8 .8 0 1 0 1.7 0a.8 .8 0 1 0 -1.7 0M325.2 529.5a1.2 1.2 0 1 0 2.3 0a1.2 1.2 0 1 0 -2.3 0M316.6 523.3a1.1 1.1 0 1 0 2.3 0a1.1 1.1 0 1 0 -2.3 0M303.1 524.2a.9 .9 0 1 0 1.8 0a.9 .9 0 1 0 -1.8 0M310.7 528.8a1 1 0 1 0 2 0a1 1 0 1 0 -2 0M324.9 530.8a1 1 0 1 0 2.1 0a1 1 0 1 0 -2.1 0M305.4 527.5a1.1 1.1 0 1 0 2.1 0a1.1 1.1 0 1 0 -2.1 0M296 563.9a1.1 1.1 0 1 0 2.2 0a1.1 1.1 0 1 0 -2.2 0M318.8 558.5a1.2 1.2 0 1 0 2.4 0a1.2 1.2 0 1 0 -2.4 0M303.6 562.1a.8 .8 0 1 0 1.6 0a.8 .8 0 1 0 -1.6 0M304.8 554.3a1.1 1.1 0 1 0 2.3 0a1.1 1.1 0 1 0 -2.3 0M305.7 560a1 1 0 1 0 2 0a1 1 0 1 0 -2 0M303.7 559.6a1.5 1.5 0 1 0 2.9 0a1.5 1.5 0 1 0 -2.9 0M318.7 556a.9 .9 0 1 0 1.9 0a.9 .9 0 1 0 -1.9 0M315.5 564.7a1.5 1.5 0 1 0 3 0a1.5 1.5 0 1 0 -3 0M312.7 570.4a.8 .8 0 1 0 1.7 0a.8 .8 0 1 0 -1.7 0M333.2 559.4a1 1 0 1 0 2.1 0a1 1 0 1 0 -2.1 0M319.8 575.6a1.3 1.3 0 1 0 2.6 0a1.3 1.3 0 1 0 -2.6 0M315.4 550.7a1.5 1.5 0 1 0 3 0a1.5 1.5 0 1 0 -3 0M306.8 565.2a1 1 0 1 0 2 0a1 1 0 1 0 -2 0M318.7 572.7a1.6 1.6 0 1 0 3.1 0a1.6 1.6 0 1 0 -3.1 0M288.1 577a1.5 1.5 0 1 0 3 0a1.5 1.5 0 1 0 -3 0M284.9 579a1.5 1.5 0 1 0 3 0a1.5 1.5 0 1 0 -3 0M285.3 576.6a1.4 1.4 0 1 0 2.9 0a1.4 1.4 0 1 0 -2.9 0M289.8 577.5a1.4 1.4 0 1 0 2.8 0a1.4 1.4 0 1 0 -2.8 0M344.6 592a1.8 1.8 0 1 0 3.5 0a1.8 1.8 0 1 0 -3.5 0M349.1 596.8a1.6 1.6 0 1 0 3.2 0a1.6 1.6 0 1 0 -3.2 0M347.9 592.5a1.5 1.5 0 1 0 3.1 0a1.5 1.5 0 1 0 -3.1 0M348.5 589.1a1.7 1.7 0 1 0 3.3 0a1.7 1.7 0 1 0 -3.3 0M348.5 590.5a1.2 1.2 0 1 0 2.4 0a1.2 1.2 0 1 0 -2.4 0M347.1 597.3a1.3 1.3 0 1 0 2.7 0a1.3 1.3 0 1 0 -2.7 0M324.2 611.4a1.1 1.1 0 1 0 2.3 0a1.1 1.1 0 1 0 -2.3 0M318 605.3a1.3 1.3 0 1 0 2.5 0a1.3 1.3 0 1 0 -2.5 0M315.9 617.3a1.1 1.1 0 1 0 2.2 0a1.1 1.1 0 1 0 -2.2 0M326.2 606.1a1.1 1.1 0 1 0 2.2 0a1.1 1.1 0 1 0 -2.2 0M320.6 607.2a1.1 1.1 0 1 0 2.2 0a1.1 1.1 0 1 0 -2.2 0M329.7 607.5a1.4 1.4 0 1 0 2.8 0a1.4 1.4 0 1 0 -2.8 0M326.9 613.8a.9 .9 0 1 0 1.8 0a.9 .9 0 1 0 -1.8 0M314.4 601.6a1.5 1.5 0 1 0 2.9 0a1.5 1.5 0 1 0 -2.9 0M284 619.2a1.2 1.2 0 1 0 2.3 0a1.2 1.2 0 1 0 -2.3 0M281.7 614.7a1.4 1.4 0 1 0 2.9 0a1.4 1.4 0 1 0 -2.9 0M368.1 617.6a1.5 1.5 0 1 0 3 0a1.5 1.5 0 1 0 -3 0M364.5 617.2a1.2 1.2 0 1 0 2.5 0a1.2 1.2 0 1 0 -2.5 0M370.4 617.6a1.5 1.5 0 1 0 3 0a1.5 1.5 0 1 0 -3 0M367.6 619.8a1.2 1.2 0 1 0 2.5 0a1.2 1.2 0 1 0 -2.5 0M400.1 533.6a1.5 1.5 0 1 0 3 0a1.5 1.5 0 1 0 -3 0M392.7 630.4a1.1 1.1 0 1 0 2.2 0a1.1 1.1 0 1 0 -2.2 0M310.9 546.7a1 1 0 1 0 2 0a1 1 0 1 0 -2 0M295.9 560.1a.9 .9 0 1 0 1.9 0a.9 .9 0 1 0 -1.9 0"/>
<path fill="#fafafa" fill-opacity="0.7" d="M343.4 499.4a.9 .9 0 1 0 1.9 0a.9 .9 0 1 0 -1.9 0M290.2 501.2a1 1 0 1 0 1.9 0a1 1 0 1 0 -1.9 0M318.2 510.1a.7 .7 0 1 0 1.4 0a.7 .7 0 1 0 -1.4 0M299.8 497.1a.8 .8 0 1 0 1.5 0a.8 .8 0 1 0 -1.5 0M299.5 502.3a.8 .8 0 1 0 1.7 0a.8 .8 0 1 0 -1.7 0M290.6 493.1a1.3 1.3 0 1 0 2.6 0a1.3 1.3 0 1 0 -2.6 0M302.3 502.4a.9 .9 0 1 0 1.8 0a.9 .9 0 1 0 -1.8 0M303.1 487.2a1.4 1.4 0 1 0 2.8 0a1.4 1.4 0 1 0 -2.8 0M308.9 504.1a1.3 1.3 0 1 0 2.5 0a1.3 1.3 0 1 0 -2.5 0M305.6 488.1a1 1 0 1 0 2 0a1 1 0 1 0 -2 0M284.4 505.5a.9 .9 0 1 0 1.8 0a.9 .9 0 1 0 -1.8 0M278.9 495.9a1.3 1.3 0 1 0 2.7 0a1.3 1.3 0 1 0 -2.7 0M312 492.2a1 1 0 1 0 1.9 0a1 1 0 1 0 -1.9 0M297.7 514.7a1.2 1.2 0 1 0 2.3 0a1.2 1.2 0 1 0 -2.3 0M307.3 480.3a.7 .7 0 1 0 1.4 0a.7 .7 0 1 0 -1.4 0M298.9 505.6a.9 .9 0 1 0 1.9 0a.9 .9 0 1 0 -1.9 0M298.4 496.9a1.1 1.1 0 1 0 2.1 0a1.1 1.1 0 1 0 -2.1 0M295.9 491a.8 .8 0 1 0 1.6 0a.8 .8 0 1 0 -1.6 0M308.3 507.9a.8 .8 0 1 0 1.7 0a.8 .8 0 1 0 -1.7 0M309 510.1a.8 .8 0 1 0 1.5 0a.8 .8 0 1 0 -1.5 0M292.8 488.9a1.2 1.2 0 1 0 2.4 0a1.2 1.2 0 1 0 -2.4 0M297.4 488.9a.9 .9 0 1 0 1.8 0a.9 .9 0 1 0 -1.8 0M302.6 496a.8 .8 0 1 0 1.7 0a.8 .8 0 1 0 -1.7 0M308.6 498.7a.9 .9 0 1 0 1.9 0a.9 .9 0 1 0 -1.9 0M295.1 491.2a1.2 1.2 0 1 0 2.5 0a1.2 1.2 0 1 0 -2.5 0M314.5 500.4a.8 .8 0 1 0 1.6 0a.8 .8 0 1 0 -1.6 0M311.8 497.4a1.2 1.2 0 1 0 2.5 0a1.2 1.2 0 1 0 -2.5 0M285.9 508a1.2 1.2 0 1 0 2.5 0a1.2 1.2 0 1 0 -2.5 0M308.3 492.8a1 1 0 1 0 1.9 0a1 1 0 1 0 -1.9 0M372.8 515.9a1.1 1.1 0 1 0 2.2 0a1.1 1.1 0 1 0 -2.2 0M379.5 505.6a1.2 1.2 0 1 0 2.3 0a1.2 1.2 0 1 0 -2.3 0M384.3 503.7a1.6 1.6 0 1 0 3.1 0a1.6 1.6 0 1 0 -3.1 0M373.7 497.9a1.4 1.4 0 1 0 2.8 0a1.4 1.4 0 1 0 -2.8 0M372.8 499.4a1.1 1.1 0 1 0 2.3 0a1.1 1.1 0 1 0 -2.3 0M372.2 522.3a.9 .9 0 1 0 1.8 0a.9 .9 0 1 0 -1.8 0M381.2 525a1.1 1.1 0 1 0 2.2 0a1.1 1.1 0 1 0 -2.2 0M379.2 501.3a1 1 0 1 0 2.1 0a1 1 0 1 0 -2.1 0M378.2 521.5a1.5 1.5 0 1 0 3.1 0a1.5 1.5 0 1 0 -3.1 0M388.7 511.6a1.5 1.5 0 1 0 3.1 0a1.5 1.5 0 1 0 -3.1 0M376 507.5a1 1 0 1 0 2 0a1 1 0 1 0 -2 0M374 520.9a1.2 1.2 0 1 0 2.3 0a1.2 1.2 0 1 0 -2.3 0M387.9 504.9a.9 .9 0 1 0 1.8 0a.9 .9 0 1 0 -1.8 0M390.1 517.5a1.1 1.1 0 1 0 2.3 0a1.1 1.1 0 1 0 -2.3 0M388.4 515.8a1.5 1.5 0 1 0 3.1 0a1.5 1.5 0 1 0 -3.1 0M300 530.7a1.3 1.3 0 1 0 2.6 0a1.3 1.3 0 1 0 -2.6 0M316 530.6a.9 .9 0 1 0 1.8 0a.9 .9 0 1 0 -1.8 0M319.8 527.5a1 1 0 1 0 2.1 0a1 1 0 1 0 -2.1 0M305.7 531.7a1.1 1.1 0 1 0 2.2 0a1.1 1.1 0 1 0 -2.2 0M297.6 527.1a.9 .9 0 1 0 1.8 0a.9 .9 0 1 0 -1.8 0M307.3 523.8a1 1 0 1 0 2.1 0a1 1 0 1 0 -2.1 0M318.6 534a.8 .8 0 1 0 1.7 0a.8 .8 0 1 0 -1.7 0M319.2 535a1.3 1.3 0 1 0 2.6 0a1.3 1.3 0 1 0 -2.6 0M299.8 534.1a.7 .7 0 1 0 1.4 0a.7 .7 0 1 0 -1.4 0M326.2 530.6a1 1 0 1 0 2 0a1 1 0 1 0 -2 0M303 535.1a1.1 1.1 0 1 0 2.1 0a1.1 1.1 0 1 0 -2.1 0M320.2 532.3a1 1 0 1 0 1.9 0a1 1 0 1 0 -1.9 0M316.1 530.8a1.2 1.2 0 1 0 2.4 0a1.2 1.2 0 1 0 -2.4 0M303.8 527.7a1.3 1.3 0 1 0 2.5 0a1.3 1.3 0 1 0 -2.5 0M323.3 537.2a1.1 1.1 0 1 0 2.2 0a1.1 1.1 0 1 0 -2.2 0M309.5 542.7a1 1 0 1 0 2 0a1 1 0 1 0 -2 0M318.1 538a1.3 1.3 0 1 0 2.5 0a1.3 1.3 0 1 0 -2.5 0M316.9 538.9a.7 .7 0 1 0 1.4 0a.7 .7 0 1 0 -1.4 0M301.9 527.5a.9 .9 0 1 0 1.9 0a.9 .9 0 1 0 -1.9 0M305.9 542.5a.9 .9 0 1 0 1.8 0a.9 .9 0 1 0 -1.8 0M306.6 547.6a1 1 0 1 0 2.1 0a1 1 0 1 0 -2.1 0M308 551.8a1 1 0 1 0 2.1 0a1 1 0 1 0 -2.1 0M300.2 558.5a1.6 1.6 0 1 0 3.2 0a1.6 1.6 0 1 0 -3.2 0M307.6 564.5a.9 .9 0 1 0 1.9 0a.9 .9 0 1 0 -1.9 0M321.9 556.2a1.1 1.1 0 1 0 2.3 0a1.1 1.1 0 1 0 -2.3 0M301.8 559.5a1 1 0 1 0 2 0a1 1 0 1 0 -2 0M322.5 565.7a1.6 1.6 0 1 0 3.3 0a1.6 1.6 0 1 0 -3.3 0M321.3 559.6a.9 .9 0 1 0 1.8 0a.9 .9 0 1 0 -1.8 0M313.6 552.1a.9 .9 0 1 0 1.8 0a.9 .9 0 1 0 -1.8 0M324.4 554.9a1.3 1.3 0 1 0 2.5 0a1.3 1.3 0 1 0 -2.5 0M325.2 551a1 1 0 1 0 2.1 0a1 1 0 1 0 -2.1 0M314.2 561.9a1.5 1.5 0 1 0 3.1 0a1.5 1.5 0 1 0 -3.1 0M310.4 562a.9 .9 0 1 0 1.7 0a.9 .9 0 1 0 -1.7 0M312 567.4a1.3 1.3 0 1 0 2.6 0a1.3 1.3 0 1 0 -2.6 0M311 571.5a1.6 1.6 0 1 0 3.1 0a1.6 1.6 0 1 0 -3.1 0M299.1 560.7a1 1 0 1 0 2 0a1 1 0 1 0 -2 0M319.8 570.1a.9 .9 0 1 0 1.8 0a.9 .9 0 1 0 -1.8 0M319.1 568.6a1.5 1.5 0 1 0 3.1 0a1.5 1.5 0 1 0 -3.1 0M311.9 558.2a1.5 1.5 0 1 0 3 0a1.5 1.5 0 1 0 -3 0M318.2 560.9a1.2 1.2 0 1 0 2.3 0a1.2 1.2 0 1 0 -2.3 0M311.7 565.5a.9 .9 0 1 0 1.7 0a.9 .9 0 1 0 -1.7 0M302.8 568.1a1.4 1.4 0 1 0 2.8 0a1.4 1.4 0 1 0 -2.8 0M322.2 566.4a1.4 1.4 0 1 0 2.8 0a1.4 1.4 0 1 0 -2.8 0M315.5 573.9a1.6 1.6 0 1 0 3.1 0a1.6 1.6 0 1 0 -3.1 0M285.5 574.4a1.3 1.3 0 1 0 2.7 0a1.3 1.3 0 1 0 -2.7 0M344.9 592a1.2 1.2 0 1 0 2.4 0a1.2 1.2 0 1 0 -2.4 0M348.1 585a1.5 1.5 0 1 0 3 0a1.5 1.5 0 1 0 -3 0M343.7 584a1.5 1.5 0 1 0 2.9 0a1.5 1.5 0 1 0 -2.9 0M342.7 591.1a1.3 1.3 0 1 0 2.7 0a1.3 1.3 0 1 0 -2.7 0M349.2 584.9a1.2 1.2 0 1 0 2.5 0a1.2 1.2 0 1 0 -2.5 0M322 604.9a.9 .9 0 1 0 1.8 0a.9 .9 0 1 0 -1.8 0M319.6 612.5a1.3 1.3 0 1 0 2.6 0a1.3 1.3 0 1 0 -2.6 0M316.1 610.1a1.4 1.4 0 1 0 2.9 0a1.4 1.4 0 1 0 -2.9 0M320 613.5a1.6 1.6 0 1 0 3.2 0a1.6 1.6 0 1 0 -3.2 0M312.2 615a1.1 1.1 0 1 0 2.2 0a1.1 1.1 0 1 0 -2.2 0M289.4 591.7a1.3 1.3 0 1 0 2.6 0a1.3 1.3 0 1 0 -2.6 0M290.6 595.5a1.1 1.1 0 1 0 2.2 0a1.1 1.1 0 1 0 -2.2 0M282.7 613.4a1 1 0 1 0 2 0a1 1 0 1 0 -2 0M401.1 524.5a1.1 1.1 0 1 0 2.2 0a1.1 1.1 0 1 0 -2.2 0"/>
<path fill="#fafafa" fill-opacity="0.8" d="M303.9 502.5a.7 .7 0 1 0 1.4 0a.7 .7 0 1 0 -1.4 0M298.1 510.6a1.2 1.2 0 1 0 2.5 0a1.2 1.2 0 1 0 -2.5 0M283.8 505.1a1.3 1.3 0 1 0 2.7 0a1.3 1.3 0 1 0 -2.7 0M311.3 495.2a1.3 1.3 0 1 0 2.7 0a1.3 1.3 0 1 0 -2.7 0M303.4 499a1.2 1.2 0 1 0 2.5 0a1.2 1.2 0 1 0 -2.5 0M311.4 497.5a.8 .8 0 1 0 1.6 0a.8 .8 0 1 0 -1.6 0M296.1 494a1.2 1.2 0 1 0 2.3 0a1.2 1.2 0 1 0 -2.3 0M291.9 501.7a.8 .8 0 1 0 1.5 0a.8 .8 0 1 0 -1.5 0M293.4 496.7a1 1 0 1 0 2 0a1 1 0 1 0 -2 0M305 492.7a1.1 1.1 0 1 0 2.2 0a1.1 1.1 0 1 0 -2.2 0M300.6 494a.8 .8 0 1 0 1.6 0a.8 .8 0 1 0 -1.6 0M288.3 511a1.3 1.3 0 1 0 2.6 0a1.3 1.3 0 1 0 -2.6 0M296.8 503.3a1.2 1.2 0 1 0 2.5 0a1.2 1.2 0 1 0 -2.5 0M304.8 501.9a1.1 1.1 0 1 0 2.2 0a1.1 1.1 0 1 0 -2.2 0M298.7 503.2a.7 .7 0 1 0 1.4 0a.7 .7 0 1 0 -1.4 0M289.4 508a1.3 1.3 0 1 0 2.5 0a1.3 1.3 0 1 0 -2.5 0M300 501.4a1.3 1.3 0 1 0 2.5 0a1.3 1.3 0 1 0 -2.5 0M283.3 492.7a1.2 1.2 0 1 0 2.3 0a1.2 1.2 0 1 0 -2.3 0M295.3 495.5a.8 .8 0 1 0 1.6 0a.8 .8 0 1 0 -1.6 0M307.1 498a1 1 0 1 0 2 0a1 1 0 1 0 -2 0M381.9 494.1a1 1 0 1 0 2 0a1 1 0 1 0 -2 0M385.4 501.8a.8 .8 0 1 0 1.6 0a.8 .8 0 1 0 -1.6 0M380.3 505a1.2 1.2 0 1 0 2.4 0a1.2 1.2 0 1 0 -2.4 0M368.5 505.3a1.5 1.5 0 1 0 3.1 0a1.5 1.5 0 1 0 -3.1 0M389.1 514.5a1.2 1.2 0 1 0 2.3 0a1.2 1.2 0 1 0 -2.3 0M370.8 498.7a1.6 1.6 0 1 0 3.2 0a1.6 1.6 0 1 0 -3.2 0M384.6 521.7a1.2 1.2 0 1 0 2.3 0a1.2 1.2 0 1 0 -2.3 0M388.1 511.9a1.5 1.5 0 1 0 2.9 0a1.5 1.5 0 1 0 -2.9 0M377.2 510.6a1.5 1.5 0 1 0 3 0a1.5 1.5 0 1 0 -3 0M382.5 501.6a1.4 1.4 0 1 0 2.7 0a1.4 1.4 0 1 0 -2.7 0M374.1 503.4a.9 .9 0 1 0 1.9 0a.9 .9 0 1 0 -1.9 0M382.7 500.6a1.5 1.5 0 1 0 3 0a1.5 1.5 0 1 0 -3 0M383.5 512.8a1.3 1.3 0 1 0 2.6 0a1.3 1.3 0 1 0 -2.6 0M383.7 517.6a1 1 0 1 0 2 0a1 1 0 1 0 -2 0M388.3 513.7a1.5 1.5 0 1 0 2.9 0a1.5 1.5 0 1 0 -2.9 0M384.4 521.4a1.5 1.5 0 1 0 3.1 0a1.5 1.5 0 1 0 -3.1 0M390 523.3a1.6 1.6 0 1 0 3.1 0a1.6 1.6 0 1 0 -3.1 0M323.4 534.9a1.4 1.4 0 1 0 2.7 0a1.4 1.4 0 1 0 -2.7 0M320.8 537.5a1.1 1.1 0 1 0 2.2 0a1.1 1.1 0 1 0 -2.2 0M300.5 525.8a1.1 1.1 0 1 0 2.3 0a1.1 1.1 0 1 0 -2.3 0M301.4 530.9a1.1 1.1 0 1 0 2.2 0a1.1 1.1 0 1 0 -2.2 0M308.3 568.5a1.6 1.6 0 1 0 3.3 0a1.6 1.6 0 1 0 -3.3 0M307 555.9a1.4 1.4 0 1 0 2.9 0a1.4 1.4 0 1 0 -2.9 0M300.8 568.4a1.4 1.4 0 1 0 2.8 0a1.4 1.4 0 1 0 -2.8 0M311.6 554.8a.8 .8 0 1 0 1.6 0a.8 .8 0 1 0 -1.6 0M313.3 564.2a1.1 1.1 0 1 0 2.3 0a1.1 1.1 0 1 0 -2.3 0M306.5 556.5a1.5 1.5 0 1 0 3 0a1.5 1.5 0 1 0 -3 0M323.5 559.1a1.4 1.4 0 1 0 2.7 0a1.4 1.4 0 1 0 -2.7 0M310.4 558.3a1.3 1.3 0 1 0 2.5 0a1.3 1.3 0 1 0 -2.5 0M309.8 576.8a1.3 1.3 0 1 0 2.6 0a1.3 1.3 0 1 0 -2.6 0M315.3 564.2a.9 .9 0 1 0 1.8 0a.9 .9 0 1 0 -1.8 0M308.3 553.5a1.6 1.6 0 1 0 3.1 0a1.6 1.6 0 1 0 -3.1 0M314.1 558.9a1.1 1.1 0 1 0 2.2 0a1.1 1.1 0 1 0 -2.2 0M315.9 558.4a1.5 1.5 0 1 0 3 0a1.5 1.5 0 1 0 -3 0M321.1 559.1a1 1 0 1 0 2 0a1 1 0 1 0 -2 0M300.1 555.2a1.4 1.4 0 1 0 2.8 0a1.4 1.4 0 1 0 -2.8 0M319.8 568.7a.8 .8 0 1 0 1.6 0a.8 .8 0 1 0 -1.6 0M319.7 562.6a1.4 1.4 0 1 0 2.7 0a1.4 1.4 0 1 0 -2.7 0M310.7 547.3a1.4 1.4 0 1 0 2.8 0a1.4 1.4 0 1 0 -2.8 0M310.9 556.1a1.6 1.6 0 1 0 3.2 0a1.6 1.6 0 1 0 -3.2 0M315.9 572.2a1.5 1.5 0 1 0 3 0a1.5 1.5 0 1 0 -3 0M314.6 571.3a1.5 1.5 0 1 0 2.9 0a1.5 1.5 0 1 0 -2.9 0M319.1 569.9a1.8 1.8 0 1 0 3.7 0a1.8 1.8 0 1 0 -3.7 0M344 584.8a1.7 1.7 0 1 0 3.4 0a1.7 1.7 0 1 0 -3.4 0M351.4 588.6a1.1 1.1 0 1 0 2.2 0a1.1 1.1 0 1 0 -2.2 0M347.1 590.4a1.2 1.2 0 1 0 2.4 0a1.2 1.2 0 1 0 -2.4 0M346.1 589.9a1.1 1.1 0 1 0 2.1 0a1.1 1.1 0 1 0 -2.1 0M346.3 590.6a1.3 1.3 0 1 0 2.5 0a1.3 1.3 0 1 0 -2.5 0M312.8 608.8a1 1 0 1 0 2 0a1 1 0 1 0 -2 0M327 602.9a1.5 1.5 0 1 0 2.9 0a1.5 1.5 0 1 0 -2.9 0M318.7 613.6a1.1 1.1 0 1 0 2.3 0a1.1 1.1 0 1 0 -2.3 0M317.4 616.6a1.3 1.3 0 1 0 2.6 0a1.3 1.3 0 1 0 -2.6 0M372.9 615.9a1.5 1.5 0 1 0 3 0a1.5 1.5 0 1 0 -3 0M371.9 615.2a1.4 1.4 0 1 0 2.8 0a1.4 1.4 0 1 0 -2.8 0M371.7 614.7a1.5 1.5 0 1 0 2.9 0a1.5 1.5 0 1 0 -2.9 0M371.2 615.2a3 3 0 1 0 6 0a3 3 0 1 0 -6 0"/>
<path fill="#fafafa" fill-opacity="0.9" d="M315.1 542.2a1.3 1.3 0 1 0 2.6 0a1.3 1.3 0 1 0 -2.6 0M308.1 557.5a.9 .9 0 1 0 1.8 0a.9 .9 0 1 0 -1.8 0M321.6 561.1a1 1 0 1 0 2.1 0a1 1 0 1 0 -2.1 0M302.6 551.8a1 1 0 1 0 1.9 0a1 1 0 1 0 -1.9 0M314.1 574.7a1.1 1.1 0 1 0 2.3 0a1.1 1.1 0 1 0 -2.3 0M318.3 553.5a1.1 1.1 0 1 0 2.2 0a1.1 1.1 0 1 0 -2.2 0M309.3 554.8a.9 .9 0 1 0 1.9 0a.9 .9 0 1 0 -1.9 0M327.7 569.4a1.6 1.6 0 1 0 3.2 0a1.6 1.6 0 1 0 -3.2 0M305.9 568.3a1.2 1.2 0 1 0 2.4 0a1.2 1.2 0 1 0 -2.4 0M323.3 561.1a1.7 1.7 0 1 0 3.4 0a1.7 1.7 0 1 0 -3.4 0M315.9 565a1.5 1.5 0 1 0 3.1 0a1.5 1.5 0 1 0 -3.1 0M300.4 546.7a1.5 1.5 0 1 0 3 0a1.5 1.5 0 1 0 -3 0M303.9 549.3a1.1 1.1 0 1 0 2.2 0a1.1 1.1 0 1 0 -2.2 0M312.4 570a1.5 1.5 0 1 0 3.1 0a1.5 1.5 0 1 0 -3.1 0M314.7 573.5a1.5 1.5 0 1 0 3 0a1.5 1.5 0 1 0 -3 0M346.1 581.7a1.4 1.4 0 1 0 2.8 0a1.4 1.4 0 1 0 -2.8 0"/>
<path fill="#b2b2b2" d="M301.5 462a1.5 1.5 0 1 0 3.1 0a1.5 1.5 0 1 0 -3.1 0"/>
<path fill="#b3b3b3" d="M358.1 465a1.9 1.9 0 1 0 3.7 0a1.9 1.9 0 1 0 -3.7 0"/>
<path fill="#b4b4b4" d="M404.6 468.5a1.9 1.9 0 1 0 3.7 0a1.9 1.9 0 1 0 -3.7 0M296.7 468a1.3 1.3 0 1 0 2.5 0a1.3 1.3 0 1 0 -2.5 0"/>
<path fill="#b5b5b5" d="M355.5 476.1a.6 .6 0 1 0 1.2 0a.6 .6 0 1 0 -1.2 0"/>
<path fill="#b6b6b6" d="M337 501.3a1.2 1.2 0 1 0 2.3 0a1.2 1.2 0 1 0 -2.3 0M343.9 499.8a.8 .8 0 1 0 1.6 0a.8 .8 0 1 0 -1.6 0M337.4 502.1a1.2 1.2 0 1 0 2.5 0a1.2 1.2 0 1 0 -2.5 0M339.4 504.6a.7 .7 0 1 0 1.4 0a.7 .7 0 1 0 -1.4 0M336 504.2a1.2 1.2 0 1 0 2.5 0a1.2 1.2 0 1 0 -2.5 0M340.3 502.9a1.3 1.3 0 1 0 2.5 0a1.3 1.3 0 1 0 -2.5 0M343.2 500.6a.8 .8 0 1 0 1.5 0a.8 .8 0 1 0 -1.5 0M340 502.7a1 1 0 1 0 2 0a1 1 0 1 0 -2 0M348.3 472.5a1.7 1.7 0 1 0 3.4 0a1.7 1.7 0 1 0 -3.4 0M316.2 477.4a.6 .6 0 1 0 1.2 0a.6 .6 0 1 0 -1.2 0"/>
<path fill="#b9b9b9" d="M366 480a1.5 1.5 0 1 0 3.1 0a1.5 1.5 0 1 0 -3.1 0M400.3 482a1.7 1.7 0 1 0 3.4 0a1.7 1.7 0 1 0 -3.4 0M307.8 480.7a.6 .6 0 1 0 1.2 0a.6 .6 0 1 0 -1.2 0"/>
<path fill="#bbbbbb" d="M369.5 487.5a1.5 1.5 0 1 0 3.1 0a1.5 1.5 0 1 0 -3.1 0M303.7 487.6a1.2 1.2 0 1 0 2.4 0a1.2 1.2 0 1 0 -2.4 0M286.5 486.6a1 1 0 1 0 2.1 0a1 1 0 1 0 -2.1 0M316.7 487.4a.6 .6 0 1 0 1.3 0a.6 .6 0 1 0 -1.3 0M340.8 491.6a.8 .8 0 1 0 1.6 0a.8 .8 0 1 0 -1.6 0"/>
<path fill="#bcbcbc" d="M311.6 489.7a.8 .8 0 1 0 1.6 0a.8 .8 0 1 0 -1.6 0M306.2 488.5a.9 .9 0 1 0 1.7 0a.9 .9 0 1 0 -1.7 0M305.4 488.8a1.1 1.1 0 1 0 2.1 0a1.1 1.1 0 1 0 -2.1 0M293.4 489.3a1 1 0 1 0 2 0a1 1 0 1 0 -2 0M297.9 489.3a.8 .8 0 1 0 1.5 0a.8 .8 0 1 0 -1.5 0M313.9 489.8a1.1 1.1 0 1 0 2.2 0a1.1 1.1 0 1 0 -2.2 0M314.1 493.8a.6 .6 0 1 0 1.2 0a.6 .6 0 1 0 -1.2 0M328.8 494.6a.9 .9 0 1 0 1.8 0a.9 .9 0 1 0 -1.8 0"/>
<path fill="#bdbdbd" d="M312.5 492.6a.8 .8 0 1 0 1.6 0a.8 .8 0 1 0 -1.6 0M321.2 491.2a1.1 1.1 0 1 0 2.1 0a1.1 1.1 0 1 0 -2.1 0M305.5 493.1a1 1 0 1 0 1.9 0a1 1 0 1 0 -1.9 0M296.4 491.4a.7 .7 0 1 0 1.4 0a.7 .7 0 1 0 -1.4 0M317.3 491.2a.9 .9 0 1 0 1.8 0a.9 .9 0 1 0 -1.8 0M295.7 491.6a1.1 1.1 0 1 0 2.1 0a1.1 1.1 0 1 0 -2.1 0M308.8 493.2a.8 .8 0 1 0 1.6 0a.8 .8 0 1 0 -1.6 0M283.9 493.1a1 1 0 1 0 2 0a1 1 0 1 0 -2 0M306.1 490.7a.7 .7 0 1 0 1.4 0a.7 .7 0 1 0 -1.4 0M375.9 497.6a.5 .5 0 1 0 1.1 0a.5 .5 0 1 0 -1.1 0"/>
<path fill="#bebebe" d="M291.2 493.5a1.1 1.1 0 1 0 2.2 0a1.1 1.1 0 1 0 -2.2 0M311.9 495.6a1.1 1.1 0 1 0 2.3 0a1.1 1.1 0 1 0 -2.3 0M296.7 494.4a1 1 0 1 0 2 0a1 1 0 1 0 -2 0M285.7 494.5a1 1 0 1 0 2 0a1 1 0 1 0 -2 0M301.1 494.4a.7 .7 0 1 0 1.4 0a.7 .7 0 1 0 -1.4 0M288.9 494.6a.7 .7 0 1 0 1.3 0a.7 .7 0 1 0 -1.3 0M300.5 495.6a.7 .7 0 1 0 1.5 0a.7 .7 0 1 0 -1.5 0M295.8 495.9a.7 .7 0 1 0 1.4 0a.7 .7 0 1 0 -1.4 0M382.5 494.5a.9 .9 0 1 0 1.7 0a.9 .9 0 1 0 -1.7 0M380.4 493.9a.9 .9 0 1 0 1.9 0a.9 .9 0 1 0 -1.9 0M338.4 498.9a.6 .6 0 1 0 1.3 0a.6 .6 0 1 0 -1.3 0M372.9 503.8a.6 .6 0 1 0 1.2 0a.6 .6 0 1 0 -1.2 0M302.7 504.5a.9 .9 0 1 0 1.8 0a.9 .9 0 1 0 -1.8 0"/>
<path fill="#bfbfbf" d="M297.3 497.3a.7 .7 0 1 0 1.4 0a.7 .7 0 1 0 -1.4 0M300.3 497.5a.6 .6 0 1 0 1.3 0a.6 .6 0 1 0 -1.3 0M314 496.6a.6 .6 0 1 0 1.2 0a.6 .6 0 1 0 -1.2 0M319.1 496.1a1.1 1.1 0 1 0 2.2 0a1.1 1.1 0 1 0 -2.2 0M311.9 497.9a.7 .7 0 1 0 1.3 0a.7 .7 0 1 0 -1.3 0M311 496.9a1.1 1.1 0 1 0 2.2 0a1.1 1.1 0 1 0 -2.2 0M279.5 496.3a1.1 1.1 0 1 0 2.3 0a1.1 1.1 0 1 0 -2.3 0M314.3 498.6a.9 .9 0 1 0 1.8 0a.9 .9 0 1 0 -1.8 0M293.9 497.1a.9 .9 0 1 0 1.7 0a.9 .9 0 1 0 -1.7 0M298.9 497.3a.9 .9 0 1 0 1.8 0a.9 .9 0 1 0 -1.8 0M310.8 497.3a1 1 0 1 0 2.1 0a1 1 0 1 0 -2.1 0M303.1 496.4a.7 .7 0 1 0 1.4 0a.7 .7 0 1 0 -1.4 0M312.4 497.8a1.1 1.1 0 1 0 2.1 0a1.1 1.1 0 1 0 -2.1 0M303.3 498.4a.6 .6 0 1 0 1.2 0a.6 .6 0 1 0 -1.2 0M307.7 498.4a.9 .9 0 1 0 1.7 0a.9 .9 0 1 0 -1.7 0M374.3 498.3a1.2 1.2 0 1 0 2.4 0a1.2 1.2 0 1 0 -2.4 0"/>
<path fill="#c0c0c0" d="M304.4 502.9a.6 .6 0 1 0 1.2 0a.6 .6 0 1 0 -1.2 0M310.1 501.5a.7 .7 0 1 0 1.4 0a.7 .7 0 1 0 -1.4 0M290.8 501.6a.8 .8 0 1 0 1.6 0a.8 .8 0 1 0 -1.6 0M300.7 502.1a.9 .9 0 1 0 1.8 0a.9 .9 0 1 0 -1.8 0M291.5 501.1a.9 .9 0 1 0 1.8 0a.9 .9 0 1 0 -1.8 0M300.1 502.7a.7 .7 0 1 0 1.4 0a.7 .7 0 1 0 -1.4 0M302.9 502.8a.8 .8 0 1 0 1.5 0a.8 .8 0 1 0 -1.5 0M304 504.4a1.2 1.2 0 1 0 2.3 0a1.2 1.2 0 1 0 -2.3 0M304 499.4a1.1 1.1 0 1 0 2.1 0a1.1 1.1 0 1 0 -2.1 0M309.5 504.5a1.1 1.1 0 1 0 2.1 0a1.1 1.1 0 1 0 -2.1 0M303.9 503.4a.7 .7 0 1 0 1.3 0a.7 .7 0 1 0 -1.3 0M306.4 499.5a.8 .8 0 1 0 1.6 0a.8 .8 0 1 0 -1.6 0M315.2 504.8a.7 .7 0 1 0 1.4 0a.7 .7 0 1 0 -1.4 0M292.4 502.1a.7 .7 0 1 0 1.3 0a.7 .7 0 1 0 -1.3 0M302.8 501.2a.7 .7 0 1 0 1.4 0a.7 .7 0 1 0 -1.4 0M299.3 502.6a.6 .6 0 1 0 1.2 0a.6 .6 0 1 0 -1.2 0M293.9 502.8a1.1 1.1 0 1 0 2.3 0a1.1 1.1 0 1 0 -2.3 0M297.3 504.3a.7 .7 0 1 0 1.5 0a.7 .7 0 1 0 -1.5 0M312 503.4a.8 .8 0 1 0 1.6 0a.8 .8 0 1 0 -1.6 0M317 499.9a.7 .7 0 1 0 1.4 0a.7 .7 0 1 0 -1.4 0M297.4 503.7a1 1 0 1 0 2.1 0a1 1 0 1 0 -2.1 0M305.4 502.3a.9 .9 0 1 0 1.8 0a.9 .9 0 1 0 -1.8 0M286.3 499.5a.8 .8 0 1 0 1.6 0a.8 .8 0 1 0 -1.6 0M309.2 499.1a.8 .8 0 1 0 1.6 0a.8 .8 0 1 0 -1.6 0M299.2 503.6a.6 .6 0 1 0 1.2 0a.6 .6 0 1 0 -1.2 0M315 500.8a.7 .7 0 1 0 1.4 0a.7 .7 0 1 0 -1.4 0M300.6 501.8a1.1 1.1 0 1 0 2.1 0a1.1 1.1 0 1 0 -2.1 0M293.3 501.8a1.2 1.2 0 1 0 2.3 0a1.2 1.2 0 1 0 -2.3 0M386 502.2a.7 .7 0 1 0 1.4 0a.7 .7 0 1 0 -1.4 0M385 504.1a1.3 1.3 0 1 0 2.7 0a1.3 1.3 0 1 0 -2.7 0M383.5 501.7a1.3 1.3 0 1 0 2.6 0a1.3 1.3 0 1 0 -2.6 0M391.1 503.8a1.3 1.3 0 1 0 2.6 0a1.3 1.3 0 1 0 -2.6 0M379.6 501.5a.8 .8 0 1 0 1.5 0a.8 .8 0 1 0 -1.5 0M371.5 499.1a1.4 1.4 0 1 0 2.7 0a1.4 1.4 0 1 0 -2.7 0M373.4 499.8a1 1 0 1 0 1.9 0a1 1 0 1 0 -1.9 0M379.8 501.7a.9 .9 0 1 0 1.8 0a.9 .9 0 1 0 -1.8 0M383.4 504a1.1 1.1 0 1 0 2.2 0a1.1 1.1 0 1 0 -2.2 0M383.1 502a1.2 1.2 0 1 0 2.3 0a1.2 1.2 0 1 0 -2.3 0M374.6 503.8a.8 .8 0 1 0 1.6 0a.8 .8 0 1 0 -1.6 0M383.3 501a1.3 1.3 0 1 0 2.6 0a1.3 1.3 0 1 0 -2.6 0M329.9 522.9a1 1 0 1 0 2 0a1 1 0 1 0 -2 0"/>
<path fill="#c1c1c1" d="M318.7 510.5a.6 .6 0 1 0 1.2 0a.6 .6 0 1 0 -1.2 0M298.7 511a1 1 0 1 0 2.1 0a1 1 0 1 0 -2.1 0M284.4 505.5a1.1 1.1 0 1 0 2.3 0a1.1 1.1 0 1 0 -2.3 0M295.6 507.7a.9 .9 0 1 0 1.7 0a.9 .9 0 1 0 -1.7 0M295.5 514.6a.6 .6 0 1 0 1.2 0a.6 .6 0 1 0 -1.2 0M298.9 512.9a.7 .7 0 1 0 1.5 0a.7 .7 0 1 0 -1.5 0M284.9 505.9a.8 .8 0 1 0 1.5 0a.8 .8 0 1 0 -1.5 0M306.9 507.2a1 1 0 1 0 2.1 0a1 1 0 1 0 -2.1 0M301.7 506.5a1.1 1.1 0 1 0 2.2 0a1.1 1.1 0 1 0 -2.2 0M295 510.2a.8 .8 0 1 0 1.6 0a.8 .8 0 1 0 -1.6 0M299.4 506a.8 .8 0 1 0 1.6 0a.8 .8 0 1 0 -1.6 0M308.8 508.3a.7 .7 0 1 0 1.4 0a.7 .7 0 1 0 -1.4 0M309.5 510.5a.6 .6 0 1 0 1.3 0a.6 .6 0 1 0 -1.3 0M288.9 511.4a1.1 1.1 0 1 0 2.2 0a1.1 1.1 0 1 0 -2.2 0M301.5 507.4a1.1 1.1 0 1 0 2.2 0a1.1 1.1 0 1 0 -2.2 0M286.5 508.4a1.1 1.1 0 1 0 2.1 0a1.1 1.1 0 1 0 -2.1 0M290 508.4a1.1 1.1 0 1 0 2.2 0a1.1 1.1 0 1 0 -2.2 0M298.7 506.9a.7 .7 0 1 0 1.4 0a.7 .7 0 1 0 -1.4 0M380.9 505.4a1 1 0 1 0 2 0a1 1 0 1 0 -2 0M381.2 508.8a1.1 1.1 0 1 0 2.2 0a1.1 1.1 0 1 0 -2.2 0M369.1 505.7a1.3 1.3 0 1 0 2.6 0a1.3 1.3 0 1 0 -2.6 0M389.7 514.9a1 1 0 1 0 2 0a1 1 0 1 0 -2 0M380 506a1 1 0 1 0 2 0a1 1 0 1 0 -2 0M376 505.8a1.1 1.1 0 1 0 2.2 0a1.1 1.1 0 1 0 -2.2 0M380.7 510a.7 .7 0 1 0 1.5 0a.7 .7 0 1 0 -1.5 0M377.4 513a.9 .9 0 1 0 1.7 0a.9 .9 0 1 0 -1.7 0M377.4 512.4a1.1 1.1 0 1 0 2.2 0a1.1 1.1 0 1 0 -2.2 0M369.3 513.2a.9 .9 0 1 0 1.7 0a.9 .9 0 1 0 -1.7 0M378.3 506.8a1.3 1.3 0 1 0 2.7 0a1.3 1.3 0 1 0 -2.7 0M380.8 505.8a.7 .7 0 1 0 1.4 0a.7 .7 0 1 0 -1.4 0M382.1 505.7a1.3 1.3 0 1 0 2.6 0a1.3 1.3 0 1 0 -2.6 0M374.9 511.1a1.2 1.2 0 1 0 2.5 0a1.2 1.2 0 1 0 -2.5 0M388.7 512.4a1.2 1.2 0 1 0 2.5 0a1.2 1.2 0 1 0 -2.5 0M377.9 511a1.3 1.3 0 1 0 2.5 0a1.3 1.3 0 1 0 -2.5 0M389.4 512.1a1.3 1.3 0 1 0 2.6 0a1.3 1.3 0 1 0 -2.6 0M389.1 505.6a1.2 1.2 0 1 0 2.4 0a1.2 1.2 0 1 0 -2.4 0M383.8 514.7a.8 .8 0 1 0 1.7 0a.8 .8 0 1 0 -1.7 0M374.1 506.5a1.2 1.2 0 1 0 2.5 0a1.2 1.2 0 1 0 -2.5 0M376.5 507.9a.9 .9 0 1 0 1.7 0a.9 .9 0 1 0 -1.7 0M384.1 513.2a1.1 1.1 0 1 0 2.2 0a1.1 1.1 0 1 0 -2.2 0M388.5 505.3a.8 .8 0 1 0 1.5 0a.8 .8 0 1 0 -1.5 0M388.2 513.7a1.2 1.2 0 1 0 2.4 0a1.2 1.2 0 1 0 -2.4 0M386.2 511.4a.9 .9 0 1 0 1.8 0a.9 .9 0 1 0 -1.8 0M389 514.1a1.2 1.2 0 1 0 2.5 0a1.2 1.2 0 1 0 -2.5 0M283.2 613.5a1.3 1.3 0 1 0 2.5 0a1.3 1.3 0 1 0 -2.5 0M286 619.9a1.2 1.2 0 1 0 2.3 0a1.2 1.2 0 1 0 -2.3 0M284.6 619.6a1 1 0 1 0 2 0a1 1 0 1 0 -2 0M283.1 614.9a1 1 0 1 0 2.1 0a1 1 0 1 0 -2.1 0M283.8 613.9a1.1 1.1 0 1 0 2.2 0a1.1 1.1 0 1 0 -2.2 0M283.2 613.8a.9 .9 0 1 0 1.7 0a.9 .9 0 1 0 -1.7 0M282.3 615.1a1.2 1.2 0 1 0 2.4 0a1.2 1.2 0 1 0 -2.4 0M345.2 527.7a.6 .6 0 1 0 1.2 0a.6 .6 0 1 0 -1.2 0M374.1 528.2a1 1 0 1 0 2 0a1 1 0 1 0 -2 0"/>
<path fill="#c2c2c2" d="M358 516a1.5 1.5 0 1 0 3.1 0a1.5 1.5 0 1 0 -3.1 0M293.2 515.9a1 1 0 1 0 2 0a1 1 0 1 0 -2 0M298.3 515.1a1 1 0 1 0 2 0a1 1 0 1 0 -2 0M383.3 516a1 1 0 1 0 2 0a1 1 0 1 0 -2 0M373.4 516.3a.9 .9 0 1 0 1.9 0a.9 .9 0 1 0 -1.9 0M377.6 521.1a1.4 1.4 0 1 0 2.7 0a1.4 1.4 0 1 0 -2.7 0M374.9 521.3a1.3 1.3 0 1 0 2.6 0a1.3 1.3 0 1 0 -2.6 0M372.7 522.7a.8 .8 0 1 0 1.6 0a.8 .8 0 1 0 -1.6 0M385.2 522.1a1 1 0 1 0 2 0a1 1 0 1 0 -2 0M378.8 521.9a1.3 1.3 0 1 0 2.6 0a1.3 1.3 0 1 0 -2.6 0M379.4 515.4a.9 .9 0 1 0 1.8 0a.9 .9 0 1 0 -1.8 0M374.6 521.3a1 1 0 1 0 2 0a1 1 0 1 0 -2 0M384.3 518a.9 .9 0 1 0 1.7 0a.9 .9 0 1 0 -1.7 0M390.6 517.9a1 1 0 1 0 1.9 0a1 1 0 1 0 -1.9 0M390.1 517.3a1.3 1.3 0 1 0 2.7 0a1.3 1.3 0 1 0 -2.7 0M385.1 521.9a1.3 1.3 0 1 0 2.6 0a1.3 1.3 0 1 0 -2.6 0M390.7 523.7a1.3 1.3 0 1 0 2.7 0a1.3 1.3 0 1 0 -2.7 0M395.2 522.3a.9 .9 0 1 0 1.9 0a.9 .9 0 1 0 -1.9 0M388.9 521.1a1.1 1.1 0 1 0 2.3 0a1.1 1.1 0 1 0 -2.3 0M389.1 516.2a1.3 1.3 0 1 0 2.6 0a1.3 1.3 0 1 0 -2.6 0M307.9 524.2a.9 .9 0 1 0 1.7 0a.9 .9 0 1 0 -1.7 0M317.1 523.7a1 1 0 1 0 1.9 0a1 1 0 1 0 -1.9 0M303.6 524.6a.8 .8 0 1 0 1.5 0a.8 .8 0 1 0 -1.5 0M401.7 524.9a.9 .9 0 1 0 1.8 0a.9 .9 0 1 0 -1.8 0M311.5 547.1a.8 .8 0 1 0 1.7 0a.8 .8 0 1 0 -1.7 0M325 537.6a1 1 0 1 0 2 0a1 1 0 1 0 -2 0M290.5 544.1a.8 .8 0 1 0 1.6 0a.8 .8 0 1 0 -1.6 0M334.9 540.9a.6 .6 0 1 0 1.1 0a.6 .6 0 1 0 -1.1 0M322.2 547.2a.7 .7 0 1 0 1.4 0a.7 .7 0 1 0 -1.4 0"/>
<path fill="#c3c3c3" d="M364.5 530.5a1.5 1.5 0 1 0 3.1 0a1.5 1.5 0 1 0 -3.1 0M381.8 525.4a.9 .9 0 1 0 1.9 0a.9 .9 0 1 0 -1.9 0M382.7 528.1a1.2 1.2 0 1 0 2.5 0a1.2 1.2 0 1 0 -2.5 0M300.5 531.1a1.1 1.1 0 1 0 2.2 0a1.1 1.1 0 1 0 -2.2 0M316.5 531a.8 .8 0 1 0 1.5 0a.8 .8 0 1 0 -1.5 0M320.3 527.9a.9 .9 0 1 0 1.8 0a.9 .9 0 1 0 -1.8 0M317.6 529.6a.8 .8 0 1 0 1.6 0a.8 .8 0 1 0 -1.6 0M306.2 532.1a.9 .9 0 1 0 1.9 0a.9 .9 0 1 0 -1.9 0M323.3 534.2a1 1 0 1 0 1.9 0a1 1 0 1 0 -1.9 0M315 526.5a.9 .9 0 1 0 1.8 0a.9 .9 0 1 0 -1.8 0M301.8 530.7a.8 .8 0 1 0 1.6 0a.8 .8 0 1 0 -1.6 0M306.7 531.1a.8 .8 0 1 0 1.5 0a.8 .8 0 1 0 -1.5 0M298.3 534a.8 .8 0 1 0 1.6 0a.8 .8 0 1 0 -1.6 0M312.5 529.7a.9 .9 0 1 0 1.8 0a.9 .9 0 1 0 -1.8 0M314.7 530.8a.7 .7 0 1 0 1.5 0a.7 .7 0 1 0 -1.5 0M324.4 526.5a.7 .7 0 1 0 1.4 0a.7 .7 0 1 0 -1.4 0M298.2 527.5a.8 .8 0 1 0 1.5 0a.8 .8 0 1 0 -1.5 0M319.1 534.4a.7 .7 0 1 0 1.4 0a.7 .7 0 1 0 -1.4 0M300.3 534.5a.6 .6 0 1 0 1.2 0a.6 .6 0 1 0 -1.2 0M325.8 529.9a1 1 0 1 0 2 0a1 1 0 1 0 -2 0M326.7 531a.9 .9 0 1 0 1.7 0a.9 .9 0 1 0 -1.7 0M312.3 533a.6 .6 0 1 0 1.3 0a.6 .6 0 1 0 -1.3 0M316.6 532.6a1.1 1.1 0 1 0 2.2 0a1.1 1.1 0 1 0 -2.2 0M320.7 532.7a.8 .8 0 1 0 1.7 0a.8 .8 0 1 0 -1.7 0M296.6 526.4a.9 .9 0 1 0 1.8 0a.9 .9 0 1 0 -1.8 0M316.7 531.2a1 1 0 1 0 2 0a1 1 0 1 0 -2 0M304.4 528.1a1.1 1.1 0 1 0 2.1 0a1.1 1.1 0 1 0 -2.1 0M325.5 533.3a.8 .8 0 1 0 1.7 0a.8 .8 0 1 0 -1.7 0M311.3 529.2a.9 .9 0 1 0 1.7 0a.9 .9 0 1 0 -1.7 0M325.4 531.2a.9 .9 0 1 0 1.8 0a.9 .9 0 1 0 -1.8 0M301.1 526.2a1 1 0 1 0 1.9 0a1 1 0 1 0 -1.9 0M306 527.9a.9 .9 0 1 0 1.8 0a.9 .9 0 1 0 -1.8 0M301.9 531.3a.9 .9 0 1 0 1.9 0a.9 .9 0 1 0 -1.9 0M323.6 534.7a1.1 1.1 0 1 0 2.2 0a1.1 1.1 0 1 0 -2.2 0M302.5 527.9a.8 .8 0 1 0 1.6 0a.8 .8 0 1 0 -1.6 0M402.4 529.6a1.2 1.2 0 1 0 2.3 0a1.2 1.2 0 1 0 -2.3 0M400.8 534a1.3 1.3 0 1 0 2.5 0a1.3 1.3 0 1 0 -2.5 0M296.4 560.5a.8 .8 0 1 0 1.6 0a.8 .8 0 1 0 -1.6 0M361.2 570a.8 .8 0 1 0 1.6 0a.8 .8 0 1 0 -1.6 0M332.6 564a.6 .6 0 1 0 1.3 0a.6 .6 0 1 0 -1.3 0M331.2 553.7a.8 .8 0 1 0 1.6 0a.8 .8 0 1 0 -1.6 0M335.8 571.6a.6 .6 0 1 0 1.3 0a.6 .6 0 1 0 -1.3 0"/>
<path fill="#c4c4c4" d="M343.5 535.5a1.5 1.5 0 1 0 3.1 0a1.5 1.5 0 1 0 -3.1 0M376.5 538a1.5 1.5 0 1 0 3.1 0a1.5 1.5 0 1 0 -3.1 0M324.2 544.6a.9 .9 0 1 0 1.9 0a.9 .9 0 1 0 -1.9 0M307.5 538.1a1 1 0 1 0 2 0a1 1 0 1 0 -2 0M299.6 536.3a.9 .9 0 1 0 1.8 0a.9 .9 0 1 0 -1.8 0M311 544.3a1 1 0 1 0 2.1 0a1 1 0 1 0 -2.1 0M301.7 542.6a.8 .8 0 1 0 1.6 0a.8 .8 0 1 0 -1.6 0M313.7 538.2a.8 .8 0 1 0 1.6 0a.8 .8 0 1 0 -1.6 0M304.4 537.9a.7 .7 0 1 0 1.3 0a.7 .7 0 1 0 -1.3 0M313.3 537.2a.6 .6 0 1 0 1.2 0a.6 .6 0 1 0 -1.2 0M324 535.3a1.2 1.2 0 1 0 2.3 0a1.2 1.2 0 1 0 -2.3 0M311.9 539.6a1.1 1.1 0 1 0 2.2 0a1.1 1.1 0 1 0 -2.2 0M325.9 542.5a1 1 0 1 0 2 0a1 1 0 1 0 -2 0M330.4 540.9a.7 .7 0 1 0 1.4 0a.7 .7 0 1 0 -1.4 0M315.4 540a1.1 1.1 0 1 0 2.2 0a1.1 1.1 0 1 0 -2.2 0M319.8 535.4a1.1 1.1 0 1 0 2.2 0a1.1 1.1 0 1 0 -2.2 0M321.3 537.9a1 1 0 1 0 1.9 0a1 1 0 1 0 -1.9 0M303.6 535.5a.9 .9 0 1 0 1.8 0a.9 .9 0 1 0 -1.8 0M323.9 537.6a.9 .9 0 1 0 1.9 0a.9 .9 0 1 0 -1.9 0M310 543.1a.8 .8 0 1 0 1.7 0a.8 .8 0 1 0 -1.7 0M318.6 538.4a1.1 1.1 0 1 0 2.2 0a1.1 1.1 0 1 0 -2.2 0M317.4 539.3a.6 .6 0 1 0 1.2 0a.6 .6 0 1 0 -1.2 0M402.1 540.4a.9 .9 0 1 0 1.7 0a.9 .9 0 1 0 -1.7 0M405.3 538.1a1.2 1.2 0 1 0 2.5 0a1.2 1.2 0 1 0 -2.5 0M403.9 535.7a1 1 0 1 0 1.9 0a1 1 0 1 0 -1.9 0M303.7 581a.6 .6 0 1 0 1.1 0a.6 .6 0 1 0 -1.1 0M379.1 582.8a.7 .7 0 1 0 1.4 0a.7 .7 0 1 0 -1.4 0"/>
<path fill="#c5c5c5" d="M353.2 566a1.5 1.5 0 1 0 3.1 0a1.5 1.5 0 1 0 -3.1 0M375.1 571a1.5 1.5 0 1 0 3.1 0a1.5 1.5 0 1 0 -3.1 0M375.1 561a1.5 1.5 0 1 0 3.1 0a1.5 1.5 0 1 0 -3.1 0M390.6 553a1.4 1.4 0 1 0 2.7 0a1.4 1.4 0 1 0 -2.7 0M346.5 612.4a.5 .5 0 1 0 1 0a.5 .5 0 1 0 -1 0"/>
<path fill="#c6c6c6" d="M365.9 575a1.7 1.7 0 1 0 3.4 0a1.7 1.7 0 1 0 -3.4 0M403.3 583a1.7 1.7 0 1 0 3.4 0a1.7 1.7 0 1 0 -3.4 0M288.8 577.4a1.3 1.3 0 1 0 2.5 0a1.3 1.3 0 1 0 -2.5 0M286.1 574.8a1.1 1.1 0 1 0 2.3 0a1.1 1.1 0 1 0 -2.3 0M285.6 579.4a1.3 1.3 0 1 0 2.5 0a1.3 1.3 0 1 0 -2.5 0M286 577a1.2 1.2 0 1 0 2.4 0a1.2 1.2 0 1 0 -2.4 0M290.4 577.9a1.2 1.2 0 1 0 2.4 0a1.2 1.2 0 1 0 -2.4 0M292.6 576.4a.9 .9 0 1 0 1.8 0a.9 .9 0 1 0 -1.8 0M290 592.1a1.1 1.1 0 1 0 2.2 0a1.1 1.1 0 1 0 -2.2 0M289.9 595.3a1 1 0 1 0 2 0a1 1 0 1 0 -2 0M291.2 595.9a.9 .9 0 1 0 1.8 0a.9 .9 0 1 0 -1.8 0"/>
<path fill="#c7c7c7" d="M368.5 607.4a1.5 1.5 0 1 0 3.1 0a1.5 1.5 0 1 0 -3.1 0M336.5 615a1.5 1.5 0 1 0 3.1 0a1.5 1.5 0 1 0 -3.1 0M293.5 598.3a1.1 1.1 0 1 0 2.1 0a1.1 1.1 0 1 0 -2.1 0"/>
<path fill="#c8c8c8" d="M340.5 625.5a1.5 1.5 0 1 0 3.1 0a1.5 1.5 0 1 0 -3.1 0M286.2 625.5a1.5 1.5 0 1 0 3.1 0a1.5 1.5 0 1 0 -3.1 0M404.3 628a1.7 1.7 0 1 0 3.4 0a1.7 1.7 0 1 0 -3.4 0M306.5 542.9a.8 .8 0 1 0 1.6 0a.8 .8 0 1 0 -1.6 0M307.2 548a.9 .9 0 1 0 1.7 0a.9 .9 0 1 0 -1.7 0M315.7 542.6a1.1 1.1 0 1 0 2.2 0a1.1 1.1 0 1 0 -2.2 0M322.8 549.6a.9 .9 0 1 0 1.9 0a.9 .9 0 1 0 -1.9 0M325.8 551.4a.9 .9 0 1 0 1.8 0a.9 .9 0 1 0 -1.8 0M316.1 551.1a1.3 1.3 0 1 0 2.6 0a1.3 1.3 0 1 0 -2.6 0M301 547.1a1.3 1.3 0 1 0 2.5 0a1.3 1.3 0 1 0 -2.5 0M311.3 547.7a1.2 1.2 0 1 0 2.4 0a1.2 1.2 0 1 0 -2.4 0M304.5 549.7a.9 .9 0 1 0 1.9 0a.9 .9 0 1 0 -1.9 0M392.4 631.1a1 1 0 1 0 2.1 0a1 1 0 1 0 -2.1 0M397 631.8a.8 .8 0 1 0 1.6 0a.8 .8 0 1 0 -1.6 0M393.3 630.8a.9 .9 0 1 0 1.8 0a.9 .9 0 1 0 -1.8 0M394.9 631.2a.9 .9 0 1 0 1.9 0a.9 .9 0 1 0 -1.9 0"/>
<path fill="#c9c9c9" d="M309.1 569a1.4 1.4 0 1 0 2.8 0a1.4 1.4 0 1 0 -2.8 0M296.6 564.3a.9 .9 0 1 0 1.9 0a.9 .9 0 1 0 -1.9 0M319.4 558.9a1 1 0 1 0 2 0a1 1 0 1 0 -2 0M308.6 552.2a.9 .9 0 1 0 1.8 0a.9 .9 0 1 0 -1.8 0M307.6 556.3a1.2 1.2 0 1 0 2.4 0a1.2 1.2 0 1 0 -2.4 0M301.4 568.8a1.2 1.2 0 1 0 2.3 0a1.2 1.2 0 1 0 -2.3 0M312.2 555.2a.7 .7 0 1 0 1.4 0a.7 .7 0 1 0 -1.4 0M313.9 564.6a1 1 0 1 0 1.9 0a1 1 0 1 0 -1.9 0M300.9 558.9a1.3 1.3 0 1 0 2.7 0a1.3 1.3 0 1 0 -2.7 0M308.6 557.9a.8 .8 0 1 0 1.5 0a.8 .8 0 1 0 -1.5 0M308.1 564.9a.8 .8 0 1 0 1.6 0a.8 .8 0 1 0 -1.6 0M322.5 556.6a1 1 0 1 0 2 0a1 1 0 1 0 -2 0M302.3 559.9a.8 .8 0 1 0 1.7 0a.8 .8 0 1 0 -1.7 0M323.2 566.2a1.4 1.4 0 1 0 2.8 0a1.4 1.4 0 1 0 -2.8 0M304.1 562.5a.7 .7 0 1 0 1.4 0a.7 .7 0 1 0 -1.4 0M307.1 556.9a1.3 1.3 0 1 0 2.5 0a1.3 1.3 0 1 0 -2.5 0M305.4 554.7a1 1 0 1 0 1.9 0a1 1 0 1 0 -1.9 0M322.1 561.5a.9 .9 0 1 0 1.8 0a.9 .9 0 1 0 -1.8 0M321.8 560a.8 .8 0 1 0 1.5 0a.8 .8 0 1 0 -1.5 0M306.3 560.4a.8 .8 0 1 0 1.7 0a.8 .8 0 1 0 -1.7 0M324.1 559.5a1.2 1.2 0 1 0 2.3 0a1.2 1.2 0 1 0 -2.3 0M311 558.7a1.1 1.1 0 1 0 2.2 0a1.1 1.1 0 1 0 -2.2 0M314.2 552.5a.8 .8 0 1 0 1.5 0a.8 .8 0 1 0 -1.5 0M325 555.3a1.1 1.1 0 1 0 2.1 0a1.1 1.1 0 1 0 -2.1 0M303.1 552.2a.8 .8 0 1 0 1.6 0a.8 .8 0 1 0 -1.6 0M322.2 559.1a.8 .8 0 1 0 1.7 0a.8 .8 0 1 0 -1.7 0M304.3 560a1.2 1.2 0 1 0 2.5 0a1.2 1.2 0 1 0 -2.5 0M315.8 564.6a.8 .8 0 1 0 1.5 0a.8 .8 0 1 0 -1.5 0M309 553.9a1.3 1.3 0 1 0 2.6 0a1.3 1.3 0 1 0 -2.6 0M314.8 562.3a1.3 1.3 0 1 0 2.6 0a1.3 1.3 0 1 0 -2.6 0M319.2 556.4a.8 .8 0 1 0 1.6 0a.8 .8 0 1 0 -1.6 0M311 562.4a.7 .7 0 1 0 1.5 0a.7 .7 0 1 0 -1.5 0M312.6 567.8a1.1 1.1 0 1 0 2.2 0a1.1 1.1 0 1 0 -2.2 0M314.7 559.3a1 1 0 1 0 1.9 0a1 1 0 1 0 -1.9 0M318.9 553.9a1 1 0 1 0 1.9 0a1 1 0 1 0 -1.9 0M316.6 558.8a1.3 1.3 0 1 0 2.5 0a1.3 1.3 0 1 0 -2.5 0M311.6 571.9a1.3 1.3 0 1 0 2.7 0a1.3 1.3 0 1 0 -2.7 0M309.8 555.2a.8 .8 0 1 0 1.6 0a.8 .8 0 1 0 -1.6 0M316.1 565.1a1.3 1.3 0 1 0 2.5 0a1.3 1.3 0 1 0 -2.5 0M328.3 569.8a1.4 1.4 0 1 0 2.7 0a1.4 1.4 0 1 0 -2.7 0M313.2 570.8a.7 .7 0 1 0 1.4 0a.7 .7 0 1 0 -1.4 0M321.7 559.5a.9 .9 0 1 0 1.7 0a.9 .9 0 1 0 -1.7 0M300.7 555.6a1.2 1.2 0 1 0 2.4 0a1.2 1.2 0 1 0 -2.4 0M306.5 568.7a1 1 0 1 0 2.1 0a1 1 0 1 0 -2.1 0M324 561.6a1.4 1.4 0 1 0 2.9 0a1.4 1.4 0 1 0 -2.9 0M333.7 559.8a.9 .9 0 1 0 1.8 0a.9 .9 0 1 0 -1.8 0M299.6 561.1a.8 .8 0 1 0 1.7 0a.8 .8 0 1 0 -1.7 0M320.3 570.5a.8 .8 0 1 0 1.5 0a.8 .8 0 1 0 -1.5 0M319.7 569a1.3 1.3 0 1 0 2.6 0a1.3 1.3 0 1 0 -2.6 0M320.3 569.1a.7 .7 0 1 0 1.4 0a.7 .7 0 1 0 -1.4 0M320.3 563a1.2 1.2 0 1 0 2.3 0a1.2 1.2 0 1 0 -2.3 0M312.6 558.7a1.3 1.3 0 1 0 2.5 0a1.3 1.3 0 1 0 -2.5 0M316.5 565.5a1.3 1.3 0 1 0 2.6 0a1.3 1.3 0 1 0 -2.6 0M307.3 565.6a.8 .8 0 1 0 1.7 0a.8 .8 0 1 0 -1.7 0M318.7 561.3a1 1 0 1 0 2 0a1 1 0 1 0 -2 0M312.2 565.9a.7 .7 0 1 0 1.4 0a.7 .7 0 1 0 -1.4 0M303.4 568.5a1.2 1.2 0 1 0 2.3 0a1.2 1.2 0 1 0 -2.3 0M311.6 556.5a1.4 1.4 0 1 0 2.8 0a1.4 1.4 0 1 0 -2.8 0M324.8 611.8a1 1 0 1 0 2 0a1 1 0 1 0 -2 0M322.6 605.3a.8 .8 0 1 0 1.5 0a.8 .8 0 1 0 -1.5 0M318.6 605.7a1.1 1.1 0 1 0 2.2 0a1.1 1.1 0 1 0 -2.2 0M320.2 612.9a1.1 1.1 0 1 0 2.2 0a1.1 1.1 0 1 0 -2.2 0M313.4 609.2a.8 .8 0 1 0 1.7 0a.8 .8 0 1 0 -1.7 0M316.7 610.5a1.2 1.2 0 1 0 2.5 0a1.2 1.2 0 1 0 -2.5 0M316.5 617.7a1 1 0 1 0 1.9 0a1 1 0 1 0 -1.9 0M327.6 603.3a1.2 1.2 0 1 0 2.5 0a1.2 1.2 0 1 0 -2.5 0M326.7 606.5a.9 .9 0 1 0 1.8 0a.9 .9 0 1 0 -1.8 0M319.3 614a1 1 0 1 0 1.9 0a1 1 0 1 0 -1.9 0M312.6 612.6a1.2 1.2 0 1 0 2.5 0a1.2 1.2 0 1 0 -2.5 0M318 617a1.1 1.1 0 1 0 2.2 0a1.1 1.1 0 1 0 -2.2 0M321.1 607.6a.9 .9 0 1 0 1.9 0a.9 .9 0 1 0 -1.9 0M320.6 613.9a1.3 1.3 0 1 0 2.7 0a1.3 1.3 0 1 0 -2.7 0M330.3 607.9a1.2 1.2 0 1 0 2.4 0a1.2 1.2 0 1 0 -2.4 0M312.8 615.4a.9 .9 0 1 0 1.9 0a.9 .9 0 1 0 -1.9 0M327.4 614.2a.8 .8 0 1 0 1.6 0a.8 .8 0 1 0 -1.6 0M315 602a1.2 1.2 0 1 0 2.5 0a1.2 1.2 0 1 0 -2.5 0M368.7 618a1.3 1.3 0 1 0 2.5 0a1.3 1.3 0 1 0 -2.5 0M373.5 616.3a1.3 1.3 0 1 0 2.6 0a1.3 1.3 0 1 0 -2.6 0M365.1 617.6a1.1 1.1 0 1 0 2.1 0a1.1 1.1 0 1 0 -2.1 0M372.5 615.6a1.2 1.2 0 1 0 2.3 0a1.2 1.2 0 1 0 -2.3 0M364.5 616.6a.8 .8 0 1 0 1.5 0a.8 .8 0 1 0 -1.5 0M371.1 618a1.3 1.3 0 1 0 2.5 0a1.3 1.3 0 1 0 -2.5 0M372.3 615.1a1.2 1.2 0 1 0 2.5 0a1.2 1.2 0 1 0 -2.5 0M368.2 620.2a1.1 1.1 0 1 0 2.1 0a1.1 1.1 0 1 0 -2.1 0"/>
<path fill="#cacaca" d="M310.4 577.2a1.1 1.1 0 1 0 2.2 0a1.1 1.1 0 1 0 -2.2 0M314.7 575.1a1 1 0 1 0 1.9 0a1 1 0 1 0 -1.9 0M320.4 576a1.1 1.1 0 1 0 2.2 0a1.1 1.1 0 1 0 -2.2 0M345.3 592.5a1.5 1.5 0 1 0 3 0a1.5 1.5 0 1 0 -3 0M349.7 597.3a1.3 1.3 0 1 0 2.7 0a1.3 1.3 0 1 0 -2.7 0M346.7 582.1a1.2 1.2 0 1 0 2.4 0a1.2 1.2 0 1 0 -2.4 0M345.5 592.4a1 1 0 1 0 2 0a1 1 0 1 0 -2 0M344.8 585.3a1.5 1.5 0 1 0 2.9 0a1.5 1.5 0 1 0 -2.9 0M348.5 592.9a1.3 1.3 0 1 0 2.6 0a1.3 1.3 0 1 0 -2.6 0M349.2 589.6a1.4 1.4 0 1 0 2.8 0a1.4 1.4 0 1 0 -2.8 0M349.1 590.9a1 1 0 1 0 2 0a1 1 0 1 0 -2 0M352 589a.9 .9 0 1 0 1.9 0a.9 .9 0 1 0 -1.9 0M348.7 585.4a1.3 1.3 0 1 0 2.5 0a1.3 1.3 0 1 0 -2.5 0M342.3 594.6a1.5 1.5 0 1 0 2.9 0a1.5 1.5 0 1 0 -2.9 0M344.3 584.4a1.2 1.2 0 1 0 2.5 0a1.2 1.2 0 1 0 -2.5 0M347.7 590.8a1 1 0 1 0 2 0a1 1 0 1 0 -2 0M346.7 590.3a.9 .9 0 1 0 1.8 0a.9 .9 0 1 0 -1.8 0M343.3 591.5a1.1 1.1 0 1 0 2.3 0a1.1 1.1 0 1 0 -2.3 0M346.8 591a1.1 1.1 0 1 0 2.2 0a1.1 1.1 0 1 0 -2.2 0M347.7 597.7a1.1 1.1 0 1 0 2.3 0a1.1 1.1 0 1 0 -2.3 0M349.7 585.3a1.1 1.1 0 1 0 2.1 0a1.1 1.1 0 1 0 -2.1 0"/>
<path fill="#cbcbcb" d="M322.8 566.8a1.2 1.2 0 1 0 2.4 0a1.2 1.2 0 1 0 -2.4 0M313.1 570.4a1.3 1.3 0 1 0 2.6 0a1.3 1.3 0 1 0 -2.6 0M316.2 574.3a1.3 1.3 0 1 0 2.6 0a1.3 1.3 0 1 0 -2.6 0M316.5 572.6a1.3 1.3 0 1 0 2.6 0a1.3 1.3 0 1 0 -2.6 0M315.4 573.9a1.3 1.3 0 1 0 2.5 0a1.3 1.3 0 1 0 -2.5 0M315.2 571.7a1.2 1.2 0 1 0 2.5 0a1.2 1.2 0 1 0 -2.5 0M319.9 570.4a1.6 1.6 0 1 0 3.1 0a1.6 1.6 0 1 0 -3.1 0M319.4 573.1a1.3 1.3 0 1 0 2.6 0a1.3 1.3 0 1 0 -2.6 0M372.4 616a2.5 2.5 0 1 0 5.1 0a2.5 2.5 0 1 0 -5.1 0"/>
</g></g>
<clipPath id="cp4"><rect x="411.9" y="548.1" width="84.00" height="84.50"/></clipPath>
<g clip-path="url(#cp4)">
<linearGradient id="lg4" gradientUnits="userSpaceOnUse" x1="411.9" y1="0" x2="495.9" y2="0"><stop offset="0.000" stop-color="#a9a9a9"/><stop offset="1.000" stop-color="#b4b4b4"/></linearGradient>
<rect x="411.9" y="548.1" width="84.00" height="84.50" fill="url(#lg4)"/>
<g filter="url(#soft)">
<path fill="#404040" fill-opacity="0.2" d="M439.2 572.3a1.6 1.6 0 1 0 3.1 0a1.6 1.6 0 1 0 -3.1 0M426.3 585.2a1.6 1.6 0 1 0 3.1 0a1.6 1.6 0 1 0 -3.1 0M453.2 555.6a.9 .9 0 1 0 1.7 0a.9 .9 0 1 0 -1.7 0M433 562.1a1.4 1.4 0 1 0 2.8 0a1.4 1.4 0 1 0 -2.8 0M447.6 560.7a1.7 1.7 0 1 0 3.3 0a1.7 1.7 0 1 0 -3.3 0M452 572.2a1.6 1.6 0 1 0 3.3 0a1.6 1.6 0 1 0 -3.3 0M444.4 571.2a1 1 0 1 0 2 0a1 1 0 1 0 -2 0M455.1 585.6a1.2 1.2 0 1 0 2.5 0a1.2 1.2 0 1 0 -2.5 0M436.6 575.4a1.6 1.6 0 1 0 3.2 0a1.6 1.6 0 1 0 -3.2 0M444.6 568.5a1.5 1.5 0 1 0 2.9 0a1.5 1.5 0 1 0 -2.9 0M436.3 559.7a1 1 0 1 0 2.1 0a1 1 0 1 0 -2.1 0M427.7 576.2a1.1 1.1 0 1 0 2.3 0a1.1 1.1 0 1 0 -2.3 0M435.2 580.8a1.7 1.7 0 1 0 3.3 0a1.7 1.7 0 1 0 -3.3 0M440.9 565.2a.9 .9 0 1 0 1.8 0a.9 .9 0 1 0 -1.8 0M439 571.6a1.6 1.6 0 1 0 3.3 0a1.6 1.6 0 1 0 -3.3 0M441.8 560.3a1.6 1.6 0 1 0 3.2 0a1.6 1.6 0 1 0 -3.2 0M421.7 583.9a1.5 1.5 0 1 0 3.1 0a1.5 1.5 0 1 0 -3.1 0M465.3 576.7a1.4 1.4 0 1 0 2.8 0a1.4 1.4 0 1 0 -2.8 0M449.2 569.4a1.1 1.1 0 1 0 2.1 0a1.1 1.1 0 1 0 -2.1 0M435.7 564.3a1.5 1.5 0 1 0 3.1 0a1.5 1.5 0 1 0 -3.1 0M467.3 560.4a1.2 1.2 0 1 0 2.3 0a1.2 1.2 0 1 0 -2.3 0M454.2 586.6a1.7 1.7 0 1 0 3.4 0a1.7 1.7 0 1 0 -3.4 0M431.3 583a.9 .9 0 1 0 1.9 0a.9 .9 0 1 0 -1.9 0M441.9 579.8a1.5 1.5 0 1 0 3 0a1.5 1.5 0 1 0 -3 0M421.1 579.3a1.6 1.6 0 1 0 3.1 0a1.6 1.6 0 1 0 -3.1 0M425.9 580.8a1.3 1.3 0 1 0 2.5 0a1.3 1.3 0 1 0 -2.5 0M419.7 572.2a1.1 1.1 0 1 0 2.1 0a1.1 1.1 0 1 0 -2.1 0M436.7 580.1a1.6 1.6 0 1 0 3.1 0a1.6 1.6 0 1 0 -3.1 0M473.1 597.9a1.2 1.2 0 1 0 2.4 0a1.2 1.2 0 1 0 -2.4 0M457.5 616.9a1.6 1.6 0 1 0 3.1 0a1.6 1.6 0 1 0 -3.1 0M465.8 630.4a1.4 1.4 0 1 0 2.9 0a1.4 1.4 0 1 0 -2.9 0M465.8 625.4a.9 .9 0 1 0 1.8 0a.9 .9 0 1 0 -1.8 0M492.7 602.6a1.5 1.5 0 1 0 3.1 0a1.5 1.5 0 1 0 -3.1 0M461.4 613.1a1.3 1.3 0 1 0 2.6 0a1.3 1.3 0 1 0 -2.6 0M474.8 610.4a.9 .9 0 1 0 1.7 0a.9 .9 0 1 0 -1.7 0M469.9 617.2a.8 .8 0 1 0 1.6 0a.8 .8 0 1 0 -1.6 0M452.6 629.3a1.3 1.3 0 1 0 2.6 0a1.3 1.3 0 1 0 -2.6 0M439.5 609a1.6 1.6 0 1 0 3.2 0a1.6 1.6 0 1 0 -3.2 0M480.7 591.4a.9 .9 0 1 0 1.8 0a.9 .9 0 1 0 -1.8 0M462.1 623.2a1.1 1.1 0 1 0 2.3 0a1.1 1.1 0 1 0 -2.3 0M462.7 627.8a1.2 1.2 0 1 0 2.3 0a1.2 1.2 0 1 0 -2.3 0M457.4 631.8a1.2 1.2 0 1 0 2.5 0a1.2 1.2 0 1 0 -2.5 0M446.1 609.7a1.2 1.2 0 1 0 2.3 0a1.2 1.2 0 1 0 -2.3 0M456.5 610.3a1.5 1.5 0 1 0 3 0a1.5 1.5 0 1 0 -3 0M478.3 613.4a1.2 1.2 0 1 0 2.4 0a1.2 1.2 0 1 0 -2.4 0M473.4 613.3a1 1 0 1 0 2 0a1 1 0 1 0 -2 0M449.9 602.1a.9 .9 0 1 0 1.8 0a.9 .9 0 1 0 -1.8 0M476.9 614.5a1.6 1.6 0 1 0 3.1 0a1.6 1.6 0 1 0 -3.1 0M454.4 597.5a1.3 1.3 0 1 0 2.7 0a1.3 1.3 0 1 0 -2.7 0M446.1 604.1a.8 .8 0 1 0 1.6 0a.8 .8 0 1 0 -1.6 0M468.2 633.4a1 1 0 1 0 1.9 0a1 1 0 1 0 -1.9 0M441.6 623.3a.9 .9 0 1 0 1.8 0a.9 .9 0 1 0 -1.8 0M460.6 627.1a1.5 1.5 0 1 0 2.9 0a1.5 1.5 0 1 0 -2.9 0M480.7 600.4a1.6 1.6 0 1 0 3.1 0a1.6 1.6 0 1 0 -3.1 0M471.1 591.7a1.3 1.3 0 1 0 2.6 0a1.3 1.3 0 1 0 -2.6 0M493.8 606.5a1.4 1.4 0 1 0 2.9 0a1.4 1.4 0 1 0 -2.9 0M456.6 606.6a1.1 1.1 0 1 0 2.3 0a1.1 1.1 0 1 0 -2.3 0M482.3 633.7a1.4 1.4 0 1 0 2.7 0a1.4 1.4 0 1 0 -2.7 0M454.9 615.6a.9 .9 0 1 0 1.8 0a.9 .9 0 1 0 -1.8 0M476.7 599.3a1.2 1.2 0 1 0 2.4 0a1.2 1.2 0 1 0 -2.4 0M495.3 617.8a1.6 1.6 0 1 0 3.1 0a1.6 1.6 0 1 0 -3.1 0M485.9 618a.9 .9 0 1 0 1.9 0a.9 .9 0 1 0 -1.9 0M456.9 601.3a1.3 1.3 0 1 0 2.7 0a1.3 1.3 0 1 0 -2.7 0M471.4 624.4a1.3 1.3 0 1 0 2.7 0a1.3 1.3 0 1 0 -2.7 0M455.2 614.3a.9 .9 0 1 0 1.8 0a.9 .9 0 1 0 -1.8 0M470.3 589.4a1.2 1.2 0 1 0 2.5 0a1.2 1.2 0 1 0 -2.5 0M448.9 615.2a1 1 0 1 0 1.9 0a1 1 0 1 0 -1.9 0M471.5 605.8a1.4 1.4 0 1 0 2.9 0a1.4 1.4 0 1 0 -2.9 0M447.8 625.1a1.3 1.3 0 1 0 2.5 0a1.3 1.3 0 1 0 -2.5 0M475.2 610a1.4 1.4 0 1 0 2.8 0a1.4 1.4 0 1 0 -2.8 0M455.9 617.1a1.2 1.2 0 1 0 2.3 0a1.2 1.2 0 1 0 -2.3 0M479.4 608.1a1.3 1.3 0 1 0 2.7 0a1.3 1.3 0 1 0 -2.7 0M465.9 620a1.4 1.4 0 1 0 2.8 0a1.4 1.4 0 1 0 -2.8 0M462.9 603.8a1.4 1.4 0 1 0 2.7 0a1.4 1.4 0 1 0 -2.7 0M451.9 615a1.4 1.4 0 1 0 2.8 0a1.4 1.4 0 1 0 -2.8 0M465.4 616.6a1.5 1.5 0 1 0 3.1 0a1.5 1.5 0 1 0 -3.1 0M454.2 611.7a1.6 1.6 0 1 0 3.2 0a1.6 1.6 0 1 0 -3.2 0M462 607.9a1.4 1.4 0 1 0 2.8 0a1.4 1.4 0 1 0 -2.8 0M461 622.8a1.1 1.1 0 1 0 2.3 0a1.1 1.1 0 1 0 -2.3 0M480.3 607.8a1.1 1.1 0 1 0 2.3 0a1.1 1.1 0 1 0 -2.3 0M464.9 618.8a.8 .8 0 1 0 1.6 0a.8 .8 0 1 0 -1.6 0M431.7 614.1a1 1 0 1 0 2.1 0a1 1 0 1 0 -2.1 0M462.7 618.7a.9 .9 0 1 0 1.8 0a.9 .9 0 1 0 -1.8 0M493.5 608a1.4 1.4 0 1 0 2.8 0a1.4 1.4 0 1 0 -2.8 0M448.4 631a1.1 1.1 0 1 0 2.2 0a1.1 1.1 0 1 0 -2.2 0M475 606.4a1.6 1.6 0 1 0 3.1 0a1.6 1.6 0 1 0 -3.1 0M480.2 613.3a1.3 1.3 0 1 0 2.7 0a1.3 1.3 0 1 0 -2.7 0M482.3 619.1a1.1 1.1 0 1 0 2.1 0a1.1 1.1 0 1 0 -2.1 0M449.8 614.2a1 1 0 1 0 1.9 0a1 1 0 1 0 -1.9 0M453.6 623.4a1.1 1.1 0 1 0 2.3 0a1.1 1.1 0 1 0 -2.3 0M478.5 627.7a1 1 0 1 0 2 0a1 1 0 1 0 -2 0M462.3 624.7a1.3 1.3 0 1 0 2.6 0a1.3 1.3 0 1 0 -2.6 0M475.5 619.8a1.5 1.5 0 1 0 3 0a1.5 1.5 0 1 0 -3 0M480.2 625.1a1.6 1.6 0 1 0 3.2 0a1.6 1.6 0 1 0 -3.2 0M463.2 626.4a1 1 0 1 0 2 0a1 1 0 1 0 -2 0M464.2 626.3a1 1 0 1 0 2.1 0a1 1 0 1 0 -2.1 0M479.5 624.6a1 1 0 1 0 2.1 0a1 1 0 1 0 -2.1 0M469.4 628.1a1.6 1.6 0 1 0 3.3 0a1.6 1.6 0 1 0 -3.3 0M469.1 627.3a1 1 0 1 0 2 0a1 1 0 1 0 -2 0M421.2 599.9a1 1 0 1 0 2 0a1 1 0 1 0 -2 0M425.4 612.2a.9 .9 0 1 0 1.8 0a.9 .9 0 1 0 -1.8 0"/>
<path fill="#404040" fill-opacity="0.3" d="M426.3 575.9a1.6 1.6 0 1 0 3.2 0a1.6 1.6 0 1 0 -3.2 0M449.9 569.4a.8 .8 0 1 0 1.6 0a.8 .8 0 1 0 -1.6 0M434.3 560.4a1.5 1.5 0 1 0 3.1 0a1.5 1.5 0 1 0 -3.1 0M442.4 570.3a1.5 1.5 0 1 0 3 0a1.5 1.5 0 1 0 -3 0M456.4 568.1a1 1 0 1 0 2 0a1 1 0 1 0 -2 0M412.4 566.7a1.3 1.3 0 1 0 2.7 0a1.3 1.3 0 1 0 -2.7 0M443.7 559.6a1.3 1.3 0 1 0 2.6 0a1.3 1.3 0 1 0 -2.6 0M436.8 555a.9 .9 0 1 0 1.7 0a.9 .9 0 1 0 -1.7 0M442.1 576.4a1.3 1.3 0 1 0 2.7 0a1.3 1.3 0 1 0 -2.7 0M442.2 567.3a1.1 1.1 0 1 0 2.2 0a1.1 1.1 0 1 0 -2.2 0M449.2 573.6a.8 .8 0 1 0 1.6 0a.8 .8 0 1 0 -1.6 0M426.9 556.2a1.4 1.4 0 1 0 2.8 0a1.4 1.4 0 1 0 -2.8 0M447.5 561a1 1 0 1 0 2.1 0a1 1 0 1 0 -2.1 0M420.1 579.5a1.4 1.4 0 1 0 2.8 0a1.4 1.4 0 1 0 -2.8 0M440.6 568.8a1.5 1.5 0 1 0 3 0a1.5 1.5 0 1 0 -3 0M433.3 579.3a.8 .8 0 1 0 1.6 0a.8 .8 0 1 0 -1.6 0M435.8 572.8a1 1 0 1 0 2.1 0a1 1 0 1 0 -2.1 0M449.4 550.2a1.4 1.4 0 1 0 2.7 0a1.4 1.4 0 1 0 -2.7 0M435 567.3a1.3 1.3 0 1 0 2.5 0a1.3 1.3 0 1 0 -2.5 0M442 577.2a1 1 0 1 0 2 0a1 1 0 1 0 -2 0M457.2 575.1a1.4 1.4 0 1 0 2.9 0a1.4 1.4 0 1 0 -2.9 0M465.1 569.9a1.2 1.2 0 1 0 2.3 0a1.2 1.2 0 1 0 -2.3 0M449 581.7a1.2 1.2 0 1 0 2.4 0a1.2 1.2 0 1 0 -2.4 0M454.8 570.8a1.4 1.4 0 1 0 2.7 0a1.4 1.4 0 1 0 -2.7 0M454.3 566.2a1.5 1.5 0 1 0 2.9 0a1.5 1.5 0 1 0 -2.9 0M455.7 561.7a1.4 1.4 0 1 0 2.7 0a1.4 1.4 0 1 0 -2.7 0M434 546.8a1.2 1.2 0 1 0 2.5 0a1.2 1.2 0 1 0 -2.5 0M462.4 587.3a1.1 1.1 0 1 0 2.1 0a1.1 1.1 0 1 0 -2.1 0M470 580.4a1.1 1.1 0 1 0 2.2 0a1.1 1.1 0 1 0 -2.2 0M450.9 568.9a1.2 1.2 0 1 0 2.5 0a1.2 1.2 0 1 0 -2.5 0M454.7 565.6a.8 .8 0 1 0 1.7 0a.8 .8 0 1 0 -1.7 0M428.5 573.8a.9 .9 0 1 0 1.8 0a.9 .9 0 1 0 -1.8 0M454.9 569.6a1.3 1.3 0 1 0 2.5 0a1.3 1.3 0 1 0 -2.5 0M448.4 567.2a1.6 1.6 0 1 0 3.2 0a1.6 1.6 0 1 0 -3.2 0M422.7 583.3a1.6 1.6 0 1 0 3.3 0a1.6 1.6 0 1 0 -3.3 0M456.5 571.1a1.6 1.6 0 1 0 3.1 0a1.6 1.6 0 1 0 -3.1 0M453.7 580.4a1.1 1.1 0 1 0 2.2 0a1.1 1.1 0 1 0 -2.2 0M423.9 574.5a1.5 1.5 0 1 0 3 0a1.5 1.5 0 1 0 -3 0M441.5 548.3a1.6 1.6 0 1 0 3.1 0a1.6 1.6 0 1 0 -3.1 0M449.2 555.4a1.5 1.5 0 1 0 2.9 0a1.5 1.5 0 1 0 -2.9 0M423.4 575.9a.9 .9 0 1 0 1.8 0a.9 .9 0 1 0 -1.8 0M438.5 565.5a.9 .9 0 1 0 1.8 0a.9 .9 0 1 0 -1.8 0M445.5 562.8a.9 .9 0 1 0 1.8 0a.9 .9 0 1 0 -1.8 0M437.5 578.6a1.7 1.7 0 1 0 3.3 0a1.7 1.7 0 1 0 -3.3 0M428.1 563.4a1.6 1.6 0 1 0 3.2 0a1.6 1.6 0 1 0 -3.2 0M453.7 559.9a1.2 1.2 0 1 0 2.5 0a1.2 1.2 0 1 0 -2.5 0M458.5 587.2a1.2 1.2 0 1 0 2.5 0a1.2 1.2 0 1 0 -2.5 0M418.9 561.2a1.5 1.5 0 1 0 3.1 0a1.5 1.5 0 1 0 -3.1 0M439.6 564.3a1.5 1.5 0 1 0 3 0a1.5 1.5 0 1 0 -3 0M455 575.9a1.6 1.6 0 1 0 3.1 0a1.6 1.6 0 1 0 -3.1 0M456.2 584.8a1 1 0 1 0 1.9 0a1 1 0 1 0 -1.9 0M438.7 565.1a1.1 1.1 0 1 0 2.2 0a1.1 1.1 0 1 0 -2.2 0M439.4 584.6a1.3 1.3 0 1 0 2.6 0a1.3 1.3 0 1 0 -2.6 0M463.4 568.6a1.3 1.3 0 1 0 2.6 0a1.3 1.3 0 1 0 -2.6 0M433.2 580.1a.9 .9 0 1 0 1.9 0a.9 .9 0 1 0 -1.9 0M424.4 569.6a1.1 1.1 0 1 0 2.3 0a1.1 1.1 0 1 0 -2.3 0M411.8 569.8a1.2 1.2 0 1 0 2.3 0a1.2 1.2 0 1 0 -2.3 0M421.5 571.5a.9 .9 0 1 0 1.8 0a.9 .9 0 1 0 -1.8 0M421.4 558.2a1.4 1.4 0 1 0 2.9 0a1.4 1.4 0 1 0 -2.9 0M440 581.4a1.1 1.1 0 1 0 2.1 0a1.1 1.1 0 1 0 -2.1 0M449.5 592a.9 .9 0 1 0 1.8 0a.9 .9 0 1 0 -1.8 0M481.1 594.5a1.1 1.1 0 1 0 2.2 0a1.1 1.1 0 1 0 -2.2 0M471.5 608.1a.9 .9 0 1 0 1.7 0a.9 .9 0 1 0 -1.7 0M462.9 598.3a1 1 0 1 0 2.1 0a1 1 0 1 0 -2.1 0M471.5 612.6a1.5 1.5 0 1 0 3.1 0a1.5 1.5 0 1 0 -3.1 0M441.7 596.2a.9 .9 0 1 0 1.7 0a.9 .9 0 1 0 -1.7 0M458.6 601.1a.8 .8 0 1 0 1.7 0a.8 .8 0 1 0 -1.7 0M459.9 623.2a1.4 1.4 0 1 0 2.8 0a1.4 1.4 0 1 0 -2.8 0M441.5 611.3a1.1 1.1 0 1 0 2.2 0a1.1 1.1 0 1 0 -2.2 0M477 618.3a.8 .8 0 1 0 1.6 0a.8 .8 0 1 0 -1.6 0M468.2 612.1a1.6 1.6 0 1 0 3.1 0a1.6 1.6 0 1 0 -3.1 0M456.6 621.3a1.3 1.3 0 1 0 2.6 0a1.3 1.3 0 1 0 -2.6 0M479.2 613.6a1.2 1.2 0 1 0 2.5 0a1.2 1.2 0 1 0 -2.5 0M465.5 598.1a1.2 1.2 0 1 0 2.3 0a1.2 1.2 0 1 0 -2.3 0M471.3 634.7a1.4 1.4 0 1 0 2.8 0a1.4 1.4 0 1 0 -2.8 0M453.9 606.2a1.6 1.6 0 1 0 3.1 0a1.6 1.6 0 1 0 -3.1 0M448.3 626.2a1.1 1.1 0 1 0 2.2 0a1.1 1.1 0 1 0 -2.2 0M438.3 602.7a1.6 1.6 0 1 0 3.2 0a1.6 1.6 0 1 0 -3.2 0M435.5 616.3a1 1 0 1 0 2 0a1 1 0 1 0 -2 0M471 620.4a1 1 0 1 0 2 0a1 1 0 1 0 -2 0M445.7 619.4a1.2 1.2 0 1 0 2.3 0a1.2 1.2 0 1 0 -2.3 0M460.5 622.7a1.6 1.6 0 1 0 3.2 0a1.6 1.6 0 1 0 -3.2 0M458.7 605.1a.9 .9 0 1 0 1.9 0a.9 .9 0 1 0 -1.9 0M433.6 609.8a1.3 1.3 0 1 0 2.6 0a1.3 1.3 0 1 0 -2.6 0M457.9 631.4a1 1 0 1 0 2.1 0a1 1 0 1 0 -2.1 0M452.9 600.3a.9 .9 0 1 0 1.8 0a.9 .9 0 1 0 -1.8 0M481 609.5a1.5 1.5 0 1 0 3 0a1.5 1.5 0 1 0 -3 0M466.2 612.7a1.1 1.1 0 1 0 2.2 0a1.1 1.1 0 1 0 -2.2 0M473.4 632.4a1.5 1.5 0 1 0 2.9 0a1.5 1.5 0 1 0 -2.9 0M450.4 618.1a1.1 1.1 0 1 0 2.1 0a1.1 1.1 0 1 0 -2.1 0M472.5 607.6a1.5 1.5 0 1 0 2.9 0a1.5 1.5 0 1 0 -2.9 0M464.7 603.2a1.5 1.5 0 1 0 3.1 0a1.5 1.5 0 1 0 -3.1 0M475.6 630.9a1 1 0 1 0 2 0a1 1 0 1 0 -2 0M492.4 612.5a1.5 1.5 0 1 0 2.9 0a1.5 1.5 0 1 0 -2.9 0M457.7 612a.9 .9 0 1 0 1.8 0a.9 .9 0 1 0 -1.8 0M463 617.7a1.3 1.3 0 1 0 2.5 0a1.3 1.3 0 1 0 -2.5 0M469.2 611.1a1.5 1.5 0 1 0 3 0a1.5 1.5 0 1 0 -3 0M461.3 626.5a1.2 1.2 0 1 0 2.4 0a1.2 1.2 0 1 0 -2.4 0M489.5 607.2a1.2 1.2 0 1 0 2.3 0a1.2 1.2 0 1 0 -2.3 0M496.7 610.7a.9 .9 0 1 0 1.9 0a.9 .9 0 1 0 -1.9 0M474.6 609.4a1.4 1.4 0 1 0 2.8 0a1.4 1.4 0 1 0 -2.8 0M457.4 608.8a1.3 1.3 0 1 0 2.6 0a1.3 1.3 0 1 0 -2.6 0M477.5 616a1.6 1.6 0 1 0 3.2 0a1.6 1.6 0 1 0 -3.2 0M463 613.5a.9 .9 0 1 0 1.8 0a.9 .9 0 1 0 -1.8 0M453.7 623.3a1.5 1.5 0 1 0 3 0a1.5 1.5 0 1 0 -3 0M462.8 616.1a1 1 0 1 0 2 0a1 1 0 1 0 -2 0M460.7 602a.9 .9 0 1 0 1.9 0a.9 .9 0 1 0 -1.9 0M455.8 614.9a1.1 1.1 0 1 0 2.3 0a1.1 1.1 0 1 0 -2.3 0M458.1 623.6a1.4 1.4 0 1 0 2.9 0a1.4 1.4 0 1 0 -2.9 0M462.3 596.5a1.4 1.4 0 1 0 2.8 0a1.4 1.4 0 1 0 -2.8 0M450.7 599.3a1.3 1.3 0 1 0 2.7 0a1.3 1.3 0 1 0 -2.7 0M458.3 619.9a1 1 0 1 0 2.1 0a1 1 0 1 0 -2.1 0M465.3 607a1.5 1.5 0 1 0 3 0a1.5 1.5 0 1 0 -3 0M465.9 608.1a1.4 1.4 0 1 0 2.9 0a1.4 1.4 0 1 0 -2.9 0M456 609.9a1.4 1.4 0 1 0 2.8 0a1.4 1.4 0 1 0 -2.8 0M444.3 606.1a.9 .9 0 1 0 1.8 0a.9 .9 0 1 0 -1.8 0M457.4 616.6a.8 .8 0 1 0 1.6 0a.8 .8 0 1 0 -1.6 0M480 605.4a1.6 1.6 0 1 0 3.2 0a1.6 1.6 0 1 0 -3.2 0M461.6 605.9a1 1 0 1 0 1.9 0a1 1 0 1 0 -1.9 0M465.2 619.6a1 1 0 1 0 2 0a1 1 0 1 0 -2 0M449.8 620.7a1.2 1.2 0 1 0 2.3 0a1.2 1.2 0 1 0 -2.3 0M465.6 622.9a1.4 1.4 0 1 0 2.7 0a1.4 1.4 0 1 0 -2.7 0M481.1 623.2a1.2 1.2 0 1 0 2.4 0a1.2 1.2 0 1 0 -2.4 0M477.1 613.5a1.5 1.5 0 1 0 2.9 0a1.5 1.5 0 1 0 -2.9 0M454.8 600.1a1.3 1.3 0 1 0 2.7 0a1.3 1.3 0 1 0 -2.7 0M471.3 599.3a1 1 0 1 0 2 0a1 1 0 1 0 -2 0M479.5 633.6a1.1 1.1 0 1 0 2.2 0a1.1 1.1 0 1 0 -2.2 0M458.1 619.8a1.6 1.6 0 1 0 3.2 0a1.6 1.6 0 1 0 -3.2 0M469.5 601.7a1.6 1.6 0 1 0 3.1 0a1.6 1.6 0 1 0 -3.1 0M458.8 604.3a1.2 1.2 0 1 0 2.5 0a1.2 1.2 0 1 0 -2.5 0M452 599.7a.9 .9 0 1 0 1.7 0a.9 .9 0 1 0 -1.7 0M485.5 615.5a1.5 1.5 0 1 0 3 0a1.5 1.5 0 1 0 -3 0M476.7 617.3a1.3 1.3 0 1 0 2.6 0a1.3 1.3 0 1 0 -2.6 0M461 610.5a1.5 1.5 0 1 0 3 0a1.5 1.5 0 1 0 -3 0M460.8 608.7a1.1 1.1 0 1 0 2.1 0a1.1 1.1 0 1 0 -2.1 0M478.4 616.3a.9 .9 0 1 0 1.8 0a.9 .9 0 1 0 -1.8 0M496.4 622.3a1.5 1.5 0 1 0 3 0a1.5 1.5 0 1 0 -3 0M475.2 614.5a1.6 1.6 0 1 0 3.1 0a1.6 1.6 0 1 0 -3.1 0M450.5 614.2a1.5 1.5 0 1 0 3.1 0a1.5 1.5 0 1 0 -3.1 0M465.1 624.7a1.1 1.1 0 1 0 2.3 0a1.1 1.1 0 1 0 -2.3 0M449.8 616.5a1.2 1.2 0 1 0 2.3 0a1.2 1.2 0 1 0 -2.3 0M438.7 623.6a1.6 1.6 0 1 0 3.2 0a1.6 1.6 0 1 0 -3.2 0M483.6 617.4a1.2 1.2 0 1 0 2.4 0a1.2 1.2 0 1 0 -2.4 0M457.7 607.6a1.5 1.5 0 1 0 2.9 0a1.5 1.5 0 1 0 -2.9 0M451.6 620.3a1.1 1.1 0 1 0 2.2 0a1.1 1.1 0 1 0 -2.2 0M459.5 631.7a1.7 1.7 0 1 0 3.3 0a1.7 1.7 0 1 0 -3.3 0M455.2 629.9a1 1 0 1 0 1.9 0a1 1 0 1 0 -1.9 0M454.8 619.9a1.3 1.3 0 1 0 2.7 0a1.3 1.3 0 1 0 -2.7 0M447.1 622.2a1.4 1.4 0 1 0 2.9 0a1.4 1.4 0 1 0 -2.9 0M483.3 621.8a1.4 1.4 0 1 0 2.9 0a1.4 1.4 0 1 0 -2.9 0M473.8 627.7a1.2 1.2 0 1 0 2.5 0a1.2 1.2 0 1 0 -2.5 0M453.6 625.4a1.1 1.1 0 1 0 2.1 0a1.1 1.1 0 1 0 -2.1 0M481.3 619.9a1.5 1.5 0 1 0 3 0a1.5 1.5 0 1 0 -3 0M474.7 628a1.6 1.6 0 1 0 3.2 0a1.6 1.6 0 1 0 -3.2 0M486.3 623.6a1 1 0 1 0 2 0a1 1 0 1 0 -2 0M466.6 633.4a1.1 1.1 0 1 0 2.3 0a1.1 1.1 0 1 0 -2.3 0M464.8 625.7a1.6 1.6 0 1 0 3.2 0a1.6 1.6 0 1 0 -3.2 0M466.2 625.6a1.6 1.6 0 1 0 3.2 0a1.6 1.6 0 1 0 -3.2 0M453.2 623.4a1.1 1.1 0 1 0 2.1 0a1.1 1.1 0 1 0 -2.1 0M468.5 624.2a1.3 1.3 0 1 0 2.5 0a1.3 1.3 0 1 0 -2.5 0M482.6 625.8a1.2 1.2 0 1 0 2.4 0a1.2 1.2 0 1 0 -2.4 0M478.1 630.6a1.2 1.2 0 1 0 2.3 0a1.2 1.2 0 1 0 -2.3 0M477.5 624.7a1.5 1.5 0 1 0 2.9 0a1.5 1.5 0 1 0 -2.9 0M476.5 630.1a1.5 1.5 0 1 0 3 0a1.5 1.5 0 1 0 -3 0M462.8 627.1a1 1 0 1 0 2.1 0a1 1 0 1 0 -2.1 0M457.3 624.6a1.4 1.4 0 1 0 2.7 0a1.4 1.4 0 1 0 -2.7 0M487 627.1a1.3 1.3 0 1 0 2.5 0a1.3 1.3 0 1 0 -2.5 0M479.2 628.5a.9 .9 0 1 0 1.8 0a.9 .9 0 1 0 -1.8 0M453.8 626.3a1.1 1.1 0 1 0 2.2 0a1.1 1.1 0 1 0 -2.2 0M461 618.9a1.5 1.5 0 1 0 2.9 0a1.5 1.5 0 1 0 -2.9 0M460.9 622.1a1.7 1.7 0 1 0 3.4 0a1.7 1.7 0 1 0 -3.4 0M465.9 631.8a1.5 1.5 0 1 0 3 0a1.5 1.5 0 1 0 -3 0M474.8 626.9a1.2 1.2 0 1 0 2.3 0a1.2 1.2 0 1 0 -2.3 0M439 601a1.8 1.8 0 1 0 3.6 0a1.8 1.8 0 1 0 -3.6 0M439 602.2a1.6 1.6 0 1 0 3.1 0a1.6 1.6 0 1 0 -3.1 0M440.5 600.9a1.2 1.2 0 1 0 2.4 0a1.2 1.2 0 1 0 -2.4 0M422.7 607.4a1.4 1.4 0 1 0 2.9 0a1.4 1.4 0 1 0 -2.9 0M417.3 595.2a1 1 0 1 0 2 0a1 1 0 1 0 -2 0M416.2 620a.9 .9 0 1 0 1.9 0a.9 .9 0 1 0 -1.9 0M422.9 623.7a1.1 1.1 0 1 0 2.2 0a1.1 1.1 0 1 0 -2.2 0M422.4 609.3a1.1 1.1 0 1 0 2.2 0a1.1 1.1 0 1 0 -2.2 0M421.2 621.4a.8 .8 0 1 0 1.6 0a.8 .8 0 1 0 -1.6 0"/>
<path fill="#404040" fill-opacity="0.4" d="M465 567.3a1.1 1.1 0 1 0 2.3 0a1.1 1.1 0 1 0 -2.3 0M447.8 570.6a1.7 1.7 0 1 0 3.3 0a1.7 1.7 0 1 0 -3.3 0M446.1 567.8a1.1 1.1 0 1 0 2.3 0a1.1 1.1 0 1 0 -2.3 0M446.7 576.3a1 1 0 1 0 2 0a1 1 0 1 0 -2 0M449 557.6a.8 .8 0 1 0 1.7 0a.8 .8 0 1 0 -1.7 0M431.7 566.4a1.2 1.2 0 1 0 2.4 0a1.2 1.2 0 1 0 -2.4 0M437 564.5a1 1 0 1 0 1.9 0a1 1 0 1 0 -1.9 0M438.6 585a1.4 1.4 0 1 0 2.7 0a1.4 1.4 0 1 0 -2.7 0M439.6 577.5a1.2 1.2 0 1 0 2.3 0a1.2 1.2 0 1 0 -2.3 0M421.7 574.2a1.6 1.6 0 1 0 3.2 0a1.6 1.6 0 1 0 -3.2 0M433.9 579.9a1.6 1.6 0 1 0 3.2 0a1.6 1.6 0 1 0 -3.2 0M462.7 562.1a1.5 1.5 0 1 0 3 0a1.5 1.5 0 1 0 -3 0M441.1 551.7a1.2 1.2 0 1 0 2.4 0a1.2 1.2 0 1 0 -2.4 0M421.1 568.3a1.1 1.1 0 1 0 2.2 0a1.1 1.1 0 1 0 -2.2 0M432.8 583a1.5 1.5 0 1 0 3.1 0a1.5 1.5 0 1 0 -3.1 0M444.5 569.7a.9 .9 0 1 0 1.7 0a.9 .9 0 1 0 -1.7 0M450 565.5a1.2 1.2 0 1 0 2.4 0a1.2 1.2 0 1 0 -2.4 0M412.4 575.5a1.2 1.2 0 1 0 2.5 0a1.2 1.2 0 1 0 -2.5 0M454.8 559.5a1.1 1.1 0 1 0 2.3 0a1.1 1.1 0 1 0 -2.3 0M440.1 575.5a1.6 1.6 0 1 0 3.1 0a1.6 1.6 0 1 0 -3.1 0M428.1 556a1.1 1.1 0 1 0 2.2 0a1.1 1.1 0 1 0 -2.2 0M427.9 553.2a1.1 1.1 0 1 0 2.2 0a1.1 1.1 0 1 0 -2.2 0M444.6 569.1a1.5 1.5 0 1 0 3 0a1.5 1.5 0 1 0 -3 0M436.6 558.2a1.6 1.6 0 1 0 3.3 0a1.6 1.6 0 1 0 -3.3 0M444.3 571.1a1.5 1.5 0 1 0 3 0a1.5 1.5 0 1 0 -3 0M460.8 566.6a1.5 1.5 0 1 0 3 0a1.5 1.5 0 1 0 -3 0M427.9 556.8a1.6 1.6 0 1 0 3.2 0a1.6 1.6 0 1 0 -3.2 0M446.6 554.9a.8 .8 0 1 0 1.6 0a.8 .8 0 1 0 -1.6 0M441.5 575.4a1.4 1.4 0 1 0 2.8 0a1.4 1.4 0 1 0 -2.8 0M442.2 562.9a1.4 1.4 0 1 0 2.7 0a1.4 1.4 0 1 0 -2.7 0M437.9 561.9a1.4 1.4 0 1 0 2.9 0a1.4 1.4 0 1 0 -2.9 0M432.2 564.7a1.6 1.6 0 1 0 3.1 0a1.6 1.6 0 1 0 -3.1 0M435.3 557.6a1.6 1.6 0 1 0 3.1 0a1.6 1.6 0 1 0 -3.1 0M448.5 569.4a1.4 1.4 0 1 0 2.8 0a1.4 1.4 0 1 0 -2.8 0M435.3 561.4a1 1 0 1 0 2 0a1 1 0 1 0 -2 0M441.3 564.7a1.1 1.1 0 1 0 2.1 0a1.1 1.1 0 1 0 -2.1 0M445.2 560.6a1 1 0 1 0 1.9 0a1 1 0 1 0 -1.9 0M440.5 550.4a1.2 1.2 0 1 0 2.3 0a1.2 1.2 0 1 0 -2.3 0M431.9 571.6a1.4 1.4 0 1 0 2.8 0a1.4 1.4 0 1 0 -2.8 0M448 572.7a1.3 1.3 0 1 0 2.5 0a1.3 1.3 0 1 0 -2.5 0M420.8 553.3a1.6 1.6 0 1 0 3.2 0a1.6 1.6 0 1 0 -3.2 0M446.6 570.3a1.4 1.4 0 1 0 2.9 0a1.4 1.4 0 1 0 -2.9 0M453.8 562.4a1.5 1.5 0 1 0 3.1 0a1.5 1.5 0 1 0 -3.1 0M452.6 574.8a1.2 1.2 0 1 0 2.3 0a1.2 1.2 0 1 0 -2.3 0M445.1 569.4a1.2 1.2 0 1 0 2.3 0a1.2 1.2 0 1 0 -2.3 0M441.5 550.6a1.3 1.3 0 1 0 2.5 0a1.3 1.3 0 1 0 -2.5 0M434.4 582.1a1 1 0 1 0 1.9 0a1 1 0 1 0 -1.9 0M453.3 568.7a1 1 0 1 0 2.1 0a1 1 0 1 0 -2.1 0M416.9 561.1a1.4 1.4 0 1 0 2.7 0a1.4 1.4 0 1 0 -2.7 0M455.5 570.1a1.4 1.4 0 1 0 2.8 0a1.4 1.4 0 1 0 -2.8 0M435.2 585.2a1.3 1.3 0 1 0 2.6 0a1.3 1.3 0 1 0 -2.6 0M440.3 564.2a1 1 0 1 0 2 0a1 1 0 1 0 -2 0M459.2 570.7a1.2 1.2 0 1 0 2.4 0a1.2 1.2 0 1 0 -2.4 0M430.9 563.1a1.4 1.4 0 1 0 2.8 0a1.4 1.4 0 1 0 -2.8 0M441.5 567.3a.9 .9 0 1 0 1.7 0a.9 .9 0 1 0 -1.7 0M457.2 563.7a.9 .9 0 1 0 1.7 0a.9 .9 0 1 0 -1.7 0M462.6 572.1a.8 .8 0 1 0 1.6 0a.8 .8 0 1 0 -1.6 0M424.1 557.8a1.1 1.1 0 1 0 2.3 0a1.1 1.1 0 1 0 -2.3 0M446.6 568.4a1.6 1.6 0 1 0 3.2 0a1.6 1.6 0 1 0 -3.2 0M443.8 559.7a1.5 1.5 0 1 0 3 0a1.5 1.5 0 1 0 -3 0M437.9 570.3a.9 .9 0 1 0 1.7 0a.9 .9 0 1 0 -1.7 0M463.1 561.4a.9 .9 0 1 0 1.9 0a.9 .9 0 1 0 -1.9 0M450 607.6a.9 .9 0 1 0 1.7 0a.9 .9 0 1 0 -1.7 0M446 600.5a1.5 1.5 0 1 0 3.1 0a1.5 1.5 0 1 0 -3.1 0M474.2 622.9a.9 .9 0 1 0 1.8 0a.9 .9 0 1 0 -1.8 0M471.7 614.3a1.3 1.3 0 1 0 2.5 0a1.3 1.3 0 1 0 -2.5 0M463.5 622.6a1 1 0 1 0 1.9 0a1 1 0 1 0 -1.9 0M453.9 609.1a1.4 1.4 0 1 0 2.8 0a1.4 1.4 0 1 0 -2.8 0M463.6 610.4a1 1 0 1 0 2 0a1 1 0 1 0 -2 0M491.6 620.6a1.1 1.1 0 1 0 2.3 0a1.1 1.1 0 1 0 -2.3 0M477.3 626.5a1 1 0 1 0 2.1 0a1 1 0 1 0 -2.1 0M468 627.1a1.4 1.4 0 1 0 2.8 0a1.4 1.4 0 1 0 -2.8 0M445.3 620.8a1.1 1.1 0 1 0 2.2 0a1.1 1.1 0 1 0 -2.2 0M458.5 610.8a1.3 1.3 0 1 0 2.7 0a1.3 1.3 0 1 0 -2.7 0M466.3 611.9a.9 .9 0 1 0 1.8 0a.9 .9 0 1 0 -1.8 0M483.7 614.6a.9 .9 0 1 0 1.7 0a.9 .9 0 1 0 -1.7 0M463 602.8a1.4 1.4 0 1 0 2.9 0a1.4 1.4 0 1 0 -2.9 0M459.3 599a1 1 0 1 0 1.9 0a1 1 0 1 0 -1.9 0M478.3 616.9a1.2 1.2 0 1 0 2.4 0a1.2 1.2 0 1 0 -2.4 0M463.3 613.7a1.4 1.4 0 1 0 2.9 0a1.4 1.4 0 1 0 -2.9 0M466.1 627.4a1.2 1.2 0 1 0 2.4 0a1.2 1.2 0 1 0 -2.4 0M472.2 624.7a1.2 1.2 0 1 0 2.3 0a1.2 1.2 0 1 0 -2.3 0M472.5 609.3a1.1 1.1 0 1 0 2.2 0a1.1 1.1 0 1 0 -2.2 0M452.3 612.9a.9 .9 0 1 0 1.9 0a.9 .9 0 1 0 -1.9 0M467.6 615.9a1.2 1.2 0 1 0 2.3 0a1.2 1.2 0 1 0 -2.3 0M458.8 608.6a1.4 1.4 0 1 0 2.8 0a1.4 1.4 0 1 0 -2.8 0M471.4 614.3a.9 .9 0 1 0 1.9 0a.9 .9 0 1 0 -1.9 0M478.5 618.6a1.3 1.3 0 1 0 2.5 0a1.3 1.3 0 1 0 -2.5 0M462.3 611.9a.8 .8 0 1 0 1.6 0a.8 .8 0 1 0 -1.6 0M480.9 622.4a1.3 1.3 0 1 0 2.5 0a1.3 1.3 0 1 0 -2.5 0M480 611.3a1.1 1.1 0 1 0 2.3 0a1.1 1.1 0 1 0 -2.3 0M438.1 610.2a1.4 1.4 0 1 0 2.9 0a1.4 1.4 0 1 0 -2.9 0M475.5 607.9a1.1 1.1 0 1 0 2.2 0a1.1 1.1 0 1 0 -2.2 0M456 614.5a.9 .9 0 1 0 1.8 0a.9 .9 0 1 0 -1.8 0M463.3 619.4a.9 .9 0 1 0 1.8 0a.9 .9 0 1 0 -1.8 0M461.7 631.3a1.1 1.1 0 1 0 2.2 0a1.1 1.1 0 1 0 -2.2 0M464.1 629a1.7 1.7 0 1 0 3.3 0a1.7 1.7 0 1 0 -3.3 0M468.3 628.5a1.7 1.7 0 1 0 3.3 0a1.7 1.7 0 1 0 -3.3 0M471.6 620.9a1 1 0 1 0 2 0a1 1 0 1 0 -2 0M467.8 624.4a1.1 1.1 0 1 0 2.3 0a1.1 1.1 0 1 0 -2.3 0M465.5 628.2a1.4 1.4 0 1 0 2.9 0a1.4 1.4 0 1 0 -2.9 0M475.1 630.2a1.4 1.4 0 1 0 2.9 0a1.4 1.4 0 1 0 -2.9 0M473.8 626.9a1 1 0 1 0 2 0a1 1 0 1 0 -2 0M460.2 621.9a1.5 1.5 0 1 0 3 0a1.5 1.5 0 1 0 -3 0M475.5 630.2a1.5 1.5 0 1 0 3 0a1.5 1.5 0 1 0 -3 0M489.8 626a1.1 1.1 0 1 0 2.3 0a1.1 1.1 0 1 0 -2.3 0M471.8 623.8a1.5 1.5 0 1 0 3.1 0a1.5 1.5 0 1 0 -3.1 0M482 619.8a1.3 1.3 0 1 0 2.7 0a1.3 1.3 0 1 0 -2.7 0M436.6 603a1 1 0 1 0 2.1 0a1 1 0 1 0 -2.1 0M487.8 562.7a2.4 2.4 0 1 0 4.8 0a2.4 2.4 0 1 0 -4.8 0M491.8 566.4a1.6 1.6 0 1 0 3.2 0a1.6 1.6 0 1 0 -3.2 0"/>
<path fill="#404040" fill-opacity="0.5" d="M435.1 603a1.5 1.5 0 1 0 3 0a1.5 1.5 0 1 0 -3 0M438.1 601.9a1.3 1.3 0 1 0 2.5 0a1.3 1.3 0 1 0 -2.5 0"/>
<path fill="#fafafa" fill-opacity="0.4" d="M438 600a1.8 1.8 0 1 0 3.6 0a1.8 1.8 0 1 0 -3.6 0M438.1 601.4a1.6 1.6 0 1 0 3.1 0a1.6 1.6 0 1 0 -3.1 0M439.7 600.1a1.2 1.2 0 1 0 2.4 0a1.2 1.2 0 1 0 -2.4 0M421.8 606.6a1.4 1.4 0 1 0 2.9 0a1.4 1.4 0 1 0 -2.9 0M416.5 594.4a1 1 0 1 0 2 0a1 1 0 1 0 -2 0"/>
<path fill="#fafafa" fill-opacity="0.5" d="M425.4 575a1.6 1.6 0 1 0 3.2 0a1.6 1.6 0 1 0 -3.2 0M449.1 568.6a.8 .8 0 1 0 1.6 0a.8 .8 0 1 0 -1.6 0M446.9 569.6a1.7 1.7 0 1 0 3.3 0a1.7 1.7 0 1 0 -3.3 0M445.9 575.5a1 1 0 1 0 2 0a1 1 0 1 0 -2 0M425.4 584.3a1.6 1.6 0 1 0 3.1 0a1.6 1.6 0 1 0 -3.1 0M455.6 567.3a1 1 0 1 0 2 0a1 1 0 1 0 -2 0M420.8 573.3a1.6 1.6 0 1 0 3.2 0a1.6 1.6 0 1 0 -3.2 0M433 579a1.6 1.6 0 1 0 3.2 0a1.6 1.6 0 1 0 -3.2 0M448.4 572.8a.8 .8 0 1 0 1.6 0a.8 .8 0 1 0 -1.6 0M420.3 567.5a1.1 1.1 0 1 0 2.2 0a1.1 1.1 0 1 0 -2.2 0M432 582.1a1.5 1.5 0 1 0 3.1 0a1.5 1.5 0 1 0 -3.1 0M446.7 560.2a1 1 0 1 0 2.1 0a1 1 0 1 0 -2.1 0M419.3 578.7a1.4 1.4 0 1 0 2.8 0a1.4 1.4 0 1 0 -2.8 0M456.4 574.3a1.4 1.4 0 1 0 2.9 0a1.4 1.4 0 1 0 -2.9 0M464.3 569.1a1.2 1.2 0 1 0 2.3 0a1.2 1.2 0 1 0 -2.3 0M435.5 558.9a1 1 0 1 0 2.1 0a1 1 0 1 0 -2.1 0M426.9 575.4a1.1 1.1 0 1 0 2.3 0a1.1 1.1 0 1 0 -2.3 0M469.2 579.6a1.1 1.1 0 1 0 2.2 0a1.1 1.1 0 1 0 -2.2 0M453.9 564.8a.8 .8 0 1 0 1.7 0a.8 .8 0 1 0 -1.7 0M447.6 566.3a1.6 1.6 0 1 0 3.2 0a1.6 1.6 0 1 0 -3.2 0M434.3 579.8a1.7 1.7 0 1 0 3.3 0a1.7 1.7 0 1 0 -3.3 0M440.9 559.4a1.6 1.6 0 1 0 3.2 0a1.6 1.6 0 1 0 -3.2 0M464.5 575.9a1.4 1.4 0 1 0 2.8 0a1.4 1.4 0 1 0 -2.8 0M434.5 560.6a1 1 0 1 0 2 0a1 1 0 1 0 -2 0M434.8 563.5a1.5 1.5 0 1 0 3.1 0a1.5 1.5 0 1 0 -3.1 0M457.7 586.4a1.2 1.2 0 1 0 2.5 0a1.2 1.2 0 1 0 -2.5 0M444.3 568.6a1.2 1.2 0 1 0 2.3 0a1.2 1.2 0 1 0 -2.3 0M452.5 567.9a1 1 0 1 0 2.1 0a1 1 0 1 0 -2.1 0M462.6 567.8a1.3 1.3 0 1 0 2.6 0a1.3 1.3 0 1 0 -2.6 0M411 569a1.2 1.2 0 1 0 2.3 0a1.2 1.2 0 1 0 -2.3 0M430.1 562.3a1.4 1.4 0 1 0 2.8 0a1.4 1.4 0 1 0 -2.8 0M420.7 570.7a.9 .9 0 1 0 1.8 0a.9 .9 0 1 0 -1.8 0M423.3 557a1.1 1.1 0 1 0 2.3 0a1.1 1.1 0 1 0 -2.3 0M442.9 558.9a1.5 1.5 0 1 0 3 0a1.5 1.5 0 1 0 -3 0M462.3 560.6a.9 .9 0 1 0 1.9 0a.9 .9 0 1 0 -1.9 0M435.8 602.2a1 1 0 1 0 2.1 0a1 1 0 1 0 -2.1 0M437.3 601.1a1.3 1.3 0 1 0 2.5 0a1.3 1.3 0 1 0 -2.5 0M420.4 599.1a1 1 0 1 0 2 0a1 1 0 1 0 -2 0M422.1 622.9a1.1 1.1 0 1 0 2.2 0a1.1 1.1 0 1 0 -2.2 0M421.6 608.5a1.1 1.1 0 1 0 2.2 0a1.1 1.1 0 1 0 -2.2 0M420.4 620.6a.8 .8 0 1 0 1.6 0a.8 .8 0 1 0 -1.6 0"/>
<path fill="#fafafa" fill-opacity="0.6" d="M464.2 566.5a1.1 1.1 0 1 0 2.3 0a1.1 1.1 0 1 0 -2.3 0M452.4 554.8a.9 .9 0 1 0 1.7 0a.9 .9 0 1 0 -1.7 0M432.2 561.3a1.4 1.4 0 1 0 2.8 0a1.4 1.4 0 1 0 -2.8 0M437.8 584.2a1.4 1.4 0 1 0 2.7 0a1.4 1.4 0 1 0 -2.7 0M446.7 559.7a1.7 1.7 0 1 0 3.3 0a1.7 1.7 0 1 0 -3.3 0M436 554.2a.9 .9 0 1 0 1.7 0a.9 .9 0 1 0 -1.7 0M461.9 561.2a1.5 1.5 0 1 0 3 0a1.5 1.5 0 1 0 -3 0M440.3 550.9a1.2 1.2 0 1 0 2.4 0a1.2 1.2 0 1 0 -2.4 0M426.1 555.4a1.4 1.4 0 1 0 2.8 0a1.4 1.4 0 1 0 -2.8 0M454 558.7a1.1 1.1 0 1 0 2.3 0a1.1 1.1 0 1 0 -2.3 0M443.6 570.4a1 1 0 1 0 2 0a1 1 0 1 0 -2 0M439.7 568a1.5 1.5 0 1 0 3 0a1.5 1.5 0 1 0 -3 0M448.2 580.9a1.2 1.2 0 1 0 2.4 0a1.2 1.2 0 1 0 -2.4 0M453.5 565.4a1.5 1.5 0 1 0 2.9 0a1.5 1.5 0 1 0 -2.9 0M459.9 565.7a1.5 1.5 0 1 0 3 0a1.5 1.5 0 1 0 -3 0M427 555.9a1.6 1.6 0 1 0 3.2 0a1.6 1.6 0 1 0 -3.2 0M445.8 554.1a.8 .8 0 1 0 1.6 0a.8 .8 0 1 0 -1.6 0M440.7 574.6a1.4 1.4 0 1 0 2.8 0a1.4 1.4 0 1 0 -2.8 0M427.7 573a.9 .9 0 1 0 1.8 0a.9 .9 0 1 0 -1.8 0M441.4 562.1a1.4 1.4 0 1 0 2.7 0a1.4 1.4 0 1 0 -2.7 0M437.1 561.1a1.4 1.4 0 1 0 2.9 0a1.4 1.4 0 1 0 -2.9 0M454.1 568.8a1.3 1.3 0 1 0 2.5 0a1.3 1.3 0 1 0 -2.5 0M431.3 563.8a1.6 1.6 0 1 0 3.1 0a1.6 1.6 0 1 0 -3.1 0M440.1 564.4a.9 .9 0 1 0 1.8 0a.9 .9 0 1 0 -1.8 0M434.4 556.7a1.6 1.6 0 1 0 3.1 0a1.6 1.6 0 1 0 -3.1 0M452.9 579.6a1.1 1.1 0 1 0 2.2 0a1.1 1.1 0 1 0 -2.2 0M448.4 568.6a1.1 1.1 0 1 0 2.1 0a1.1 1.1 0 1 0 -2.1 0M452.9 561.5a1.5 1.5 0 1 0 3.1 0a1.5 1.5 0 1 0 -3.1 0M454.7 569.3a1.4 1.4 0 1 0 2.8 0a1.4 1.4 0 1 0 -2.8 0M423.6 568.8a1.1 1.1 0 1 0 2.3 0a1.1 1.1 0 1 0 -2.3 0M439.5 563.4a1 1 0 1 0 2 0a1 1 0 1 0 -2 0M458.4 569.9a1.2 1.2 0 1 0 2.4 0a1.2 1.2 0 1 0 -2.4 0M440.7 566.5a.9 .9 0 1 0 1.7 0a.9 .9 0 1 0 -1.7 0M461.8 571.3a.8 .8 0 1 0 1.6 0a.8 .8 0 1 0 -1.6 0M445.7 567.5a1.6 1.6 0 1 0 3.2 0a1.6 1.6 0 1 0 -3.2 0M418.9 571.4a1.1 1.1 0 1 0 2.1 0a1.1 1.1 0 1 0 -2.1 0M437.1 569.5a.9 .9 0 1 0 1.7 0a.9 .9 0 1 0 -1.7 0M470.7 607.3a.9 .9 0 1 0 1.7 0a.9 .9 0 1 0 -1.7 0M462.1 597.5a1 1 0 1 0 2.1 0a1 1 0 1 0 -2.1 0M456.6 616.1a1.6 1.6 0 1 0 3.1 0a1.6 1.6 0 1 0 -3.1 0M440.7 610.5a1.1 1.1 0 1 0 2.2 0a1.1 1.1 0 1 0 -2.2 0M462.7 621.8a1 1 0 1 0 1.9 0a1 1 0 1 0 -1.9 0M467.3 611.3a1.6 1.6 0 1 0 3.1 0a1.6 1.6 0 1 0 -3.1 0M491.8 601.7a1.5 1.5 0 1 0 3.1 0a1.5 1.5 0 1 0 -3.1 0M455.8 620.5a1.3 1.3 0 1 0 2.6 0a1.3 1.3 0 1 0 -2.6 0M460.6 612.3a1.3 1.3 0 1 0 2.6 0a1.3 1.3 0 1 0 -2.6 0M469.1 616.4a.8 .8 0 1 0 1.6 0a.8 .8 0 1 0 -1.6 0M444.5 620a1.1 1.1 0 1 0 2.2 0a1.1 1.1 0 1 0 -2.2 0M451.8 628.5a1.3 1.3 0 1 0 2.6 0a1.3 1.3 0 1 0 -2.6 0M434.7 615.5a1 1 0 1 0 2 0a1 1 0 1 0 -2 0M445.3 608.9a1.2 1.2 0 1 0 2.3 0a1.2 1.2 0 1 0 -2.3 0M474.8 630.1a1 1 0 1 0 2 0a1 1 0 1 0 -2 0M472.6 612.5a1 1 0 1 0 2 0a1 1 0 1 0 -2 0M468.3 610.2a1.5 1.5 0 1 0 3 0a1.5 1.5 0 1 0 -3 0M495.9 609.9a.9 .9 0 1 0 1.9 0a.9 .9 0 1 0 -1.9 0M476 613.6a1.6 1.6 0 1 0 3.1 0a1.6 1.6 0 1 0 -3.1 0M467.4 632.6a1 1 0 1 0 1.9 0a1 1 0 1 0 -1.9 0M458.5 598.2a1 1 0 1 0 1.9 0a1 1 0 1 0 -1.9 0M455.8 605.8a1.1 1.1 0 1 0 2.3 0a1.1 1.1 0 1 0 -2.3 0M481.5 632.9a1.4 1.4 0 1 0 2.7 0a1.4 1.4 0 1 0 -2.7 0M457.3 622.8a1.4 1.4 0 1 0 2.9 0a1.4 1.4 0 1 0 -2.9 0M461.5 595.7a1.4 1.4 0 1 0 2.8 0a1.4 1.4 0 1 0 -2.8 0M465.3 626.6a1.2 1.2 0 1 0 2.4 0a1.2 1.2 0 1 0 -2.4 0M475.9 598.5a1.2 1.2 0 1 0 2.4 0a1.2 1.2 0 1 0 -2.4 0M454.4 613.5a.9 .9 0 1 0 1.8 0a.9 .9 0 1 0 -1.8 0M464.4 618.8a1 1 0 1 0 2 0a1 1 0 1 0 -2 0M448.1 614.4a1 1 0 1 0 1.9 0a1 1 0 1 0 -1.9 0M474.4 609.2a1.4 1.4 0 1 0 2.8 0a1.4 1.4 0 1 0 -2.8 0M457.2 618.9a1.6 1.6 0 1 0 3.2 0a1.6 1.6 0 1 0 -3.2 0M460.1 609.6a1.5 1.5 0 1 0 3 0a1.5 1.5 0 1 0 -3 0M495.5 621.4a1.5 1.5 0 1 0 3 0a1.5 1.5 0 1 0 -3 0M449.6 613.3a1.5 1.5 0 1 0 3.1 0a1.5 1.5 0 1 0 -3.1 0M467.4 627.6a1.7 1.7 0 1 0 3.3 0a1.7 1.7 0 1 0 -3.3 0M467 623.6a1.1 1.1 0 1 0 2.3 0a1.1 1.1 0 1 0 -2.3 0M465.8 632.6a1.1 1.1 0 1 0 2.3 0a1.1 1.1 0 1 0 -2.3 0M463.9 624.8a1.6 1.6 0 1 0 3.2 0a1.6 1.6 0 1 0 -3.2 0M465.3 624.7a1.6 1.6 0 1 0 3.2 0a1.6 1.6 0 1 0 -3.2 0M481.8 625a1.2 1.2 0 1 0 2.4 0a1.2 1.2 0 1 0 -2.4 0M475.6 629.2a1.5 1.5 0 1 0 3 0a1.5 1.5 0 1 0 -3 0M462 626.3a1 1 0 1 0 2.1 0a1 1 0 1 0 -2.1 0M468.3 626.5a1 1 0 1 0 2 0a1 1 0 1 0 -2 0M434.2 602.2a1.5 1.5 0 1 0 3 0a1.5 1.5 0 1 0 -3 0M424.6 611.4a.9 .9 0 1 0 1.8 0a.9 .9 0 1 0 -1.8 0M415.4 619.2a.9 .9 0 1 0 1.9 0a.9 .9 0 1 0 -1.9 0M486.4 561.3a2.4 2.4 0 1 0 4.8 0a2.4 2.4 0 1 0 -4.8 0M491 565.6a1.6 1.6 0 1 0 3.2 0a1.6 1.6 0 1 0 -3.2 0"/>
<path fill="#fafafa" fill-opacity="0.7" d="M438.3 571.4a1.6 1.6 0 1 0 3.1 0a1.6 1.6 0 1 0 -3.1 0M445.3 567a1.1 1.1 0 1 0 2.3 0a1.1 1.1 0 1 0 -2.3 0M448.2 556.8a.8 .8 0 1 0 1.7 0a.8 .8 0 1 0 -1.7 0M433.5 559.5a1.5 1.5 0 1 0 3.1 0a1.5 1.5 0 1 0 -3.1 0M441.5 569.4a1.5 1.5 0 1 0 3 0a1.5 1.5 0 1 0 -3 0M436.2 563.7a1 1 0 1 0 1.9 0a1 1 0 1 0 -1.9 0M411.6 565.9a1.3 1.3 0 1 0 2.7 0a1.3 1.3 0 1 0 -2.7 0M438.8 576.7a1.2 1.2 0 1 0 2.3 0a1.2 1.2 0 1 0 -2.3 0M451 571.2a1.6 1.6 0 1 0 3.3 0a1.6 1.6 0 1 0 -3.3 0M441.3 575.6a1.3 1.3 0 1 0 2.7 0a1.3 1.3 0 1 0 -2.7 0M441.4 566.5a1.1 1.1 0 1 0 2.2 0a1.1 1.1 0 1 0 -2.2 0M443.7 568.9a.9 .9 0 1 0 1.7 0a.9 .9 0 1 0 -1.7 0M439.3 574.7a1.6 1.6 0 1 0 3.1 0a1.6 1.6 0 1 0 -3.1 0M427.3 555.2a1.1 1.1 0 1 0 2.2 0a1.1 1.1 0 1 0 -2.2 0M432.5 578.5a.8 .8 0 1 0 1.6 0a.8 .8 0 1 0 -1.6 0M427.1 552.4a1.1 1.1 0 1 0 2.2 0a1.1 1.1 0 1 0 -2.2 0M443.8 568.3a1.5 1.5 0 1 0 3 0a1.5 1.5 0 1 0 -3 0M435.7 574.5a1.6 1.6 0 1 0 3.2 0a1.6 1.6 0 1 0 -3.2 0M443.8 567.7a1.5 1.5 0 1 0 2.9 0a1.5 1.5 0 1 0 -2.9 0M448.6 549.4a1.4 1.4 0 1 0 2.7 0a1.4 1.4 0 1 0 -2.7 0M435.7 557.3a1.6 1.6 0 1 0 3.3 0a1.6 1.6 0 1 0 -3.3 0M454 570a1.4 1.4 0 1 0 2.7 0a1.4 1.4 0 1 0 -2.7 0M443.4 570.3a1.5 1.5 0 1 0 3 0a1.5 1.5 0 1 0 -3 0M450.1 568.1a1.2 1.2 0 1 0 2.5 0a1.2 1.2 0 1 0 -2.5 0M438.1 570.7a1.6 1.6 0 1 0 3.3 0a1.6 1.6 0 1 0 -3.3 0M455.6 570.2a1.6 1.6 0 1 0 3.1 0a1.6 1.6 0 1 0 -3.1 0M447.7 568.6a1.4 1.4 0 1 0 2.8 0a1.4 1.4 0 1 0 -2.8 0M440.6 547.5a1.6 1.6 0 1 0 3.1 0a1.6 1.6 0 1 0 -3.1 0M448.4 554.5a1.5 1.5 0 1 0 2.9 0a1.5 1.5 0 1 0 -2.9 0M422.6 575.1a.9 .9 0 1 0 1.8 0a.9 .9 0 1 0 -1.8 0M440.5 563.9a1.1 1.1 0 1 0 2.1 0a1.1 1.1 0 1 0 -2.1 0M444.4 559.8a1 1 0 1 0 1.9 0a1 1 0 1 0 -1.9 0M439.7 549.6a1.2 1.2 0 1 0 2.3 0a1.2 1.2 0 1 0 -2.3 0M436.6 577.7a1.7 1.7 0 1 0 3.3 0a1.7 1.7 0 1 0 -3.3 0M427.2 562.5a1.6 1.6 0 1 0 3.2 0a1.6 1.6 0 1 0 -3.2 0M431.1 570.8a1.4 1.4 0 1 0 2.8 0a1.4 1.4 0 1 0 -2.8 0M447.2 571.9a1.3 1.3 0 1 0 2.5 0a1.3 1.3 0 1 0 -2.5 0M419.9 552.4a1.6 1.6 0 1 0 3.2 0a1.6 1.6 0 1 0 -3.2 0M445.8 569.5a1.4 1.4 0 1 0 2.9 0a1.4 1.4 0 1 0 -2.9 0M453.2 585.6a1.7 1.7 0 1 0 3.4 0a1.7 1.7 0 1 0 -3.4 0M455.4 584a1 1 0 1 0 1.9 0a1 1 0 1 0 -1.9 0M440.7 549.8a1.3 1.3 0 1 0 2.5 0a1.3 1.3 0 1 0 -2.5 0M433.6 581.3a1 1 0 1 0 1.9 0a1 1 0 1 0 -1.9 0M441.1 578.9a1.5 1.5 0 1 0 3 0a1.5 1.5 0 1 0 -3 0M416.1 560.3a1.4 1.4 0 1 0 2.7 0a1.4 1.4 0 1 0 -2.7 0M434.4 584.4a1.3 1.3 0 1 0 2.6 0a1.3 1.3 0 1 0 -2.6 0M420.2 578.4a1.6 1.6 0 1 0 3.1 0a1.6 1.6 0 1 0 -3.1 0M425.1 580a1.3 1.3 0 1 0 2.5 0a1.3 1.3 0 1 0 -2.5 0M456.4 562.9a.9 .9 0 1 0 1.7 0a.9 .9 0 1 0 -1.7 0M420.5 557.4a1.4 1.4 0 1 0 2.9 0a1.4 1.4 0 1 0 -2.9 0M435.8 579.2a1.6 1.6 0 1 0 3.1 0a1.6 1.6 0 1 0 -3.1 0M439.2 580.6a1.1 1.1 0 1 0 2.1 0a1.1 1.1 0 1 0 -2.1 0M448.7 591.2a.9 .9 0 1 0 1.8 0a.9 .9 0 1 0 -1.8 0M470.7 611.7a1.5 1.5 0 1 0 3.1 0a1.5 1.5 0 1 0 -3.1 0M449.2 606.8a.9 .9 0 1 0 1.7 0a.9 .9 0 1 0 -1.7 0M470.9 613.5a1.3 1.3 0 1 0 2.5 0a1.3 1.3 0 1 0 -2.5 0M478.4 612.8a1.2 1.2 0 1 0 2.5 0a1.2 1.2 0 1 0 -2.5 0M464.7 597.3a1.2 1.2 0 1 0 2.3 0a1.2 1.2 0 1 0 -2.3 0M453.1 608.3a1.4 1.4 0 1 0 2.8 0a1.4 1.4 0 1 0 -2.8 0M490.8 619.8a1.1 1.1 0 1 0 2.3 0a1.1 1.1 0 1 0 -2.3 0M474 609.6a.9 .9 0 1 0 1.7 0a.9 .9 0 1 0 -1.7 0M447.5 625.4a1.1 1.1 0 1 0 2.2 0a1.1 1.1 0 1 0 -2.2 0M437.4 601.8a1.6 1.6 0 1 0 3.2 0a1.6 1.6 0 1 0 -3.2 0M438.6 608.1a1.6 1.6 0 1 0 3.2 0a1.6 1.6 0 1 0 -3.2 0M479.9 590.6a.9 .9 0 1 0 1.8 0a.9 .9 0 1 0 -1.8 0M461.3 622.4a1.1 1.1 0 1 0 2.3 0a1.1 1.1 0 1 0 -2.3 0M480.2 608.7a1.5 1.5 0 1 0 3 0a1.5 1.5 0 1 0 -3 0M456.6 631a1.2 1.2 0 1 0 2.5 0a1.2 1.2 0 1 0 -2.5 0M465.4 611.9a1.1 1.1 0 1 0 2.2 0a1.1 1.1 0 1 0 -2.2 0M455.7 609.5a1.5 1.5 0 1 0 3 0a1.5 1.5 0 1 0 -3 0M463.8 602.4a1.5 1.5 0 1 0 3.1 0a1.5 1.5 0 1 0 -3.1 0M456.9 611.2a.9 .9 0 1 0 1.8 0a.9 .9 0 1 0 -1.8 0M482.9 613.8a.9 .9 0 1 0 1.7 0a.9 .9 0 1 0 -1.7 0M462.2 616.9a1.3 1.3 0 1 0 2.5 0a1.3 1.3 0 1 0 -2.5 0M460.5 625.7a1.2 1.2 0 1 0 2.4 0a1.2 1.2 0 1 0 -2.4 0M488.7 606.4a1.2 1.2 0 1 0 2.3 0a1.2 1.2 0 1 0 -2.3 0M476.7 615.1a1.6 1.6 0 1 0 3.2 0a1.6 1.6 0 1 0 -3.2 0M452.8 622.5a1.5 1.5 0 1 0 3 0a1.5 1.5 0 1 0 -3 0M449.9 598.5a1.3 1.3 0 1 0 2.7 0a1.3 1.3 0 1 0 -2.7 0M471.7 608.5a1.1 1.1 0 1 0 2.2 0a1.1 1.1 0 1 0 -2.2 0M451.5 612.1a.9 .9 0 1 0 1.9 0a.9 .9 0 1 0 -1.9 0M456.6 615.8a.8 .8 0 1 0 1.6 0a.8 .8 0 1 0 -1.6 0M470.6 613.5a.9 .9 0 1 0 1.9 0a.9 .9 0 1 0 -1.9 0M470.7 605a1.4 1.4 0 1 0 2.9 0a1.4 1.4 0 1 0 -2.9 0M447 624.3a1.3 1.3 0 1 0 2.5 0a1.3 1.3 0 1 0 -2.5 0M477.7 617.8a1.3 1.3 0 1 0 2.5 0a1.3 1.3 0 1 0 -2.5 0M470.5 598.5a1 1 0 1 0 2 0a1 1 0 1 0 -2 0M478.6 607.3a1.3 1.3 0 1 0 2.7 0a1.3 1.3 0 1 0 -2.7 0M451.2 598.9a.9 .9 0 1 0 1.7 0a.9 .9 0 1 0 -1.7 0M465.1 619.2a1.4 1.4 0 1 0 2.8 0a1.4 1.4 0 1 0 -2.8 0M464.5 615.8a1.5 1.5 0 1 0 3.1 0a1.5 1.5 0 1 0 -3.1 0M464.3 623.9a1.1 1.1 0 1 0 2.3 0a1.1 1.1 0 1 0 -2.3 0M474.1 605.5a1.6 1.6 0 1 0 3.1 0a1.6 1.6 0 1 0 -3.1 0M452.8 622.6a1.1 1.1 0 1 0 2.3 0a1.1 1.1 0 1 0 -2.3 0M474.6 619a1.5 1.5 0 1 0 3 0a1.5 1.5 0 1 0 -3 0M482.5 621a1.4 1.4 0 1 0 2.9 0a1.4 1.4 0 1 0 -2.9 0M452.8 624.6a1.1 1.1 0 1 0 2.1 0a1.1 1.1 0 1 0 -2.1 0M463.4 625.5a1 1 0 1 0 2.1 0a1 1 0 1 0 -2.1 0M473 626.1a1 1 0 1 0 2 0a1 1 0 1 0 -2 0M459.4 621a1.5 1.5 0 1 0 3 0a1.5 1.5 0 1 0 -3 0M486.2 626.3a1.3 1.3 0 1 0 2.5 0a1.3 1.3 0 1 0 -2.5 0M468.5 627.2a1.6 1.6 0 1 0 3.3 0a1.6 1.6 0 1 0 -3.3 0M465 631a1.5 1.5 0 1 0 3 0a1.5 1.5 0 1 0 -3 0M474 626.1a1.2 1.2 0 1 0 2.3 0a1.2 1.2 0 1 0 -2.3 0"/>
<path fill="#fafafa" fill-opacity="0.8" d="M430.9 565.6a1.2 1.2 0 1 0 2.4 0a1.2 1.2 0 1 0 -2.4 0M442.9 558.8a1.3 1.3 0 1 0 2.6 0a1.3 1.3 0 1 0 -2.6 0M449.2 564.7a1.2 1.2 0 1 0 2.4 0a1.2 1.2 0 1 0 -2.4 0M411.6 574.7a1.2 1.2 0 1 0 2.5 0a1.2 1.2 0 1 0 -2.5 0M454.3 584.8a1.2 1.2 0 1 0 2.5 0a1.2 1.2 0 1 0 -2.5 0M435 572a1 1 0 1 0 2.1 0a1 1 0 1 0 -2.1 0M434.2 566.5a1.3 1.3 0 1 0 2.5 0a1.3 1.3 0 1 0 -2.5 0M441.2 576.4a1 1 0 1 0 2 0a1 1 0 1 0 -2 0M454.9 560.9a1.4 1.4 0 1 0 2.7 0a1.4 1.4 0 1 0 -2.7 0M433.2 546a1.2 1.2 0 1 0 2.5 0a1.2 1.2 0 1 0 -2.5 0M461.6 586.5a1.1 1.1 0 1 0 2.1 0a1.1 1.1 0 1 0 -2.1 0M421.8 582.4a1.6 1.6 0 1 0 3.3 0a1.6 1.6 0 1 0 -3.3 0M420.8 583.1a1.5 1.5 0 1 0 3.1 0a1.5 1.5 0 1 0 -3.1 0M423 573.6a1.5 1.5 0 1 0 3 0a1.5 1.5 0 1 0 -3 0M437.7 564.7a.9 .9 0 1 0 1.8 0a.9 .9 0 1 0 -1.8 0M444.7 562a.9 .9 0 1 0 1.8 0a.9 .9 0 1 0 -1.8 0M466.5 559.6a1.2 1.2 0 1 0 2.3 0a1.2 1.2 0 1 0 -2.3 0M452.9 559.1a1.2 1.2 0 1 0 2.5 0a1.2 1.2 0 1 0 -2.5 0M418.1 560.4a1.5 1.5 0 1 0 3.1 0a1.5 1.5 0 1 0 -3.1 0M438.8 563.4a1.5 1.5 0 1 0 3 0a1.5 1.5 0 1 0 -3 0M451.8 574a1.2 1.2 0 1 0 2.3 0a1.2 1.2 0 1 0 -2.3 0M454.1 575a1.6 1.6 0 1 0 3.1 0a1.6 1.6 0 1 0 -3.1 0M430.5 582.2a.9 .9 0 1 0 1.9 0a.9 .9 0 1 0 -1.9 0M437.9 564.3a1.1 1.1 0 1 0 2.2 0a1.1 1.1 0 1 0 -2.2 0M438.6 583.8a1.3 1.3 0 1 0 2.6 0a1.3 1.3 0 1 0 -2.6 0M432.4 579.3a.9 .9 0 1 0 1.9 0a.9 .9 0 1 0 -1.9 0M480.3 593.7a1.1 1.1 0 1 0 2.2 0a1.1 1.1 0 1 0 -2.2 0M472.3 597.1a1.2 1.2 0 1 0 2.4 0a1.2 1.2 0 1 0 -2.4 0M440.9 595.4a.9 .9 0 1 0 1.7 0a.9 .9 0 1 0 -1.7 0M473.4 622.1a.9 .9 0 1 0 1.8 0a.9 .9 0 1 0 -1.8 0M476.2 617.5a.8 .8 0 1 0 1.6 0a.8 .8 0 1 0 -1.6 0M470.5 633.9a1.4 1.4 0 1 0 2.8 0a1.4 1.4 0 1 0 -2.8 0M467.2 626.3a1.4 1.4 0 1 0 2.8 0a1.4 1.4 0 1 0 -2.8 0M453 605.3a1.6 1.6 0 1 0 3.1 0a1.6 1.6 0 1 0 -3.1 0M461.9 627a1.2 1.2 0 1 0 2.3 0a1.2 1.2 0 1 0 -2.3 0M444.9 618.6a1.2 1.2 0 1 0 2.3 0a1.2 1.2 0 1 0 -2.3 0M432.8 609a1.3 1.3 0 1 0 2.6 0a1.3 1.3 0 1 0 -2.6 0M472.5 631.6a1.5 1.5 0 1 0 2.9 0a1.5 1.5 0 1 0 -2.9 0M457.7 610a1.3 1.3 0 1 0 2.7 0a1.3 1.3 0 1 0 -2.7 0M449.6 617.3a1.1 1.1 0 1 0 2.1 0a1.1 1.1 0 1 0 -2.1 0M491.6 611.6a1.5 1.5 0 1 0 2.9 0a1.5 1.5 0 1 0 -2.9 0M462.2 602a1.4 1.4 0 1 0 2.9 0a1.4 1.4 0 1 0 -2.9 0M445.3 603.3a.8 .8 0 1 0 1.6 0a.8 .8 0 1 0 -1.6 0M462.2 612.7a.9 .9 0 1 0 1.8 0a.9 .9 0 1 0 -1.8 0M477.5 616.1a1.2 1.2 0 1 0 2.4 0a1.2 1.2 0 1 0 -2.4 0M462 615.3a1 1 0 1 0 2 0a1 1 0 1 0 -2 0M470.3 590.9a1.3 1.3 0 1 0 2.6 0a1.3 1.3 0 1 0 -2.6 0M454.1 614.8a.9 .9 0 1 0 1.8 0a.9 .9 0 1 0 -1.8 0M485.1 617.2a.9 .9 0 1 0 1.9 0a.9 .9 0 1 0 -1.9 0M466.8 615.1a1.2 1.2 0 1 0 2.3 0a1.2 1.2 0 1 0 -2.3 0M458 607.8a1.4 1.4 0 1 0 2.8 0a1.4 1.4 0 1 0 -2.8 0M480.3 622.4a1.2 1.2 0 1 0 2.4 0a1.2 1.2 0 1 0 -2.4 0M454 599.3a1.3 1.3 0 1 0 2.7 0a1.3 1.3 0 1 0 -2.7 0M455.1 616.3a1.2 1.2 0 1 0 2.3 0a1.2 1.2 0 1 0 -2.3 0M461.5 611.1a.8 .8 0 1 0 1.6 0a.8 .8 0 1 0 -1.6 0M468.7 600.9a1.6 1.6 0 1 0 3.1 0a1.6 1.6 0 1 0 -3.1 0M480.1 621.6a1.3 1.3 0 1 0 2.5 0a1.3 1.3 0 1 0 -2.5 0M484.6 614.6a1.5 1.5 0 1 0 3 0a1.5 1.5 0 1 0 -3 0M475.9 616.5a1.3 1.3 0 1 0 2.6 0a1.3 1.3 0 1 0 -2.6 0M451.1 614.2a1.4 1.4 0 1 0 2.8 0a1.4 1.4 0 1 0 -2.8 0M460 607.9a1.1 1.1 0 1 0 2.1 0a1.1 1.1 0 1 0 -2.1 0M460.2 622a1.1 1.1 0 1 0 2.3 0a1.1 1.1 0 1 0 -2.3 0M479.5 607a1.1 1.1 0 1 0 2.3 0a1.1 1.1 0 1 0 -2.3 0M430.9 613.3a1 1 0 1 0 2.1 0a1 1 0 1 0 -2.1 0M455.2 613.7a.9 .9 0 1 0 1.8 0a.9 .9 0 1 0 -1.8 0M462.5 618.6a.9 .9 0 1 0 1.8 0a.9 .9 0 1 0 -1.8 0M492.7 607.2a1.4 1.4 0 1 0 2.8 0a1.4 1.4 0 1 0 -2.8 0M449 615.7a1.2 1.2 0 1 0 2.3 0a1.2 1.2 0 1 0 -2.3 0M460.9 630.5a1.1 1.1 0 1 0 2.2 0a1.1 1.1 0 1 0 -2.2 0M456.9 606.8a1.5 1.5 0 1 0 2.9 0a1.5 1.5 0 1 0 -2.9 0M481.5 618.3a1.1 1.1 0 1 0 2.1 0a1.1 1.1 0 1 0 -2.1 0M463.2 628a1.7 1.7 0 1 0 3.3 0a1.7 1.7 0 1 0 -3.3 0M477.7 626.9a1 1 0 1 0 2 0a1 1 0 1 0 -2 0M458.6 630.7a1.7 1.7 0 1 0 3.3 0a1.7 1.7 0 1 0 -3.3 0M470.8 620.1a1 1 0 1 0 2 0a1 1 0 1 0 -2 0M473 626.9a1.2 1.2 0 1 0 2.5 0a1.2 1.2 0 1 0 -2.5 0M474.3 629.4a1.4 1.4 0 1 0 2.9 0a1.4 1.4 0 1 0 -2.9 0M480.4 619a1.5 1.5 0 1 0 3 0a1.5 1.5 0 1 0 -3 0M479.3 624.2a1.6 1.6 0 1 0 3.2 0a1.6 1.6 0 1 0 -3.2 0M473.8 627.1a1.6 1.6 0 1 0 3.2 0a1.6 1.6 0 1 0 -3.2 0M462.4 625.6a1 1 0 1 0 2 0a1 1 0 1 0 -2 0M485.5 622.8a1 1 0 1 0 2 0a1 1 0 1 0 -2 0M467.7 623.4a1.3 1.3 0 1 0 2.5 0a1.3 1.3 0 1 0 -2.5 0M474.7 629.3a1.5 1.5 0 1 0 3 0a1.5 1.5 0 1 0 -3 0M470.9 622.9a1.5 1.5 0 1 0 3.1 0a1.5 1.5 0 1 0 -3.1 0M481.2 619a1.3 1.3 0 1 0 2.7 0a1.3 1.3 0 1 0 -2.7 0M456.5 623.8a1.4 1.4 0 1 0 2.7 0a1.4 1.4 0 1 0 -2.7 0M460 621.2a1.7 1.7 0 1 0 3.4 0a1.7 1.7 0 1 0 -3.4 0"/>
<path fill="#fafafa" fill-opacity="0.9" d="M445.1 599.7a1.5 1.5 0 1 0 3.1 0a1.5 1.5 0 1 0 -3.1 0M457.8 600.3a.8 .8 0 1 0 1.7 0a.8 .8 0 1 0 -1.7 0M459.1 622.4a1.4 1.4 0 1 0 2.8 0a1.4 1.4 0 1 0 -2.8 0M465 629.6a1.4 1.4 0 1 0 2.9 0a1.4 1.4 0 1 0 -2.9 0M465 624.6a.9 .9 0 1 0 1.8 0a.9 .9 0 1 0 -1.8 0M462.8 609.6a1 1 0 1 0 2 0a1 1 0 1 0 -2 0M476.5 625.7a1 1 0 1 0 2.1 0a1 1 0 1 0 -2.1 0M459.6 621.8a1.6 1.6 0 1 0 3.2 0a1.6 1.6 0 1 0 -3.2 0M457.9 604.3a.9 .9 0 1 0 1.9 0a.9 .9 0 1 0 -1.9 0M457.1 630.6a1 1 0 1 0 2.1 0a1 1 0 1 0 -2.1 0M452.1 599.5a.9 .9 0 1 0 1.8 0a.9 .9 0 1 0 -1.8 0M471.7 606.8a1.5 1.5 0 1 0 2.9 0a1.5 1.5 0 1 0 -2.9 0M465.5 611.1a.9 .9 0 1 0 1.8 0a.9 .9 0 1 0 -1.8 0M477.5 612.6a1.2 1.2 0 1 0 2.4 0a1.2 1.2 0 1 0 -2.4 0M473.8 608.6a1.4 1.4 0 1 0 2.8 0a1.4 1.4 0 1 0 -2.8 0M449.1 601.3a.9 .9 0 1 0 1.8 0a.9 .9 0 1 0 -1.8 0M456.6 608a1.3 1.3 0 1 0 2.6 0a1.3 1.3 0 1 0 -2.6 0M440.8 622.5a.9 .9 0 1 0 1.8 0a.9 .9 0 1 0 -1.8 0M479.8 599.5a1.6 1.6 0 1 0 3.1 0a1.6 1.6 0 1 0 -3.1 0M493 605.7a1.4 1.4 0 1 0 2.9 0a1.4 1.4 0 1 0 -2.9 0M462.5 612.9a1.4 1.4 0 1 0 2.9 0a1.4 1.4 0 1 0 -2.9 0M459.9 601.2a.9 .9 0 1 0 1.9 0a.9 .9 0 1 0 -1.9 0M494.4 617a1.6 1.6 0 1 0 3.1 0a1.6 1.6 0 1 0 -3.1 0M456.1 600.5a1.3 1.3 0 1 0 2.7 0a1.3 1.3 0 1 0 -2.7 0M457.5 619.1a1 1 0 1 0 2.1 0a1 1 0 1 0 -2.1 0M471.4 623.9a1.2 1.2 0 1 0 2.3 0a1.2 1.2 0 1 0 -2.3 0M464.5 606.1a1.5 1.5 0 1 0 3 0a1.5 1.5 0 1 0 -3 0M470.6 623.6a1.3 1.3 0 1 0 2.7 0a1.3 1.3 0 1 0 -2.7 0M465.1 607.3a1.4 1.4 0 1 0 2.9 0a1.4 1.4 0 1 0 -2.9 0M455.2 609.1a1.4 1.4 0 1 0 2.8 0a1.4 1.4 0 1 0 -2.8 0M443.5 605.3a.9 .9 0 1 0 1.8 0a.9 .9 0 1 0 -1.8 0M469.5 588.6a1.2 1.2 0 1 0 2.5 0a1.2 1.2 0 1 0 -2.5 0M479.1 604.5a1.6 1.6 0 1 0 3.2 0a1.6 1.6 0 1 0 -3.2 0M460.8 605.1a1 1 0 1 0 1.9 0a1 1 0 1 0 -1.9 0M449 619.9a1.2 1.2 0 1 0 2.3 0a1.2 1.2 0 1 0 -2.3 0M464.8 622.1a1.4 1.4 0 1 0 2.7 0a1.4 1.4 0 1 0 -2.7 0M478.7 632.8a1.1 1.1 0 1 0 2.2 0a1.1 1.1 0 1 0 -2.2 0M453.3 610.8a1.6 1.6 0 1 0 3.2 0a1.6 1.6 0 1 0 -3.2 0M479.2 610.5a1.1 1.1 0 1 0 2.3 0a1.1 1.1 0 1 0 -2.3 0M464.1 618a.8 .8 0 1 0 1.6 0a.8 .8 0 1 0 -1.6 0M437.3 609.4a1.4 1.4 0 1 0 2.9 0a1.4 1.4 0 1 0 -2.9 0M474.7 607.1a1.1 1.1 0 1 0 2.2 0a1.1 1.1 0 1 0 -2.2 0M461.9 617.9a.9 .9 0 1 0 1.8 0a.9 .9 0 1 0 -1.8 0M437.8 622.8a1.6 1.6 0 1 0 3.2 0a1.6 1.6 0 1 0 -3.2 0M482.8 616.6a1.2 1.2 0 1 0 2.4 0a1.2 1.2 0 1 0 -2.4 0M450.8 619.5a1.1 1.1 0 1 0 2.2 0a1.1 1.1 0 1 0 -2.2 0M479.4 612.5a1.3 1.3 0 1 0 2.7 0a1.3 1.3 0 1 0 -2.7 0M449 613.4a1 1 0 1 0 1.9 0a1 1 0 1 0 -1.9 0M461.5 623.9a1.3 1.3 0 1 0 2.6 0a1.3 1.3 0 1 0 -2.6 0M454.4 629.1a1 1 0 1 0 1.9 0a1 1 0 1 0 -1.9 0M454 619.1a1.3 1.3 0 1 0 2.7 0a1.3 1.3 0 1 0 -2.7 0M446.3 621.4a1.4 1.4 0 1 0 2.9 0a1.4 1.4 0 1 0 -2.9 0M464.7 627.4a1.4 1.4 0 1 0 2.9 0a1.4 1.4 0 1 0 -2.9 0M452.4 622.6a1.1 1.1 0 1 0 2.1 0a1.1 1.1 0 1 0 -2.1 0M489 625.2a1.1 1.1 0 1 0 2.3 0a1.1 1.1 0 1 0 -2.3 0M477.3 629.8a1.2 1.2 0 1 0 2.3 0a1.2 1.2 0 1 0 -2.3 0M476.7 623.9a1.5 1.5 0 1 0 2.9 0a1.5 1.5 0 1 0 -2.9 0M478.4 627.7a.9 .9 0 1 0 1.8 0a.9 .9 0 1 0 -1.8 0M478.7 623.8a1 1 0 1 0 2.1 0a1 1 0 1 0 -2.1 0M460.2 618.1a1.5 1.5 0 1 0 2.9 0a1.5 1.5 0 1 0 -2.9 0"/>
<path fill="#fafafa" fill-opacity="1.0" d="M470.2 619.6a1 1 0 1 0 2 0a1 1 0 1 0 -2 0M453.6 596.7a1.3 1.3 0 1 0 2.7 0a1.3 1.3 0 1 0 -2.7 0M459.8 626.3a1.5 1.5 0 1 0 2.9 0a1.5 1.5 0 1 0 -2.9 0M455 614.1a1.1 1.1 0 1 0 2.3 0a1.1 1.1 0 1 0 -2.3 0M476.3 612.6a1.5 1.5 0 1 0 2.9 0a1.5 1.5 0 1 0 -2.9 0M458 603.5a1.2 1.2 0 1 0 2.5 0a1.2 1.2 0 1 0 -2.5 0M462.1 603a1.4 1.4 0 1 0 2.7 0a1.4 1.4 0 1 0 -2.7 0M461.2 607.1a1.4 1.4 0 1 0 2.8 0a1.4 1.4 0 1 0 -2.8 0M477.6 615.5a.9 .9 0 1 0 1.8 0a.9 .9 0 1 0 -1.8 0M474.3 613.6a1.6 1.6 0 1 0 3.1 0a1.6 1.6 0 1 0 -3.1 0M447.6 630.2a1.1 1.1 0 1 0 2.2 0a1.1 1.1 0 1 0 -2.2 0M453 625.5a1.1 1.1 0 1 0 2.2 0a1.1 1.1 0 1 0 -2.2 0"/>
<path fill="#acacac" d="M434.9 602.6a1.3 1.3 0 1 0 2.6 0a1.3 1.3 0 1 0 -2.6 0M436.4 602.6a.9 .9 0 1 0 1.8 0a.9 .9 0 1 0 -1.8 0"/>
<path fill="#adadad" d="M438.8 600.5a1.5 1.5 0 1 0 3.1 0a1.5 1.5 0 1 0 -3.1 0M438.8 601.8a1.3 1.3 0 1 0 2.7 0a1.3 1.3 0 1 0 -2.7 0M437.9 601.5a1.1 1.1 0 1 0 2.2 0a1.1 1.1 0 1 0 -2.2 0M440.3 600.5a1 1 0 1 0 2.1 0a1 1 0 1 0 -2.1 0"/>
<path fill="#aeaeae" d="M417 594.8a.8 .8 0 1 0 1.7 0a.8 .8 0 1 0 -1.7 0M420.9 599.5a.8 .8 0 1 0 1.7 0a.8 .8 0 1 0 -1.7 0M415.9 619.6a.8 .8 0 1 0 1.6 0a.8 .8 0 1 0 -1.6 0M422.2 608.9a.9 .9 0 1 0 1.9 0a.9 .9 0 1 0 -1.9 0M420.9 621a.7 .7 0 1 0 1.4 0a.7 .7 0 1 0 -1.4 0"/>
<path fill="#afafaf" d="M412.2 566.3a1.1 1.1 0 1 0 2.3 0a1.1 1.1 0 1 0 -2.3 0M412.2 575.1a1 1 0 1 0 2.1 0a1 1 0 1 0 -2.1 0M411.5 569.4a1 1 0 1 0 2 0a1 1 0 1 0 -2 0M422.5 607a1.2 1.2 0 1 0 2.4 0a1.2 1.2 0 1 0 -2.4 0M425.1 611.8a.8 .8 0 1 0 1.5 0a.8 .8 0 1 0 -1.5 0M422.6 623.3a.9 .9 0 1 0 1.8 0a.9 .9 0 1 0 -1.8 0"/>
<path fill="#b0b0b0" d="M421.5 573.7a1.4 1.4 0 1 0 2.8 0a1.4 1.4 0 1 0 -2.8 0M420.9 567.9a.9 .9 0 1 0 1.8 0a.9 .9 0 1 0 -1.8 0M419.9 579.1a1.2 1.2 0 1 0 2.4 0a1.2 1.2 0 1 0 -2.4 0M421.5 583.5a1.3 1.3 0 1 0 2.6 0a1.3 1.3 0 1 0 -2.6 0M420.6 552.9a1.4 1.4 0 1 0 2.8 0a1.4 1.4 0 1 0 -2.8 0M418.7 560.8a1.3 1.3 0 1 0 2.6 0a1.3 1.3 0 1 0 -2.6 0M416.7 560.7a1.2 1.2 0 1 0 2.3 0a1.2 1.2 0 1 0 -2.3 0M420.9 578.9a1.3 1.3 0 1 0 2.6 0a1.3 1.3 0 1 0 -2.6 0M421.3 571.1a.7 .7 0 1 0 1.5 0a.7 .7 0 1 0 -1.5 0M421.2 557.8a1.2 1.2 0 1 0 2.5 0a1.2 1.2 0 1 0 -2.5 0M419.5 571.8a.9 .9 0 1 0 1.8 0a.9 .9 0 1 0 -1.8 0"/>
<path fill="#b1b1b1" d="M426.1 575.5a1.3 1.3 0 1 0 2.7 0a1.3 1.3 0 1 0 -2.7 0M426.1 584.8a1.3 1.3 0 1 0 2.6 0a1.3 1.3 0 1 0 -2.6 0M426.7 555.8a1.2 1.2 0 1 0 2.4 0a1.2 1.2 0 1 0 -2.4 0M427.9 555.6a.9 .9 0 1 0 1.9 0a.9 .9 0 1 0 -1.9 0M427.7 552.8a.9 .9 0 1 0 1.9 0a.9 .9 0 1 0 -1.9 0M427.5 575.8a1 1 0 1 0 1.9 0a1 1 0 1 0 -1.9 0M427.7 556.3a1.4 1.4 0 1 0 2.8 0a1.4 1.4 0 1 0 -2.8 0M428.2 573.4a.7 .7 0 1 0 1.5 0a.7 .7 0 1 0 -1.5 0M422.5 582.8a1.4 1.4 0 1 0 2.8 0a1.4 1.4 0 1 0 -2.8 0M423.7 574.1a1.3 1.3 0 1 0 2.6 0a1.3 1.3 0 1 0 -2.6 0M423.1 575.5a.8 .8 0 1 0 1.5 0a.8 .8 0 1 0 -1.5 0M427.9 562.9a1.4 1.4 0 1 0 2.7 0a1.4 1.4 0 1 0 -2.7 0M424.2 569.2a1 1 0 1 0 1.9 0a1 1 0 1 0 -1.9 0M425.7 580.4a1.1 1.1 0 1 0 2.1 0a1.1 1.1 0 1 0 -2.1 0M423.9 557.4a1 1 0 1 0 1.9 0a1 1 0 1 0 -1.9 0"/>
<path fill="#b2b2b2" d="M434.1 559.9a1.3 1.3 0 1 0 2.6 0a1.3 1.3 0 1 0 -2.6 0M431.5 566a1 1 0 1 0 2.1 0a1 1 0 1 0 -2.1 0M436.8 564.1a.8 .8 0 1 0 1.6 0a.8 .8 0 1 0 -1.6 0M432.8 561.7a1.2 1.2 0 1 0 2.3 0a1.2 1.2 0 1 0 -2.3 0M436.5 554.6a.7 .7 0 1 0 1.5 0a.7 .7 0 1 0 -1.5 0M433.7 579.5a1.4 1.4 0 1 0 2.8 0a1.4 1.4 0 1 0 -2.8 0M432.6 582.5a1.3 1.3 0 1 0 2.6 0a1.3 1.3 0 1 0 -2.6 0M433 578.9a.7 .7 0 1 0 1.4 0a.7 .7 0 1 0 -1.4 0M435.6 572.4a.9 .9 0 1 0 1.8 0a.9 .9 0 1 0 -1.8 0M436.4 574.9a1.4 1.4 0 1 0 2.7 0a1.4 1.4 0 1 0 -2.7 0M436.4 557.8a1.4 1.4 0 1 0 2.8 0a1.4 1.4 0 1 0 -2.8 0M434.8 566.9a1.1 1.1 0 1 0 2.2 0a1.1 1.1 0 1 0 -2.2 0M436.1 559.3a.9 .9 0 1 0 1.8 0a.9 .9 0 1 0 -1.8 0M433.7 546.4a1.1 1.1 0 1 0 2.1 0a1.1 1.1 0 1 0 -2.1 0M432 564.2a1.3 1.3 0 1 0 2.7 0a1.3 1.3 0 1 0 -2.7 0M435 580.3a1.4 1.4 0 1 0 2.8 0a1.4 1.4 0 1 0 -2.8 0M435.1 557.1a1.3 1.3 0 1 0 2.6 0a1.3 1.3 0 1 0 -2.6 0M435.1 561a.9 .9 0 1 0 1.7 0a.9 .9 0 1 0 -1.7 0M435.5 563.9a1.3 1.3 0 1 0 2.6 0a1.3 1.3 0 1 0 -2.6 0M431.7 571.2a1.2 1.2 0 1 0 2.4 0a1.2 1.2 0 1 0 -2.4 0M434.2 581.7a.8 .8 0 1 0 1.6 0a.8 .8 0 1 0 -1.6 0M431.1 582.6a.8 .8 0 1 0 1.6 0a.8 .8 0 1 0 -1.6 0M435 584.8a1.1 1.1 0 1 0 2.2 0a1.1 1.1 0 1 0 -2.2 0M432.9 579.7a.8 .8 0 1 0 1.6 0a.8 .8 0 1 0 -1.6 0M430.7 562.7a1.2 1.2 0 1 0 2.4 0a1.2 1.2 0 1 0 -2.4 0M437.7 569.9a.7 .7 0 1 0 1.5 0a.7 .7 0 1 0 -1.5 0M436.5 579.7a1.3 1.3 0 1 0 2.7 0a1.3 1.3 0 1 0 -2.7 0"/>
<path fill="#b3b3b3" d="M439 571.8a1.3 1.3 0 1 0 2.6 0a1.3 1.3 0 1 0 -2.6 0M442.2 569.9a1.3 1.3 0 1 0 2.5 0a1.3 1.3 0 1 0 -2.5 0M438.4 584.6a1.2 1.2 0 1 0 2.3 0a1.2 1.2 0 1 0 -2.3 0M439.3 577.1a1 1 0 1 0 2 0a1 1 0 1 0 -2 0M443.5 559.2a1.1 1.1 0 1 0 2.2 0a1.1 1.1 0 1 0 -2.2 0M441.9 576a1.1 1.1 0 1 0 2.3 0a1.1 1.1 0 1 0 -2.3 0M440.9 551.3a1 1 0 1 0 2 0a1 1 0 1 0 -2 0M441.9 566.9a.9 .9 0 1 0 1.8 0a.9 .9 0 1 0 -1.8 0M444.2 569.3a.7 .7 0 1 0 1.5 0a.7 .7 0 1 0 -1.5 0M439.9 575.1a1.3 1.3 0 1 0 2.6 0a1.3 1.3 0 1 0 -2.6 0M444.1 570.8a.9 .9 0 1 0 1.7 0a.9 .9 0 1 0 -1.7 0M440.4 568.4a1.3 1.3 0 1 0 2.6 0a1.3 1.3 0 1 0 -2.6 0M444.4 568.7a1.3 1.3 0 1 0 2.5 0a1.3 1.3 0 1 0 -2.5 0M444.4 568.1a1.2 1.2 0 1 0 2.5 0a1.2 1.2 0 1 0 -2.5 0M441.7 576.8a.9 .9 0 1 0 1.7 0a.9 .9 0 1 0 -1.7 0M444.1 570.7a1.3 1.3 0 1 0 2.5 0a1.3 1.3 0 1 0 -2.5 0M441.3 575a1.2 1.2 0 1 0 2.3 0a1.2 1.2 0 1 0 -2.3 0M442 562.5a1.2 1.2 0 1 0 2.3 0a1.2 1.2 0 1 0 -2.3 0M437.7 561.5a1.2 1.2 0 1 0 2.4 0a1.2 1.2 0 1 0 -2.4 0M440.7 564.8a.8 .8 0 1 0 1.6 0a.8 .8 0 1 0 -1.6 0M438.8 571.1a1.4 1.4 0 1 0 2.8 0a1.4 1.4 0 1 0 -2.8 0M441.6 559.9a1.4 1.4 0 1 0 2.7 0a1.4 1.4 0 1 0 -2.7 0M441.3 547.9a1.3 1.3 0 1 0 2.7 0a1.3 1.3 0 1 0 -2.7 0M438.2 565.1a.8 .8 0 1 0 1.5 0a.8 .8 0 1 0 -1.5 0M445.2 562.4a.8 .8 0 1 0 1.5 0a.8 .8 0 1 0 -1.5 0M441.1 564.3a.9 .9 0 1 0 1.8 0a.9 .9 0 1 0 -1.8 0M444.9 560.2a.8 .8 0 1 0 1.6 0a.8 .8 0 1 0 -1.6 0M440.3 550a1 1 0 1 0 2 0a1 1 0 1 0 -2 0M437.3 578.1a1.4 1.4 0 1 0 2.8 0a1.4 1.4 0 1 0 -2.8 0M439.4 563.9a1.3 1.3 0 1 0 2.6 0a1.3 1.3 0 1 0 -2.6 0M444.9 569a1 1 0 1 0 2 0a1 1 0 1 0 -2 0M441.3 550.2a1.1 1.1 0 1 0 2.1 0a1.1 1.1 0 1 0 -2.1 0M441.7 579.4a1.3 1.3 0 1 0 2.5 0a1.3 1.3 0 1 0 -2.5 0M438.4 564.7a.9 .9 0 1 0 1.9 0a.9 .9 0 1 0 -1.9 0M439.2 584.2a1.1 1.1 0 1 0 2.2 0a1.1 1.1 0 1 0 -2.2 0M440 563.8a.9 .9 0 1 0 1.7 0a.9 .9 0 1 0 -1.7 0M441.2 566.9a.7 .7 0 1 0 1.5 0a.7 .7 0 1 0 -1.5 0M443.6 559.3a1.3 1.3 0 1 0 2.6 0a1.3 1.3 0 1 0 -2.6 0M439.8 581a.9 .9 0 1 0 1.8 0a.9 .9 0 1 0 -1.8 0"/>
<path fill="#b4b4b4" d="M449.6 569a.7 .7 0 1 0 1.4 0a.7 .7 0 1 0 -1.4 0M447.6 570.1a1.4 1.4 0 1 0 2.8 0a1.4 1.4 0 1 0 -2.8 0M445.9 567.4a1 1 0 1 0 2 0a1 1 0 1 0 -2 0M446.5 575.9a.9 .9 0 1 0 1.7 0a.9 .9 0 1 0 -1.7 0M448.8 557.2a.7 .7 0 1 0 1.4 0a.7 .7 0 1 0 -1.4 0M452.9 555.2a.7 .7 0 1 0 1.5 0a.7 .7 0 1 0 -1.5 0M447.4 560.2a1.4 1.4 0 1 0 2.8 0a1.4 1.4 0 1 0 -2.8 0M451.8 571.7a1.4 1.4 0 1 0 2.8 0a1.4 1.4 0 1 0 -2.8 0M448.9 573.2a.7 .7 0 1 0 1.4 0a.7 .7 0 1 0 -1.4 0M449.8 565.1a1 1 0 1 0 2 0a1 1 0 1 0 -2 0M447.3 560.6a.9 .9 0 1 0 1.8 0a.9 .9 0 1 0 -1.8 0M449.2 549.8a1.2 1.2 0 1 0 2.3 0a1.2 1.2 0 1 0 -2.3 0M448.8 581.3a1 1 0 1 0 2 0a1 1 0 1 0 -2 0M450.6 568.5a1.1 1.1 0 1 0 2.1 0a1.1 1.1 0 1 0 -2.1 0M446.4 554.5a.7 .7 0 1 0 1.4 0a.7 .7 0 1 0 -1.4 0M448.2 566.7a1.4 1.4 0 1 0 2.7 0a1.4 1.4 0 1 0 -2.7 0M448.3 569a1.2 1.2 0 1 0 2.4 0a1.2 1.2 0 1 0 -2.4 0M449 555a1.2 1.2 0 1 0 2.5 0a1.2 1.2 0 1 0 -2.5 0M448.9 569a.9 .9 0 1 0 1.8 0a.9 .9 0 1 0 -1.8 0M447.8 572.3a1.1 1.1 0 1 0 2.1 0a1.1 1.1 0 1 0 -2.1 0M446.4 569.9a1.2 1.2 0 1 0 2.4 0a1.2 1.2 0 1 0 -2.4 0M452.4 574.4a1 1 0 1 0 2 0a1 1 0 1 0 -2 0M446.4 568a1.4 1.4 0 1 0 2.8 0a1.4 1.4 0 1 0 -2.8 0M435.3 615.9a.8 .8 0 1 0 1.7 0a.8 .8 0 1 0 -1.7 0M433.4 609.4a1.1 1.1 0 1 0 2.2 0a1.1 1.1 0 1 0 -2.2 0M431.4 613.7a.9 .9 0 1 0 1.8 0a.9 .9 0 1 0 -1.8 0"/>
<path fill="#b5b5b5" d="M456.1 567.7a.8 .8 0 1 0 1.7 0a.8 .8 0 1 0 -1.7 0M454.6 559.1a1 1 0 1 0 1.9 0a1 1 0 1 0 -1.9 0M454.9 585.2a1 1 0 1 0 2.1 0a1 1 0 1 0 -2.1 0M457.1 574.7a1.2 1.2 0 1 0 2.4 0a1.2 1.2 0 1 0 -2.4 0M454.6 570.4a1.2 1.2 0 1 0 2.3 0a1.2 1.2 0 1 0 -2.3 0M454.1 565.8a1.2 1.2 0 1 0 2.5 0a1.2 1.2 0 1 0 -2.5 0M455.5 561.3a1.2 1.2 0 1 0 2.3 0a1.2 1.2 0 1 0 -2.3 0M454.4 565.2a.7 .7 0 1 0 1.4 0a.7 .7 0 1 0 -1.4 0M454.7 569.2a1.1 1.1 0 1 0 2.2 0a1.1 1.1 0 1 0 -2.2 0M456.3 570.6a1.3 1.3 0 1 0 2.7 0a1.3 1.3 0 1 0 -2.7 0M453.5 580a.9 .9 0 1 0 1.8 0a.9 .9 0 1 0 -1.8 0M453.5 559.5a1.1 1.1 0 1 0 2.1 0a1.1 1.1 0 1 0 -2.1 0M458.3 586.8a1.1 1.1 0 1 0 2.1 0a1.1 1.1 0 1 0 -2.1 0M454 586.1a1.4 1.4 0 1 0 2.9 0a1.4 1.4 0 1 0 -2.9 0M453.6 561.9a1.3 1.3 0 1 0 2.6 0a1.3 1.3 0 1 0 -2.6 0M454.8 575.4a1.3 1.3 0 1 0 2.7 0a1.3 1.3 0 1 0 -2.7 0M456 584.4a.8 .8 0 1 0 1.7 0a.8 .8 0 1 0 -1.7 0M453.1 568.3a.9 .9 0 1 0 1.8 0a.9 .9 0 1 0 -1.8 0M455.3 569.7a1.2 1.2 0 1 0 2.4 0a1.2 1.2 0 1 0 -2.4 0M459 570.3a1 1 0 1 0 2.1 0a1 1 0 1 0 -2.1 0M456.9 563.3a.7 .7 0 1 0 1.5 0a.7 .7 0 1 0 -1.5 0M441.4 595.8a.7 .7 0 1 0 1.5 0a.7 .7 0 1 0 -1.5 0M441.2 610.9a.9 .9 0 1 0 1.8 0a.9 .9 0 1 0 -1.8 0M438.1 602.2a1.3 1.3 0 1 0 2.7 0a1.3 1.3 0 1 0 -2.7 0M445.1 620.4a.9 .9 0 1 0 1.8 0a.9 .9 0 1 0 -1.8 0M439.3 608.6a1.3 1.3 0 1 0 2.7 0a1.3 1.3 0 1 0 -2.7 0M441.4 622.9a.8 .8 0 1 0 1.5 0a.8 .8 0 1 0 -1.5 0M444 605.7a.8 .8 0 1 0 1.5 0a.8 .8 0 1 0 -1.5 0M437.9 609.8a1.2 1.2 0 1 0 2.4 0a1.2 1.2 0 1 0 -2.4 0M438.5 623.2a1.3 1.3 0 1 0 2.7 0a1.3 1.3 0 1 0 -2.7 0"/>
<path fill="#b6b6b6" d="M464.8 566.9a1 1 0 1 0 1.9 0a1 1 0 1 0 -1.9 0M462.5 561.7a1.3 1.3 0 1 0 2.6 0a1.3 1.3 0 1 0 -2.6 0M464.8 569.5a1 1 0 1 0 2 0a1 1 0 1 0 -2 0M460.6 566.2a1.3 1.3 0 1 0 2.6 0a1.3 1.3 0 1 0 -2.6 0M462.1 586.9a.9 .9 0 1 0 1.8 0a.9 .9 0 1 0 -1.8 0M465.1 576.3a1.2 1.2 0 1 0 2.4 0a1.2 1.2 0 1 0 -2.4 0M467.1 560a1 1 0 1 0 2 0a1 1 0 1 0 -2 0M463.1 568.2a1.1 1.1 0 1 0 2.2 0a1.1 1.1 0 1 0 -2.2 0M462.3 571.7a.7 .7 0 1 0 1.4 0a.7 .7 0 1 0 -1.4 0M462.8 561a.8 .8 0 1 0 1.6 0a.8 .8 0 1 0 -1.6 0M449.2 591.6a.8 .8 0 1 0 1.5 0a.8 .8 0 1 0 -1.5 0M449.8 607.2a.7 .7 0 1 0 1.5 0a.7 .7 0 1 0 -1.5 0M445.8 600.1a1.3 1.3 0 1 0 2.6 0a1.3 1.3 0 1 0 -2.6 0M448.1 625.8a.9 .9 0 1 0 1.9 0a.9 .9 0 1 0 -1.9 0M452.4 628.9a1.1 1.1 0 1 0 2.2 0a1.1 1.1 0 1 0 -2.2 0M445.5 619a1 1 0 1 0 2 0a1 1 0 1 0 -2 0M452.7 599.9a.8 .8 0 1 0 1.5 0a.8 .8 0 1 0 -1.5 0M445.9 609.3a1 1 0 1 0 2 0a1 1 0 1 0 -2 0M450.1 617.7a.9 .9 0 1 0 1.8 0a.9 .9 0 1 0 -1.8 0M449.6 601.7a.7 .7 0 1 0 1.5 0a.7 .7 0 1 0 -1.5 0M445.8 603.7a.7 .7 0 1 0 1.4 0a.7 .7 0 1 0 -1.4 0M450.5 598.9a1.1 1.1 0 1 0 2.3 0a1.1 1.1 0 1 0 -2.3 0M452.1 612.5a.8 .8 0 1 0 1.6 0a.8 .8 0 1 0 -1.6 0M449.6 620.3a1 1 0 1 0 2 0a1 1 0 1 0 -2 0M448.7 614.8a.8 .8 0 1 0 1.6 0a.8 .8 0 1 0 -1.6 0M447.6 624.7a1.1 1.1 0 1 0 2.1 0a1.1 1.1 0 1 0 -2.1 0M451.7 599.3a.7 .7 0 1 0 1.5 0a.7 .7 0 1 0 -1.5 0M451.7 614.6a1.2 1.2 0 1 0 2.4 0a1.2 1.2 0 1 0 -2.4 0M450.3 613.8a1.3 1.3 0 1 0 2.6 0a1.3 1.3 0 1 0 -2.6 0M449.5 616.1a1 1 0 1 0 2 0a1 1 0 1 0 -2 0M448.1 630.6a.9 .9 0 1 0 1.8 0a.9 .9 0 1 0 -1.8 0M451.3 619.9a.9 .9 0 1 0 1.9 0a.9 .9 0 1 0 -1.9 0M449.5 613.8a.8 .8 0 1 0 1.6 0a.8 .8 0 1 0 -1.6 0"/>
<path fill="#b7b7b7" d="M469.7 580a.9 .9 0 1 0 1.9 0a.9 .9 0 1 0 -1.9 0M458.4 600.7a.7 .7 0 1 0 1.4 0a.7 .7 0 1 0 -1.4 0M459.7 622.8a1.2 1.2 0 1 0 2.4 0a1.2 1.2 0 1 0 -2.4 0M457.3 616.5a1.3 1.3 0 1 0 2.6 0a1.3 1.3 0 1 0 -2.6 0M456.4 620.9a1.1 1.1 0 1 0 2.2 0a1.1 1.1 0 1 0 -2.2 0M453.7 608.7a1.2 1.2 0 1 0 2.4 0a1.2 1.2 0 1 0 -2.4 0M453.7 605.8a1.3 1.3 0 1 0 2.7 0a1.3 1.3 0 1 0 -2.7 0M458.4 604.7a.8 .8 0 1 0 1.6 0a.8 .8 0 1 0 -1.6 0M457.7 631a.9 .9 0 1 0 1.8 0a.9 .9 0 1 0 -1.8 0M457.1 631.4a1.1 1.1 0 1 0 2.1 0a1.1 1.1 0 1 0 -2.1 0M458.3 610.4a1.1 1.1 0 1 0 2.3 0a1.1 1.1 0 1 0 -2.3 0M456.3 609.9a1.3 1.3 0 1 0 2.5 0a1.3 1.3 0 1 0 -2.5 0M457.5 611.6a.8 .8 0 1 0 1.6 0a.8 .8 0 1 0 -1.6 0M457.2 608.4a1.1 1.1 0 1 0 2.2 0a1.1 1.1 0 1 0 -2.2 0M454.2 597.1a1.1 1.1 0 1 0 2.3 0a1.1 1.1 0 1 0 -2.3 0M453.5 622.9a1.3 1.3 0 1 0 2.5 0a1.3 1.3 0 1 0 -2.5 0M459 598.6a.8 .8 0 1 0 1.6 0a.8 .8 0 1 0 -1.6 0M456.3 606.2a1 1 0 1 0 1.9 0a1 1 0 1 0 -1.9 0M460.4 601.6a.8 .8 0 1 0 1.6 0a.8 .8 0 1 0 -1.6 0M455.5 614.5a1 1 0 1 0 1.9 0a1 1 0 1 0 -1.9 0M457.9 623.2a1.2 1.2 0 1 0 2.5 0a1.2 1.2 0 1 0 -2.5 0M454.7 615.2a.8 .8 0 1 0 1.5 0a.8 .8 0 1 0 -1.5 0M456.7 600.9a1.1 1.1 0 1 0 2.3 0a1.1 1.1 0 1 0 -2.3 0M458.1 619.5a.9 .9 0 1 0 1.8 0a.9 .9 0 1 0 -1.8 0M455 613.9a.8 .8 0 1 0 1.6 0a.8 .8 0 1 0 -1.6 0M455.8 609.5a1.2 1.2 0 1 0 2.4 0a1.2 1.2 0 1 0 -2.4 0M457.1 616.2a.7 .7 0 1 0 1.4 0a.7 .7 0 1 0 -1.4 0M458.7 608.2a1.2 1.2 0 1 0 2.4 0a1.2 1.2 0 1 0 -2.4 0M454.6 599.7a1.1 1.1 0 1 0 2.3 0a1.1 1.1 0 1 0 -2.3 0M457.9 619.3a1.3 1.3 0 1 0 2.7 0a1.3 1.3 0 1 0 -2.7 0M455.7 616.7a1 1 0 1 0 2 0a1 1 0 1 0 -2 0M458.6 603.9a1.1 1.1 0 1 0 2.1 0a1.1 1.1 0 1 0 -2.1 0M454 611.2a1.4 1.4 0 1 0 2.7 0a1.4 1.4 0 1 0 -2.7 0M460.6 608.3a.9 .9 0 1 0 1.8 0a.9 .9 0 1 0 -1.8 0M455.8 614.1a.8 .8 0 1 0 1.5 0a.8 .8 0 1 0 -1.5 0M457.5 607.2a1.3 1.3 0 1 0 2.5 0a1.3 1.3 0 1 0 -2.5 0"/>
<path fill="#b8b8b8" d="M462.6 597.9a.9 .9 0 1 0 1.7 0a.9 .9 0 1 0 -1.7 0M465.6 630a1.2 1.2 0 1 0 2.4 0a1.2 1.2 0 1 0 -2.4 0M465.5 625a.8 .8 0 1 0 1.5 0a.8 .8 0 1 0 -1.5 0M463.3 622.2a.8 .8 0 1 0 1.6 0a.8 .8 0 1 0 -1.6 0M465.2 597.7a1 1 0 1 0 2 0a1 1 0 1 0 -2 0M461.2 612.7a1.1 1.1 0 1 0 2.2 0a1.1 1.1 0 1 0 -2.2 0M463.3 610a.9 .9 0 1 0 1.7 0a.9 .9 0 1 0 -1.7 0M467.8 626.7a1.2 1.2 0 1 0 2.4 0a1.2 1.2 0 1 0 -2.4 0M461.8 622.8a1 1 0 1 0 1.9 0a1 1 0 1 0 -1.9 0M462.5 627.4a1 1 0 1 0 2 0a1 1 0 1 0 -2 0M460.3 622.3a1.4 1.4 0 1 0 2.7 0a1.4 1.4 0 1 0 -2.7 0M466 612.3a.9 .9 0 1 0 1.8 0a.9 .9 0 1 0 -1.8 0M464.5 602.8a1.3 1.3 0 1 0 2.6 0a1.3 1.3 0 1 0 -2.6 0M466 611.5a.8 .8 0 1 0 1.6 0a.8 .8 0 1 0 -1.6 0M462.8 617.3a1.1 1.1 0 1 0 2.2 0a1.1 1.1 0 1 0 -2.2 0M462.8 602.4a1.2 1.2 0 1 0 2.4 0a1.2 1.2 0 1 0 -2.4 0M461.1 626.1a1 1 0 1 0 2 0a1 1 0 1 0 -2 0M462.8 613.1a.8 .8 0 1 0 1.5 0a.8 .8 0 1 0 -1.5 0M468 633a.8 .8 0 1 0 1.6 0a.8 .8 0 1 0 -1.6 0M460.4 626.7a1.2 1.2 0 1 0 2.5 0a1.2 1.2 0 1 0 -2.5 0M462.5 615.7a.8 .8 0 1 0 1.7 0a.8 .8 0 1 0 -1.7 0M463.1 613.3a1.2 1.2 0 1 0 2.5 0a1.2 1.2 0 1 0 -2.5 0M462.1 596.1a1.2 1.2 0 1 0 2.4 0a1.2 1.2 0 1 0 -2.4 0M465.9 627a1 1 0 1 0 2 0a1 1 0 1 0 -2 0M465.1 606.6a1.3 1.3 0 1 0 2.5 0a1.3 1.3 0 1 0 -2.5 0M465.8 607.7a1.2 1.2 0 1 0 2.5 0a1.2 1.2 0 1 0 -2.5 0M461.4 605.5a.8 .8 0 1 0 1.6 0a.8 .8 0 1 0 -1.6 0M467.4 615.5a1 1 0 1 0 2 0a1 1 0 1 0 -2 0M464.9 619.2a.8 .8 0 1 0 1.7 0a.8 .8 0 1 0 -1.7 0M465.4 622.5a1.2 1.2 0 1 0 2.3 0a1.2 1.2 0 1 0 -2.3 0M462 611.5a.7 .7 0 1 0 1.4 0a.7 .7 0 1 0 -1.4 0M465.7 619.6a1.2 1.2 0 1 0 2.4 0a1.2 1.2 0 1 0 -2.4 0M462.7 603.4a1.2 1.2 0 1 0 2.3 0a1.2 1.2 0 1 0 -2.3 0M465.2 616.2a1.3 1.3 0 1 0 2.6 0a1.3 1.3 0 1 0 -2.6 0M460.8 610.1a1.3 1.3 0 1 0 2.6 0a1.3 1.3 0 1 0 -2.6 0M461.8 607.5a1.2 1.2 0 1 0 2.3 0a1.2 1.2 0 1 0 -2.3 0M460.7 622.4a1 1 0 1 0 1.9 0a1 1 0 1 0 -1.9 0M464.6 618.4a.7 .7 0 1 0 1.4 0a.7 .7 0 1 0 -1.4 0M462.5 618.3a.7 .7 0 1 0 1.5 0a.7 .7 0 1 0 -1.5 0M463.1 619a.8 .8 0 1 0 1.6 0a.8 .8 0 1 0 -1.6 0M464.9 624.3a1 1 0 1 0 1.9 0a1 1 0 1 0 -1.9 0M461.5 630.9a.9 .9 0 1 0 1.8 0a.9 .9 0 1 0 -1.8 0M446.9 621.8a1.2 1.2 0 1 0 2.5 0a1.2 1.2 0 1 0 -2.5 0M453 623a.9 .9 0 1 0 1.8 0a.9 .9 0 1 0 -1.8 0"/>
<path fill="#b9b9b9" d="M471.2 607.7a.7 .7 0 1 0 1.5 0a.7 .7 0 1 0 -1.5 0M471.3 612.2a1.3 1.3 0 1 0 2.6 0a1.3 1.3 0 1 0 -2.6 0M472.9 597.5a1 1 0 1 0 2 0a1 1 0 1 0 -2 0M474 622.5a.8 .8 0 1 0 1.5 0a.8 .8 0 1 0 -1.5 0M471.5 613.9a1.1 1.1 0 1 0 2.1 0a1.1 1.1 0 1 0 -2.1 0M468 611.7a1.3 1.3 0 1 0 2.7 0a1.3 1.3 0 1 0 -2.7 0M471.1 634.3a1.2 1.2 0 1 0 2.4 0a1.2 1.2 0 1 0 -2.4 0M474.5 610a.7 .7 0 1 0 1.5 0a.7 .7 0 1 0 -1.5 0M469.6 616.8a.7 .7 0 1 0 1.4 0a.7 .7 0 1 0 -1.4 0M470.7 620a.9 .9 0 1 0 1.7 0a.9 .9 0 1 0 -1.7 0M473.2 632a1.2 1.2 0 1 0 2.5 0a1.2 1.2 0 1 0 -2.5 0M472.3 607.2a1.2 1.2 0 1 0 2.5 0a1.2 1.2 0 1 0 -2.5 0M475.4 630.5a.8 .8 0 1 0 1.7 0a.8 .8 0 1 0 -1.7 0M473.2 612.9a.8 .8 0 1 0 1.7 0a.8 .8 0 1 0 -1.7 0M469 610.6a1.3 1.3 0 1 0 2.5 0a1.3 1.3 0 1 0 -2.5 0M474.4 609a1.2 1.2 0 1 0 2.4 0a1.2 1.2 0 1 0 -2.4 0M470.9 591.3a1.1 1.1 0 1 0 2.2 0a1.1 1.1 0 1 0 -2.2 0M471.9 624.3a1 1 0 1 0 2 0a1 1 0 1 0 -2 0M471.2 624a1.1 1.1 0 1 0 2.3 0a1.1 1.1 0 1 0 -2.3 0M472.3 608.9a1 1 0 1 0 1.9 0a1 1 0 1 0 -1.9 0M470.1 589a1.1 1.1 0 1 0 2.1 0a1.1 1.1 0 1 0 -2.1 0M471.1 613.9a.8 .8 0 1 0 1.6 0a.8 .8 0 1 0 -1.6 0M471.3 605.4a1.2 1.2 0 1 0 2.4 0a1.2 1.2 0 1 0 -2.4 0M475 609.6a1.2 1.2 0 1 0 2.4 0a1.2 1.2 0 1 0 -2.4 0M471 598.9a.8 .8 0 1 0 1.7 0a.8 .8 0 1 0 -1.7 0M469.3 601.3a1.3 1.3 0 1 0 2.6 0a1.3 1.3 0 1 0 -2.6 0M475 614.1a1.3 1.3 0 1 0 2.6 0a1.3 1.3 0 1 0 -2.6 0M475.3 607.5a.9 .9 0 1 0 1.9 0a.9 .9 0 1 0 -1.9 0M474.8 605.9a1.3 1.3 0 1 0 2.7 0a1.3 1.3 0 1 0 -2.7 0M453.3 623a1 1 0 1 0 1.9 0a1 1 0 1 0 -1.9 0M459.3 631.2a1.4 1.4 0 1 0 2.8 0a1.4 1.4 0 1 0 -2.8 0M454.9 629.5a.8 .8 0 1 0 1.6 0a.8 .8 0 1 0 -1.6 0M454.6 619.5a1.1 1.1 0 1 0 2.3 0a1.1 1.1 0 1 0 -2.3 0M453.4 625a.9 .9 0 1 0 1.8 0a.9 .9 0 1 0 -1.8 0M460 621.5a1.3 1.3 0 1 0 2.6 0a1.3 1.3 0 1 0 -2.6 0M457.1 624.2a1.2 1.2 0 1 0 2.3 0a1.2 1.2 0 1 0 -2.3 0M453.6 625.9a.9 .9 0 1 0 1.8 0a.9 .9 0 1 0 -1.8 0M487.5 562a2 2 0 1 0 4.1 0a2 2 0 1 0 -4.1 0"/>
<path fill="#bababa" d="M480.9 594.1a.9 .9 0 1 0 1.9 0a.9 .9 0 1 0 -1.9 0M476.8 617.9a.7 .7 0 1 0 1.4 0a.7 .7 0 1 0 -1.4 0M479 613.2a1.1 1.1 0 1 0 2.1 0a1.1 1.1 0 1 0 -2.1 0M477.1 626.1a.9 .9 0 1 0 1.8 0a.9 .9 0 1 0 -1.8 0M480.5 591a.7 .7 0 1 0 1.5 0a.7 .7 0 1 0 -1.5 0M480.8 609.1a1.3 1.3 0 1 0 2.5 0a1.3 1.3 0 1 0 -2.5 0M478.1 613a1 1 0 1 0 2 0a1 1 0 1 0 -2 0M483.4 614.2a.7 .7 0 1 0 1.5 0a.7 .7 0 1 0 -1.5 0M476.7 614.1a1.3 1.3 0 1 0 2.7 0a1.3 1.3 0 1 0 -2.7 0M477.3 615.5a1.3 1.3 0 1 0 2.7 0a1.3 1.3 0 1 0 -2.7 0M478.1 616.5a1 1 0 1 0 2.1 0a1 1 0 1 0 -2.1 0M480.5 599.9a1.3 1.3 0 1 0 2.6 0a1.3 1.3 0 1 0 -2.6 0M482.1 633.3a1.2 1.2 0 1 0 2.3 0a1.2 1.2 0 1 0 -2.3 0M476.4 598.9a1 1 0 1 0 2 0a1 1 0 1 0 -2 0M479.8 604.9a1.3 1.3 0 1 0 2.7 0a1.3 1.3 0 1 0 -2.7 0M478.3 618.2a1.1 1.1 0 1 0 2.1 0a1.1 1.1 0 1 0 -2.1 0M480.9 622.8a1 1 0 1 0 2 0a1 1 0 1 0 -2 0M476.9 613.1a1.2 1.2 0 1 0 2.5 0a1.2 1.2 0 1 0 -2.5 0M479.3 633.2a.9 .9 0 1 0 1.9 0a.9 .9 0 1 0 -1.9 0M479.2 607.7a1.1 1.1 0 1 0 2.3 0a1.1 1.1 0 1 0 -2.3 0M480.7 622a1.1 1.1 0 1 0 2.2 0a1.1 1.1 0 1 0 -2.2 0M476.5 616.9a1.1 1.1 0 1 0 2.2 0a1.1 1.1 0 1 0 -2.2 0M479.7 610.9a1 1 0 1 0 1.9 0a1 1 0 1 0 -1.9 0M478.1 615.9a.7 .7 0 1 0 1.5 0a.7 .7 0 1 0 -1.5 0M480 607.4a1 1 0 1 0 1.9 0a1 1 0 1 0 -1.9 0M483.4 617a1 1 0 1 0 2.1 0a1 1 0 1 0 -2.1 0M480 612.9a1.1 1.1 0 1 0 2.3 0a1.1 1.1 0 1 0 -2.3 0M482 618.7a.9 .9 0 1 0 1.8 0a.9 .9 0 1 0 -1.8 0M463.9 628.5a1.4 1.4 0 1 0 2.8 0a1.4 1.4 0 1 0 -2.8 0M462.1 624.3a1.1 1.1 0 1 0 2.2 0a1.1 1.1 0 1 0 -2.2 0M467.6 624a1 1 0 1 0 1.9 0a1 1 0 1 0 -1.9 0M465.3 627.8a1.2 1.2 0 1 0 2.5 0a1.2 1.2 0 1 0 -2.5 0M463 626a.8 .8 0 1 0 1.7 0a.8 .8 0 1 0 -1.7 0M466.4 633a1 1 0 1 0 1.9 0a1 1 0 1 0 -1.9 0M464.6 625.2a1.3 1.3 0 1 0 2.7 0a1.3 1.3 0 1 0 -2.7 0M464 625.9a.9 .9 0 1 0 1.8 0a.9 .9 0 1 0 -1.8 0M466 625.2a1.4 1.4 0 1 0 2.7 0a1.4 1.4 0 1 0 -2.7 0M462.5 626.7a.9 .9 0 1 0 1.8 0a.9 .9 0 1 0 -1.8 0M460.8 618.5a1.2 1.2 0 1 0 2.5 0a1.2 1.2 0 1 0 -2.5 0M460.7 621.7a1.4 1.4 0 1 0 2.9 0a1.4 1.4 0 1 0 -2.9 0M465.7 631.4a1.3 1.3 0 1 0 2.6 0a1.3 1.3 0 1 0 -2.6 0M491.6 566a1.4 1.4 0 1 0 2.7 0a1.4 1.4 0 1 0 -2.7 0"/>
<path fill="#bbbbbb" d="M489.3 606.8a1 1 0 1 0 2 0a1 1 0 1 0 -2 0M485.6 617.6a.8 .8 0 1 0 1.6 0a.8 .8 0 1 0 -1.6 0M485.3 615a1.3 1.3 0 1 0 2.5 0a1.3 1.3 0 1 0 -2.5 0M468.1 628.1a1.4 1.4 0 1 0 2.8 0a1.4 1.4 0 1 0 -2.8 0M471.4 620.5a.9 .9 0 1 0 1.7 0a.9 .9 0 1 0 -1.7 0M475.3 619.4a1.3 1.3 0 1 0 2.6 0a1.3 1.3 0 1 0 -2.6 0M473.6 627.3a1 1 0 1 0 2.1 0a1 1 0 1 0 -2.1 0M474.9 629.8a1.2 1.2 0 1 0 2.4 0a1.2 1.2 0 1 0 -2.4 0M474.5 627.5a1.4 1.4 0 1 0 2.8 0a1.4 1.4 0 1 0 -2.8 0M473.6 626.5a.9 .9 0 1 0 1.7 0a.9 .9 0 1 0 -1.7 0M468.3 623.8a1.1 1.1 0 1 0 2.1 0a1.1 1.1 0 1 0 -2.1 0M475.3 629.7a1.3 1.3 0 1 0 2.6 0a1.3 1.3 0 1 0 -2.6 0M471.6 623.4a1.3 1.3 0 1 0 2.6 0a1.3 1.3 0 1 0 -2.6 0M469.2 627.6a1.4 1.4 0 1 0 2.8 0a1.4 1.4 0 1 0 -2.8 0M468.9 626.9a.9 .9 0 1 0 1.7 0a.9 .9 0 1 0 -1.7 0M474.6 626.5a1 1 0 1 0 2 0a1 1 0 1 0 -2 0"/>
<path fill="#bcbcbc" d="M492.5 602.2a1.3 1.3 0 1 0 2.6 0a1.3 1.3 0 1 0 -2.6 0M491.4 620.2a1 1 0 1 0 1.9 0a1 1 0 1 0 -1.9 0M492.2 612a1.3 1.3 0 1 0 2.5 0a1.3 1.3 0 1 0 -2.5 0M496.5 610.3a.8 .8 0 1 0 1.6 0a.8 .8 0 1 0 -1.6 0M493.6 606.1a1.2 1.2 0 1 0 2.5 0a1.2 1.2 0 1 0 -2.5 0M495.1 617.4a1.3 1.3 0 1 0 2.6 0a1.3 1.3 0 1 0 -2.6 0M496.2 621.8a1.3 1.3 0 1 0 2.6 0a1.3 1.3 0 1 0 -2.6 0M493.3 607.6a1.2 1.2 0 1 0 2.3 0a1.2 1.2 0 1 0 -2.3 0M478.3 627.3a.8 .8 0 1 0 1.7 0a.8 .8 0 1 0 -1.7 0M483.1 621.4a1.2 1.2 0 1 0 2.4 0a1.2 1.2 0 1 0 -2.4 0M481.1 619.4a1.3 1.3 0 1 0 2.5 0a1.3 1.3 0 1 0 -2.5 0M480 624.6a1.3 1.3 0 1 0 2.7 0a1.3 1.3 0 1 0 -2.7 0M482.4 625.4a1 1 0 1 0 2 0a1 1 0 1 0 -2 0M477.9 630.2a1 1 0 1 0 2 0a1 1 0 1 0 -2 0M477.3 624.3a1.2 1.2 0 1 0 2.5 0a1.2 1.2 0 1 0 -2.5 0M476.3 629.6a1.3 1.3 0 1 0 2.5 0a1.3 1.3 0 1 0 -2.5 0M481.8 619.4a1.1 1.1 0 1 0 2.3 0a1.1 1.1 0 1 0 -2.3 0M478.9 628.1a.8 .8 0 1 0 1.5 0a.8 .8 0 1 0 -1.5 0M479.2 624.2a.9 .9 0 1 0 1.7 0a.9 .9 0 1 0 -1.7 0"/>
<path fill="#bdbdbd" d="M486 623.2a.8 .8 0 1 0 1.7 0a.8 .8 0 1 0 -1.7 0M489.5 625.6a1 1 0 1 0 1.9 0a1 1 0 1 0 -1.9 0M486.8 626.7a1.1 1.1 0 1 0 2.1 0a1.1 1.1 0 1 0 -2.1 0"/>
</g></g>
<text transform="translate(35.91,477.50) scale(1.279,1)" font-size="10.14" stroke="#111" stroke-width="0.18" fill="#111">liquid</text>
<text transform="translate(291.71,478.70) scale(1.039,1)" font-size="12.36" stroke="#111" stroke-width="0.18" fill="#111">2% MC</text>
<line x1="32.70" y1="624.80" x2="54.70" y2="624.80" stroke="#111" stroke-width="2.2"/>
<line x1="381.80" y1="624.70" x2="403.20" y2="624.70" stroke="#111" stroke-width="2.2"/>
</svg>
<div class="frame"></div>
</body></html>
